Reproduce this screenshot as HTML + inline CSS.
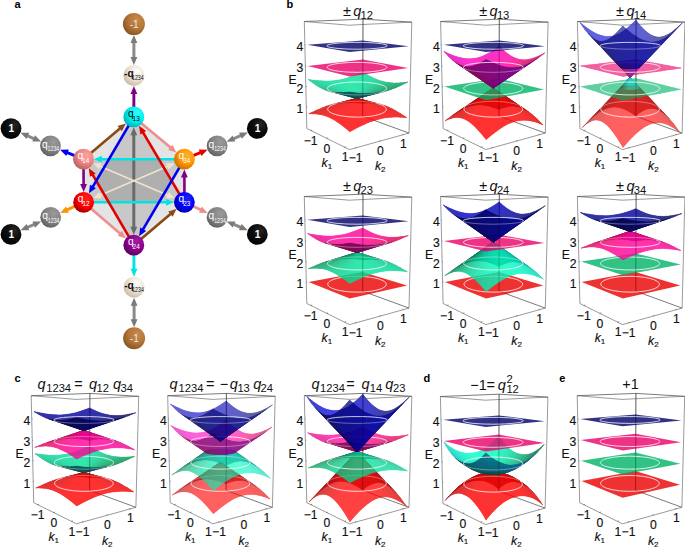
<!DOCTYPE html><html><head><meta charset="utf-8"><style>
html,body{margin:0;padding:0;background:#fff;}
svg{display:block;}
text{font-family:"Liberation Sans",sans-serif;}
.t{font-size:12.2px;fill:#111;stroke:#111;stroke-width:.15;}
.i{font-style:italic;}
.sb{font-size:8px;}
.tt{font-size:14.5px;fill:#111;}
.ts{font-size:11.2px;fill:#111;}
.pl{font-size:11px;font-weight:bold;fill:#000;}
.bl{font-size:10.2px;}
.bb{font-weight:bold;}
.bs{font-size:6.4px;}
.c{fill:none;stroke:#fff;stroke-width:.8;}
.bx{fill:none;stroke:#555;stroke-width:.6;}
.bk{fill:none;stroke:#222;stroke-width:.6;}
.vl{fill:none;stroke:#000;stroke-width:.6;stroke-opacity:.3;}
</style></head><body><svg width="685" height="547" viewBox="0 0 685 547">
<defs><radialGradient id="gBr" cx="0.62" cy="0.36" r="0.78" fx="0.66" fy="0.3"><stop offset="0" stop-color="#c88a4c"/><stop offset="0.5" stop-color="#b47638"/><stop offset="1" stop-color="#7a4a1c"/></radialGradient><radialGradient id="gBe" cx="0.62" cy="0.36" r="0.78" fx="0.66" fy="0.3"><stop offset="0" stop-color="#ffffff"/><stop offset="0.5" stop-color="#ebe3d6"/><stop offset="1" stop-color="#bfae94"/></radialGradient><radialGradient id="gCy" cx="0.62" cy="0.36" r="0.78" fx="0.66" fy="0.3"><stop offset="0" stop-color="#30ffff"/><stop offset="0.5" stop-color="#00eeee"/><stop offset="1" stop-color="#00a0a8"/></radialGradient><radialGradient id="gSa" cx="0.62" cy="0.36" r="0.78" fx="0.66" fy="0.3"><stop offset="0" stop-color="#ffa0a0"/><stop offset="0.5" stop-color="#ee8484"/><stop offset="1" stop-color="#a85252"/></radialGradient><radialGradient id="gOr" cx="0.62" cy="0.36" r="0.78" fx="0.66" fy="0.3"><stop offset="0" stop-color="#ffb030"/><stop offset="0.5" stop-color="#ff9600"/><stop offset="1" stop-color="#b86000"/></radialGradient><radialGradient id="gRe" cx="0.62" cy="0.36" r="0.78" fx="0.66" fy="0.3"><stop offset="0" stop-color="#ff2020"/><stop offset="0.5" stop-color="#ff0000"/><stop offset="1" stop-color="#8a0000"/></radialGradient><radialGradient id="gBl" cx="0.62" cy="0.36" r="0.78" fx="0.66" fy="0.3"><stop offset="0" stop-color="#2020ff"/><stop offset="0.5" stop-color="#0000ff"/><stop offset="1" stop-color="#00008a"/></radialGradient><radialGradient id="gPu" cx="0.62" cy="0.36" r="0.78" fx="0.66" fy="0.3"><stop offset="0" stop-color="#a020a0"/><stop offset="0.5" stop-color="#8c008c"/><stop offset="1" stop-color="#4e004e"/></radialGradient><radialGradient id="gGr" cx="0.62" cy="0.36" r="0.78" fx="0.66" fy="0.3"><stop offset="0" stop-color="#9a9a9a"/><stop offset="0.5" stop-color="#848484"/><stop offset="1" stop-color="#555555"/></radialGradient><radialGradient id="gBk" cx="0.62" cy="0.36" r="0.78" fx="0.66" fy="0.3"><stop offset="0" stop-color="#262626"/><stop offset="0.5" stop-color="#0c0c0c"/><stop offset="1" stop-color="#000000"/></radialGradient><linearGradient id="gg" x1="0" y1="0" x2="1" y2="1"><stop offset="0" stop-color="#aaa"/><stop offset="1" stop-color="#666"/></linearGradient></defs>
<rect width="685" height="547" fill="#fff"/>
<path d="M133.8 116.9L184.4 159.2L184.4 202.3L133.8 245.2L83.6 202.3L83.5 159.2Z" fill="#e4e4e4"/>
<path d="M133.8 116.9L83.6 202.3L184.4 202.3Z" fill="#000" fill-opacity=".12"/>
<path d="M133.8 245.2L83.5 159.2L184.4 159.2Z" fill="#000" fill-opacity=".12"/>
<path d="M133.8 134.3L133.8 227.8" stroke="#6a6a6a" stroke-width="3.0"/><path d="M133.8 234.8L130.4 226.8L137.2 226.8Z" fill="#6a6a6a"/><path d="M133.8 127.3L137.2 135.3L130.4 135.3Z" fill="#6a6a6a"/>
<path d="M99.5 166L168.4 195.5" stroke="#eee3cc" stroke-width="1.8"/><path d="M174.8 198.2L166.1 198.2L168.8 191.9Z" fill="#eee3cc"/><path d="M93.1 163.3L101.8 163.3L99.1 169.6Z" fill="#eee3cc"/>
<path d="M168.4 166L99.6 195.5" stroke="#eee3cc" stroke-width="1.8"/><path d="M93.2 198.2L99.2 191.9L101.9 198.2Z" fill="#eee3cc"/><path d="M174.8 163.3L168.8 169.6L166.1 163.3Z" fill="#eee3cc"/>
<path d="M184.4 159.2L100.9 159.2" stroke="#00e4e4" stroke-width="2.6"/><path d="M93.9 159.2L101.9 155.8L101.9 162.6Z" fill="#00e4e4"/>
<path d="M83.6 202.3L167 202.3" stroke="#00e4e4" stroke-width="2.6"/><path d="M174 202.3L166 205.7L166 198.9Z" fill="#00e4e4"/>
<path d="M133.8 245.2L92.3 174.2" stroke="#e00000" stroke-width="2.6"/><path d="M88.8 168.2L95.7 173.4L89.9 176.8Z" fill="#e00000"/>
<path d="M184.4 202.3L142.7 131.9" stroke="#e00000" stroke-width="2.6"/><path d="M139.1 125.8L146.1 131L140.3 134.5Z" fill="#e00000"/>
<path d="M133.8 116.9L92.4 187.3" stroke="#0000f0" stroke-width="2.6"/><path d="M88.9 193.3L90 184.7L95.9 188.2Z" fill="#0000f0"/>
<path d="M184.4 159.2L142.6 230.2" stroke="#0000f0" stroke-width="2.6"/><path d="M139.1 236.2L140.2 227.6L146.1 231.1Z" fill="#0000f0"/>
<path d="M83.5 159.2L120.5 128.1" stroke="#8b4a14" stroke-width="2.6"/><path d="M125.8 123.6L121.9 131.3L117.5 126.1Z" fill="#8b4a14"/>
<path d="M133.8 245.2L171.1 213.6" stroke="#8b4a14" stroke-width="2.6"/><path d="M176.5 209L172.6 216.8L168.2 211.6Z" fill="#8b4a14"/>
<path d="M133.8 116.9L171.1 148" stroke="#ef8e8e" stroke-width="2.6"/><path d="M176.4 152.5L168.1 150L172.5 144.8Z" fill="#ef8e8e"/>
<path d="M83.6 202.3L120.6 233.9" stroke="#ef8e8e" stroke-width="2.6"/><path d="M125.9 238.4L117.6 235.8L122 230.7Z" fill="#ef8e8e"/>
<path d="M83.5 159.2L83.6 184.9" stroke="#820082" stroke-width="2.6"/><path d="M83.6 191.9L80.2 183.9L87 183.9Z" fill="#820082"/>
<path d="M184.4 202.3L184.4 176.6" stroke="#820082" stroke-width="2.6"/><path d="M184.4 169.6L187.8 177.6L181 177.6Z" fill="#820082"/>
<path d="M133.8 116.9L133.9 93" stroke="#820082" stroke-width="2.9"/><path d="M133.9 86L137.3 94L130.5 94Z" fill="#820082"/>
<path d="M133.8 245.2L134 269.7" stroke="#00e4e4" stroke-width="2.9"/><path d="M134 276.7L130.6 268.7L137.4 268.7Z" fill="#00e4e4"/>
<path d="M83.5 159.2L66.6 152.3" stroke="#0000f0" stroke-width="2.9"/><path d="M60.1 149.7L68.8 149.6L66.3 155.9Z" fill="#0000f0"/>
<path d="M83.6 202.3L66.5 210.1" stroke="#f89800" stroke-width="2.9"/><path d="M60.2 213L66 206.6L68.9 212.8Z" fill="#f89800"/>
<path d="M184.4 159.2L201 152.4" stroke="#e00000" stroke-width="2.9"/><path d="M207.5 149.7L201.4 155.9L198.8 149.6Z" fill="#e00000"/>
<path d="M184.4 202.3L201.3 210" stroke="#ef8e8e" stroke-width="2.9"/><path d="M207.6 213L199 212.7L201.8 206.5Z" fill="#ef8e8e"/>
<path d="M133.9 59L133.9 41.1" stroke="#8a8a8a" stroke-width="3"/><path d="M133.9 35.1L137.3 43.1L130.5 43.1Z" fill="#7a7a7a"/><path d="M133.9 65L130.5 57L137.3 57Z" fill="#7a7a7a"/>
<path d="M134.1 303.7L134.1 321.2" stroke="#8a8a8a" stroke-width="3"/><path d="M134.1 327.2L130.7 319.2L137.5 319.2Z" fill="#7a7a7a"/><path d="M134.1 297.7L137.5 305.7L130.7 305.7Z" fill="#7a7a7a"/>
<path d="M35.5 139.3L26 135.1" stroke="#8a8a8a" stroke-width="3"/><path d="M20.5 132.8L29.2 132.8L26.5 139.1Z" fill="#7a7a7a"/><path d="M41 141.6L32.3 141.6L35 135.3Z" fill="#7a7a7a"/>
<path d="M35.6 223.8L26.1 227.9" stroke="#8a8a8a" stroke-width="3"/><path d="M20.6 230.3L26.6 224L29.2 230.2Z" fill="#7a7a7a"/><path d="M41.1 221.4L35.1 227.7L32.5 221.5Z" fill="#7a7a7a"/>
<path d="M232.2 139.3L242.2 134.9" stroke="#8a8a8a" stroke-width="3"/><path d="M247.8 132.5L241.8 138.8L239.1 132.6Z" fill="#7a7a7a"/><path d="M226.6 141.7L232.6 135.4L235.3 141.6Z" fill="#7a7a7a"/>
<path d="M232.2 223.7L242.2 228" stroke="#8a8a8a" stroke-width="3"/><path d="M247.7 230.3L239 230.3L241.7 224.1Z" fill="#7a7a7a"/><path d="M226.7 221.4L235.4 221.4L232.7 227.6Z" fill="#7a7a7a"/>
<circle cx="133.9" cy="24.1" r="11" fill="url(#gBr)"/>
<text x="134.2" y="27.6" fill="#f0e8dc" class="bl" text-anchor="middle">-1</text>
<circle cx="134.1" cy="338.2" r="11" fill="url(#gBr)"/>
<text x="134.4" y="341.7" fill="#f0e8dc" class="bl" text-anchor="middle">-1</text>
<circle cx="133.9" cy="75.5" r="10.5" fill="url(#gBe)"/>
<text x="124" y="76.9" fill="#111" class="bl bb">-q</text>
<text transform="translate(132 80.1) scale(.82 1)" fill="#111" class="bs">1234</text>
<circle cx="134.1" cy="287.2" r="10.5" fill="url(#gBe)"/>
<text x="124.2" y="288.6" fill="#111" class="bl bb">-q</text>
<text transform="translate(132.2 291.8) scale(.82 1)" fill="#111" class="bs">1234</text>
<circle cx="133.8" cy="116.9" r="10.4" fill="url(#gCy)"/>
<text x="127.9" y="117" fill="#000" class="bl">q</text>
<text x="132.6" y="120.9" fill="#000" class="bs">13</text>
<circle cx="83.5" cy="159.2" r="10.4" fill="url(#gSa)"/>
<text x="77.6" y="159.3" fill="#fff" class="bl">q</text>
<text x="82.3" y="163.2" fill="#fff" class="bs">14</text>
<circle cx="184.4" cy="159.2" r="10.4" fill="url(#gOr)"/>
<text x="178.5" y="159.3" fill="#fff" class="bl">q</text>
<text x="183.2" y="163.2" fill="#fff" class="bs">34</text>
<circle cx="83.6" cy="202.3" r="10.4" fill="url(#gRe)"/>
<text x="77.7" y="202.4" fill="#fff" class="bl">q</text>
<text x="82.4" y="206.3" fill="#fff" class="bs">12</text>
<circle cx="184.4" cy="202.3" r="10.4" fill="url(#gBl)"/>
<text x="178.5" y="202.4" fill="#fff" class="bl">q</text>
<text x="183.2" y="206.3" fill="#fff" class="bs">23</text>
<circle cx="133.8" cy="245.2" r="10.4" fill="url(#gPu)"/>
<text x="127.9" y="245.3" fill="#fff" class="bl">q</text>
<text x="132.6" y="249.2" fill="#fff" class="bs">24</text>
<circle cx="50.5" cy="145.8" r="10.4" fill="url(#gGr)"/>
<text x="42" y="147.8" fill="#fff" class="bl">q</text>
<text transform="translate(47.6 151.3) scale(.82 1)" fill="#fff" class="bs">1234</text>
<circle cx="50.7" cy="217.3" r="10.4" fill="url(#gGr)"/>
<text x="42.2" y="219.3" fill="#fff" class="bl">q</text>
<text transform="translate(47.8 222.8) scale(.82 1)" fill="#fff" class="bs">1234</text>
<circle cx="217.1" cy="145.8" r="10.4" fill="url(#gGr)"/>
<text x="208.6" y="147.8" fill="#fff" class="bl">q</text>
<text transform="translate(214.2 151.3) scale(.82 1)" fill="#fff" class="bs">1234</text>
<circle cx="217.1" cy="217.3" r="10.4" fill="url(#gGr)"/>
<text x="208.6" y="219.3" fill="#fff" class="bl">q</text>
<text transform="translate(214.2 222.8) scale(.82 1)" fill="#fff" class="bs">1234</text>
<circle cx="11" cy="128.6" r="10.4" fill="url(#gBk)"/>
<text x="11.3" y="132.1" fill="#fff" class="bl bb" text-anchor="middle">1</text>
<circle cx="11" cy="234.4" r="10.4" fill="url(#gBk)"/>
<text x="11.3" y="237.9" fill="#fff" class="bl bb" text-anchor="middle">1</text>
<circle cx="257.3" cy="128.4" r="10.4" fill="url(#gBk)"/>
<text x="257.6" y="131.9" fill="#fff" class="bl bb" text-anchor="middle">1</text>
<circle cx="257.3" cy="234.4" r="10.4" fill="url(#gBk)"/>
<text x="257.6" y="237.9" fill="#fff" class="bl bb" text-anchor="middle">1</text>
<g>
<path d="M363 19.2L362.7 116.2M409 133.1L362.7 116.2M304.3 21.5L363 19.2M363 19.2L411.8 22.1" class="bk"/>
<g opacity="0.80" stroke-width=".35" stroke-linejoin="round"><path d="M333.3 104.3L333.3 104.3L336.9 103.5L336.9 103.5L340.4 103L340.4 103L344 102.6L344 102.6L347.8 102.4L347.8 102.4L352 102.4L352 102.4L356.8 102.7L356.8 102.7L362.5 103.2L362.5 103.2L362.5 103.2L362.5 103.2L367.1 103L367.1 103L371 103.1L371 103.1L374.3 103.3L374.3 103.3L377.4 103.8L377.5 103.8L380.4 104.4L380.4 104.4L380.4 104.4L357 98.4L357 98.4L357 98.4L333.3 104.3Z" fill="#660000" fill-rule="evenodd"/><path d="M357 98.4L362.5 103.2L362.5 103.2L356.8 102.7Z" fill="#660000" stroke="#660000"/><path d="M357 98.4L367.1 103L362.5 103.2Z" fill="#660000" stroke="#660000"/><path d="M357 98.4L356.8 102.7L352 102.4Z" fill="#660000" stroke="#660000"/><path d="M357 98.4L371 103.1L367.1 103Z" fill="#660000" stroke="#660000"/><path d="M357 98.4L352 102.4L347.8 102.4Z" fill="#660000" stroke="#660000"/><path d="M357 98.4L347.8 102.4L344 102.6Z" fill="#660000" stroke="#660000"/><path d="M357 98.4L374.3 103.3L371 103.1Z" fill="#660000" stroke="#660000"/><path d="M357 98.4L344 102.6L340.4 103Z" fill="#660000" stroke="#660000"/><path d="M357 98.4L377.4 103.8L374.3 103.3Z" fill="#660000" stroke="#660000"/><path d="M357 98.4L340.4 103L336.9 103.5Z" fill="#660000" stroke="#660000"/><path d="M357 98.4L336.9 103.5L333.3 104.3Z" fill="#660000" stroke="#660000"/><path d="M357 98.4L380.4 104.4L377.4 103.8Z" fill="#660000" stroke="#660000"/></g>
<g opacity="0.80" stroke-width=".35" stroke-linejoin="round"><path d="M308.8 113.8L308.8 113.8L308.8 113.8L312.9 113.8L312.9 113.8L316.4 114L316.4 114L319.5 114.4L319.5 114.4L322.4 115L322.4 115L325.1 115.8L325.1 115.8L327.7 116.8L327.7 116.8L330.5 118L330.5 118L333.3 119.6L333.3 119.6L336.5 121.5L336.5 121.5L340.1 124L340.1 124L344.4 127.2L344.4 127.2L349.8 131.7L349.8 131.7L349.8 131.7L349.9 131.7L357.2 127.8L357.2 127.8L363 125L363 125L367.9 122.8L367.9 122.8L372.2 121.2L372.2 121.2L376.2 119.9L376.2 119.9L380 118.9L380 118.9L383.7 118.1L383.7 118.1L387.5 117.6L387.5 117.6L391.5 117.2L391.5 117.2L395.9 117.1L395.9 117.1L400.9 117.2L400.9 117.2L406.9 117.7L406.9 117.7L406.9 117.7L406.9 117.7L401.1 113.9L401.1 113.9L396.5 111.2L396.5 111.2L392.7 109.1L392.7 109.1L392.7 109.1L389.3 107.5L389.3 107.5L389.3 107.5L386.2 106.2L386.2 106.2L386.2 106.2L383.3 105.2L383.3 105.2L383.3 105.2L380.4 104.4L380.4 104.4L357 98.4L357 98.4L357 98.4L357 98.4L357 98.4L357 98.4L333.3 104.3L333.3 104.3L329.6 105.3L329.6 105.3L329.6 105.3L325.5 106.6L325.5 106.6L321 108.4L321 108.4L321 108.4L315.5 110.7L315.5 110.7L315.5 110.7L308.8 113.8L308.8 113.8Z" fill="#ec0000" fill-rule="evenodd"/><path d="M357 98.4L333.3 104.3L329.6 105.3Z" fill="#c70000" stroke="#c70000"/><path d="M357 98.4L383.3 105.2L380.4 104.4Z" fill="#cf0000" stroke="#cf0000"/><path d="M357 98.4L329.6 105.3L325.5 106.6Z" fill="#cb0000" stroke="#cb0000"/><path d="M357 98.4L386.2 106.2L383.3 105.2Z" fill="#d30000" stroke="#d30000"/><path d="M357 98.4L325.5 106.6L321 108.4Z" fill="#ce0000" stroke="#ce0000"/><path d="M357 98.4L389.3 107.5L386.2 106.2Z" fill="#d70000" stroke="#d70000"/><path d="M357 98.4L321 108.4L315.5 110.7Z" fill="#d30000" stroke="#d30000"/><path d="M357 98.4L392.7 109.1L389.3 107.5Z" fill="#dc0000" stroke="#dc0000"/><path d="M357 98.4L315.5 110.7L308.8 113.8Z" fill="#d70000" stroke="#d70000"/><path d="M357 98.4L396.5 111.2L392.7 109.1Z" fill="#e10000" stroke="#e10000"/><path d="M357 98.4L308.8 113.8L308.8 113.8L312.9 113.8Z" fill="#dc0000" stroke="#dc0000"/><path d="M357 98.4L401.1 113.9L396.5 111.2Z" fill="#e60000" stroke="#e60000"/><path d="M357 98.4L312.9 113.8L316.4 114Z" fill="#e00000" stroke="#e00000"/><path d="M357 98.4L406.9 117.7L406.9 117.7L401.1 113.9Z" fill="#ea0000" stroke="#ea0000"/><path d="M357 98.4L316.4 114L319.5 114.4Z" fill="#e50000" stroke="#e50000"/><path d="M357 98.4L400.9 117.2L406.9 117.7Z" fill="#ef0000" stroke="#ef0000"/><path d="M357 98.4L319.5 114.4L322.4 115Z" fill="#ea0000" stroke="#ea0000"/><path d="M357 98.4L395.9 117.1L400.9 117.2Z" fill="#f30000" stroke="#f30000"/><path d="M357 98.4L322.4 115L325.1 115.8Z" fill="#ef0000" stroke="#ef0000"/><path d="M357 98.4L391.5 117.2L395.9 117.1Z" fill="#f80000" stroke="#f80000"/><path d="M357 98.4L325.1 115.8L327.7 116.8Z" fill="#f30000" stroke="#f30000"/><path d="M357 98.4L387.5 117.6L391.5 117.2Z" fill="#fb0000" stroke="#fb0000"/><path d="M357 98.4L327.7 116.8L330.5 118Z" fill="#f70000" stroke="#f70000"/><path d="M357 98.4L383.7 118.1L387.5 117.6Z" fill="#ff0000" stroke="#ff0000"/><path d="M357 98.4L330.5 118L333.3 119.6Z" fill="#fb0000" stroke="#fb0000"/><path d="M357 98.4L380 118.9L383.7 118.1Z" fill="#ff0000" stroke="#ff0000"/><path d="M357 98.4L376.2 119.9L380 118.9Z" fill="#ff0000" stroke="#ff0000"/><path d="M357 98.4L333.3 119.6L336.5 121.5Z" fill="#fe0000" stroke="#fe0000"/><path d="M357 98.4L372.2 121.2L376.2 119.9Z" fill="#ff0000" stroke="#ff0000"/><path d="M357 98.4L336.5 121.5L340.1 124Z" fill="#ff0000" stroke="#ff0000"/><path d="M357 98.4L367.9 122.8L372.2 121.2Z" fill="#ff0000" stroke="#ff0000"/><path d="M357 98.4L363 125L367.9 122.8Z" fill="#ff0000" stroke="#ff0000"/><path d="M357 98.4L340.1 124L344.4 127.2Z" fill="#ff0000" stroke="#ff0000"/><path d="M357 98.4L357.2 127.8L363 125Z" fill="#ff0000" stroke="#ff0000"/><path d="M357 98.4L344.4 127.2L349.8 131.7Z" fill="#ff0000" stroke="#ff0000"/><path d="M357 98.4L349.8 131.7L349.8 131.7L357.2 127.8Z" fill="#ff0000" stroke="#ff0000"/></g>
<path d="M376.5 103.4L375.1 103.1L373.7 102.8L372.2 102.5L370.6 102.3L369 102L367.3 101.9L365.6 101.7L363.9 101.6L362.1 101.5L360.4 101.4L358.6 101.3L356.8 101.3L355 101.3L353.3 101.4L351.5 101.4L349.8 101.5L348 101.7L346.4 101.8L344.7 102L343.1 102.2L341.5 102.5L340 102.7L338.6 103L337.2 103.3L335.9 103.7" class="c" stroke-opacity=".45"/>
<path d="M375.9 115.3L377.4 114.9L378.8 114.5L380.1 114.1L381.3 113.7L382.4 113.2L383.3 112.8L384.1 112.3L384.8 111.8L385.4 111.3L385.8 110.8L386.1 110.2L386.2 109.7L386.3 109.2L386.2 108.7L386 108.2L385.7 107.7L385.2 107.2L384.7 106.7L384 106.2L383.2 105.8L382.3 105.3L381.3 104.9L380.3 104.5L379.1 104.1L377.9 103.7L376.5 103.4M335.9 103.7L334.7 104L333.5 104.4L332.5 104.8L331.5 105.2L330.7 105.7L329.9 106.1L329.2 106.6L328.7 107.1L328.3 107.6L327.9 108.1L327.8 108.6L327.7 109.1L327.8 109.6L327.9 110.1L328.3 110.7L328.7 111.2L329.3 111.7L330 112.2L330.8 112.7L331.7 113.1L332.8 113.6L334 114L335.3 114.4L336.7 114.8L338.2 115.2L339.8 115.5L341.5 115.9L343.3 116.1L345.1 116.4L347 116.6L349 116.8L350.9 116.9L353 117L355 117.1L357.1 117.1L359.1 117.1L361.2 117L363.2 116.9L365.2 116.8L367.2 116.6L369.1 116.4L370.9 116.2L372.7 115.9L374.3 115.6L375.9 115.3" class="c"/>
<g opacity="0.80" stroke-width=".35" stroke-linejoin="round"><path d="M308 79.4L312.3 82.6L312.3 82.6L315.9 85.1L315.9 85.1L315.9 85.1L315.9 85.1L319.1 87L319.1 87L319.1 87L322 88.5L322 88.5L322 88.5L322 88.5L324.7 89.8L324.7 89.8L324.7 89.8L327.4 90.7L327.4 90.7L327.4 90.7L327.4 90.7L330.2 91.5L330.2 91.5L357 98.4L357 98.4L357 98.4L357 98.4L357 98.4L384.1 91.5L384.1 91.5L387.9 90.5L387.9 90.5L387.9 90.5L392 89.1L392 89.1L392 89.1L396.5 87.4L396.5 87.4L396.5 87.4L401.6 85.1L401.6 85.1L401.6 85.1L407.8 82.1L407.8 82.1L407.8 82.1L401.8 82.7L401.8 82.7L397.1 82.9L397.1 82.9L393.2 82.9L393.2 82.9L389.7 82.6L389.7 82.6L386.6 82.2L386.6 82.2L383.6 81.6L383.6 81.6L380.7 80.8L380.7 80.8L377.7 79.7L377.7 79.7L374.6 78.4L374.6 78.4L371.2 76.8L371.2 76.8L367.3 74.7L367.3 74.7L362.6 71.9L362.6 71.9L362.6 71.9L362.6 71.9L362.6 71.9L356.8 74.4L356.8 74.4L351.9 76.3L351.9 76.3L347.7 77.8L347.7 77.8L343.9 78.9L343.9 78.9L340.2 79.7L340.2 79.7L336.7 80.3L336.7 80.3L333.1 80.8L333.1 80.8L329.3 81L329.3 81L325.2 81L325.2 81L320.5 80.8L320.5 80.8L315 80.3L315 80.3L308 79.4L308 79.4L308 79.4L308 79.4Z" fill="#00bf7d" fill-rule="evenodd"/><path d="M357 98.4L362.6 71.9L362.6 71.9L356.8 74.4Z" fill="#00e199" stroke="#00e199"/><path d="M357 98.4L367.3 74.7L362.6 71.9Z" fill="#00de96" stroke="#00de96"/><path d="M357 98.4L356.8 74.4L351.9 76.3Z" fill="#00e39a" stroke="#00e39a"/><path d="M357 98.4L371.2 76.8L367.3 74.7Z" fill="#00da93" stroke="#00da93"/><path d="M357 98.4L351.9 76.3L347.7 77.8Z" fill="#00e49b" stroke="#00e49b"/><path d="M357 98.4L347.7 77.8L343.9 78.9Z" fill="#00e49b" stroke="#00e49b"/><path d="M357 98.4L374.6 78.4L371.2 76.8Z" fill="#00d58f" stroke="#00d58f"/><path d="M357 98.4L343.9 78.9L340.2 79.7Z" fill="#00e399" stroke="#00e399"/><path d="M357 98.4L377.7 79.7L374.6 78.4Z" fill="#00d08a" stroke="#00d08a"/><path d="M357 98.4L340.2 79.7L336.7 80.3Z" fill="#00e297" stroke="#00e297"/><path d="M357 98.4L336.7 80.3L333.1 80.8Z" fill="#00e099" stroke="#00e099"/><path d="M357 98.4L380.7 80.8L377.7 79.7Z" fill="#00ca84" stroke="#00ca84"/><path d="M357 98.4L333.1 80.8L329.3 81Z" fill="#00df9a" stroke="#00df9a"/><path d="M357 98.4L383.6 81.6L380.7 80.8Z" fill="#00c37e" stroke="#00c37e"/><path d="M357 98.4L329.3 81L325.2 81Z" fill="#00dc9a" stroke="#00dc9a"/><path d="M357 98.4L386.6 82.2L383.6 81.6Z" fill="#00bc78" stroke="#00bc78"/><path d="M357 98.4L325.2 81L320.5 80.8Z" fill="#00d899" stroke="#00d899"/><path d="M357 98.4L389.7 82.6L386.6 82.2Z" fill="#00b571" stroke="#00b571"/><path d="M357 98.4L320.5 80.8L315 80.3Z" fill="#00d496" stroke="#00d496"/><path d="M357 98.4L393.2 82.9L389.7 82.6Z" fill="#00ae6a" stroke="#00ae6a"/><path d="M357 98.4L315 80.3L308 79.4Z" fill="#00ce93" stroke="#00ce93"/><path d="M357 98.4L397.1 82.9L393.2 82.9Z" fill="#00a663" stroke="#00a663"/><path d="M357 98.4L308 79.4L308 79.4L312.3 82.6Z" fill="#00c88e" stroke="#00c88e"/><path d="M357 98.4L401.8 82.7L397.1 82.9Z" fill="#009f5c" stroke="#009f5c"/><path d="M357 98.4L312.3 82.6L315.9 85.1Z" fill="#00c289" stroke="#00c289"/><path d="M357 98.4L407.8 82.1L407.8 82.1L401.8 82.7Z" fill="#009855" stroke="#009855"/><path d="M357 98.4L315.9 85.1L319.1 87Z" fill="#00bb83" stroke="#00bb83"/><path d="M357 98.4L401.6 85.1L407.8 82.1Z" fill="#00914e" stroke="#00914e"/><path d="M357 98.4L319.1 87L322 88.5Z" fill="#00b37c" stroke="#00b37c"/><path d="M357 98.4L396.5 87.4L401.6 85.1Z" fill="#008b48" stroke="#008b48"/><path d="M357 98.4L322 88.5L324.7 89.8Z" fill="#00ac74" stroke="#00ac74"/><path d="M357 98.4L392 89.1L396.5 87.4Z" fill="#008646" stroke="#008646"/><path d="M357 98.4L324.7 89.8L327.4 90.7Z" fill="#00a46c" stroke="#00a46c"/><path d="M357 98.4L387.9 90.5L392 89.1Z" fill="#008245" stroke="#008245"/><path d="M357 98.4L327.4 90.7L330.2 91.5Z" fill="#009c64" stroke="#009c64"/><path d="M357 98.4L384.1 91.5L387.9 90.5Z" fill="#007f44" stroke="#007f44"/></g>
<g opacity="0.80" stroke-width=".35" stroke-linejoin="round"><path d="M330.2 91.5L330.2 91.5L357 98.4L357 98.4L357 98.4L357 98.4L357 98.4L384.1 91.5L384.1 91.5L384.1 91.5L380.3 92.4L380.3 92.4L376.5 92.9L376.5 92.9L372.5 93.3L372.5 93.3L368.1 93.5L368.1 93.5L363.1 93.4L363.1 93.4L357.2 92.9L357.2 92.9L349.8 92L349.8 92L349.8 92L349.8 92L344.2 92.5L344.2 92.5L339.9 92.6L339.9 92.6L336.2 92.5L336.2 92.5L333.1 92.1L333.1 92.1L330.2 91.5Z" fill="#003c4d" fill-rule="evenodd"/><path d="M357 98.4L330.2 91.5L333.1 92.1Z" fill="#003538" stroke="#003538"/><path d="M357 98.4L380.3 92.4L384.1 91.5Z" fill="#004463" stroke="#004463"/><path d="M357 98.4L376.5 92.9L380.3 92.4Z" fill="#004360" stroke="#004360"/><path d="M357 98.4L333.1 92.1L336.2 92.5Z" fill="#00363c" stroke="#00363c"/><path d="M357 98.4L372.5 93.3L376.5 92.9Z" fill="#00425d" stroke="#00425d"/><path d="M357 98.4L336.2 92.5L339.9 92.6Z" fill="#003840" stroke="#003840"/><path d="M357 98.4L368.1 93.5L372.5 93.3Z" fill="#004058" stroke="#004058"/><path d="M357 98.4L363.1 93.4L368.1 93.5Z" fill="#003f53" stroke="#003f53"/><path d="M357 98.4L339.9 92.6L344.2 92.5Z" fill="#003943" stroke="#003943"/><path d="M357 98.4L357.2 92.9L363.1 93.4Z" fill="#003c4d" stroke="#003c4d"/><path d="M357 98.4L344.2 92.5L349.8 92Z" fill="#003945" stroke="#003945"/><path d="M357 98.4L349.8 92L349.8 92L357.2 92.9Z" fill="#003a47" stroke="#003a47"/></g>
<path d="M376.2 93.4L377.7 93.1L379.1 92.8L380.4 92.5M335.1 92.8L336.5 93.1L338 93.4L339.6 93.7L341.4 93.9L343.1 94.1L345 94.4L346.9 94.5L348.9 94.7L350.9 94.8L353 94.9L355 94.9L357.1 94.9L359.2 94.9L361.3 94.9L363.3 94.8L365.3 94.7L367.3 94.5L369.2 94.4L371.1 94.2L372.8 93.9L374.5 93.7L376.2 93.4" class="c" stroke-opacity=".45"/>
<path d="M380.4 92.5L381.6 92.1L382.6 91.7L383.6 91.4L384.4 91L385.1 90.5L385.7 90.1L386.1 89.7L386.4 89.3L386.6 88.9L386.6 88.4L386.5 88L386.3 87.6L386 87.2L385.5 86.8L384.9 86.4L384.3 86L383.5 85.6L382.6 85.3L381.6 84.9L380.5 84.6L379.3 84.3L378.1 84L376.7 83.7L375.3 83.4L373.9 83.2L372.3 83L370.7 82.8L369.1 82.6L367.4 82.5L365.7 82.3L364 82.2L362.2 82.1L360.4 82.1L358.6 82L356.8 82L355 82L353.2 82.1L351.5 82.1L349.7 82.2L348 82.3L346.3 82.4L344.6 82.6L343 82.8L341.4 83L339.9 83.2L338.4 83.4L337 83.7L335.7 84L334.5 84.3L333.3 84.6L332.3 84.9L331.3 85.2L330.4 85.6L329.7 86L329 86.4L328.4 86.8L328 87.2L327.7 87.6L327.5 88L327.4 88.4L327.5 88.8L327.7 89.3L328 89.7L328.4 90.1L329 90.5L329.7 90.9L330.5 91.3L331.5 91.7L332.6 92.1L333.8 92.4L335.1 92.8" class="c"/>
<g opacity="0.80"><path d="M307.7 65.9L349.7 76.4L408.1 68.1L362.7 59.6Z" fill="#eb0068"/><path d="M376.4 71.1L378.4 70.8L380.2 70.5L381.8 70.1L383.3 69.7L384.4 69.3L385.4 68.9L386.1 68.5L386.6 68L386.9 67.6L386.9 67.2L386.7 66.7L386.3 66.3L385.6 65.9L384.8 65.5L383.7 65.1L382.5 64.8L381.1 64.4L379.6 64.1L377.8 63.8L376 63.5L374 63.3L372 63L369.8 62.9L367.5 62.7L365.2 62.6L362.9 62.5L360.5 62.4L358.1 62.4L355.6 62.4L353.2 62.4L350.8 62.5L348.5 62.6L346.2 62.7L344 62.9L341.8 63.1L339.8 63.3L337.8 63.5L336 63.8L334.3 64.1L332.8 64.4L331.4 64.8L330.2 65.1L329.2 65.5L328.4 65.9L327.7 66.3L327.3 66.8L327.2 67.2L327.2 67.6L327.5 68.1L328 68.5L328.7 68.9L329.7 69.3L330.9 69.7L332.3 70.1L334 70.5L335.8 70.8L337.9 71.1L340 71.4L342.4 71.6L344.9 71.9L347.5 72L350.2 72.2L352.9 72.2L355.7 72.3L358.5 72.3L361.3 72.2L364.1 72.2L366.8 72L369.4 71.9L371.8 71.6L374.2 71.4L376.4 71.1" class="c"/></g>
<g opacity="0.80"><path d="M307.3 44.8L349.7 52L408.6 46.2L362.7 40.4Z" fill="#000068"/><path d="M376.6 48.3L378.6 48.1L380.5 47.9L382.1 47.6L383.5 47.4L384.7 47.1L385.7 46.8L386.4 46.5L386.9 46.2L387.2 45.9L387.2 45.6L387 45.3L386.6 45L385.9 44.7L385.1 44.5L384 44.2L382.8 44L381.4 43.7L379.8 43.5L378.1 43.3L376.2 43.1L374.2 42.9L372.1 42.8L369.9 42.7L367.7 42.6L365.3 42.5L362.9 42.4L360.5 42.4L358.1 42.4L355.7 42.4L353.2 42.4L350.8 42.4L348.4 42.5L346.1 42.6L343.9 42.7L341.7 42.8L339.6 43L337.6 43.2L335.8 43.4L334.1 43.6L332.6 43.8L331.2 44L330 44.3L328.9 44.6L328.1 44.8L327.5 45.1L327.1 45.4L326.9 45.7L326.9 46L327.2 46.3L327.7 46.6L328.5 46.9L329.5 47.2L330.7 47.4L332.1 47.7L333.8 47.9L335.6 48.2L337.7 48.4L339.9 48.6L342.3 48.7L344.8 48.9L347.4 49L350.1 49.1L352.9 49.1L355.7 49.2L358.6 49.2L361.4 49.1L364.2 49.1L366.9 49L369.5 48.9L372 48.7L374.4 48.5L376.6 48.3" class="c"/></g>
<path d="M304.3 21.5L349.2 25.2M349.2 25.2L411.8 22.1M304.3 21.5L306.8 128.5M411.8 22.1L409 133.1M306.8 128.5L349.5 149.6M349.5 149.6L409 133.1M306.3 106.8L307.2 107.2M305.8 86.5L306.8 86.8M305.4 65.9L306.3 66.1M304.9 44.8L305.8 45M310.6 130.4L312.2 130.1M356.3 147.8L355 147.2M326.5 138.3L328.1 137.9M381 140.9L379.7 140.4M344.5 147.2L346.1 146.7M403.5 134.7L402.2 134.2" class="bx"/>
<path d="M363 19.2L362.7 116.2" class="vl"/>
<text x="303.4" y="50.8" class="t" text-anchor="end">4</text>
<text x="303.4" y="71.9" class="t" text-anchor="end">3</text>
<text x="303.4" y="92.8" class="t" text-anchor="end">2</text>
<text x="303.4" y="113.4" class="t" text-anchor="end">1</text>
<text x="288.6" y="83.9" class="t">E</text>
<text x="310.7" y="145.2" class="t" text-anchor="middle">−1</text>
<text x="326.9" y="152.7" class="t" text-anchor="middle">0</text>
<text x="345.1" y="161.4" class="t" text-anchor="middle">1</text>
<text x="355.6" y="161.8" class="t" text-anchor="middle">−1</text>
<text x="380.4" y="155.2" class="t" text-anchor="middle">0</text>
<text x="403.4" y="148.2" class="t" text-anchor="middle">1</text>
<text x="321.6" y="166.8" class="t"><tspan class="i">k</tspan><tspan class="sb" dy="2">1</tspan></text>
<text x="375" y="170.3" class="t"><tspan class="i">k</tspan><tspan class="sb" dy="2">2</tspan></text>
</g>
<g>
<path d="M499.3 19.2L499 116.2M545.3 133.1L499 116.2M440.6 21.5L499.3 19.2M499.3 19.2L548.1 22.1" class="bk"/>
<g opacity="0.80" stroke-width=".35" stroke-linejoin="round"><path d="M451.9 115.7L451.9 115.7L457.3 112.2L457.3 112.2L461.9 109.6L461.9 109.6L465.9 107.7L465.9 107.7L469.6 106.3L469.6 106.3L473.2 105.5L473.2 105.5L476.7 105L476.7 105L480.3 104.9L480.3 104.9L484.1 105.2L484.1 105.2L488.3 106L488.3 106L493.1 107.4L493.1 107.4L498.8 109.6L498.8 109.6L498.8 109.6L498.8 109.6L498.8 109.6L503.4 107.8L503.4 107.8L507.2 106.7L507.2 106.7L510.6 106.2L510.6 106.2L513.7 106.1L513.7 106.1L516.7 106.4L516.7 106.4L519.6 107.1L519.6 107.1L522.5 108.3L522.5 108.3L525.6 109.9L525.6 109.9L528.9 112.1L528.9 112.1L528.9 112.1L493.3 88L493.3 88L493.3 88L493.3 88L493.3 88L451.9 115.7Z" fill="#660000" fill-rule="evenodd"/><path d="M493.3 88L498.8 109.6L498.8 109.6L493.1 107.4Z" fill="#660000" stroke="#660000"/><path d="M493.3 88L503.4 107.8L498.8 109.6Z" fill="#660000" stroke="#660000"/><path d="M493.3 88L493.1 107.4L488.3 106Z" fill="#660000" stroke="#660000"/><path d="M493.3 88L507.2 106.7L503.4 107.8Z" fill="#660000" stroke="#660000"/><path d="M493.3 88L488.3 106L484.1 105.2Z" fill="#660000" stroke="#660000"/><path d="M493.3 88L484.1 105.2L480.3 104.9Z" fill="#660000" stroke="#660000"/><path d="M493.3 88L510.6 106.2L507.2 106.7Z" fill="#660000" stroke="#660000"/><path d="M493.3 88L480.3 104.9L476.7 105Z" fill="#660000" stroke="#660000"/><path d="M493.3 88L513.7 106.1L510.6 106.2Z" fill="#660000" stroke="#660000"/><path d="M493.3 88L476.7 105L473.2 105.5Z" fill="#660000" stroke="#660000"/><path d="M493.3 88L473.2 105.5L469.6 106.3Z" fill="#660000" stroke="#660000"/><path d="M493.3 88L516.7 106.4L513.7 106.1Z" fill="#660000" stroke="#660000"/><path d="M493.3 88L469.6 106.3L465.9 107.7Z" fill="#660000" stroke="#660000"/><path d="M493.3 88L519.6 107.1L516.7 106.4Z" fill="#660000" stroke="#660000"/><path d="M493.3 88L465.9 107.7L461.9 109.6Z" fill="#660000" stroke="#660000"/><path d="M493.3 88L522.5 108.3L519.6 107.1Z" fill="#660000" stroke="#660000"/><path d="M493.3 88L461.9 109.6L457.3 112.2Z" fill="#660000" stroke="#660000"/><path d="M493.3 88L525.6 109.9L522.5 108.3Z" fill="#660000" stroke="#660000"/><path d="M493.3 88L457.3 112.2L451.9 115.7Z" fill="#660000" stroke="#660000"/><path d="M493.3 88L528.9 112.1L525.6 109.9Z" fill="#660000" stroke="#660000"/></g>
<g opacity="0.80" stroke-width=".35" stroke-linejoin="round"><path d="M445.2 120.8L449.3 119L449.3 119L452.8 117.9L452.8 117.9L455.9 117.5L455.9 117.5L455.9 117.5L458.7 117.5L458.7 117.5L458.7 117.5L461.4 118L461.4 118L461.4 118L464.1 118.9L464.1 118.9L466.8 120.3L466.8 120.3L469.7 122.2L469.7 122.2L472.8 124.8L472.8 124.8L476.4 128.3L476.4 128.3L480.7 133L480.7 133L486.2 139.6L486.2 139.6L486.2 139.6L486.2 139.6L486.2 139.6L493.5 133.6L493.5 133.6L499.3 129.3L499.3 129.3L504.2 126.1L504.2 126.1L508.5 123.8L508.5 123.8L512.5 122.2L512.5 122.2L516.3 121.1L516.3 121.1L520 120.4L520 120.4L523.8 120.2L523.8 120.2L527.8 120.4L527.8 120.4L532.1 121.2L532.1 121.2L537.1 122.6L537.1 122.6L543 124.9L543 124.9L543 124.9L543 124.9L537.3 119.1L537.3 119.1L537.3 119.1L532.8 115.1L532.8 115.1L532.8 115.1L528.9 112.1L528.9 112.1L493.3 88L493.3 88L493.3 88L493.3 88L451.9 115.7L451.9 115.7L445.2 120.8L445.2 120.8L445.2 120.8Z" fill="#ee0000" fill-rule="evenodd"/><path d="M493.3 88L451.9 115.7L445.2 120.8Z" fill="#bd0000" stroke="#bd0000"/><path d="M493.3 88L445.2 120.8L445.2 120.8L449.3 119Z" fill="#c50000" stroke="#c50000"/><path d="M493.3 88L532.8 115.1L528.9 112.1Z" fill="#ce0000" stroke="#ce0000"/><path d="M493.3 88L537.3 119.1L532.8 115.1Z" fill="#d60000" stroke="#d60000"/><path d="M493.3 88L449.3 119L452.8 117.9Z" fill="#cd0000" stroke="#cd0000"/><path d="M493.3 88L543 124.9L543 124.9L537.3 119.1Z" fill="#de0000" stroke="#de0000"/><path d="M493.3 88L452.8 117.9L455.9 117.5Z" fill="#d50000" stroke="#d50000"/><path d="M493.3 88L537.1 122.6L543 124.9Z" fill="#e60000" stroke="#e60000"/><path d="M493.3 88L455.9 117.5L458.7 117.5Z" fill="#de0000" stroke="#de0000"/><path d="M493.3 88L532.1 121.2L537.1 122.6Z" fill="#ee0000" stroke="#ee0000"/><path d="M493.3 88L458.7 117.5L461.4 118Z" fill="#e60000" stroke="#e60000"/><path d="M493.3 88L527.8 120.4L532.1 121.2Z" fill="#f50000" stroke="#f50000"/><path d="M493.3 88L461.4 118L464.1 118.9Z" fill="#ed0000" stroke="#ed0000"/><path d="M493.3 88L523.8 120.2L527.8 120.4Z" fill="#fc0000" stroke="#fc0000"/><path d="M493.3 88L464.1 118.9L466.8 120.3Z" fill="#f50000" stroke="#f50000"/><path d="M493.3 88L520 120.4L523.8 120.2Z" fill="#ff0000" stroke="#ff0000"/><path d="M493.3 88L466.8 120.3L469.7 122.2Z" fill="#fb0000" stroke="#fb0000"/><path d="M493.3 88L516.3 121.1L520 120.4Z" fill="#ff0000" stroke="#ff0000"/><path d="M493.3 88L512.5 122.2L516.3 121.1Z" fill="#ff0000" stroke="#ff0000"/><path d="M493.3 88L469.7 122.2L472.8 124.8Z" fill="#ff0000" stroke="#ff0000"/><path d="M493.3 88L508.5 123.8L512.5 122.2Z" fill="#ff0000" stroke="#ff0000"/><path d="M493.3 88L472.8 124.8L476.4 128.3Z" fill="#ff0000" stroke="#ff0000"/><path d="M493.3 88L504.2 126.1L508.5 123.8Z" fill="#ff0000" stroke="#ff0000"/><path d="M493.3 88L499.3 129.3L504.2 126.1Z" fill="#ff0000" stroke="#ff0000"/><path d="M493.3 88L476.4 128.3L480.7 133Z" fill="#ff0000" stroke="#ff0000"/><path d="M493.3 88L493.5 133.6L499.3 129.3Z" fill="#ff0000" stroke="#ff0000"/><path d="M493.3 88L480.7 133L486.2 139.6Z" fill="#ff0000" stroke="#ff0000"/><path d="M493.3 88L486.2 139.6L486.2 139.6L493.5 133.6Z" fill="#ff0000" stroke="#ff0000"/></g>
<path d="M520.3 106.2L519.5 105.8L518.6 105.3L517.6 104.9L516.6 104.5L515.4 104.1L514.2 103.7L512.8 103.4L511.4 103.1L510 102.8L508.5 102.5L506.9 102.3L505.3 102L503.6 101.9L501.9 101.7L500.2 101.6L498.4 101.5L496.7 101.4L494.9 101.3L493.1 101.3L491.3 101.3L489.6 101.4L487.8 101.4L486.1 101.5L484.3 101.7L482.7 101.8L481 102L479.4 102.2L477.8 102.5L476.3 102.7L474.9 103L473.5 103.3L472.2 103.7L471 104L469.8 104.4L468.8 104.8L467.8 105.2L467 105.7L466.2 106.1L465.5 106.6" class="c" stroke-opacity=".45"/>
<path d="M512.2 115.3L513.7 114.9L515.1 114.5L516.4 114.1L517.6 113.7L518.7 113.2L519.6 112.8L520.4 112.3L521.1 111.8L521.7 111.3L522.1 110.8L522.4 110.2L522.5 109.7L522.6 109.2L522.5 108.7L522.3 108.2L522 107.7L521.5 107.2L521 106.7L520.3 106.2M465.5 106.6L465 107.1L464.6 107.6L464.2 108.1L464.1 108.6L464 109.1L464.1 109.6L464.2 110.1L464.6 110.7L465 111.2L465.6 111.7L466.3 112.2L467.1 112.7L468 113.1L469.1 113.6L470.3 114L471.6 114.4L473 114.8L474.5 115.2L476.1 115.5L477.8 115.9L479.6 116.1L481.4 116.4L483.3 116.6L485.3 116.8L487.2 116.9L489.3 117L491.3 117.1L493.4 117.1L495.4 117.1L497.5 117L499.5 116.9L501.5 116.8L503.5 116.6L505.4 116.4L507.2 116.2L509 115.9L510.6 115.6L512.2 115.3" class="c"/>
<g opacity="0.80"><path d="M444.5 86.6L486.1 100.3L543.9 89.5L498.9 78.4Z" fill="#00b368"/><path d="M512.5 93.4L514.5 93L516.3 92.6L517.9 92.1L519.3 91.6L520.4 91.1L521.4 90.5L522.1 90L522.6 89.4L522.9 88.9L522.9 88.3L522.7 87.7L522.3 87.2L521.6 86.7L520.8 86.1L519.8 85.6L518.6 85.1L517.2 84.7L515.6 84.3L513.9 83.9L512.1 83.5L510.2 83.2L508.1 82.9L506 82.7L503.7 82.5L501.4 82.3L499.1 82.2L496.7 82.1L494.3 82L491.9 82L489.5 82.1L487.2 82.2L484.8 82.3L482.6 82.4L480.4 82.7L478.2 82.9L476.2 83.2L474.3 83.5L472.5 83.9L470.8 84.3L469.3 84.7L467.9 85.1L466.7 85.6L465.7 86.1L464.9 86.6L464.3 87.2L463.9 87.7L463.7 88.3L463.8 88.8L464.1 89.4L464.6 90L465.3 90.5L466.3 91.1L467.5 91.6L468.9 92.1L470.5 92.5L472.3 93L474.3 93.4L476.5 93.8L478.8 94.1L481.3 94.4L483.9 94.6L486.5 94.7L489.3 94.9L492 94.9L494.8 94.9L497.6 94.9L500.3 94.8L502.9 94.6L505.5 94.4L508 94.1L510.3 93.8L512.5 93.4" class="c"/></g>
<g opacity="0.80" stroke-width=".35" stroke-linejoin="round"><path d="M443.7 51.3L443.7 51.3L448.1 56.1L448.1 56.1L448.1 56.1L448.1 56.1L451.7 59.6L451.7 59.6L455 62.2L455 62.2L493.3 88L493.3 88L493.3 88L493.3 88L538.5 57.7L538.5 57.7L544.8 52.9L544.8 52.9L544.8 52.9L544.8 52.9L538.7 56L538.7 56L533.9 57.9L533.9 57.9L529.9 59.1L529.9 59.1L526.4 59.7L526.4 59.7L523.2 59.8L523.2 59.8L520.2 59.5L520.2 59.5L517.2 58.8L517.2 58.8L514.2 57.6L514.2 57.6L511.1 55.9L511.1 55.9L507.6 53.6L507.6 53.6L503.7 50.5L503.7 50.5L499 46.3L499 46.3L499 46.3L499 46.3L499 46.3L493.1 50.4L493.1 50.4L488.2 53.3L488.2 53.3L483.9 55.5L483.9 55.5L480.1 57L480.1 57L476.4 58L476.4 58L472.8 58.6L472.8 58.6L469.2 58.8L469.2 58.8L465.3 58.6L465.3 58.6L461.2 57.8L461.2 57.8L456.4 56.6L456.4 56.6L450.8 54.5L450.8 54.5L443.7 51.3L443.7 51.3Z" fill="#ee009d" fill-rule="evenodd"/><path d="M493.3 88L499 46.3L499 46.3L493.1 50.4Z" fill="#ff00b7" stroke="#ff00b7"/><path d="M493.3 88L503.7 50.5L499 46.3Z" fill="#ff00b3" stroke="#ff00b3"/><path d="M493.3 88L493.1 50.4L488.2 53.3Z" fill="#ff00ba" stroke="#ff00ba"/><path d="M493.3 88L507.6 53.6L503.7 50.5Z" fill="#ff00ad" stroke="#ff00ad"/><path d="M493.3 88L488.2 53.3L483.9 55.5Z" fill="#ff00bb" stroke="#ff00bb"/><path d="M493.3 88L483.9 55.5L480.1 57Z" fill="#ff00bb" stroke="#ff00bb"/><path d="M493.3 88L511.1 55.9L507.6 53.6Z" fill="#ff00a6" stroke="#ff00a6"/><path d="M493.3 88L480.1 57L476.4 58Z" fill="#ff00ba" stroke="#ff00ba"/><path d="M493.3 88L514.2 57.6L511.1 55.9Z" fill="#ff009e" stroke="#ff009e"/><path d="M493.3 88L476.4 58L472.8 58.6Z" fill="#ff00c0" stroke="#ff00c0"/><path d="M493.3 88L472.8 58.6L469.2 58.8Z" fill="#ff00c4" stroke="#ff00c4"/><path d="M493.3 88L517.2 58.8L514.2 57.6Z" fill="#fb0094" stroke="#fb0094"/><path d="M493.3 88L469.2 58.8L465.3 58.6Z" fill="#ff00c6" stroke="#ff00c6"/><path d="M493.3 88L520.2 59.5L517.2 58.8Z" fill="#f5008a" stroke="#f5008a"/><path d="M493.3 88L465.3 58.6L461.2 57.8Z" fill="#fc00c6" stroke="#fc00c6"/><path d="M493.3 88L523.2 59.8L520.2 59.5Z" fill="#ed007f" stroke="#ed007f"/><path d="M493.3 88L461.2 57.8L456.4 56.6Z" fill="#f500c4" stroke="#f500c4"/><path d="M493.3 88L526.4 59.7L523.2 59.8Z" fill="#e60073" stroke="#e60073"/><path d="M493.3 88L456.4 56.6L450.8 54.5Z" fill="#ee00c0" stroke="#ee00c0"/><path d="M493.3 88L529.9 59.1L526.4 59.7Z" fill="#de0067" stroke="#de0067"/><path d="M493.3 88L450.8 54.5L443.7 51.3Z" fill="#e600ba" stroke="#e600ba"/><path d="M493.3 88L533.9 57.9L529.9 59.1Z" fill="#d5005b" stroke="#d5005b"/><path d="M493.3 88L443.7 51.3L443.7 51.3L448.1 56.1Z" fill="#de00b2" stroke="#de00b2"/><path d="M493.3 88L538.7 56L533.9 57.9Z" fill="#cd004f" stroke="#cd004f"/><path d="M493.3 88L448.1 56.1L451.7 59.6Z" fill="#d600a9" stroke="#d600a9"/><path d="M493.3 88L451.7 59.6L455 62.2Z" fill="#ce009e" stroke="#ce009e"/><path d="M493.3 88L544.8 52.9L544.8 52.9L538.7 56Z" fill="#c50043" stroke="#c50043"/><path d="M493.3 88L538.5 57.7L544.8 52.9Z" fill="#bd003f" stroke="#bd003f"/></g>
<g opacity="0.80" stroke-width=".35" stroke-linejoin="round"><path d="M455 62.2L455 62.2L493.3 88L493.3 88L493.3 88L493.3 88L493.3 88L538.5 57.7L538.5 57.7L538.5 57.7L533.3 61.1L533.3 61.1L528.7 63.6L528.7 63.6L524.6 65.4L524.6 65.4L520.7 66.7L520.7 66.7L516.9 67.4L516.9 67.4L513 67.7L513 67.7L509 67.5L509 67.5L504.6 66.8L504.6 66.8L499.5 65.4L499.5 65.4L493.5 63.1L493.5 63.1L486 59.5L486 59.5L486 59.5L486 59.5L486 59.5L486 59.5L480.4 62.8L480.4 62.8L476 64.9L476 64.9L472.3 66.1L472.3 66.1L469.1 66.7L469.1 66.7L469.1 66.7L466.2 66.7L466.2 66.7L466.2 66.7L463.4 66.3L463.4 66.3L463.4 66.3L460.7 65.4L460.7 65.4L457.9 64.1L457.9 64.1L455 62.2Z" fill="#660069" fill-rule="evenodd"/><path d="M493.3 88L455 62.2L457.9 64.1Z" fill="#660033" stroke="#660033"/><path d="M493.3 88L533.3 61.1L538.5 57.7Z" fill="#66008d" stroke="#66008d"/><path d="M493.3 88L457.9 64.1L460.7 65.4Z" fill="#660035" stroke="#660035"/><path d="M493.3 88L528.7 63.6L533.3 61.1Z" fill="#66008f" stroke="#66008f"/><path d="M493.3 88L460.7 65.4L463.4 66.3Z" fill="#66003e" stroke="#66003e"/><path d="M493.3 88L524.6 65.4L528.7 63.6Z" fill="#660090" stroke="#660090"/><path d="M493.3 88L463.4 66.3L466.2 66.7Z" fill="#660046" stroke="#660046"/><path d="M493.3 88L520.7 66.7L524.6 65.4Z" fill="#66008f" stroke="#66008f"/><path d="M493.3 88L466.2 66.7L469.1 66.7Z" fill="#66004e" stroke="#66004e"/><path d="M493.3 88L516.9 67.4L520.7 66.7Z" fill="#66008c" stroke="#66008c"/><path d="M493.3 88L513 67.7L516.9 67.4Z" fill="#660087" stroke="#660087"/><path d="M493.3 88L469.1 66.7L472.3 66.1Z" fill="#660055" stroke="#660055"/><path d="M493.3 88L509 67.5L513 67.7Z" fill="#660081" stroke="#660081"/><path d="M493.3 88L472.3 66.1L476 64.9Z" fill="#66005c" stroke="#66005c"/><path d="M493.3 88L504.6 66.8L509 67.5Z" fill="#660079" stroke="#660079"/><path d="M493.3 88L499.5 65.4L504.6 66.8Z" fill="#660071" stroke="#660071"/><path d="M493.3 88L476 64.9L480.4 62.8Z" fill="#660061" stroke="#660061"/><path d="M493.3 88L493.5 63.1L499.5 65.4Z" fill="#660069" stroke="#660069"/><path d="M493.3 88L480.4 62.8L486 59.5Z" fill="#660065" stroke="#660065"/><path d="M493.3 88L486 59.5L486 59.5L493.5 63.1Z" fill="#660068" stroke="#660068"/></g>
<path d="M512.7 71.1L514.2 70.9L515.6 70.6L516.9 70.4L518.1 70.1L519.2 69.8L520.2 69.5L521 69.2L521.7 68.9L522.3 68.6L522.7 68.3M464.5 68.6L465 68.9L465.8 69.2L466.6 69.5L467.6 69.8L468.6 70.1L469.9 70.4L471.2 70.6L472.6 70.9L474.2 71.1L475.8 71.3L477.5 71.5L479.3 71.7L481.2 71.9L483.1 72L485.1 72.1L487.2 72.2L489.2 72.2L491.3 72.3L493.4 72.3L495.5 72.3L497.6 72.2L499.7 72.2L501.7 72.1L503.7 72L505.7 71.9L507.5 71.7L509.3 71.5L511.1 71.3L512.7 71.1" class="c" stroke-opacity=".45"/>
<path d="M522.7 68.3L523 67.9L523.2 67.6L523.2 67.3L523.1 67L522.9 66.6L522.6 66.3L522.1 66L521.5 65.7L520.8 65.4L520 65.1L519.1 64.8L518.1 64.6L517 64.3L515.9 64.1L514.6 63.9L513.2 63.6L511.8 63.4L510.3 63.3L508.8 63.1L507.2 62.9L505.5 62.8L503.8 62.7L502.1 62.6L500.4 62.5L498.6 62.5L496.8 62.4L495 62.4L493.2 62.4L491.3 62.4L489.5 62.4L487.7 62.5L486 62.5L484.2 62.6L482.5 62.7L480.8 62.8L479.2 63L477.6 63.1L476.1 63.3L474.6 63.5L473.2 63.7L471.9 63.9L470.6 64.1L469.4 64.3L468.4 64.6L467.4 64.9L466.5 65.1L465.7 65.4L465 65.7L464.5 66L464 66.3L463.7 66.7L463.5 67L463.5 67.3L463.5 67.6L463.7 68L464 68.3L464.5 68.6" class="c"/>
<g opacity="0.80"><path d="M443.6 44.8L486 52L544.9 46.2L499 40.4Z" fill="#000068"/><path d="M512.9 48.3L514.9 48.1L516.8 47.9L518.4 47.6L519.8 47.4L521 47.1L522 46.8L522.7 46.5L523.2 46.2L523.5 45.9L523.5 45.6L523.3 45.3L522.9 45L522.2 44.7L521.4 44.5L520.3 44.2L519.1 44L517.7 43.7L516.1 43.5L514.4 43.3L512.5 43.1L510.5 42.9L508.4 42.8L506.2 42.7L504 42.6L501.6 42.5L499.2 42.4L496.8 42.4L494.4 42.4L492 42.4L489.5 42.4L487.1 42.4L484.7 42.5L482.4 42.6L480.2 42.7L478 42.8L475.9 43L473.9 43.2L472.1 43.4L470.4 43.6L468.9 43.8L467.5 44L466.3 44.3L465.2 44.6L464.4 44.8L463.8 45.1L463.4 45.4L463.2 45.7L463.2 46L463.5 46.3L464 46.6L464.8 46.9L465.8 47.2L467 47.4L468.4 47.7L470.1 47.9L471.9 48.2L474 48.4L476.2 48.6L478.6 48.7L481.1 48.9L483.7 49L486.4 49.1L489.2 49.1L492 49.2L494.9 49.2L497.7 49.1L500.5 49.1L503.2 49L505.8 48.9L508.3 48.7L510.7 48.5L512.9 48.3" class="c"/></g>
<path d="M440.6 21.5L485.5 25.2M485.5 25.2L548.1 22.1M440.6 21.5L443.1 128.5M548.1 22.1L545.3 133.1M443.1 128.5L485.8 149.6M485.8 149.6L545.3 133.1M442.6 106.8L443.5 107.2M442.1 86.5L443.1 86.8M441.7 65.9L442.6 66.1M441.2 44.8L442.1 45M446.9 130.4L448.5 130.1M492.6 147.8L491.3 147.2M462.8 138.3L464.4 137.9M517.3 140.9L516 140.4M480.8 147.2L482.4 146.7M539.8 134.7L538.5 134.2" class="bx"/>
<path d="M499.3 19.2L499 116.2" class="vl"/>
<text x="439.7" y="50.8" class="t" text-anchor="end">4</text>
<text x="439.7" y="71.9" class="t" text-anchor="end">3</text>
<text x="439.7" y="92.8" class="t" text-anchor="end">2</text>
<text x="439.7" y="113.4" class="t" text-anchor="end">1</text>
<text x="424.9" y="83.9" class="t">E</text>
<text x="447" y="145.2" class="t" text-anchor="middle">−1</text>
<text x="463.2" y="152.7" class="t" text-anchor="middle">0</text>
<text x="481.4" y="161.4" class="t" text-anchor="middle">1</text>
<text x="491.9" y="161.8" class="t" text-anchor="middle">−1</text>
<text x="516.7" y="155.2" class="t" text-anchor="middle">0</text>
<text x="539.7" y="148.2" class="t" text-anchor="middle">1</text>
<text x="457.9" y="166.8" class="t"><tspan class="i">k</tspan><tspan class="sb" dy="2">1</tspan></text>
<text x="511.3" y="170.3" class="t"><tspan class="i">k</tspan><tspan class="sb" dy="2">2</tspan></text>
</g>
<g>
<path d="M636.1 19.2L635.8 116.2M682.1 133.1L635.8 116.2M577.4 21.5L636.1 19.2M636.1 19.2L684.9 22.1" class="bk"/>
<g opacity="0.62" stroke-width=".35" stroke-linejoin="round"><path d="M582.2 127.7L582.2 127.7L588.8 120.8L588.8 120.8L594.2 115.9L594.2 115.9L598.7 112.5L598.7 112.5L602.8 110L602.8 110L606.5 108.4L606.5 108.4L610 107.4L610 107.4L610 107.4L613.5 107L613.5 107L613.5 107L617.1 107.2L617.1 107.2L617.1 107.2L620.9 108L620.9 108L625.1 109.6L625.1 109.6L629.9 112.1L629.9 112.1L635.6 115.9L635.6 115.9L635.6 115.9L635.6 115.9L635.6 115.9L640.1 112.5L640.1 112.5L644 110.3L644 110.3L644 110.3L647.4 109L647.4 109L647.4 109L650.5 108.4L650.5 108.4L650.5 108.4L653.4 108.4L653.4 108.4L653.4 108.4L656.3 109.1L656.3 109.1L656.3 109.1L659.3 110.3L659.3 110.3L659.3 110.3L662.3 112.3L662.3 112.3L665.7 115L665.7 115L669.5 118.9L669.5 118.9L669.5 118.9L639.8 87.7L639.8 87.7L639.5 87.5L639.5 87.5L639.5 87.5L639.5 87.5L639 87.2L639 87.2L639 87.2L639 87.2L638.4 87L638.4 87L637.7 86.7L637.7 86.7L637.7 86.7L637.7 86.7L636.9 86.5L636.9 86.5L636.9 86.5L635.9 86.3L635.9 86.3L634.8 86.2L634.8 86.2L633.7 86.1L633.7 86.1L632.5 86L632.5 86L631.3 85.9L630 85.9L628.8 85.9L627.5 86L627.5 86L626.3 86.1L626.3 86.1L625.2 86.2L625.2 86.2L624.2 86.3L624.2 86.3L623.2 86.5L623.2 86.5L623.2 86.5L622.4 86.7L622.4 86.7L622.4 86.7L622.4 86.7L621.6 86.9L621.6 86.9L621.1 87.2L621.1 87.2L621.1 87.2L621.1 87.2L620.6 87.5L620.6 87.5L620.6 87.5L620.6 87.5L620.6 87.5L620.6 87.5L620.4 87.7L620.4 87.7L582.2 127.7ZM631.3 85.9L631.3 85.9L631.3 85.9ZM630 85.9L630 85.9L630 85.9ZM628.8 85.9L628.8 85.9L628.8 85.9Z" fill="#680000" fill-rule="evenodd"/><path d="M631.3 85.9L635.6 115.9L635.6 115.9L629.9 112.1L630 85.9Z" fill="#690000" stroke="#690000"/><path d="M632.5 86L640.1 112.5L635.6 115.9L631.3 85.9Z" fill="#670000" stroke="#670000"/><path d="M630 85.9L629.9 112.1L625.1 109.6L628.8 85.9Z" fill="#6a0000" stroke="#6a0000"/><path d="M633.7 86.1L644 110.3L640.1 112.5L632.5 86Z" fill="#660000" stroke="#660000"/><path d="M628.8 85.9L625.1 109.6L620.9 108L627.5 86Z" fill="#6b0000" stroke="#6b0000"/><path d="M627.5 86L620.9 108L617.1 107.2L626.3 86.1Z" fill="#6c0000" stroke="#6c0000"/><path d="M634.8 86.2L647.4 109L644 110.3L633.7 86.1Z" fill="#660000" stroke="#660000"/><path d="M626.3 86.1L617.1 107.2L613.5 107L625.2 86.2Z" fill="#6c0000" stroke="#6c0000"/><path d="M635.9 86.3L650.5 108.4L647.4 109L634.8 86.2Z" fill="#660000" stroke="#660000"/><path d="M625.2 86.2L613.5 107L610 107.4L624.2 86.3Z" fill="#6b0000" stroke="#6b0000"/><path d="M624.2 86.3L610 107.4L606.5 108.4L623.2 86.5Z" fill="#6a0000" stroke="#6a0000"/><path d="M636.9 86.5L653.4 108.4L650.5 108.4L635.9 86.3Z" fill="#660000" stroke="#660000"/><path d="M623.2 86.5L606.5 108.4L602.8 110L622.4 86.7Z" fill="#690000" stroke="#690000"/><path d="M637.7 86.7L656.3 109.1L653.4 108.4L636.9 86.5Z" fill="#660000" stroke="#660000"/><path d="M622.4 86.7L602.8 110L598.7 112.5L621.6 86.9Z" fill="#680000" stroke="#680000"/><path d="M638.4 87L659.3 110.3L656.3 109.1L637.7 86.7Z" fill="#660000" stroke="#660000"/><path d="M621.6 86.9L598.7 112.5L594.2 115.9L621.1 87.2Z" fill="#660000" stroke="#660000"/><path d="M639 87.2L662.3 112.3L659.3 110.3L638.4 87Z" fill="#660000" stroke="#660000"/><path d="M621.1 87.2L594.2 115.9L588.8 120.8L620.6 87.5Z" fill="#660000" stroke="#660000"/><path d="M639.5 87.5L665.7 115L662.3 112.3L639 87.2Z" fill="#660000" stroke="#660000"/><path d="M620.6 87.5L588.8 120.8L582.2 127.7L620.4 87.7Z" fill="#660000" stroke="#660000"/><path d="M639.8 87.7L669.5 118.9L665.7 115L639.5 87.5Z" fill="#660000" stroke="#660000"/></g>
<g opacity="0.62" stroke-width=".35" stroke-linejoin="round"><path d="M582.2 127.7L582.2 127.7L586.2 124.1L586.2 124.1L589.7 121.9L589.7 121.9L589.7 121.9L592.7 120.6L592.7 120.6L592.7 120.6L595.5 120.1L595.5 120.1L595.5 120.1L598.2 120.2L598.2 120.2L598.2 120.2L600.9 121.1L600.9 121.1L600.9 121.1L603.6 122.6L603.6 122.6L603.6 122.6L606.5 124.8L606.5 124.8L609.7 128.1L609.7 128.1L613.3 132.5L613.3 132.5L617.6 138.7L617.6 138.7L623 147.5L623 147.5L623 147.5L623 147.5L623 147.5L630.2 139.3L630.2 139.3L636.1 133.6L636.1 133.6L641 129.5L641 129.5L645.3 126.5L645.3 126.5L649.3 124.5L649.3 124.5L649.3 124.5L653 123.2L653 123.2L653 123.2L656.8 122.7L656.8 122.7L656.8 122.7L660.5 122.8L660.5 122.8L660.5 122.8L664.5 123.6L664.5 123.6L664.5 123.6L668.8 125.2L668.8 125.2L673.8 127.9L673.8 127.9L679.6 132L679.6 132L679.6 132L679.6 132L679.6 132L674 124.3L674 124.3L674 124.3L669.5 118.9L669.5 118.9L639.8 87.7L639.8 87.7L639.5 87.5L639.5 87.5L639.5 87.5L639.5 87.5L639 87.2L639 87.2L639 87.2L638.4 87L638.4 87L638.4 87L638.4 87L637.7 86.7L637.7 86.7L637.7 86.7L637.7 86.7L636.9 86.5L636.9 86.5L636.9 86.5L635.9 86.3L635.9 86.3L634.8 86.2L634.8 86.2L633.7 86.1L633.7 86.1L632.5 86L632.5 86L631.3 85.9L630 85.9L628.8 85.9L628.8 85.9L627.5 86L627.5 86L626.3 86.1L626.3 86.1L625.2 86.2L625.2 86.2L624.2 86.3L624.2 86.3L623.2 86.5L623.2 86.5L623.2 86.5L622.4 86.7L622.4 86.7L622.4 86.7L622.4 86.7L621.6 86.9L621.6 86.9L621.1 87.2L621.1 87.2L621.1 87.2L621.1 87.2L620.6 87.5L620.6 87.5L620.6 87.5L620.6 87.5L620.6 87.5L620.4 87.7L620.4 87.7L620.4 87.7L582.2 127.7ZM631.3 85.9L631.3 85.9L631.3 85.9ZM630 85.9L630 85.9L630 85.9Z" fill="#eb0000" fill-rule="evenodd"/><path d="M620.4 87.7L582.2 127.7L582.2 127.7L586.2 124.1L620.3 88Z" fill="#b00000" stroke="#b00000"/><path d="M630.1 88L630 85.9L628.8 85.9Z" fill="#eb0000" stroke="#eb0000"/><path d="M630.1 88L631.3 85.9L630 85.9Z" fill="#eb0000" stroke="#eb0000"/><path d="M630.1 88L628.8 85.9L627.5 86Z" fill="#eb0000" stroke="#eb0000"/><path d="M630.1 88L632.5 86L631.3 85.9Z" fill="#eb0000" stroke="#eb0000"/><path d="M630.1 88L627.5 86L626.3 86.1Z" fill="#eb0000" stroke="#eb0000"/><path d="M630.1 88L633.7 86.1L632.5 86Z" fill="#eb0000" stroke="#eb0000"/><path d="M630.1 88L626.3 86.1L625.2 86.2Z" fill="#eb0000" stroke="#eb0000"/><path d="M630.1 88L634.8 86.2L633.7 86.1Z" fill="#eb0000" stroke="#eb0000"/><path d="M630.1 88L625.2 86.2L624.2 86.3Z" fill="#eb0000" stroke="#eb0000"/><path d="M630.1 88L635.9 86.3L634.8 86.2Z" fill="#eb0000" stroke="#eb0000"/><path d="M630.1 88L624.2 86.3L623.2 86.5Z" fill="#eb0000" stroke="#eb0000"/><path d="M630.1 88L636.9 86.5L635.9 86.3Z" fill="#eb0000" stroke="#eb0000"/><path d="M639.9 88L674 124.3L669.5 118.9L639.8 87.7Z" fill="#c60000" stroke="#c60000"/><path d="M630.1 88L623.2 86.5L622.4 86.7Z" fill="#eb0000" stroke="#eb0000"/><path d="M630.1 88L637.7 86.7L636.9 86.5Z" fill="#eb0000" stroke="#eb0000"/><path d="M630.1 88L622.4 86.7L621.6 86.9Z" fill="#eb0000" stroke="#eb0000"/><path d="M630.1 88L638.4 87L637.7 86.7Z" fill="#eb0000" stroke="#eb0000"/><path d="M630.1 88L621.6 86.9L621.1 87.2Z" fill="#eb0000" stroke="#eb0000"/><path d="M630.1 88L639 87.2L638.4 87Z" fill="#eb0000" stroke="#eb0000"/><path d="M630.1 88L621.1 87.2L620.6 87.5Z" fill="#eb0000" stroke="#eb0000"/><path d="M620.3 88L586.2 124.1L589.7 121.9L620.3 88.3Z" fill="#ba0000" stroke="#ba0000"/><path d="M630.1 88L639.5 87.5L639 87.2Z" fill="#eb0000" stroke="#eb0000"/><path d="M630.1 88L620.6 87.5L620.4 87.7Z" fill="#eb0000" stroke="#eb0000"/><path d="M630.1 88L639.8 87.7L639.5 87.5Z" fill="#eb0000" stroke="#eb0000"/><path d="M639.8 88.3L679.6 132L679.6 132L674 124.3L639.9 88Z" fill="#d00000" stroke="#d00000"/><path d="M630.1 88L620.4 87.7L620.3 88Z" fill="#eb0000" stroke="#eb0000"/><path d="M630.1 88L639.9 88L639.8 87.7Z" fill="#eb0000" stroke="#eb0000"/><path d="M630.1 88L620.3 88L620.3 88.3Z" fill="#eb0000" stroke="#eb0000"/><path d="M630.1 88L639.8 88.3L639.9 88Z" fill="#eb0000" stroke="#eb0000"/><path d="M630.1 88L620.3 88.3L620.5 88.6Z" fill="#eb0000" stroke="#eb0000"/><path d="M620.3 88.3L589.7 121.9L592.7 120.6L620.5 88.6Z" fill="#c50000" stroke="#c50000"/><path d="M630.1 88L639.6 88.6L639.8 88.3Z" fill="#eb0000" stroke="#eb0000"/><path d="M630.1 88L620.5 88.6L620.9 88.8Z" fill="#eb0000" stroke="#eb0000"/><path d="M630.1 88L639.2 88.8L639.6 88.6Z" fill="#eb0000" stroke="#eb0000"/><path d="M639.6 88.6L673.8 127.9L679.6 132L639.8 88.3Z" fill="#da0000" stroke="#da0000"/><path d="M630.1 88L620.9 88.8L621.5 89.1Z" fill="#eb0000" stroke="#eb0000"/><path d="M630.1 88L638.7 89.1L639.2 88.8Z" fill="#eb0000" stroke="#eb0000"/><path d="M630.1 88L621.5 89.1L622.2 89.3Z" fill="#eb0000" stroke="#eb0000"/><path d="M630.1 88L638 89.3L638.7 89.1Z" fill="#eb0000" stroke="#eb0000"/><path d="M630.1 88L622.2 89.3L623 89.5Z" fill="#eb0000" stroke="#eb0000"/><path d="M620.5 88.6L592.7 120.6L595.5 120.1L620.9 88.8Z" fill="#cf0000" stroke="#cf0000"/><path d="M630.1 88L637.2 89.5L638 89.3Z" fill="#eb0000" stroke="#eb0000"/><path d="M630.1 88L623 89.5L624 89.7Z" fill="#eb0000" stroke="#eb0000"/><path d="M630.1 88L636.2 89.7L637.2 89.5Z" fill="#eb0000" stroke="#eb0000"/><path d="M630.1 88L624 89.7L625.1 89.9Z" fill="#eb0000" stroke="#eb0000"/><path d="M630.1 88L635.1 89.9L636.2 89.7Z" fill="#eb0000" stroke="#eb0000"/><path d="M639.2 88.8L668.8 125.2L673.8 127.9L639.6 88.6Z" fill="#e40000" stroke="#e40000"/><path d="M630.1 88L625.1 89.9L626.3 90Z" fill="#eb0000" stroke="#eb0000"/><path d="M630.1 88L633.9 90L635.1 89.9Z" fill="#eb0000" stroke="#eb0000"/><path d="M630.1 88L626.3 90L627.5 90.1Z" fill="#eb0000" stroke="#eb0000"/><path d="M630.1 88L632.7 90.1L633.9 90Z" fill="#eb0000" stroke="#eb0000"/><path d="M630.1 88L627.5 90.1L628.8 90.2Z" fill="#eb0000" stroke="#eb0000"/><path d="M630.1 88L631.4 90.2L632.7 90.1Z" fill="#eb0000" stroke="#eb0000"/><path d="M630.1 88L628.8 90.2L630.1 90.2Z" fill="#eb0000" stroke="#eb0000"/><path d="M630.1 88L630.1 90.2L631.4 90.2Z" fill="#eb0000" stroke="#eb0000"/><path d="M620.9 88.8L595.5 120.1L598.2 120.2L621.5 89.1Z" fill="#d90000" stroke="#d90000"/><path d="M638.7 89.1L664.5 123.6L668.8 125.2L639.2 88.8Z" fill="#ed0000" stroke="#ed0000"/><path d="M621.5 89.1L598.2 120.2L600.9 121.1L622.2 89.3Z" fill="#e30000" stroke="#e30000"/><path d="M638 89.3L660.5 122.8L664.5 123.6L638.7 89.1Z" fill="#f50000" stroke="#f50000"/><path d="M622.2 89.3L600.9 121.1L603.6 122.6L623 89.5Z" fill="#ec0000" stroke="#ec0000"/><path d="M637.2 89.5L656.8 122.7L660.5 122.8L638 89.3Z" fill="#fc0000" stroke="#fc0000"/><path d="M623 89.5L603.6 122.6L606.5 124.8L624 89.7Z" fill="#f40000" stroke="#f40000"/><path d="M636.2 89.7L653 123.2L656.8 122.7L637.2 89.5Z" fill="#ff0000" stroke="#ff0000"/><path d="M635.1 89.9L649.3 124.5L653 123.2L636.2 89.7Z" fill="#ff0000" stroke="#ff0000"/><path d="M624 89.7L606.5 124.8L609.7 128.1L625.1 89.9Z" fill="#fb0000" stroke="#fb0000"/><path d="M633.9 90L645.3 126.5L649.3 124.5L635.1 89.9Z" fill="#ff0000" stroke="#ff0000"/><path d="M625.1 89.9L609.7 128.1L613.3 132.5L626.3 90Z" fill="#ff0000" stroke="#ff0000"/><path d="M632.7 90.1L641 129.5L645.3 126.5L633.9 90Z" fill="#ff0000" stroke="#ff0000"/><path d="M631.4 90.2L636.1 133.6L641 129.5L632.7 90.1Z" fill="#ff0000" stroke="#ff0000"/><path d="M626.3 90L613.3 132.5L617.6 138.7L627.5 90.1Z" fill="#ff0000" stroke="#ff0000"/><path d="M630.1 90.2L630.2 139.3L636.1 133.6L631.4 90.2Z" fill="#ff0000" stroke="#ff0000"/><path d="M627.5 90.1L617.6 138.7L623 147.5L628.8 90.2Z" fill="#ff0000" stroke="#ff0000"/><path d="M628.8 90.2L623 147.5L623 147.5L630.2 139.3L630.1 90.2Z" fill="#ff0000" stroke="#ff0000"/></g>
<path d="M658.3 107.2L657.8 106.7L657.1 106.2L656.3 105.8L655.4 105.3L654.4 104.9L653.4 104.5L652.2 104.1L651 103.7L649.6 103.4L648.2 103.1L646.8 102.8L645.3 102.5L643.7 102.3L642.1 102L640.4 101.9L638.7 101.7L637 101.6L635.2 101.5L633.5 101.4L631.7 101.3L629.9 101.3L628.1 101.3L626.4 101.4L624.6 101.4L622.9 101.5L621.1 101.7L619.5 101.8L617.8 102L616.2 102.2L614.6 102.5L613.1 102.7L611.7 103L610.3 103.3L609 103.7L607.8 104L606.6 104.4L605.6 104.8L604.6 105.2L603.8 105.7L603 106.1L602.3 106.6L601.8 107.1L601.4 107.6" class="c" stroke-opacity=".45"/>
<path d="M649 115.3L650.5 114.9L651.9 114.5L653.2 114.1L654.4 113.7L655.5 113.2L656.4 112.8L657.2 112.3L657.9 111.8L658.5 111.3L658.9 110.8L659.2 110.2L659.3 109.7L659.4 109.2L659.3 108.7L659.1 108.2L658.8 107.7L658.3 107.2M601.4 107.6L601 108.1L600.9 108.6L600.8 109.1L600.9 109.6L601 110.1L601.4 110.7L601.8 111.2L602.4 111.7L603.1 112.2L603.9 112.7L604.8 113.1L605.9 113.6L607.1 114L608.4 114.4L609.8 114.8L611.3 115.2L612.9 115.5L614.6 115.9L616.4 116.1L618.2 116.4L620.1 116.6L622.1 116.8L624 116.9L626.1 117L628.1 117.1L630.2 117.1L632.2 117.1L634.3 117L636.3 116.9L638.3 116.8L640.3 116.6L642.2 116.4L644 116.2L645.8 115.9L647.4 115.6L649 115.3" class="c"/>
<g opacity="0.62" stroke-width=".35" stroke-linejoin="round"><path d="M620.4 87.7L620.4 87.7L620.6 87.4L620.6 87.4L620.6 87.4L621.1 87.2L621.1 87.2L621.6 86.9L621.6 86.9L622.4 86.7L622.4 86.7L623.2 86.5L623.2 86.5L624.2 86.3L624.2 86.3L625.2 86.2L625.2 86.2L626.3 86.1L626.3 86.1L627.5 86L627.5 86L628.8 85.9L628.8 85.9L630 85.9L630 85.9L631.3 85.9L631.3 85.9L632.5 86L632.5 86L633.7 86.1L633.7 86.1L634.8 86.2L634.8 86.2L635.9 86.3L635.9 86.3L636.9 86.5L636.9 86.5L637.7 86.7L637.7 86.7L638.4 86.9L638.4 86.9L639 87.2L639 87.2L639.5 87.4L639.5 87.4L639.5 87.4L639.8 87.7L639.8 87.7L639.8 87.7L630.1 77.5L630.1 77.5L630.1 77.5L630.1 77.5L630.1 77.5L630.1 77.5L620.4 87.7Z" fill="#00527c" fill-rule="evenodd"/><path d="M630.1 77.5L630 85.9L628.8 85.9Z" fill="#005a83" stroke="#005a83"/><path d="M630.1 77.5L631.3 85.9L630 85.9Z" fill="#005580" stroke="#005580"/><path d="M630.1 77.5L628.8 85.9L627.5 86Z" fill="#005e88" stroke="#005e88"/><path d="M630.1 77.5L632.5 86L631.3 85.9Z" fill="#004f7a" stroke="#004f7a"/><path d="M630.1 77.5L627.5 86L626.3 86.1Z" fill="#006394" stroke="#006394"/><path d="M630.1 77.5L633.7 86.1L632.5 86Z" fill="#004a74" stroke="#004a74"/><path d="M630.1 77.5L626.3 86.1L625.2 86.2Z" fill="#00679d" stroke="#00679d"/><path d="M630.1 77.5L634.8 86.2L633.7 86.1Z" fill="#00486e" stroke="#00486e"/><path d="M630.1 77.5L625.2 86.2L624.2 86.3Z" fill="#0068a4" stroke="#0068a4"/><path d="M630.1 77.5L635.9 86.3L634.8 86.2Z" fill="#004566" stroke="#004566"/><path d="M630.1 77.5L624.2 86.3L623.2 86.5Z" fill="#0068a9" stroke="#0068a9"/><path d="M630.1 77.5L636.9 86.5L635.9 86.3Z" fill="#00425d" stroke="#00425d"/><path d="M630.1 77.5L623.2 86.5L622.4 86.7Z" fill="#0066ac" stroke="#0066ac"/><path d="M630.1 77.5L637.7 86.7L636.9 86.5Z" fill="#003f53" stroke="#003f53"/><path d="M630.1 77.5L622.4 86.7L621.6 86.9Z" fill="#0062ac" stroke="#0062ac"/><path d="M630.1 77.5L638.4 86.9L637.7 86.7Z" fill="#003b49" stroke="#003b49"/><path d="M630.1 77.5L621.6 86.9L621.1 87.2Z" fill="#005eaa" stroke="#005eaa"/><path d="M630.1 77.5L639 87.2L638.4 86.9Z" fill="#00373d" stroke="#00373d"/><path d="M630.1 77.5L621.1 87.2L620.6 87.4Z" fill="#005da7" stroke="#005da7"/><path d="M630.1 77.5L639.5 87.4L639 87.2Z" fill="#003333" stroke="#003333"/><path d="M630.1 77.5L620.6 87.4L620.4 87.7Z" fill="#005ba2" stroke="#005ba2"/><path d="M630.1 77.5L639.8 87.7L639.5 87.4Z" fill="#003333" stroke="#003333"/></g>
<g opacity="0.62" stroke-width=".35" stroke-linejoin="round"><path d="M581.3 86.6L581.3 86.6L581.3 86.6L585.5 88L589.1 89.2L592.2 90.2L595.1 91.1L597.8 92L600.5 92.9L603.3 93.8L606.2 94.8L609.4 95.8L613 97L617.4 98.5L622.9 100.3L622.9 100.3L622.9 100.3L622.9 100.3L622.9 100.3L630.3 98.9L636.2 97.8L641.2 96.9L645.6 96.1L649.6 95.3L653.4 94.6L653.4 94.6L657.2 93.9L661 93.2L665 92.4L669.5 91.6L674.6 90.6L680.7 89.5L680.7 89.5L680.7 89.5L680.7 89.5L680.7 89.5L674.8 88L670.1 86.9L666.2 85.9L662.8 85.1L659.6 84.3L656.7 83.6L653.8 82.8L650.8 82.1L647.6 81.3L644.2 80.5L640.3 79.5L635.7 78.4L635.7 78.4L635.7 78.4L631.5 79L631.5 79L631.5 79L631.5 79L631.5 79L631.5 79L631.5 79L631.5 79L631.5 79L631.5 79L631.5 79L630.1 77.5L630.1 77.5L630.1 77.5L628.2 79.5L628.2 79.5L628.2 79.5L628.2 79.5L628.2 79.5L628.2 79.5L628.2 79.5L628.2 79.5L625 80L620.8 80.6L617 81.2L617 81.2L613.4 81.8L609.8 82.3L606.2 82.8L602.4 83.4L598.3 84L593.7 84.7L588.2 85.5L581.3 86.6Z" fill="#00bf80" fill-rule="evenodd"/><path d="M631.3 85.9L635.7 78.4L635.7 78.4L629.9 79.3L630 85.9Z" fill="#00b368" stroke="#00b368"/><path d="M632.5 86L640.3 79.5L635.7 78.4L631.3 85.9Z" fill="#00b368" stroke="#00b368"/><path d="M630 85.9L629.9 79.3L625 80L628.8 85.9Z" fill="#00b368" stroke="#00b368"/><path d="M633.7 86.1L644.2 80.5L640.3 79.5L632.5 86Z" fill="#00b368" stroke="#00b368"/><path d="M628.8 85.9L625 80L620.8 80.6L627.5 86Z" fill="#00b368" stroke="#00b368"/><path d="M627.5 86L620.8 80.6L617 81.2L626.3 86.1Z" fill="#00b368" stroke="#00b368"/><path d="M634.8 86.2L647.6 81.3L644.2 80.5L633.7 86.1Z" fill="#00b368" stroke="#00b368"/><path d="M626.3 86.1L617 81.2L613.4 81.8L625.2 86.2Z" fill="#00b368" stroke="#00b368"/><path d="M635.9 86.3L650.8 82.1L647.6 81.3L634.8 86.2Z" fill="#00b368" stroke="#00b368"/><path d="M625.2 86.2L613.4 81.8L609.8 82.3L624.2 86.3Z" fill="#00b368" stroke="#00b368"/><path d="M624.2 86.3L609.8 82.3L606.2 82.8L623.2 86.5Z" fill="#00b368" stroke="#00b368"/><path d="M636.9 86.5L653.8 82.8L650.8 82.1L635.9 86.3Z" fill="#00b368" stroke="#00b368"/><path d="M623.2 86.5L606.2 82.8L602.4 83.4L622.4 86.7Z" fill="#00b368" stroke="#00b368"/><path d="M637.7 86.7L656.7 83.6L653.8 82.8L636.9 86.5Z" fill="#00b368" stroke="#00b368"/><path d="M622.4 86.7L602.4 83.4L598.3 84L621.6 86.9Z" fill="#00b368" stroke="#00b368"/><path d="M638.4 86.9L659.6 84.3L656.7 83.6L637.7 86.7Z" fill="#00b368" stroke="#00b368"/><path d="M621.6 86.9L598.3 84L593.7 84.7L621.1 87.2Z" fill="#00b368" stroke="#00b368"/><path d="M639 87.2L662.8 85.1L659.6 84.3L638.4 86.9Z" fill="#00b368" stroke="#00b368"/><path d="M621.1 87.2L593.7 84.7L588.2 85.5L620.6 87.4Z" fill="#00b368" stroke="#00b368"/><path d="M639.5 87.4L666.2 85.9L662.8 85.1L639 87.2Z" fill="#00b368" stroke="#00b368"/><path d="M620.6 87.4L588.2 85.5L581.3 86.6L620.4 87.7Z" fill="#00b368" stroke="#00b368"/><path d="M639.8 87.7L670.1 86.9L666.2 85.9L639.5 87.4Z" fill="#00b368" stroke="#00b368"/><path d="M620.4 87.7L581.3 86.6L581.3 86.6L585.5 88L620.3 88Z" fill="#00b368" stroke="#00b368"/><path d="M639.9 88L674.8 88L670.1 86.9L639.8 87.7Z" fill="#00b368" stroke="#00b368"/><path d="M630.1 77.5L620.4 87.7L620.3 88Z" fill="#00623b" stroke="#00623b"/><path d="M630.1 77.5L639.9 88L639.8 87.7Z" fill="#00c2ba" stroke="#00c2ba"/><path d="M630.1 77.5L620.3 88L620.3 88.3Z" fill="#006f44" stroke="#006f44"/><path d="M620.3 88L585.5 88L589.1 89.2L620.3 88.3Z" fill="#00b368" stroke="#00b368"/><path d="M630.1 77.5L639.8 88.3L639.9 88Z" fill="#00d0c6" stroke="#00d0c6"/><path d="M630.1 77.5L620.3 88.3L620.5 88.5Z" fill="#007f53" stroke="#007f53"/><path d="M630.1 77.5L639.6 88.5L639.8 88.3Z" fill="#00ddcf" stroke="#00ddcf"/><path d="M630.1 77.5L620.5 88.5L620.9 88.8Z" fill="#008f63" stroke="#008f63"/><path d="M630.1 77.5L639.2 88.8L639.6 88.5Z" fill="#00e8d7" stroke="#00e8d7"/><path d="M630.1 77.5L620.9 88.8L621.5 89.1Z" fill="#009f72" stroke="#009f72"/><path d="M639.8 88.3L680.7 89.5L680.7 89.5L674.8 88L639.9 88Z" fill="#00b368" stroke="#00b368"/><path d="M630.1 77.5L638.7 89.1L639.2 88.8Z" fill="#00f2dc" stroke="#00f2dc"/><path d="M630.1 77.5L621.5 89.1L622.2 89.3Z" fill="#00ae80" stroke="#00ae80"/><path d="M620.3 88.3L589.1 89.2L592.2 90.2L620.5 88.5Z" fill="#00b368" stroke="#00b368"/><path d="M630.1 77.5L638 89.3L638.7 89.1Z" fill="#00fade" stroke="#00fade"/><path d="M630.1 77.5L622.2 89.3L623 89.5Z" fill="#00bd8e" stroke="#00bd8e"/><path d="M630.1 77.5L637.2 89.5L638 89.3Z" fill="#00ffde" stroke="#00ffde"/><path d="M630.1 77.5L623 89.5L624 89.7Z" fill="#00cb9b" stroke="#00cb9b"/><path d="M630.1 77.5L636.2 89.7L637.2 89.5Z" fill="#00ffdc" stroke="#00ffdc"/><path d="M639.6 88.5L674.6 90.6L680.7 89.5L639.8 88.3Z" fill="#00b368" stroke="#00b368"/><path d="M630.1 77.5L624 89.7L625.1 89.9Z" fill="#00d8a7" stroke="#00d8a7"/><path d="M630.1 77.5L635.1 89.9L636.2 89.7Z" fill="#00ffd7" stroke="#00ffd7"/><path d="M630.1 77.5L625.1 89.9L626.3 90Z" fill="#00e4b2" stroke="#00e4b2"/><path d="M630.1 77.5L633.9 90L635.1 89.9Z" fill="#00ffd0" stroke="#00ffd0"/><path d="M630.1 77.5L626.3 90L627.5 90.1Z" fill="#00eebb" stroke="#00eebb"/><path d="M630.1 77.5L632.7 90.1L633.9 90Z" fill="#00ffcb" stroke="#00ffcb"/><path d="M630.1 77.5L627.5 90.1L628.8 90.1Z" fill="#00f7c2" stroke="#00f7c2"/><path d="M630.1 77.5L631.4 90.1L632.7 90.1Z" fill="#00ffcc" stroke="#00ffcc"/><path d="M620.5 88.5L592.2 90.2L595.1 91.1L620.9 88.8Z" fill="#00b368" stroke="#00b368"/><path d="M630.1 77.5L628.8 90.1L630.1 90.2Z" fill="#00fdc7" stroke="#00fdc7"/><path d="M630.1 77.5L630.1 90.2L631.4 90.1Z" fill="#00ffcb" stroke="#00ffcb"/><path d="M639.2 88.8L669.5 91.6L674.6 90.6L639.6 88.5Z" fill="#00b368" stroke="#00b368"/><path d="M620.9 88.8L595.1 91.1L597.8 92L621.5 89.1Z" fill="#00b368" stroke="#00b368"/><path d="M638.7 89.1L665 92.4L669.5 91.6L639.2 88.8Z" fill="#00b368" stroke="#00b368"/><path d="M621.5 89.1L597.8 92L600.5 92.9L622.2 89.3Z" fill="#00b368" stroke="#00b368"/><path d="M638 89.3L661 93.2L665 92.4L638.7 89.1Z" fill="#00b368" stroke="#00b368"/><path d="M622.2 89.3L600.5 92.9L603.3 93.8L623 89.5Z" fill="#00b368" stroke="#00b368"/><path d="M637.2 89.5L657.2 93.9L661 93.2L638 89.3Z" fill="#00b368" stroke="#00b368"/><path d="M623 89.5L603.3 93.8L606.2 94.8L624 89.7Z" fill="#00b368" stroke="#00b368"/><path d="M636.2 89.7L653.4 94.6L657.2 93.9L637.2 89.5Z" fill="#00b368" stroke="#00b368"/><path d="M635.1 89.9L649.6 95.3L653.4 94.6L636.2 89.7Z" fill="#00b368" stroke="#00b368"/><path d="M624 89.7L606.2 94.8L609.4 95.8L625.1 89.9Z" fill="#00b368" stroke="#00b368"/><path d="M633.9 90L645.6 96.1L649.6 95.3L635.1 89.9Z" fill="#00b368" stroke="#00b368"/><path d="M625.1 89.9L609.4 95.8L613 97L626.3 90Z" fill="#00b368" stroke="#00b368"/><path d="M632.7 90.1L641.2 96.9L645.6 96.1L633.9 90Z" fill="#00b368" stroke="#00b368"/><path d="M631.4 90.1L636.2 97.8L641.2 96.9L632.7 90.1Z" fill="#00b368" stroke="#00b368"/><path d="M626.3 90L613 97L617.4 98.5L627.5 90.1Z" fill="#00b368" stroke="#00b368"/><path d="M630.1 90.2L630.3 98.9L636.2 97.8L631.4 90.1Z" fill="#00b368" stroke="#00b368"/><path d="M627.5 90.1L617.4 98.5L622.9 100.3L628.8 90.1Z" fill="#00b368" stroke="#00b368"/><path d="M628.8 90.1L622.9 100.3L622.9 100.3L630.3 98.9L630.1 90.2Z" fill="#00b368" stroke="#00b368"/></g>
<path d="M649.3 93.4L650.8 93.1L652.2 92.8L653.5 92.5L654.7 92.1L655.7 91.7L656.7 91.4L657.5 91L658.2 90.5L658.8 90.1L659.2 89.7L659.5 89.3L659.7 88.9L659.7 88.4L659.6 88L659.4 87.6L659.1 87.2L658.6 86.8L658 86.4L657.4 86L656.6 85.6L655.7 85.3L654.7 84.9L653.6 84.6L652.4 84.3L651.2 84L649.8 83.7L648.4 83.4L647 83.2L645.4 83L643.8 82.8L642.2 82.6L640.5 82.5L638.8 82.3L637.1 82.2L635.3 82.1L633.5 82.1L631.7 82L629.9 82L628.1 82L626.3 82.1L624.6 82.1L622.8 82.2L621.1 82.3L619.4 82.4L617.7 82.6L616.1 82.8L614.5 83L613 83.2L611.5 83.4L610.1 83.7L608.8 84L607.6 84.3L606.4 84.6L605.4 84.9L604.4 85.2L603.5 85.6L602.8 86L602.1 86.4L601.5 86.8L601.1 87.2L600.8 87.6L600.6 88L600.5 88.4L600.6 88.8L600.8 89.3L601.1 89.7L601.5 90.1L602.1 90.5L602.8 90.9L603.6 91.3L604.6 91.7L605.7 92.1L606.9 92.4L608.2 92.8L609.6 93.1L611.1 93.4L612.7 93.7L614.5 93.9L616.2 94.1L618.1 94.4L620 94.5L622 94.7L624 94.8L626.1 94.9L628.1 94.9L630.2 94.9L632.3 94.9L634.4 94.9L636.4 94.8L638.4 94.7L640.4 94.5L642.3 94.4L644.2 94.2L645.9 93.9L647.6 93.7L649.3 93.4" class="c"/>
<g opacity="0.62" stroke-width=".35" stroke-linejoin="round"><path d="M580.8 65.9L580.8 65.9L580.8 65.9L585.1 67L588.7 67.9L591.9 68.7L594.8 69.4L597.5 70.1L597.5 70.1L600.2 70.8L603 71.5L606 72.2L609.2 73L612.8 73.9L617.2 75L622.8 76.4L622.8 76.4L622.8 76.4L622.8 76.4L622.8 76.4L628.3 75.7L628.3 75.7L628.3 75.7L628.3 75.7L628.3 75.7L628.3 75.7L628.3 75.7L628.3 75.7L628.3 75.7L628.3 75.7L628.3 75.7L630.1 77.5L630.1 77.5L630.1 77.5L632.4 75.1L632.4 75.1L632.4 75.1L632.4 75.1L632.4 75.1L632.5 75.1L632.5 75.1L632.5 75.1L636.3 74.5L641.3 73.8L645.7 73.1L649.8 72.6L653.7 72L653.7 72L657.5 71.5L661.3 70.9L665.4 70.3L669.9 69.7L675.1 68.9L681.2 68.1L681.2 68.1L681.2 68.1L675.2 66.9L670.5 66.1L666.6 65.3L663.1 64.7L659.9 64.1L656.9 63.5L654 63L651 62.4L647.8 61.8L644.4 61.2L640.4 60.5L635.8 59.6L635.8 59.6L635.8 59.6L635.8 59.6L629.9 60.3L625 60.8L620.8 61.3L616.9 61.8L616.9 61.8L613.2 62.2L609.6 62.6L606 63L602.2 63.4L598.1 63.9L593.4 64.5L587.8 65.1L580.8 65.9L580.8 65.9Z" fill="#eb0080" fill-rule="evenodd"/><path d="M631.3 65.4L635.8 59.6L635.8 59.6L629.9 60.3L630 65.4Z" fill="#eb0068" stroke="#eb0068"/><path d="M632.5 65.4L640.4 60.5L635.8 59.6L631.3 65.4Z" fill="#eb0068" stroke="#eb0068"/><path d="M630 65.4L629.9 60.3L625 60.8L628.8 65.4Z" fill="#eb0068" stroke="#eb0068"/><path d="M633.8 65.5L644.4 61.2L640.4 60.5L632.5 65.4Z" fill="#eb0068" stroke="#eb0068"/><path d="M628.8 65.4L625 60.8L620.8 61.3L627.5 65.4Z" fill="#eb0068" stroke="#eb0068"/><path d="M627.5 65.4L620.8 61.3L616.9 61.8L626.3 65.5Z" fill="#eb0068" stroke="#eb0068"/><path d="M634.9 65.6L647.8 61.8L644.4 61.2L633.8 65.5Z" fill="#eb0068" stroke="#eb0068"/><path d="M626.3 65.5L616.9 61.8L613.2 62.2L625.2 65.6Z" fill="#eb0068" stroke="#eb0068"/><path d="M636 65.7L651 62.4L647.8 61.8L634.9 65.6Z" fill="#eb0068" stroke="#eb0068"/><path d="M625.2 65.6L613.2 62.2L609.6 62.6L624.1 65.7Z" fill="#eb0068" stroke="#eb0068"/><path d="M624.1 65.7L609.6 62.6L606 63L623.2 65.9Z" fill="#eb0068" stroke="#eb0068"/><path d="M636.9 65.8L654 63L651 62.4L636 65.7Z" fill="#eb0068" stroke="#eb0068"/><path d="M623.2 65.9L606 63L602.2 63.4L622.3 66Z" fill="#eb0068" stroke="#eb0068"/><path d="M637.8 66L656.9 63.5L654 63L636.9 65.8Z" fill="#eb0068" stroke="#eb0068"/><path d="M622.3 66L602.2 63.4L598.1 63.9L621.6 66.2Z" fill="#eb0068" stroke="#eb0068"/><path d="M638.5 66.2L659.9 64.1L656.9 63.5L637.8 66Z" fill="#eb0068" stroke="#eb0068"/><path d="M621.6 66.2L598.1 63.9L593.4 64.5L621 66.4Z" fill="#eb0068" stroke="#eb0068"/><path d="M639.1 66.4L663.1 64.7L659.9 64.1L638.5 66.2Z" fill="#eb0068" stroke="#eb0068"/><path d="M621 66.4L593.4 64.5L587.8 65.1L620.6 66.6Z" fill="#eb0068" stroke="#eb0068"/><path d="M630.1 77.5L630 65.4L628.8 65.4Z" fill="#ff00cb" stroke="#ff00cb"/><path d="M630.1 77.5L631.3 65.4L630 65.4Z" fill="#ff00c7" stroke="#ff00c7"/><path d="M639.6 66.6L666.6 65.3L663.1 64.7L639.1 66.4Z" fill="#eb0068" stroke="#eb0068"/><path d="M630.1 77.5L628.8 65.4L627.5 65.4Z" fill="#ff00cc" stroke="#ff00cc"/><path d="M630.1 77.5L632.5 65.4L631.3 65.4Z" fill="#ff00c2" stroke="#ff00c2"/><path d="M630.1 77.5L627.5 65.4L626.3 65.5Z" fill="#ff00cb" stroke="#ff00cb"/><path d="M630.1 77.5L633.8 65.5L632.5 65.4Z" fill="#ff00bb" stroke="#ff00bb"/><path d="M630.1 77.5L626.3 65.5L625.2 65.6Z" fill="#ff00d0" stroke="#ff00d0"/><path d="M630.1 77.5L634.9 65.6L633.8 65.5Z" fill="#ff00b2" stroke="#ff00b2"/><path d="M630.1 77.5L625.2 65.6L624.1 65.7Z" fill="#ff00d7" stroke="#ff00d7"/><path d="M630.1 77.5L636 65.7L634.9 65.6Z" fill="#fb00a7" stroke="#fb00a7"/><path d="M620.6 66.6L587.8 65.1L580.8 65.9L620.3 66.8Z" fill="#eb0068" stroke="#eb0068"/><path d="M630.1 77.5L624.1 65.7L623.2 65.9Z" fill="#ff00dc" stroke="#ff00dc"/><path d="M630.1 77.5L636.9 65.8L636 65.7Z" fill="#f4009b" stroke="#f4009b"/><path d="M630.1 77.5L623.2 65.9L622.3 66Z" fill="#fc00de" stroke="#fc00de"/><path d="M630.1 77.5L637.8 66L636.9 65.8Z" fill="#ec008e" stroke="#ec008e"/><path d="M630.1 77.5L622.3 66L621.6 66.2Z" fill="#f500de" stroke="#f500de"/><path d="M639.9 66.8L670.5 66.1L666.6 65.3L639.6 66.6Z" fill="#eb0068" stroke="#eb0068"/><path d="M630.1 77.5L638.5 66.2L637.8 66Z" fill="#e30080" stroke="#e30080"/><path d="M630.1 77.5L621.6 66.2L621 66.4Z" fill="#ed00dc" stroke="#ed00dc"/><path d="M620.3 66.8L580.8 65.9L580.8 65.9L585.1 67L620.2 67Z" fill="#eb0068" stroke="#eb0068"/><path d="M630.1 77.5L639.1 66.4L638.5 66.2Z" fill="#d90072" stroke="#d90072"/><path d="M630.1 77.5L621 66.4L620.6 66.6Z" fill="#e400d7" stroke="#e400d7"/><path d="M630.1 77.5L639.6 66.6L639.1 66.4Z" fill="#cf0063" stroke="#cf0063"/><path d="M630.1 77.5L620.6 66.6L620.3 66.8Z" fill="#da00cf" stroke="#da00cf"/><path d="M630.1 77.5L639.9 66.8L639.6 66.6Z" fill="#c50053" stroke="#c50053"/><path d="M630.1 77.5L620.3 66.8L620.2 67Z" fill="#d000c6" stroke="#d000c6"/><path d="M640 67L675.2 66.9L670.5 66.1L639.9 66.8Z" fill="#eb0068" stroke="#eb0068"/><path d="M630.1 77.5L640 67L639.9 66.8Z" fill="#ba0044" stroke="#ba0044"/><path d="M630.1 77.5L620.2 67L620.2 67.2Z" fill="#c600ba" stroke="#c600ba"/><path d="M630.1 77.5L640 67.2L640 67Z" fill="#b0003b" stroke="#b0003b"/><path d="M620.2 67L585.1 67L588.7 67.9L620.2 67.2Z" fill="#eb0068" stroke="#eb0068"/><path d="M640 67.2L681.2 68.1L681.2 68.1L675.2 66.9L640 67Z" fill="#eb0068" stroke="#eb0068"/><path d="M620.2 67.2L588.7 67.9L591.9 68.7L620.5 67.4Z" fill="#eb0068" stroke="#eb0068"/><path d="M639.7 67.4L675.1 68.9L681.2 68.1L640 67.2Z" fill="#eb0068" stroke="#eb0068"/><path d="M620.5 67.4L591.9 68.7L594.8 69.4L620.9 67.6Z" fill="#eb0068" stroke="#eb0068"/><path d="M639.3 67.6L669.9 69.7L675.1 68.9L639.7 67.4Z" fill="#eb0068" stroke="#eb0068"/><path d="M620.9 67.6L594.8 69.4L597.5 70.1L621.4 67.8Z" fill="#eb0068" stroke="#eb0068"/><path d="M638.8 67.8L665.4 70.3L669.9 69.7L639.3 67.6Z" fill="#eb0068" stroke="#eb0068"/><path d="M621.4 67.8L597.5 70.1L600.2 70.8L622.1 68Z" fill="#eb0068" stroke="#eb0068"/><path d="M638.1 68L661.3 70.9L665.4 70.3L638.8 67.8Z" fill="#eb0068" stroke="#eb0068"/><path d="M622.1 68L600.2 70.8L603 71.5L623 68.2Z" fill="#eb0068" stroke="#eb0068"/><path d="M637.2 68.2L657.5 71.5L661.3 70.9L638.1 68Z" fill="#eb0068" stroke="#eb0068"/><path d="M623 68.2L603 71.5L606 72.2L624 68.3Z" fill="#eb0068" stroke="#eb0068"/><path d="M636.3 68.3L653.7 72L657.5 71.5L637.2 68.2Z" fill="#eb0068" stroke="#eb0068"/><path d="M635.2 68.4L649.8 72.6L653.7 72L636.3 68.3Z" fill="#eb0068" stroke="#eb0068"/><path d="M624 68.3L606 72.2L609.2 73L625.1 68.4Z" fill="#eb0068" stroke="#eb0068"/><path d="M634 68.5L645.7 73.1L649.8 72.6L635.2 68.4Z" fill="#eb0068" stroke="#eb0068"/><path d="M625.1 68.4L609.2 73L612.8 73.9L626.2 68.5Z" fill="#eb0068" stroke="#eb0068"/><path d="M632.8 68.6L641.3 73.8L645.7 73.1L634 68.5Z" fill="#eb0068" stroke="#eb0068"/><path d="M631.5 68.7L636.3 74.5L641.3 73.8L632.8 68.6Z" fill="#eb0068" stroke="#eb0068"/><path d="M626.2 68.5L612.8 73.9L617.2 75L627.5 68.6Z" fill="#eb0068" stroke="#eb0068"/><path d="M630.1 68.7L630.3 75.4L636.3 74.5L631.5 68.7Z" fill="#eb0068" stroke="#eb0068"/><path d="M627.5 68.6L617.2 75L622.8 76.4L628.8 68.7Z" fill="#eb0068" stroke="#eb0068"/><path d="M628.8 68.7L622.8 76.4L622.8 76.4L630.3 75.4L630.1 68.7Z" fill="#eb0068" stroke="#eb0068"/></g>
<g opacity="0.62" stroke-width=".35" stroke-linejoin="round"><path d="M620.2 67.2L620.2 67.2L630.1 77.5L630.1 77.5L630.1 77.5L630.1 77.5L630.1 77.5L630.1 77.5L630.1 77.5L639.9 67.2L639.9 67.2L639.9 67.2L639.7 67.4L639.7 67.4L639.7 67.4L639.7 67.4L639.3 67.6L639.3 67.6L638.8 67.8L638.8 67.8L638.1 68L638.1 68L637.2 68.2L637.2 68.2L636.3 68.3L636.3 68.3L635.2 68.4L635.2 68.4L634 68.5L634 68.5L632.8 68.6L632.8 68.6L631.5 68.7L631.5 68.7L630.1 68.7L630.1 68.7L628.8 68.7L628.8 68.7L627.5 68.6L627.5 68.6L626.2 68.5L626.2 68.5L625.1 68.4L625.1 68.4L624 68.3L624 68.3L623 68.2L623 68.2L622.1 68L622.1 68L621.4 67.8L621.4 67.8L620.9 67.6L620.9 67.6L620.5 67.4L620.5 67.4L620.5 67.4L620.5 67.4L620.2 67.2Z" fill="#68007c" fill-rule="evenodd"/><path d="M630.1 77.5L620.2 67.2L620.5 67.4Z" fill="#660033" stroke="#660033"/><path d="M630.1 77.5L639.7 67.4L640 67.2Z" fill="#6600a2" stroke="#6600a2"/><path d="M630.1 77.5L620.5 67.4L620.9 67.6Z" fill="#660033" stroke="#660033"/><path d="M630.1 77.5L639.3 67.6L639.7 67.4Z" fill="#6600a7" stroke="#6600a7"/><path d="M630.1 77.5L620.9 67.6L621.4 67.8Z" fill="#66003d" stroke="#66003d"/><path d="M630.1 77.5L638.8 67.8L639.3 67.6Z" fill="#6600aa" stroke="#6600aa"/><path d="M630.1 77.5L621.4 67.8L622.1 68Z" fill="#660049" stroke="#660049"/><path d="M630.1 77.5L638.1 68L638.8 67.8Z" fill="#6800ac" stroke="#6800ac"/><path d="M630.1 77.5L622.1 68L623 68.2Z" fill="#660053" stroke="#660053"/><path d="M630.1 77.5L637.2 68.2L638.1 68Z" fill="#6900ac" stroke="#6900ac"/><path d="M630.1 77.5L623 68.2L624 68.3Z" fill="#66005d" stroke="#66005d"/><path d="M630.1 77.5L636.3 68.3L637.2 68.2Z" fill="#6a00a9" stroke="#6a00a9"/><path d="M630.1 77.5L624 68.3L625.1 68.4Z" fill="#660066" stroke="#660066"/><path d="M630.1 77.5L635.2 68.4L636.3 68.3Z" fill="#6b00a4" stroke="#6b00a4"/><path d="M630.1 77.5L625.1 68.4L626.2 68.5Z" fill="#66006e" stroke="#66006e"/><path d="M630.1 77.5L634 68.5L635.2 68.4Z" fill="#6c009d" stroke="#6c009d"/><path d="M630.1 77.5L626.2 68.5L627.5 68.6Z" fill="#660074" stroke="#660074"/><path d="M630.1 77.5L632.8 68.6L634 68.5Z" fill="#6c0094" stroke="#6c0094"/><path d="M630.1 77.5L627.5 68.6L628.8 68.7Z" fill="#67007a" stroke="#67007a"/><path d="M630.1 77.5L631.5 68.7L632.8 68.6Z" fill="#6b0088" stroke="#6b0088"/><path d="M630.1 77.5L628.8 68.7L630.1 68.7Z" fill="#690080" stroke="#690080"/><path d="M630.1 77.5L630.1 68.7L631.5 68.7Z" fill="#6a0083" stroke="#6a0083"/></g>
<path d="M649.5 71.1L651 70.9L652.4 70.6L653.7 70.4L654.9 70.1L656 69.8L657 69.5L657.8 69.2L658.5 68.9L659.1 68.6L659.5 68.3L659.8 67.9L660 67.6L660 67.3L659.9 67L659.7 66.6L659.4 66.3L658.9 66L658.3 65.7L657.6 65.4L656.8 65.1L655.9 64.8L654.9 64.6L653.8 64.3L652.7 64.1L651.4 63.9L650 63.6L648.6 63.4L647.1 63.3L645.6 63.1L644 62.9L642.3 62.8L640.6 62.7L638.9 62.6L637.2 62.5L635.4 62.5L633.6 62.4L631.8 62.4L630 62.4L628.1 62.4L626.3 62.4L624.5 62.5L622.8 62.5L621 62.6L619.3 62.7L617.6 62.8L616 63L614.4 63.1L612.9 63.3L611.4 63.5L610 63.7L608.7 63.9L607.4 64.1L606.2 64.3L605.2 64.6L604.2 64.9L603.3 65.1L602.5 65.4L601.8 65.7L601.3 66L600.8 66.3L600.5 66.7L600.3 67L600.3 67.3L600.3 67.6L600.5 68L600.8 68.3L601.3 68.6L601.8 68.9L602.6 69.2L603.4 69.5L604.4 69.8L605.4 70.1L606.7 70.4L608 70.6L609.4 70.9L611 71.1L612.6 71.3L614.3 71.5L616.1 71.7L618 71.9L619.9 72L621.9 72.1L624 72.2L626 72.2L628.1 72.3L630.2 72.3L632.3 72.3L634.4 72.2L636.5 72.2L638.5 72.1L640.5 72L642.5 71.9L644.3 71.7L646.1 71.5L647.9 71.3L649.5 71.1" class="c"/>
<g opacity="0.62" stroke-width=".35" stroke-linejoin="round"><path d="M579.9 22.4L579.9 22.4L579.9 22.4L584.3 28.8L584.3 28.8L588.1 33.4L588.1 33.4L620.2 67.2L620.2 67.2L620.2 67.2L620.5 67.4L620.5 67.4L620.5 67.4L620.5 67.4L620.5 67.4L620.9 67.6L620.9 67.6L620.9 67.6L620.9 67.6L620.9 67.6L621.4 67.8L621.4 67.8L621.4 67.8L621.4 67.8L622.1 68L622.1 68L622.1 68L622.1 68L623 68.1L623 68.1L623 68.1L624 68.3L624 68.3L625.1 68.4L625.1 68.4L626.2 68.5L627.5 68.6L628.8 68.6L630.1 68.6L631.5 68.6L632.8 68.6L634 68.5L635.2 68.4L635.2 68.4L636.3 68.3L636.3 68.3L637.2 68.1L637.2 68.1L637.2 68.1L638.1 68L638.1 68L638.1 68L638.1 68L638.8 67.8L638.8 67.8L638.8 67.8L638.8 67.8L639.3 67.6L639.3 67.6L639.3 67.6L639.3 67.6L639.3 67.6L639.7 67.4L639.7 67.4L639.7 67.4L639.7 67.4L639.7 67.4L639.7 67.4L640 67.2L640 67.2L682.3 22.9L682.3 22.9L682.3 22.9L676.1 28.6L676.1 28.6L671.2 32.4L671.2 32.4L667.1 34.8L667.1 34.8L667.1 34.8L663.6 36.3L663.6 36.3L663.6 36.3L660.3 36.9L660.3 36.9L660.3 36.9L657.3 36.9L657.3 36.9L657.3 36.9L654.3 36.3L654.3 36.3L654.3 36.3L651.3 35L651.3 35L651.3 35L648.1 32.9L648.1 32.9L644.6 30L644.6 30L640.6 25.9L640.6 25.9L635.9 20.1L635.9 20.1L635.9 20.1L635.9 20.1L635.9 20.1L635.9 20.1L629.9 25.8L629.9 25.8L625 29.8L625 29.8L620.7 32.7L620.7 32.7L616.7 34.7L616.7 34.7L613 35.9L613 35.9L613 35.9L609.4 36.4L609.4 36.4L609.4 36.4L605.7 36.4L605.7 36.4L605.7 36.4L601.9 35.6L601.9 35.6L601.9 35.6L597.6 34.2L597.6 34.2L592.8 31.7L592.8 31.7L587.1 28L587.1 28L579.9 22.4L579.9 22.4ZM626.2 68.5L626.2 68.5L626.2 68.5ZM627.5 68.6L627.5 68.6L627.5 68.6ZM628.8 68.6L628.8 68.6L628.8 68.6ZM630.1 68.6L630.1 68.6L630.1 68.6ZM631.5 68.6L631.5 68.6L631.5 68.6ZM632.8 68.6L632.8 68.6L632.8 68.6ZM634 68.5L634 68.5L634 68.5Z" fill="#000080" fill-rule="evenodd"/><path d="M631.3 65.4L635.9 20.1L635.9 20.1L629.9 25.8L630 65.4Z" fill="#0000c7" stroke="#0000c7"/><path d="M632.5 65.4L640.6 25.9L635.9 20.1L631.3 65.4Z" fill="#0000c2" stroke="#0000c2"/><path d="M630 65.4L629.9 25.8L625 29.8L628.8 65.4Z" fill="#0000cb" stroke="#0000cb"/><path d="M633.8 65.5L644.6 30L640.6 25.9L632.5 65.4Z" fill="#0000bb" stroke="#0000bb"/><path d="M628.8 65.4L625 29.8L620.7 32.7L627.5 65.4Z" fill="#0000cc" stroke="#0000cc"/><path d="M627.5 65.4L620.7 32.7L616.7 34.7L626.3 65.5Z" fill="#0000cb" stroke="#0000cb"/><path d="M634.9 65.6L648.1 32.9L644.6 30L633.8 65.5Z" fill="#0000b2" stroke="#0000b2"/><path d="M626.3 65.5L616.7 34.7L613 35.9L625.2 65.6Z" fill="#0000d0" stroke="#0000d0"/><path d="M636 65.7L651.3 35L648.1 32.9L634.9 65.6Z" fill="#0000a7" stroke="#0000a7"/><path d="M625.2 65.6L613 35.9L609.4 36.4L624.1 65.7Z" fill="#0000d7" stroke="#0000d7"/><path d="M624.1 65.7L609.4 36.4L605.7 36.4L623.2 65.8Z" fill="#0000dc" stroke="#0000dc"/><path d="M636.9 65.8L654.3 36.3L651.3 35L636 65.7Z" fill="#00009b" stroke="#00009b"/><path d="M623.2 65.8L605.7 36.4L601.9 35.6L622.3 66Z" fill="#0000de" stroke="#0000de"/><path d="M637.8 66L657.3 36.9L654.3 36.3L636.9 65.8Z" fill="#00008e" stroke="#00008e"/><path d="M622.3 66L601.9 35.6L597.6 34.2L621.6 66.2Z" fill="#0000de" stroke="#0000de"/><path d="M638.5 66.2L660.3 36.9L657.3 36.9L637.8 66Z" fill="#000080" stroke="#000080"/><path d="M621.6 66.2L597.6 34.2L592.8 31.7L621 66.3Z" fill="#0000dc" stroke="#0000dc"/><path d="M639.1 66.3L663.6 36.3L660.3 36.9L638.5 66.2Z" fill="#000072" stroke="#000072"/><path d="M630.1 67L630 65.4L628.8 65.4Z" fill="#000068" stroke="#000068"/><path d="M630.1 67L631.3 65.4L630 65.4Z" fill="#000068" stroke="#000068"/><path d="M630.1 67L628.8 65.4L627.5 65.4Z" fill="#000068" stroke="#000068"/><path d="M630.1 67L632.5 65.4L631.3 65.4Z" fill="#000068" stroke="#000068"/><path d="M630.1 67L627.5 65.4L626.3 65.5Z" fill="#000068" stroke="#000068"/><path d="M630.1 67L633.8 65.5L632.5 65.4Z" fill="#000068" stroke="#000068"/><path d="M630.1 67L626.3 65.5L625.2 65.6Z" fill="#000068" stroke="#000068"/><path d="M630.1 67L634.9 65.6L633.8 65.5Z" fill="#000068" stroke="#000068"/><path d="M621 66.3L592.8 31.7L587.1 28L620.6 66.5Z" fill="#0000d7" stroke="#0000d7"/><path d="M630.1 67L625.2 65.6L624.1 65.7Z" fill="#000068" stroke="#000068"/><path d="M630.1 67L636 65.7L634.9 65.6Z" fill="#000068" stroke="#000068"/><path d="M630.1 67L624.1 65.7L623.2 65.8Z" fill="#000068" stroke="#000068"/><path d="M630.1 67L636.9 65.8L636 65.7Z" fill="#000068" stroke="#000068"/><path d="M630.1 67L623.2 65.8L622.3 66Z" fill="#000068" stroke="#000068"/><path d="M639.6 66.5L667.1 34.8L663.6 36.3L639.1 66.3Z" fill="#000063" stroke="#000063"/><path d="M630.1 67L637.8 66L636.9 65.8Z" fill="#000068" stroke="#000068"/><path d="M630.1 67L622.3 66L621.6 66.2Z" fill="#000068" stroke="#000068"/><path d="M630.1 67L638.5 66.2L637.8 66Z" fill="#000068" stroke="#000068"/><path d="M630.1 67L621.6 66.2L621 66.3Z" fill="#000068" stroke="#000068"/><path d="M630.1 67L639.1 66.3L638.5 66.2Z" fill="#000068" stroke="#000068"/><path d="M620.6 66.5L587.1 28L579.9 22.4L620.3 66.8Z" fill="#0000cf" stroke="#0000cf"/><path d="M630.1 67L621 66.3L620.6 66.5Z" fill="#000068" stroke="#000068"/><path d="M630.1 67L639.6 66.5L639.1 66.3Z" fill="#000068" stroke="#000068"/><path d="M630.1 67L620.6 66.5L620.3 66.8Z" fill="#000068" stroke="#000068"/><path d="M639.9 66.7L671.2 32.4L667.1 34.8L639.6 66.5Z" fill="#000053" stroke="#000053"/><path d="M630.1 67L639.9 66.7L639.6 66.5Z" fill="#000068" stroke="#000068"/><path d="M630.1 67L620.3 66.8L620.2 67Z" fill="#000068" stroke="#000068"/><path d="M630.1 67L640 67L639.9 66.7Z" fill="#000068" stroke="#000068"/><path d="M630.1 67L620.2 67L620.2 67.2Z" fill="#000068" stroke="#000068"/><path d="M630.1 67L640 67.2L640 67Z" fill="#000068" stroke="#000068"/><path d="M620.3 66.8L579.9 22.4L579.9 22.4L584.3 28.8L620.2 67Z" fill="#0000c6" stroke="#0000c6"/><path d="M630.1 67L620.2 67.2L620.5 67.4Z" fill="#000068" stroke="#000068"/><path d="M630.1 67L639.7 67.4L640 67.2Z" fill="#000068" stroke="#000068"/><path d="M630.1 67L620.5 67.4L620.9 67.6Z" fill="#000068" stroke="#000068"/><path d="M640 67L676.1 28.6L671.2 32.4L639.9 66.7Z" fill="#000044" stroke="#000044"/><path d="M630.1 67L639.3 67.6L639.7 67.4Z" fill="#000068" stroke="#000068"/><path d="M630.1 67L620.9 67.6L621.4 67.8Z" fill="#000068" stroke="#000068"/><path d="M630.1 67L638.8 67.8L639.3 67.6Z" fill="#000068" stroke="#000068"/><path d="M630.1 67L621.4 67.8L622.1 68Z" fill="#000068" stroke="#000068"/><path d="M630.1 67L638.1 68L638.8 67.8Z" fill="#000068" stroke="#000068"/><path d="M630.1 67L622.1 68L623 68.1Z" fill="#000068" stroke="#000068"/><path d="M630.1 67L637.2 68.1L638.1 68Z" fill="#000068" stroke="#000068"/><path d="M620.2 67L584.3 28.8L588.1 33.4L620.2 67.2Z" fill="#0000ba" stroke="#0000ba"/><path d="M630.1 67L623 68.1L624 68.3Z" fill="#000068" stroke="#000068"/><path d="M630.1 67L636.3 68.3L637.2 68.1Z" fill="#000068" stroke="#000068"/><path d="M630.1 67L624 68.3L625.1 68.4Z" fill="#000068" stroke="#000068"/><path d="M630.1 67L635.2 68.4L636.3 68.3Z" fill="#000068" stroke="#000068"/><path d="M630.1 67L625.1 68.4L626.2 68.5Z" fill="#000068" stroke="#000068"/><path d="M630.1 67L634 68.5L635.2 68.4Z" fill="#000068" stroke="#000068"/><path d="M630.1 67L626.2 68.5L627.5 68.6Z" fill="#000068" stroke="#000068"/><path d="M630.1 67L632.8 68.6L634 68.5Z" fill="#000068" stroke="#000068"/><path d="M630.1 67L627.5 68.6L628.8 68.6Z" fill="#000068" stroke="#000068"/><path d="M630.1 67L631.5 68.6L632.8 68.6Z" fill="#000068" stroke="#000068"/><path d="M630.1 67L628.8 68.6L630.1 68.6Z" fill="#000068" stroke="#000068"/><path d="M630.1 67L630.1 68.6L631.5 68.6Z" fill="#000068" stroke="#000068"/><path d="M640 67.2L682.3 22.9L682.3 22.9L676.1 28.6L640 67Z" fill="#00003b" stroke="#00003b"/></g>
<g opacity="0.62" stroke-width=".35" stroke-linejoin="round"><path d="M588.1 33.4L588.1 33.4L620.2 67.2L620.2 67.2L620.5 67.4L620.5 67.4L620.5 67.4L620.5 67.4L620.5 67.4L620.5 67.4L620.9 67.6L620.9 67.6L620.9 67.6L620.9 67.6L621.4 67.8L621.4 67.8L621.4 67.8L621.4 67.8L622.1 68L622.1 68L622.1 68L622.1 68L623 68.1L623 68.1L624 68.3L624 68.3L625.1 68.4L625.1 68.4L626.2 68.5L627.5 68.6L628.8 68.6L630.1 68.6L631.5 68.6L632.8 68.6L634 68.5L635.2 68.4L635.2 68.4L636.3 68.3L636.3 68.3L637.2 68.1L637.2 68.1L638.1 68L638.1 68L638.1 68L638.1 68L638.8 67.8L638.8 67.8L638.8 67.8L638.8 67.8L639.3 67.6L639.3 67.6L639.3 67.6L639.3 67.6L639.3 67.6L639.7 67.4L639.7 67.4L639.7 67.4L639.7 67.4L639.7 67.4L639.7 67.4L639.7 67.4L640 67.2L640 67.2L682.3 22.9L682.3 22.9L682.3 22.9L675.9 29.5L675.9 29.5L670.6 34.2L670.6 34.2L666 37.5L666 37.5L661.8 39.8L661.8 39.8L661.8 39.8L657.9 41.2L657.9 41.2L657.9 41.2L654 41.9L654 41.9L654 41.9L650.1 41.9L650.1 41.9L650.1 41.9L646 41.1L646 41.1L646 41.1L641.5 39.4L641.5 39.4L636.4 36.7L636.4 36.7L630.4 32.4L630.4 32.4L622.7 25.9L622.7 25.9L622.7 25.9L622.7 25.9L622.7 25.9L617 32.3L617 32.3L612.6 36.4L612.6 36.4L608.9 39.1L608.9 39.1L608.9 39.1L605.6 40.6L605.6 40.6L605.6 40.6L602.7 41.3L602.7 41.3L602.7 41.3L602.7 41.3L599.9 41.3L599.9 41.3L599.9 41.3L599.9 41.3L597.1 40.5L597.1 40.5L597.1 40.5L594.3 39L594.3 39L594.3 39L591.3 36.7L591.3 36.7L588.1 33.4ZM626.2 68.5L626.2 68.5L626.2 68.5ZM627.5 68.6L627.5 68.6L627.5 68.6ZM628.8 68.6L628.8 68.6L628.8 68.6ZM630.1 68.6L630.1 68.6L630.1 68.6ZM631.5 68.6L631.5 68.6L631.5 68.6ZM632.8 68.6L632.8 68.6L632.8 68.6ZM634 68.5L634 68.5L634 68.5Z" fill="#00007c" fill-rule="evenodd"/><path d="M620.2 67.2L588.1 33.4L591.3 36.7L620.5 67.4Z" fill="#000033" stroke="#000033"/><path d="M639.7 67.4L675.9 29.5L682.3 22.9L640 67.2Z" fill="#0000a2" stroke="#0000a2"/><path d="M620.5 67.4L591.3 36.7L594.3 39L620.9 67.6Z" fill="#000033" stroke="#000033"/><path d="M639.3 67.6L670.6 34.2L675.9 29.5L639.7 67.4Z" fill="#0000a7" stroke="#0000a7"/><path d="M620.9 67.6L594.3 39L597.1 40.5L621.4 67.8Z" fill="#00003d" stroke="#00003d"/><path d="M638.8 67.8L666 37.5L670.6 34.2L639.3 67.6Z" fill="#0000aa" stroke="#0000aa"/><path d="M621.4 67.8L597.1 40.5L599.9 41.3L622.1 68Z" fill="#000049" stroke="#000049"/><path d="M638.1 68L661.8 39.8L666 37.5L638.8 67.8Z" fill="#0000ac" stroke="#0000ac"/><path d="M622.1 68L599.9 41.3L602.7 41.3L623 68.1Z" fill="#000053" stroke="#000053"/><path d="M637.2 68.1L657.9 41.2L661.8 39.8L638.1 68Z" fill="#0000ac" stroke="#0000ac"/><path d="M623 68.1L602.7 41.3L605.6 40.6L624 68.3Z" fill="#00005d" stroke="#00005d"/><path d="M636.3 68.3L654 41.9L657.9 41.2L637.2 68.1Z" fill="#0000a9" stroke="#0000a9"/><path d="M635.2 68.4L650.1 41.9L654 41.9L636.3 68.3Z" fill="#0000a4" stroke="#0000a4"/><path d="M624 68.3L605.6 40.6L608.9 39.1L625.1 68.4Z" fill="#000066" stroke="#000066"/><path d="M634 68.5L646 41.1L650.1 41.9L635.2 68.4Z" fill="#00009d" stroke="#00009d"/><path d="M625.1 68.4L608.9 39.1L612.6 36.4L626.2 68.5Z" fill="#00006e" stroke="#00006e"/><path d="M632.8 68.6L641.5 39.4L646 41.1L634 68.5Z" fill="#000094" stroke="#000094"/><path d="M631.5 68.6L636.4 36.7L641.5 39.4L632.8 68.6Z" fill="#000088" stroke="#000088"/><path d="M626.2 68.5L612.6 36.4L617 32.3L627.5 68.6Z" fill="#000074" stroke="#000074"/><path d="M630.1 68.6L630.4 32.4L636.4 36.7L631.5 68.6Z" fill="#000083" stroke="#000083"/><path d="M627.5 68.6L617 32.3L622.7 25.9L628.8 68.6Z" fill="#00007a" stroke="#00007a"/><path d="M628.8 68.6L622.7 25.9L622.7 25.9L630.4 32.4L630.1 68.6Z" fill="#000080" stroke="#000080"/></g>
<path d="M649.7 48.3L651.3 48.2L652.7 48L654 47.8L655.2 47.6L656.3 47.4L657.3 47.2L658.1 47L658.8 46.8L659.4 46.6L659.8 46.4L660.1 46.1L660.3 45.9M600.2 46.2L600.5 46.4L601 46.7L601.6 46.9L602.3 47.1L603.1 47.3L604.1 47.5L605.2 47.7L606.4 47.9L607.8 48.1L609.2 48.2L610.8 48.4L612.4 48.5L614.2 48.7L616 48.8L617.9 48.9L619.8 49L621.9 49L623.9 49.1L626 49.1L628.1 49.2L630.3 49.2L632.4 49.2L634.5 49.1L636.6 49.1L638.6 49L640.7 48.9L642.6 48.9L644.5 48.7L646.3 48.6L648.1 48.5L649.7 48.3" class="c" stroke-opacity=".45"/>
<path d="M660.3 45.9L660.3 45.7L660.2 45.5L660 45.2L659.7 45L659.2 44.8L658.6 44.6L657.9 44.4L657.1 44.2L656.2 44L655.2 43.8L654.1 43.7L652.9 43.5L651.6 43.4L650.2 43.2L648.8 43.1L647.3 42.9L645.7 42.8L644.1 42.7L642.5 42.6L640.8 42.6L639 42.5L637.2 42.4L635.4 42.4L633.6 42.4L631.8 42.4L630 42.4L628.1 42.4L626.3 42.4L624.5 42.4L622.7 42.5L620.9 42.5L619.2 42.6L617.5 42.7L615.9 42.8L614.3 42.9L612.7 43L611.2 43.1L609.8 43.3L608.5 43.4L607.2 43.6L606 43.7L604.9 43.9L603.9 44.1L603.1 44.3L602.3 44.5L601.6 44.7L601 44.9L600.6 45.1L600.3 45.3L600.1 45.5L600 45.8L600 46L600.2 46.2" class="c"/>
<path d="M577.4 21.5L622.3 25.2M622.3 25.2L684.9 22.1M577.4 21.5L579.9 128.5M684.9 22.1L682.1 133.1M579.9 128.5L622.6 149.6M622.6 149.6L682.1 133.1M579.4 106.8L580.3 107.2M578.9 86.5L579.9 86.8M578.5 65.9L579.4 66.1M578 44.8L578.9 45M583.7 130.4L585.3 130.1M629.4 147.8L628.1 147.2M599.6 138.3L601.2 137.9M654.1 140.9L652.8 140.4M617.6 147.2L619.2 146.7M676.6 134.7L675.3 134.2" class="bx"/>
<path d="M636.1 19.2L635.8 116.2" class="vl"/>
<text x="576.5" y="50.8" class="t" text-anchor="end">4</text>
<text x="576.5" y="71.9" class="t" text-anchor="end">3</text>
<text x="576.5" y="92.8" class="t" text-anchor="end">2</text>
<text x="576.5" y="113.4" class="t" text-anchor="end">1</text>
<text x="561.7" y="83.9" class="t">E</text>
<text x="583.8" y="145.2" class="t" text-anchor="middle">−1</text>
<text x="600" y="152.7" class="t" text-anchor="middle">0</text>
<text x="618.2" y="161.4" class="t" text-anchor="middle">1</text>
<text x="628.7" y="161.8" class="t" text-anchor="middle">−1</text>
<text x="653.5" y="155.2" class="t" text-anchor="middle">0</text>
<text x="676.5" y="148.2" class="t" text-anchor="middle">1</text>
<text x="594.7" y="166.8" class="t"><tspan class="i">k</tspan><tspan class="sb" dy="2">1</tspan></text>
<text x="648.1" y="170.3" class="t"><tspan class="i">k</tspan><tspan class="sb" dy="2">2</tspan></text>
</g>
<g>
<path d="M363 194.2L362.7 291.2M409 308.1L362.7 291.2M304.3 196.5L363 194.2M363 194.2L411.8 197.1" class="bk"/>
<g opacity="0.80"><path d="M308.6 281.9L349.8 298.6L407.1 285.5L362.5 271.9Z" fill="#eb0000"/><path d="M375.9 290.3L377.9 289.8L379.7 289.2L381.3 288.7L382.7 288.1L383.9 287.4L384.8 286.8L385.5 286.1L386 285.4L386.2 284.7L386.3 284L386.1 283.3L385.7 282.7L385 282L384.2 281.4L383.2 280.8L382 280.2L380.6 279.6L379.1 279.1L377.4 278.6L375.6 278.2L373.7 277.8L371.6 277.4L369.5 277.1L367.3 276.9L365.1 276.6L362.7 276.5L360.4 276.4L358 276.3L355.6 276.3L353.3 276.4L350.9 276.5L348.6 276.6L346.4 276.8L344.2 277.1L342 277.4L340 277.7L338.1 278.1L336.3 278.6L334.7 279L333.2 279.6L331.8 280.1L330.7 280.7L329.7 281.3L328.9 281.9L328.3 282.6L327.9 283.3L327.7 283.9L327.8 284.6L328 285.3L328.5 286L329.3 286.7L330.2 287.3L331.4 288L332.8 288.6L334.4 289.2L336.2 289.7L338.2 290.2L340.4 290.7L342.7 291L345.1 291.4L347.6 291.7L350.3 291.9L353 292L355.7 292.1L358.5 292.1L361.2 292L363.9 291.9L366.5 291.7L369.1 291.4L371.5 291.1L373.8 290.7L375.9 290.3" class="c"/></g>
<g opacity="0.80" stroke-width=".35" stroke-linejoin="round"><path d="M325.3 262L325.3 262L329.4 260.8L329.4 260.8L333.1 259.9L333.1 259.9L336.7 259.2L336.7 259.2L340.3 258.8L340.3 258.8L343.9 258.5L343.9 258.5L347.7 258.5L347.7 258.5L351.9 258.7L352 258.7L356.8 259.1L356.8 259.1L362.6 259.9L362.6 259.9L362.6 259.9L362.6 259.9L362.6 259.9L367.2 259.4L367.2 259.4L371.1 259.2L371.1 259.2L374.5 259.2L374.5 259.2L377.7 259.5L377.7 259.5L380.6 259.9L380.6 259.9L383.5 260.5L383.5 260.5L386.5 261.4L386.5 261.4L386.5 261.4L357 252.5L357 252.5L357 252.5L357 252.5L357 252.5L357 252.5L325.3 262Z" fill="#003c4d" fill-rule="evenodd"/><path d="M357 252.5L362.6 259.9L362.6 259.9L356.8 259.1Z" fill="#003a47" stroke="#003a47"/><path d="M357 252.5L367.2 259.4L362.6 259.9Z" fill="#003945" stroke="#003945"/><path d="M357 252.5L356.8 259.1L351.9 258.7Z" fill="#003c4d" stroke="#003c4d"/><path d="M357 252.5L371.1 259.2L367.2 259.4Z" fill="#003943" stroke="#003943"/><path d="M357 252.5L351.9 258.7L347.7 258.5Z" fill="#003f53" stroke="#003f53"/><path d="M357 252.5L347.7 258.5L343.9 258.5Z" fill="#004058" stroke="#004058"/><path d="M357 252.5L374.5 259.2L371.1 259.2Z" fill="#003840" stroke="#003840"/><path d="M357 252.5L343.9 258.5L340.3 258.8Z" fill="#00425d" stroke="#00425d"/><path d="M357 252.5L377.7 259.5L374.5 259.2Z" fill="#00363c" stroke="#00363c"/><path d="M357 252.5L340.3 258.8L336.7 259.2Z" fill="#004360" stroke="#004360"/><path d="M357 252.5L336.7 259.2L333.1 259.9Z" fill="#004463" stroke="#004463"/><path d="M357 252.5L380.6 259.9L377.7 259.5Z" fill="#003538" stroke="#003538"/><path d="M357 252.5L333.1 259.9L329.4 260.8Z" fill="#004565" stroke="#004565"/><path d="M357 252.5L383.5 260.5L380.6 259.9Z" fill="#003333" stroke="#003333"/><path d="M357 252.5L329.4 260.8L325.3 262Z" fill="#004565" stroke="#004565"/><path d="M357 252.5L386.5 261.4L383.5 260.5Z" fill="#003333" stroke="#003333"/></g>
<g opacity="0.80" stroke-width=".35" stroke-linejoin="round"><path d="M308.3 268.7L308.3 268.7L308.3 268.7L312.5 268.3L312.5 268.3L316.1 268.2L316.1 268.2L319.2 268.4L319.2 268.4L322 268.7L322 268.7L324.8 269.3L324.8 269.3L327.5 270.1L327.5 270.1L330.2 271.2L330.2 271.2L333.1 272.5L333.1 272.5L336.3 274.2L336.3 274.2L339.9 276.4L339.9 276.4L344.3 279.4L344.3 279.4L349.8 283.5L349.8 283.5L349.8 283.5L349.8 283.5L357.2 279.9L357.2 279.9L363.1 277.2L363.1 277.2L368.1 275.3L368.1 275.3L372.4 273.8L372.4 273.8L376.4 272.7L376.4 272.7L380.3 271.8L380.3 271.8L384 271.2L384 271.2L387.9 270.8L387.9 270.8L391.9 270.7L391.9 270.7L396.3 270.7L396.3 270.7L401.4 271.1L401.4 271.1L407.4 271.8L407.4 271.8L407.4 271.8L407.4 271.8L407.4 271.8L401.6 268.4L401.6 268.4L396.9 265.8L396.9 265.8L396.9 265.8L393.1 264L393.1 264L393.1 264L389.6 262.5L389.6 262.5L389.6 262.5L389.6 262.5L386.5 261.4L386.5 261.4L357 252.5L357 252.5L357 252.5L357 252.5L357 252.5L357 252.5L325.3 262L325.3 262L320.6 263.6L320.6 263.6L320.6 263.6L315.2 265.7L315.2 265.7L308.3 268.7Z" fill="#00c482" fill-rule="evenodd"/><path d="M357 252.5L325.3 262L320.6 263.6Z" fill="#008646" stroke="#008646"/><path d="M357 252.5L389.6 262.5L386.5 261.4Z" fill="#00ac74" stroke="#00ac74"/><path d="M357 252.5L320.6 263.6L315.2 265.7Z" fill="#008b48" stroke="#008b48"/><path d="M357 252.5L393.1 264L389.6 262.5Z" fill="#00b37c" stroke="#00b37c"/><path d="M357 252.5L315.2 265.7L308.3 268.7Z" fill="#00914e" stroke="#00914e"/><path d="M357 252.5L396.9 265.8L393.1 264Z" fill="#00bb83" stroke="#00bb83"/><path d="M357 252.5L308.3 268.7L308.3 268.7L312.5 268.3Z" fill="#009855" stroke="#009855"/><path d="M357 252.5L401.6 268.4L396.9 265.8Z" fill="#00c289" stroke="#00c289"/><path d="M357 252.5L312.5 268.3L316.1 268.2Z" fill="#009f5c" stroke="#009f5c"/><path d="M357 252.5L407.4 271.8L407.4 271.8L401.6 268.4Z" fill="#00c88e" stroke="#00c88e"/><path d="M357 252.5L316.1 268.2L319.2 268.4Z" fill="#00a663" stroke="#00a663"/><path d="M357 252.5L401.4 271.1L407.4 271.8Z" fill="#00ce93" stroke="#00ce93"/><path d="M357 252.5L319.2 268.4L322 268.7Z" fill="#00ae6a" stroke="#00ae6a"/><path d="M357 252.5L396.3 270.7L401.4 271.1Z" fill="#00d496" stroke="#00d496"/><path d="M357 252.5L322 268.7L324.8 269.3Z" fill="#00b571" stroke="#00b571"/><path d="M357 252.5L391.9 270.7L396.3 270.7Z" fill="#00d899" stroke="#00d899"/><path d="M357 252.5L324.8 269.3L327.5 270.1Z" fill="#00bc78" stroke="#00bc78"/><path d="M357 252.5L387.9 270.8L391.9 270.7Z" fill="#00dc9a" stroke="#00dc9a"/><path d="M357 252.5L327.5 270.1L330.2 271.2Z" fill="#00c37e" stroke="#00c37e"/><path d="M357 252.5L384 271.2L387.9 270.8Z" fill="#00df9a" stroke="#00df9a"/><path d="M357 252.5L330.2 271.2L333.1 272.5Z" fill="#00ca84" stroke="#00ca84"/><path d="M357 252.5L380.3 271.8L384 271.2Z" fill="#00e099" stroke="#00e099"/><path d="M357 252.5L376.4 272.7L380.3 271.8Z" fill="#00e297" stroke="#00e297"/><path d="M357 252.5L333.1 272.5L336.3 274.2Z" fill="#00d08a" stroke="#00d08a"/><path d="M357 252.5L372.4 273.8L376.4 272.7Z" fill="#00e399" stroke="#00e399"/><path d="M357 252.5L336.3 274.2L339.9 276.4Z" fill="#00d58f" stroke="#00d58f"/><path d="M357 252.5L368.1 275.3L372.4 273.8Z" fill="#00e49b" stroke="#00e49b"/><path d="M357 252.5L363.1 277.2L368.1 275.3Z" fill="#00e49b" stroke="#00e49b"/><path d="M357 252.5L339.9 276.4L344.3 279.4Z" fill="#00da93" stroke="#00da93"/><path d="M357 252.5L357.2 279.9L363.1 277.2Z" fill="#00e39a" stroke="#00e39a"/><path d="M357 252.5L344.3 279.4L349.8 283.5Z" fill="#00de96" stroke="#00de96"/><path d="M357 252.5L349.8 283.5L349.8 283.5L357.2 279.9Z" fill="#00e199" stroke="#00e199"/></g>
<path d="M380.5 259.6L379.3 259.3L378.1 259L376.7 258.7L375.3 258.4L373.9 258.2L372.3 258L370.7 257.8L369.1 257.6L367.4 257.5L365.7 257.3L364 257.2L362.2 257.1L360.4 257.1L358.6 257L356.8 257L355 257L353.2 257.1L351.5 257.1L349.7 257.2L348 257.3L346.3 257.4L344.6 257.6L343 257.8L341.4 258L339.9 258.2L338.4 258.4L337 258.7L335.7 259L334.5 259.3L333.3 259.6L332.3 259.9" class="c" stroke-opacity=".45"/>
<path d="M376.2 268.4L377.7 268.1L379.1 267.8L380.4 267.5L381.6 267.1L382.6 266.7L383.6 266.4L384.4 266L385.1 265.5L385.7 265.1L386.1 264.7L386.4 264.3L386.6 263.9L386.6 263.4L386.5 263L386.3 262.6L386 262.2L385.5 261.8L384.9 261.4L384.3 261L383.5 260.6L382.6 260.3L381.6 259.9L380.5 259.6M332.3 259.9L331.3 260.2L330.4 260.6L329.7 261L329 261.4L328.4 261.8L328 262.2L327.7 262.6L327.5 263L327.4 263.4L327.5 263.8L327.7 264.3L328 264.7L328.4 265.1L329 265.5L329.7 265.9L330.5 266.3L331.5 266.7L332.6 267.1L333.8 267.4L335.1 267.8L336.5 268.1L338 268.4L339.6 268.7L341.4 268.9L343.1 269.1L345 269.4L346.9 269.5L348.9 269.7L350.9 269.8L353 269.9L355 269.9L357.1 269.9L359.2 269.9L361.3 269.9L363.3 269.8L365.3 269.7L367.3 269.5L369.2 269.4L371.1 269.2L372.8 268.9L374.5 268.7L376.2 268.4" class="c"/>
<g opacity="0.80" stroke-width=".35" stroke-linejoin="round"><path d="M307.6 233.6L307.6 233.6L307.6 233.6L311.9 236.5L311.9 236.5L311.9 236.5L315.5 238.7L315.5 238.7L315.5 238.7L318.7 240.4L318.7 240.4L318.7 240.4L318.7 240.4L321.6 241.7L321.6 241.7L321.6 241.7L324.4 242.8L324.4 242.8L357 252.5L357 252.5L357 252.5L357 252.5L357 252.5L357 252.5L392.4 242L392.4 242L396.9 240.4L396.9 240.4L396.9 240.4L402.1 238.3L402.1 238.3L402.1 238.3L408.3 235.5L408.3 235.5L408.3 235.5L408.3 235.5L402.3 236.5L402.3 236.5L397.5 237L397.5 237L393.5 237.2L393.5 237.2L390.1 237.2L390.1 237.2L386.9 236.9L386.9 236.9L383.9 236.5L383.9 236.5L380.9 235.9L380.9 235.9L377.9 235L377.9 235L374.8 233.9L374.8 233.9L371.3 232.4L371.3 232.4L367.4 230.5L367.4 230.5L362.7 227.9L362.7 227.9L362.7 227.9L362.7 227.9L362.7 227.9L356.8 230.3L356.8 230.3L351.9 232.1L351.9 232.1L347.6 233.4L347.6 233.4L343.8 234.4L343.8 234.4L340.1 235.1L340.1 235.1L336.5 235.6L336.5 235.6L332.9 235.9L332.9 235.9L329.1 236L329.1 236L324.9 235.9L324.9 235.9L320.2 235.5L320.2 235.5L314.6 234.8L314.6 234.8L307.6 233.6L307.6 233.6L307.6 233.6Z" fill="#f00082" fill-rule="evenodd"/><path d="M357 252.5L362.7 227.9L362.7 227.9L356.8 230.3Z" fill="#ff0099" stroke="#ff0099"/><path d="M357 252.5L367.4 230.5L362.7 227.9Z" fill="#ff0096" stroke="#ff0096"/><path d="M357 252.5L356.8 230.3L351.9 232.1Z" fill="#ff009a" stroke="#ff009a"/><path d="M357 252.5L371.3 232.4L367.4 230.5Z" fill="#ff0093" stroke="#ff0093"/><path d="M357 252.5L351.9 232.1L347.6 233.4Z" fill="#ff009b" stroke="#ff009b"/><path d="M357 252.5L347.6 233.4L343.8 234.4Z" fill="#ff009b" stroke="#ff009b"/><path d="M357 252.5L374.8 233.9L371.3 232.4Z" fill="#ff008f" stroke="#ff008f"/><path d="M357 252.5L343.8 234.4L340.1 235.1Z" fill="#ff0099" stroke="#ff0099"/><path d="M357 252.5L377.9 235L374.8 233.9Z" fill="#fe008a" stroke="#fe008a"/><path d="M357 252.5L340.1 235.1L336.5 235.6Z" fill="#ff0097" stroke="#ff0097"/><path d="M357 252.5L336.5 235.6L332.9 235.9Z" fill="#ff0099" stroke="#ff0099"/><path d="M357 252.5L380.9 235.9L377.9 235Z" fill="#fb0084" stroke="#fb0084"/><path d="M357 252.5L332.9 235.9L329.1 236Z" fill="#ff009a" stroke="#ff009a"/><path d="M357 252.5L383.9 236.5L380.9 235.9Z" fill="#f7007e" stroke="#f7007e"/><path d="M357 252.5L329.1 236L324.9 235.9Z" fill="#fb009a" stroke="#fb009a"/><path d="M357 252.5L386.9 236.9L383.9 236.5Z" fill="#f30078" stroke="#f30078"/><path d="M357 252.5L324.9 235.9L320.2 235.5Z" fill="#f80099" stroke="#f80099"/><path d="M357 252.5L390.1 237.2L386.9 236.9Z" fill="#ef0071" stroke="#ef0071"/><path d="M357 252.5L320.2 235.5L314.6 234.8Z" fill="#f30096" stroke="#f30096"/><path d="M357 252.5L393.5 237.2L390.1 237.2Z" fill="#ea006a" stroke="#ea006a"/><path d="M357 252.5L314.6 234.8L307.6 233.6Z" fill="#ef0093" stroke="#ef0093"/><path d="M357 252.5L397.5 237L393.5 237.2Z" fill="#e50063" stroke="#e50063"/><path d="M357 252.5L307.6 233.6L307.6 233.6L311.9 236.5Z" fill="#ea008e" stroke="#ea008e"/><path d="M357 252.5L402.3 236.5L397.5 237Z" fill="#e0005c" stroke="#e0005c"/><path d="M357 252.5L311.9 236.5L315.5 238.7Z" fill="#e60089" stroke="#e60089"/><path d="M357 252.5L408.3 235.5L408.3 235.5L402.3 236.5Z" fill="#dc0055" stroke="#dc0055"/><path d="M357 252.5L315.5 238.7L318.7 240.4Z" fill="#e10083" stroke="#e10083"/><path d="M357 252.5L402.1 238.3L408.3 235.5Z" fill="#d7004e" stroke="#d7004e"/><path d="M357 252.5L318.7 240.4L321.6 241.7Z" fill="#dc007c" stroke="#dc007c"/><path d="M357 252.5L396.9 240.4L402.1 238.3Z" fill="#d30048" stroke="#d30048"/><path d="M357 252.5L321.6 241.7L324.4 242.8Z" fill="#d70074" stroke="#d70074"/><path d="M357 252.5L392.4 242L396.9 240.4Z" fill="#ce0046" stroke="#ce0046"/></g>
<g opacity="0.80" stroke-width=".35" stroke-linejoin="round"><path d="M324.4 242.8L324.4 242.8L357 252.5L357 252.5L357 252.5L357 252.5L357 252.5L357 252.5L392.4 242L392.4 242L392.4 242L388.3 243.2L388.3 243.2L384.4 244.1L384.4 244.1L380.6 244.7L380.6 244.7L376.7 245.1L376.7 245.1L372.7 245.3L372.7 245.3L368.2 245.3L368.2 245.3L363.2 244.9L363.2 244.9L357.2 244.2L357.2 244.2L349.7 243L349.7 243L349.7 243L349.7 243L349.7 243L344.1 243.9L344.1 243.9L339.7 244.4L339.7 244.4L336 244.6L336 244.6L332.8 244.4L332.8 244.4L329.9 244.1L329.9 244.1L327.1 243.5L327.1 243.5L324.4 242.8Z" fill="#66004d" fill-rule="evenodd"/><path d="M357 252.5L324.4 242.8L327.1 243.5Z" fill="#660033" stroke="#660033"/><path d="M357 252.5L388.3 243.2L392.4 242Z" fill="#660065" stroke="#660065"/><path d="M357 252.5L327.1 243.5L329.9 244.1Z" fill="#660033" stroke="#660033"/><path d="M357 252.5L384.4 244.1L388.3 243.2Z" fill="#660065" stroke="#660065"/><path d="M357 252.5L329.9 244.1L332.8 244.4Z" fill="#660038" stroke="#660038"/><path d="M357 252.5L380.6 244.7L384.4 244.1Z" fill="#660063" stroke="#660063"/><path d="M357 252.5L376.7 245.1L380.6 244.7Z" fill="#660060" stroke="#660060"/><path d="M357 252.5L332.8 244.4L336 244.6Z" fill="#66003c" stroke="#66003c"/><path d="M357 252.5L372.7 245.3L376.7 245.1Z" fill="#66005d" stroke="#66005d"/><path d="M357 252.5L336 244.6L339.7 244.4Z" fill="#660040" stroke="#660040"/><path d="M357 252.5L368.2 245.3L372.7 245.3Z" fill="#660058" stroke="#660058"/><path d="M357 252.5L363.2 244.9L368.2 245.3Z" fill="#660053" stroke="#660053"/><path d="M357 252.5L339.7 244.4L344.1 243.9Z" fill="#660043" stroke="#660043"/><path d="M357 252.5L357.2 244.2L363.2 244.9Z" fill="#66004d" stroke="#66004d"/><path d="M357 252.5L344.1 243.9L349.7 243Z" fill="#660045" stroke="#660045"/><path d="M357 252.5L349.7 243L349.7 243L357.2 244.2Z" fill="#660047" stroke="#660047"/></g>
<path d="M376.4 246.1L377.9 245.9L379.3 245.6L380.6 245.4L381.8 245.1L382.9 244.8L383.9 244.5M331.3 244.8L332.3 245.1L333.6 245.4L334.9 245.6L336.3 245.9L337.9 246.1L339.5 246.3L341.2 246.5L343 246.7L344.9 246.9L346.8 247L348.8 247.1L350.9 247.2L352.9 247.2L355 247.3L357.1 247.3L359.2 247.3L361.3 247.2L363.4 247.2L365.4 247.1L367.4 247L369.4 246.9L371.2 246.7L373 246.5L374.8 246.3L376.4 246.1" class="c" stroke-opacity=".45"/>
<path d="M383.9 244.5L384.7 244.2L385.4 243.9L386 243.6L386.4 243.3L386.7 242.9L386.9 242.6L386.9 242.3L386.8 242L386.6 241.6L386.3 241.3L385.8 241L385.2 240.7L384.5 240.4L383.7 240.1L382.8 239.8L381.8 239.6L380.7 239.3L379.6 239.1L378.3 238.9L376.9 238.6L375.5 238.4L374 238.3L372.5 238.1L370.9 237.9L369.2 237.8L367.5 237.7L365.8 237.6L364.1 237.5L362.3 237.5L360.5 237.4L358.7 237.4L356.9 237.4L355 237.4L353.2 237.4L351.4 237.5L349.7 237.5L347.9 237.6L346.2 237.7L344.5 237.8L342.9 238L341.3 238.1L339.8 238.3L338.3 238.5L336.9 238.7L335.6 238.9L334.3 239.1L333.1 239.3L332.1 239.6L331.1 239.9L330.2 240.1L329.4 240.4L328.7 240.7L328.2 241L327.7 241.3L327.4 241.7L327.2 242L327.2 242.3L327.2 242.6L327.4 243L327.7 243.3L328.2 243.6L328.7 243.9L329.5 244.2L330.3 244.5L331.3 244.8" class="c"/>
<g opacity="0.80"><path d="M307.3 219.8L349.7 227L408.6 221.2L362.7 215.4Z" fill="#000068"/><path d="M376.6 223.3L378.6 223.1L380.5 222.9L382.1 222.6L383.5 222.4L384.7 222.1L385.7 221.8L386.4 221.5L386.9 221.2L387.2 220.9L387.2 220.6L387 220.3L386.6 220L385.9 219.7L385.1 219.5L384 219.2L382.8 219L381.4 218.7L379.8 218.5L378.1 218.3L376.2 218.1L374.2 217.9L372.1 217.8L369.9 217.7L367.7 217.6L365.3 217.5L362.9 217.4L360.5 217.4L358.1 217.4L355.7 217.4L353.2 217.4L350.8 217.4L348.4 217.5L346.1 217.6L343.9 217.7L341.7 217.8L339.6 218L337.6 218.2L335.8 218.4L334.1 218.6L332.6 218.8L331.2 219L330 219.3L328.9 219.6L328.1 219.8L327.5 220.1L327.1 220.4L326.9 220.7L326.9 221L327.2 221.3L327.7 221.6L328.5 221.9L329.5 222.2L330.7 222.4L332.1 222.7L333.8 222.9L335.6 223.2L337.7 223.4L339.9 223.6L342.3 223.7L344.8 223.9L347.4 224L350.1 224.1L352.9 224.1L355.7 224.2L358.6 224.2L361.4 224.1L364.2 224.1L366.9 224L369.5 223.9L372 223.7L374.4 223.5L376.6 223.3" class="c"/></g>
<path d="M304.3 196.5L349.2 200.2M349.2 200.2L411.8 197.1M304.3 196.5L306.8 303.5M411.8 197.1L409 308.1M306.8 303.5L349.5 324.6M349.5 324.6L409 308.1M306.3 281.8L307.2 282.2M305.8 261.5L306.8 261.8M305.4 240.9L306.3 241.1M304.9 219.8L305.8 220M310.6 305.4L312.2 305.1M356.3 322.8L355 322.2M326.5 313.3L328.1 312.9M381 315.9L379.7 315.4M344.5 322.2L346.1 321.7M403.5 309.7L402.2 309.2" class="bx"/>
<path d="M363 194.2L362.7 291.2" class="vl"/>
<text x="303.4" y="225.8" class="t" text-anchor="end">4</text>
<text x="303.4" y="246.9" class="t" text-anchor="end">3</text>
<text x="303.4" y="267.8" class="t" text-anchor="end">2</text>
<text x="303.4" y="288.4" class="t" text-anchor="end">1</text>
<text x="288.6" y="258.9" class="t">E</text>
<text x="310.7" y="320.2" class="t" text-anchor="middle">−1</text>
<text x="326.9" y="327.7" class="t" text-anchor="middle">0</text>
<text x="345.1" y="336.4" class="t" text-anchor="middle">1</text>
<text x="355.6" y="336.8" class="t" text-anchor="middle">−1</text>
<text x="380.4" y="330.2" class="t" text-anchor="middle">0</text>
<text x="403.4" y="323.2" class="t" text-anchor="middle">1</text>
<text x="321.6" y="341.8" class="t"><tspan class="i">k</tspan><tspan class="sb" dy="2">1</tspan></text>
<text x="375" y="345.3" class="t"><tspan class="i">k</tspan><tspan class="sb" dy="2">2</tspan></text>
</g>
<g>
<path d="M499.3 194.2L499 291.2M545.3 308.1L499 291.2M440.6 196.5L499.3 194.2M499.3 194.2L548.1 197.1" class="bk"/>
<g opacity="0.80"><path d="M444.9 281.9L486.1 298.6L543.4 285.5L498.8 271.9Z" fill="#eb0000"/><path d="M512.2 290.3L514.2 289.8L516 289.2L517.6 288.7L519 288.1L520.2 287.4L521.1 286.8L521.8 286.1L522.3 285.4L522.5 284.7L522.6 284L522.4 283.3L522 282.7L521.3 282L520.5 281.4L519.5 280.8L518.3 280.2L516.9 279.6L515.4 279.1L513.7 278.6L511.9 278.2L510 277.8L507.9 277.4L505.8 277.1L503.6 276.9L501.4 276.6L499 276.5L496.7 276.4L494.3 276.3L491.9 276.3L489.6 276.4L487.2 276.5L484.9 276.6L482.7 276.8L480.5 277.1L478.3 277.4L476.3 277.7L474.4 278.1L472.6 278.6L471 279L469.5 279.6L468.1 280.1L467 280.7L466 281.3L465.2 281.9L464.6 282.6L464.2 283.3L464 283.9L464.1 284.6L464.3 285.3L464.8 286L465.6 286.7L466.5 287.3L467.7 288L469.1 288.6L470.7 289.2L472.5 289.7L474.5 290.2L476.7 290.7L479 291L481.4 291.4L483.9 291.7L486.6 291.9L489.3 292L492 292.1L494.8 292.1L497.5 292L500.2 291.9L502.8 291.7L505.4 291.4L507.8 291.1L510.1 290.7L512.2 290.3" class="c"/></g>
<g opacity="0.80" stroke-width=".35" stroke-linejoin="round"><path d="M451.6 270.9L451.6 270.9L457 267.4L457 267.4L461.6 264.9L461.6 264.9L465.7 263.2L465.7 263.2L469.4 262L469.5 262L473 261.2L473 261.2L476.6 260.8L476.6 260.8L480.2 260.9L480.2 260.9L484 261.3L484 261.3L488.3 262.3L488.3 262.3L493.1 263.9L493.1 263.9L498.8 266.3L498.8 266.3L498.8 266.3L498.8 266.3L503.5 264.2L503.5 264.2L507.4 262.9L507.4 262.8L510.8 262.1L510.8 262.1L513.9 261.8L513.9 261.8L516.9 262L516.9 262L519.8 262.5L519.8 262.5L522.8 263.5L522.8 263.5L525.9 265L525.9 265L529.3 267L529.3 267L529.3 267L493.3 242L493.3 242L493.3 242L493.3 242L493.3 242L451.6 270.9Z" fill="#004769" fill-rule="evenodd"/><path d="M493.3 242L498.8 266.3L498.8 266.3L493.1 263.9Z" fill="#004668" stroke="#004668"/><path d="M493.3 242L503.5 264.2L498.8 266.3Z" fill="#004565" stroke="#004565"/><path d="M493.3 242L493.1 263.9L488.3 262.3Z" fill="#004769" stroke="#004769"/><path d="M493.3 242L507.4 262.8L503.5 264.2Z" fill="#004361" stroke="#004361"/><path d="M493.3 242L488.3 262.3L484 261.3Z" fill="#004971" stroke="#004971"/><path d="M493.3 242L484 261.3L480.2 260.9Z" fill="#004c79" stroke="#004c79"/><path d="M493.3 242L510.8 262.1L507.4 262.8Z" fill="#00425c" stroke="#00425c"/><path d="M493.3 242L480.2 260.9L476.6 260.8Z" fill="#004f81" stroke="#004f81"/><path d="M493.3 242L513.9 261.8L510.8 262.1Z" fill="#003f55" stroke="#003f55"/><path d="M493.3 242L476.6 260.8L473 261.2Z" fill="#005187" stroke="#005187"/><path d="M493.3 242L473 261.2L469.5 262Z" fill="#00538c" stroke="#00538c"/><path d="M493.3 242L516.9 262L513.9 261.8Z" fill="#003d4e" stroke="#003d4e"/><path d="M493.3 242L469.5 262L465.7 263.2Z" fill="#00548f" stroke="#00548f"/><path d="M493.3 242L519.8 262.5L516.9 262Z" fill="#003a46" stroke="#003a46"/><path d="M493.3 242L465.7 263.2L461.6 264.9Z" fill="#005490" stroke="#005490"/><path d="M493.3 242L522.8 263.5L519.8 262.5Z" fill="#00373e" stroke="#00373e"/><path d="M493.3 242L461.6 264.9L457 267.4Z" fill="#00548f" stroke="#00548f"/><path d="M493.3 242L525.9 265L522.8 263.5Z" fill="#003435" stroke="#003435"/><path d="M493.3 242L457 267.4L451.6 270.9Z" fill="#00538d" stroke="#00538d"/><path d="M493.3 242L529.3 267L525.9 265Z" fill="#003333" stroke="#003333"/></g>
<g opacity="0.80" stroke-width=".35" stroke-linejoin="round"><path d="M444.8 275.8L444.8 275.8L444.8 275.8L448.9 273.6L448.9 273.6L452.4 272.2L452.4 272.2L455.5 271.5L455.5 271.5L455.5 271.5L458.4 271.3L458.4 271.3L458.4 271.3L461.1 271.6L461.1 271.6L461.1 271.6L463.8 272.3L463.8 272.3L463.8 272.3L466.5 273.5L466.5 273.5L469.4 275.2L469.4 275.2L472.6 277.6L472.6 277.6L476.3 280.8L476.3 280.8L480.6 285.3L480.6 285.3L486.1 291.6L486.1 291.6L486.1 291.6L486.1 291.6L493.5 285.8L493.5 285.8L499.4 281.7L499.4 281.7L504.3 278.7L504.3 278.7L508.7 276.5L508.7 276.5L512.7 275L512.7 275L516.5 274L516.5 274L520.3 273.5L520.3 273.5L524.1 273.5L524.1 273.5L528.1 273.9L528.1 273.9L532.5 274.9L532.5 274.9L537.5 276.6L537.5 276.6L543.5 279.2L543.5 279.2L543.5 279.2L543.5 279.2L543.5 279.2L537.8 273.7L537.8 273.7L537.8 273.7L533.2 269.8L533.2 269.8L533.2 269.8L533.2 269.8L529.3 267L529.3 267L493.3 242L493.3 242L493.3 242L493.3 242L493.3 242L493.3 242L451.6 270.9L451.6 270.9L444.8 275.8Z" fill="#00d29d" fill-rule="evenodd"/><path d="M493.3 242L451.6 270.9L444.8 275.8Z" fill="#00703f" stroke="#00703f"/><path d="M493.3 242L444.8 275.8L444.8 275.8L448.9 273.6Z" fill="#007943" stroke="#007943"/><path d="M493.3 242L533.2 269.8L529.3 267Z" fill="#00ba9e" stroke="#00ba9e"/><path d="M493.3 242L537.8 273.7L533.2 269.8Z" fill="#00c6a9" stroke="#00c6a9"/><path d="M493.3 242L448.9 273.6L452.4 272.2Z" fill="#00854f" stroke="#00854f"/><path d="M493.3 242L543.5 279.2L543.5 279.2L537.8 273.7Z" fill="#00d1b2" stroke="#00d1b2"/><path d="M493.3 242L452.4 272.2L455.5 271.5Z" fill="#00925b" stroke="#00925b"/><path d="M493.3 242L537.5 276.6L543.5 279.2Z" fill="#00dbba" stroke="#00dbba"/><path d="M493.3 242L455.5 271.5L458.4 271.3Z" fill="#009f67" stroke="#009f67"/><path d="M493.3 242L532.5 274.9L537.5 276.6Z" fill="#00e5c0" stroke="#00e5c0"/><path d="M493.3 242L458.4 271.3L461.1 271.6Z" fill="#00ab73" stroke="#00ab73"/><path d="M493.3 242L528.1 273.9L532.5 274.9Z" fill="#00ecc4" stroke="#00ecc4"/><path d="M493.3 242L461.1 271.6L463.8 272.3Z" fill="#00b87f" stroke="#00b87f"/><path d="M493.3 242L524.1 273.5L528.1 273.9Z" fill="#00f3c6" stroke="#00f3c6"/><path d="M493.3 242L463.8 272.3L466.5 273.5Z" fill="#00c48a" stroke="#00c48a"/><path d="M493.3 242L520.3 273.5L524.1 273.5Z" fill="#00f8c6" stroke="#00f8c6"/><path d="M493.3 242L466.5 273.5L469.4 275.2Z" fill="#00cf94" stroke="#00cf94"/><path d="M493.3 242L516.5 274L520.3 273.5Z" fill="#00fbc4" stroke="#00fbc4"/><path d="M493.3 242L512.7 275L516.5 274Z" fill="#00fcc0" stroke="#00fcc0"/><path d="M493.3 242L469.4 275.2L472.6 277.6Z" fill="#00d99e" stroke="#00d99e"/><path d="M493.3 242L508.7 276.5L512.7 275Z" fill="#00fcba" stroke="#00fcba"/><path d="M493.3 242L472.6 277.6L476.3 280.8Z" fill="#00e3a6" stroke="#00e3a6"/><path d="M493.3 242L504.3 278.7L508.7 276.5Z" fill="#00fdbb" stroke="#00fdbb"/><path d="M493.3 242L499.4 281.7L504.3 278.7Z" fill="#00fcbb" stroke="#00fcbb"/><path d="M493.3 242L476.3 280.8L480.6 285.3Z" fill="#00ebad" stroke="#00ebad"/><path d="M493.3 242L493.5 285.8L499.4 281.7Z" fill="#00faba" stroke="#00faba"/><path d="M493.3 242L480.6 285.3L486.1 291.6Z" fill="#00f1b3" stroke="#00f1b3"/><path d="M493.3 242L486.1 291.6L486.1 291.6L493.5 285.8Z" fill="#00f7b7" stroke="#00f7b7"/></g>
<path d="M521.2 261.4L520.6 261L519.8 260.6L518.9 260.3L517.9 259.9L516.8 259.6L515.6 259.3L514.4 259L513 258.7L511.6 258.4L510.2 258.2L508.6 258L507 257.8L505.4 257.6L503.7 257.5L502 257.3L500.3 257.2L498.5 257.1L496.7 257.1L494.9 257L493.1 257L491.3 257L489.5 257.1L487.8 257.1L486 257.2L484.3 257.3L482.6 257.4L480.9 257.6L479.3 257.8L477.7 258L476.2 258.2L474.7 258.4L473.3 258.7L472 259L470.8 259.3L469.6 259.6L468.6 259.9L467.6 260.2L466.7 260.6L466 261L465.3 261.4L464.7 261.8" class="c" stroke-opacity=".45"/>
<path d="M512.5 268.4L514 268.1L515.4 267.8L516.7 267.5L517.9 267.1L518.9 266.7L519.9 266.4L520.7 266L521.4 265.5L522 265.1L522.4 264.7L522.7 264.3L522.9 263.9L522.9 263.4L522.8 263L522.6 262.6L522.3 262.2L521.8 261.8L521.2 261.4M464.7 261.8L464.3 262.2L464 262.6L463.8 263L463.7 263.4L463.8 263.8L464 264.3L464.3 264.7L464.7 265.1L465.3 265.5L466 265.9L466.8 266.3L467.8 266.7L468.9 267.1L470.1 267.4L471.4 267.8L472.8 268.1L474.3 268.4L475.9 268.7L477.7 268.9L479.4 269.1L481.3 269.4L483.2 269.5L485.2 269.7L487.2 269.8L489.3 269.9L491.3 269.9L493.4 269.9L495.5 269.9L497.6 269.9L499.6 269.8L501.6 269.7L503.6 269.5L505.5 269.4L507.4 269.2L509.1 268.9L510.8 268.7L512.5 268.4" class="c"/>
<g opacity="0.80"><path d="M444 240.9L486 251.4L544.4 243.1L499 234.6Z" fill="#eb0068"/><path d="M512.7 246.1L514.7 245.8L516.5 245.5L518.1 245.1L519.6 244.7L520.7 244.3L521.7 243.9L522.4 243.5L522.9 243L523.2 242.6L523.2 242.2L523 241.7L522.6 241.3L521.9 240.9L521.1 240.5L520 240.1L518.8 239.8L517.4 239.4L515.9 239.1L514.1 238.8L512.3 238.5L510.3 238.3L508.3 238L506.1 237.9L503.8 237.7L501.5 237.6L499.2 237.5L496.8 237.4L494.4 237.4L491.9 237.4L489.5 237.4L487.1 237.5L484.8 237.6L482.5 237.7L480.3 237.9L478.1 238.1L476.1 238.3L474.1 238.5L472.3 238.8L470.6 239.1L469.1 239.4L467.7 239.8L466.5 240.1L465.5 240.5L464.7 240.9L464 241.3L463.6 241.8L463.5 242.2L463.5 242.6L463.8 243.1L464.3 243.5L465 243.9L466 244.3L467.2 244.7L468.6 245.1L470.3 245.5L472.1 245.8L474.2 246.1L476.3 246.4L478.7 246.6L481.2 246.9L483.8 247L486.5 247.2L489.2 247.2L492 247.3L494.8 247.3L497.6 247.2L500.4 247.2L503.1 247L505.7 246.9L508.1 246.6L510.5 246.4L512.7 246.1" class="c"/></g>
<g opacity="0.80" stroke-width=".35" stroke-linejoin="round"><path d="M443.2 204.9L443.2 204.9L443.2 204.9L447.7 209.4L447.7 209.4L447.7 209.4L447.7 209.4L451.3 212.7L451.3 212.7L451.3 212.7L454.6 215.1L454.6 215.1L493.3 242L493.3 242L493.3 242L493.3 242L539 210.3L539 210.3L545.3 205.7L545.3 205.7L545.3 205.7L539.2 209.3L539.2 209.3L534.3 211.6L534.3 211.6L530.3 213L530.3 213L526.7 213.8L526.7 213.8L523.5 214.1L523.5 214.1L520.5 214L520.5 214L517.5 213.4L517.5 213.4L514.5 212.5L514.5 212.5L511.3 211L511.3 211L507.8 208.9L507.8 208.9L503.8 205.9L503.8 205.9L499.1 201.9L499.1 201.9L499.1 201.9L499.1 201.9L499.1 201.9L493.1 205.9L493.1 205.9L488.2 208.7L488.2 208.7L483.9 210.7L483.9 210.7L480 212.1L480 212.1L476.3 213L476.3 213L472.6 213.5L472.6 213.5L469 213.5L469 213.5L465.1 213.1L465.1 213.1L460.9 212.3L460.9 212.3L456.1 210.8L456.1 210.8L450.4 208.4L450.4 208.4L443.2 204.9L443.2 204.9Z" fill="#00009d" fill-rule="evenodd"/><path d="M493.3 242L499.1 201.9L499.1 201.9L493.1 205.9Z" fill="#0000b7" stroke="#0000b7"/><path d="M493.3 242L503.8 205.9L499.1 201.9Z" fill="#0000b3" stroke="#0000b3"/><path d="M493.3 242L493.1 205.9L488.2 208.7Z" fill="#0000ba" stroke="#0000ba"/><path d="M493.3 242L507.8 208.9L503.8 205.9Z" fill="#0000ad" stroke="#0000ad"/><path d="M493.3 242L488.2 208.7L483.9 210.7Z" fill="#0000bb" stroke="#0000bb"/><path d="M493.3 242L483.9 210.7L480 212.1Z" fill="#0000bb" stroke="#0000bb"/><path d="M493.3 242L511.3 211L507.8 208.9Z" fill="#0000a6" stroke="#0000a6"/><path d="M493.3 242L480 212.1L476.3 213Z" fill="#0000ba" stroke="#0000ba"/><path d="M493.3 242L514.5 212.5L511.3 211Z" fill="#00009e" stroke="#00009e"/><path d="M493.3 242L476.3 213L472.6 213.5Z" fill="#0000c0" stroke="#0000c0"/><path d="M493.3 242L472.6 213.5L469 213.5Z" fill="#0000c4" stroke="#0000c4"/><path d="M493.3 242L517.5 213.4L514.5 212.5Z" fill="#000094" stroke="#000094"/><path d="M493.3 242L469 213.5L465.1 213.1Z" fill="#0000c6" stroke="#0000c6"/><path d="M493.3 242L520.5 214L517.5 213.4Z" fill="#00008a" stroke="#00008a"/><path d="M493.3 242L465.1 213.1L460.9 212.3Z" fill="#0000c6" stroke="#0000c6"/><path d="M493.3 242L523.5 214.1L520.5 214Z" fill="#00007f" stroke="#00007f"/><path d="M493.3 242L460.9 212.3L456.1 210.8Z" fill="#0000c4" stroke="#0000c4"/><path d="M493.3 242L526.7 213.8L523.5 214.1Z" fill="#000073" stroke="#000073"/><path d="M493.3 242L456.1 210.8L450.4 208.4Z" fill="#0000c0" stroke="#0000c0"/><path d="M493.3 242L530.3 213L526.7 213.8Z" fill="#000067" stroke="#000067"/><path d="M493.3 242L450.4 208.4L443.2 204.9Z" fill="#0000ba" stroke="#0000ba"/><path d="M493.3 242L534.3 211.6L530.3 213Z" fill="#00005b" stroke="#00005b"/><path d="M493.3 242L443.2 204.9L443.2 204.9L447.7 209.4Z" fill="#0000b2" stroke="#0000b2"/><path d="M493.3 242L539.2 209.3L534.3 211.6Z" fill="#00004f" stroke="#00004f"/><path d="M493.3 242L447.7 209.4L451.3 212.7Z" fill="#0000a9" stroke="#0000a9"/><path d="M493.3 242L451.3 212.7L454.6 215.1Z" fill="#00009e" stroke="#00009e"/><path d="M493.3 242L545.3 205.7L545.3 205.7L539.2 209.3Z" fill="#000043" stroke="#000043"/><path d="M493.3 242L539 210.3L545.3 205.7Z" fill="#00003f" stroke="#00003f"/></g>
<g opacity="0.80" stroke-width=".35" stroke-linejoin="round"><path d="M454.6 215.1L454.6 215.1L493.3 242L493.3 242L493.3 242L493.3 242L493.3 242L539 210.3L539 210.3L539 210.3L533.7 213.6L533.7 213.6L529.1 215.9L529.1 215.9L525 217.6L525 217.6L521 218.7L521 218.7L517.2 219.3L517.2 219.3L513.3 219.4L513.3 219.4L509.2 219L509.2 219L504.7 218L504.7 218L499.6 216.4L499.6 216.4L493.6 213.7L493.6 213.7L485.9 209.7L485.9 209.7L485.9 209.7L485.9 209.7L480.3 213.6L480.3 213.6L475.8 216.1L475.8 216.1L472.1 217.6L472.1 217.6L468.9 218.5L468.9 218.5L468.9 218.5L465.9 218.8L465.9 218.8L465.9 218.8L463.1 218.6L463.1 218.6L463.1 218.6L460.3 217.9L460.3 217.9L460.3 217.9L457.5 216.8L457.5 216.8L454.6 215.1Z" fill="#000069" fill-rule="evenodd"/><path d="M493.3 242L454.6 215.1L457.5 216.8Z" fill="#000033" stroke="#000033"/><path d="M493.3 242L533.7 213.6L539 210.3Z" fill="#00008d" stroke="#00008d"/><path d="M493.3 242L457.5 216.8L460.3 217.9Z" fill="#000035" stroke="#000035"/><path d="M493.3 242L529.1 215.9L533.7 213.6Z" fill="#00008f" stroke="#00008f"/><path d="M493.3 242L460.3 217.9L463.1 218.6Z" fill="#00003e" stroke="#00003e"/><path d="M493.3 242L525 217.6L529.1 215.9Z" fill="#000090" stroke="#000090"/><path d="M493.3 242L463.1 218.6L465.9 218.8Z" fill="#000046" stroke="#000046"/><path d="M493.3 242L521 218.7L525 217.6Z" fill="#00008f" stroke="#00008f"/><path d="M493.3 242L465.9 218.8L468.9 218.5Z" fill="#00004e" stroke="#00004e"/><path d="M493.3 242L517.2 219.3L521 218.7Z" fill="#00008c" stroke="#00008c"/><path d="M493.3 242L513.3 219.4L517.2 219.3Z" fill="#000087" stroke="#000087"/><path d="M493.3 242L468.9 218.5L472.1 217.6Z" fill="#000055" stroke="#000055"/><path d="M493.3 242L509.2 219L513.3 219.4Z" fill="#000081" stroke="#000081"/><path d="M493.3 242L472.1 217.6L475.8 216.1Z" fill="#00005c" stroke="#00005c"/><path d="M493.3 242L504.7 218L509.2 219Z" fill="#000079" stroke="#000079"/><path d="M493.3 242L499.6 216.4L504.7 218Z" fill="#000071" stroke="#000071"/><path d="M493.3 242L475.8 216.1L480.3 213.6Z" fill="#000061" stroke="#000061"/><path d="M493.3 242L493.6 213.7L499.6 216.4Z" fill="#000069" stroke="#000069"/><path d="M493.3 242L480.3 213.6L485.9 209.7Z" fill="#000065" stroke="#000065"/><path d="M493.3 242L485.9 209.7L485.9 209.7L493.6 213.7Z" fill="#000068" stroke="#000068"/></g>
<path d="M512.9 223.3L514.5 223.2L515.9 223L517.2 222.8L518.4 222.6L519.5 222.4L520.5 222.2L521.3 222L522 221.8L522.6 221.6L523 221.4L523.3 221.1M463.7 221.4L464.2 221.7L464.8 221.9L465.5 222.1L466.3 222.3L467.3 222.5L468.4 222.7L469.6 222.9L471 223.1L472.4 223.2L474 223.4L475.6 223.5L477.4 223.7L479.2 223.8L481.1 223.9L483 224L485.1 224L487.1 224.1L489.2 224.1L491.3 224.2L493.5 224.2L495.6 224.2L497.7 224.1L499.8 224.1L501.8 224L503.9 223.9L505.8 223.9L507.7 223.7L509.5 223.6L511.3 223.5L512.9 223.3" class="c" stroke-opacity=".45"/>
<path d="M523.3 221.1L523.5 220.9L523.5 220.7L523.4 220.5L523.2 220.2L522.9 220L522.4 219.8L521.8 219.6L521.1 219.4L520.3 219.2L519.4 219L518.4 218.8L517.3 218.7L516.1 218.5L514.8 218.4L513.4 218.2L512 218.1L510.5 217.9L508.9 217.8L507.3 217.7L505.7 217.6L504 217.6L502.2 217.5L500.4 217.4L498.6 217.4L496.8 217.4L495 217.4L493.2 217.4L491.3 217.4L489.5 217.4L487.7 217.4L485.9 217.5L484.1 217.5L482.4 217.6L480.7 217.7L479.1 217.8L477.5 217.9L475.9 218L474.4 218.1L473 218.3L471.7 218.4L470.4 218.6L469.2 218.7L468.1 218.9L467.1 219.1L466.3 219.3L465.5 219.5L464.8 219.7L464.2 219.9L463.8 220.1L463.5 220.3L463.3 220.5L463.2 220.8L463.2 221L463.4 221.2L463.7 221.4" class="c"/>
<path d="M440.6 196.5L485.5 200.2M485.5 200.2L548.1 197.1M440.6 196.5L443.1 303.5M548.1 197.1L545.3 308.1M443.1 303.5L485.8 324.6M485.8 324.6L545.3 308.1M442.6 281.8L443.5 282.2M442.1 261.5L443.1 261.8M441.7 240.9L442.6 241.1M441.2 219.8L442.1 220M446.9 305.4L448.5 305.1M492.6 322.8L491.3 322.2M462.8 313.3L464.4 312.9M517.3 315.9L516 315.4M480.8 322.2L482.4 321.7M539.8 309.7L538.5 309.2" class="bx"/>
<path d="M499.3 194.2L499 291.2" class="vl"/>
<text x="439.7" y="225.8" class="t" text-anchor="end">4</text>
<text x="439.7" y="246.9" class="t" text-anchor="end">3</text>
<text x="439.7" y="267.8" class="t" text-anchor="end">2</text>
<text x="439.7" y="288.4" class="t" text-anchor="end">1</text>
<text x="424.9" y="258.9" class="t">E</text>
<text x="447" y="320.2" class="t" text-anchor="middle">−1</text>
<text x="463.2" y="327.7" class="t" text-anchor="middle">0</text>
<text x="481.4" y="336.4" class="t" text-anchor="middle">1</text>
<text x="491.9" y="336.8" class="t" text-anchor="middle">−1</text>
<text x="516.7" y="330.2" class="t" text-anchor="middle">0</text>
<text x="539.7" y="323.2" class="t" text-anchor="middle">1</text>
<text x="457.9" y="341.8" class="t"><tspan class="i">k</tspan><tspan class="sb" dy="2">1</tspan></text>
<text x="511.3" y="345.3" class="t"><tspan class="i">k</tspan><tspan class="sb" dy="2">2</tspan></text>
</g>
<g>
<path d="M636.1 194.2L635.8 291.2M682.1 308.1L635.8 291.2M577.4 196.5L636.1 194.2M636.1 194.2L684.9 197.1" class="bk"/>
<g opacity="0.80"><path d="M581.7 281.9L622.9 298.6L680.2 285.5L635.6 271.9Z" fill="#eb0000"/><path d="M649 290.3L651 289.8L652.8 289.2L654.4 288.7L655.8 288.1L657 287.4L657.9 286.8L658.6 286.1L659.1 285.4L659.3 284.7L659.4 284L659.2 283.3L658.8 282.7L658.1 282L657.3 281.4L656.3 280.8L655.1 280.2L653.7 279.6L652.2 279.1L650.5 278.6L648.7 278.2L646.8 277.8L644.7 277.4L642.6 277.1L640.4 276.9L638.2 276.6L635.8 276.5L633.5 276.4L631.1 276.3L628.7 276.3L626.4 276.4L624 276.5L621.7 276.6L619.5 276.8L617.3 277.1L615.1 277.4L613.1 277.7L611.2 278.1L609.4 278.6L607.8 279L606.3 279.6L604.9 280.1L603.8 280.7L602.8 281.3L602 281.9L601.4 282.6L601 283.3L600.8 283.9L600.9 284.6L601.1 285.3L601.6 286L602.4 286.7L603.3 287.3L604.5 288L605.9 288.6L607.5 289.2L609.3 289.7L611.3 290.2L613.5 290.7L615.8 291L618.2 291.4L620.7 291.7L623.4 291.9L626.1 292L628.8 292.1L631.6 292.1L634.3 292L637 291.9L639.6 291.7L642.2 291.4L644.6 291.1L646.9 290.7L649 290.3" class="c"/></g>
<g opacity="0.80"><path d="M581.3 261.6L622.9 275.3L680.7 264.5L635.7 253.4Z" fill="#00b368"/><path d="M649.3 268.4L651.3 268L653.1 267.6L654.7 267.1L656.1 266.6L657.2 266.1L658.2 265.5L658.9 265L659.4 264.4L659.7 263.9L659.7 263.3L659.5 262.7L659.1 262.2L658.4 261.7L657.6 261.1L656.6 260.6L655.4 260.1L654 259.7L652.4 259.3L650.7 258.9L648.9 258.5L647 258.2L644.9 257.9L642.8 257.7L640.5 257.5L638.2 257.3L635.9 257.2L633.5 257.1L631.1 257L628.7 257L626.3 257.1L624 257.2L621.6 257.3L619.4 257.4L617.2 257.7L615 257.9L613 258.2L611.1 258.5L609.3 258.9L607.6 259.3L606.1 259.7L604.7 260.1L603.5 260.6L602.5 261.1L601.7 261.6L601.1 262.2L600.7 262.7L600.5 263.3L600.6 263.8L600.9 264.4L601.4 265L602.1 265.5L603.1 266.1L604.3 266.6L605.7 267.1L607.3 267.5L609.1 268L611.1 268.4L613.3 268.8L615.6 269.1L618.1 269.4L620.7 269.6L623.3 269.7L626.1 269.9L628.8 269.9L631.6 269.9L634.4 269.9L637.1 269.8L639.7 269.6L642.3 269.4L644.8 269.1L647.1 268.8L649.3 268.4" class="c"/></g>
<g opacity="0.80" stroke-width=".35" stroke-linejoin="round"><path d="M593.4 243.4L593.4 243.4L598.1 242L598.1 242L602.2 240.9L602.2 240.9L606 240.1L606 240.1L609.7 239.6L609.7 239.6L613.2 239.3L613.2 239.3L616.9 239.1L616.9 239.1L620.8 239.2L620.8 239.2L625 239.5L625 239.5L629.9 240.2L629.9 240.2L635.7 241.2L635.7 241.2L635.7 241.2L635.7 241.2L640.4 240.4L640.4 240.4L644.3 239.9L644.3 239.9L647.8 239.8L647.8 239.8L651 239.8L651 239.8L654 240.1L654 240.1L656.9 240.6L656.9 240.6L659.9 241.2L659.9 241.2L663.1 242.2L663.1 242.2L663.1 242.2L630.1 231.3L630.1 231.3L630.1 231.3L630.1 231.3L630.1 231.3L630.1 231.3L630.1 231.3L630.1 231.3L630.1 231.3L593.4 243.4Z" fill="#66004d" fill-rule="evenodd"/><path d="M630.1 231.3L635.7 241.2L635.7 241.2L629.9 240.2Z" fill="#660047" stroke="#660047"/><path d="M630.1 231.3L640.4 240.4L635.7 241.2Z" fill="#660045" stroke="#660045"/><path d="M630.1 231.3L629.9 240.2L625 239.5Z" fill="#66004d" stroke="#66004d"/><path d="M630.1 231.3L644.3 239.9L640.4 240.4Z" fill="#660043" stroke="#660043"/><path d="M630.1 231.3L625 239.5L620.8 239.2Z" fill="#660053" stroke="#660053"/><path d="M630.1 231.3L620.8 239.2L616.9 239.1Z" fill="#660058" stroke="#660058"/><path d="M630.1 231.3L647.8 239.8L644.3 239.9Z" fill="#660040" stroke="#660040"/><path d="M630.1 231.3L616.9 239.1L613.2 239.3Z" fill="#66005d" stroke="#66005d"/><path d="M630.1 231.3L651 239.8L647.8 239.8Z" fill="#66003c" stroke="#66003c"/><path d="M630.1 231.3L613.2 239.3L609.7 239.6Z" fill="#660060" stroke="#660060"/><path d="M630.1 231.3L609.7 239.6L606 240.1Z" fill="#660063" stroke="#660063"/><path d="M630.1 231.3L654 240.1L651 239.8Z" fill="#660038" stroke="#660038"/><path d="M630.1 231.3L606 240.1L602.2 240.9Z" fill="#660065" stroke="#660065"/><path d="M630.1 231.3L656.9 240.6L654 240.1Z" fill="#660033" stroke="#660033"/><path d="M630.1 231.3L602.2 240.9L598.1 242Z" fill="#660065" stroke="#660065"/><path d="M630.1 231.3L659.9 241.2L656.9 240.6Z" fill="#660033" stroke="#660033"/><path d="M630.1 231.3L598.1 242L593.4 243.4Z" fill="#660065" stroke="#660065"/><path d="M630.1 231.3L663.1 242.2L659.9 241.2Z" fill="#660033" stroke="#660033"/></g>
<g opacity="0.80" stroke-width=".35" stroke-linejoin="round"><path d="M581 248.2L581 248.2L581 248.2L585.2 247.4L585.2 247.4L588.8 247L588.8 247L591.9 246.9L591.9 246.9L594.8 247.1L594.8 247.1L597.6 247.4L597.6 247.4L600.3 248L600.3 248L603.1 248.8L603.1 248.8L606 250L606 250L609.2 251.5L609.2 251.5L612.9 253.4L612.9 253.4L617.3 256.1L617.3 256.1L622.8 259.8L622.8 259.8L622.8 259.8L622.8 259.8L630.3 256.4L630.3 256.4L636.3 254L636.3 254L641.3 252.3L641.3 252.3L645.7 250.9L645.7 250.9L649.8 250L649.8 250L653.6 249.3L653.6 249.3L657.4 248.8L657.4 248.8L661.3 248.6L661.3 248.6L665.4 248.6L665.4 248.6L669.8 248.9L669.8 248.9L674.9 249.5L674.9 249.5L681 250.6L681 250.6L681 250.6L681 250.6L675.1 247.4L675.1 247.4L675.1 247.4L670.4 245.1L670.4 245.1L670.4 245.1L666.5 243.4L666.5 243.4L666.5 243.4L663.1 242.2L663.1 242.2L630.1 231.3L630.1 231.3L630.1 231.3L630.1 231.3L630.1 231.3L630.1 231.3L630.1 231.3L593.4 243.4L593.4 243.4L587.9 245.4L587.9 245.4L587.9 245.4Z" fill="#f20084" fill-rule="evenodd"/><path d="M630.1 231.3L593.4 243.4L587.9 245.4Z" fill="#d30048" stroke="#d30048"/><path d="M630.1 231.3L666.5 243.4L663.1 242.2Z" fill="#dc007c" stroke="#dc007c"/><path d="M630.1 231.3L587.9 245.4L581 248.2Z" fill="#d7004e" stroke="#d7004e"/><path d="M630.1 231.3L670.4 245.1L666.5 243.4Z" fill="#e10083" stroke="#e10083"/><path d="M630.1 231.3L581 248.2L581 248.2L585.2 247.4Z" fill="#dc0055" stroke="#dc0055"/><path d="M630.1 231.3L675.1 247.4L670.4 245.1Z" fill="#e60089" stroke="#e60089"/><path d="M630.1 231.3L585.2 247.4L588.8 247Z" fill="#e0005c" stroke="#e0005c"/><path d="M630.1 231.3L681 250.6L681 250.6L675.1 247.4Z" fill="#ea008e" stroke="#ea008e"/><path d="M630.1 231.3L588.8 247L591.9 246.9Z" fill="#e50063" stroke="#e50063"/><path d="M630.1 231.3L674.9 249.5L681 250.6Z" fill="#ef0093" stroke="#ef0093"/><path d="M630.1 231.3L591.9 246.9L594.8 247.1Z" fill="#ea006a" stroke="#ea006a"/><path d="M630.1 231.3L669.8 248.9L674.9 249.5Z" fill="#f30096" stroke="#f30096"/><path d="M630.1 231.3L594.8 247.1L597.6 247.4Z" fill="#ef0071" stroke="#ef0071"/><path d="M630.1 231.3L665.4 248.6L669.8 248.9Z" fill="#f80099" stroke="#f80099"/><path d="M630.1 231.3L597.6 247.4L600.3 248Z" fill="#f30078" stroke="#f30078"/><path d="M630.1 231.3L661.3 248.6L665.4 248.6Z" fill="#fb009a" stroke="#fb009a"/><path d="M630.1 231.3L600.3 248L603.1 248.8Z" fill="#f7007e" stroke="#f7007e"/><path d="M630.1 231.3L657.4 248.8L661.3 248.6Z" fill="#ff009a" stroke="#ff009a"/><path d="M630.1 231.3L603.1 248.8L606 250Z" fill="#fb0084" stroke="#fb0084"/><path d="M630.1 231.3L653.6 249.3L657.4 248.8Z" fill="#ff0099" stroke="#ff0099"/><path d="M630.1 231.3L649.8 250L653.6 249.3Z" fill="#ff0097" stroke="#ff0097"/><path d="M630.1 231.3L606 250L609.2 251.5Z" fill="#fe008a" stroke="#fe008a"/><path d="M630.1 231.3L645.7 250.9L649.8 250Z" fill="#ff0099" stroke="#ff0099"/><path d="M630.1 231.3L609.2 251.5L612.9 253.4Z" fill="#ff008f" stroke="#ff008f"/><path d="M630.1 231.3L641.3 252.3L645.7 250.9Z" fill="#ff009b" stroke="#ff009b"/><path d="M630.1 231.3L636.3 254L641.3 252.3Z" fill="#ff009b" stroke="#ff009b"/><path d="M630.1 231.3L612.9 253.4L617.3 256.1Z" fill="#ff0093" stroke="#ff0093"/><path d="M630.1 231.3L630.3 256.4L636.3 254Z" fill="#ff009a" stroke="#ff009a"/><path d="M630.1 231.3L617.3 256.1L622.8 259.8Z" fill="#ff0096" stroke="#ff0096"/><path d="M630.1 231.3L622.8 259.8L622.8 259.8L630.3 256.4Z" fill="#ff0099" stroke="#ff0099"/></g>
<path d="M655.9 239.8L654.9 239.6L653.8 239.3L652.7 239.1L651.4 238.9L650 238.6L648.6 238.4L647.1 238.3L645.6 238.1L644 237.9L642.3 237.8L640.6 237.7L638.9 237.6L637.2 237.5L635.4 237.5L633.6 237.4L631.8 237.4L630 237.4L628.1 237.4L626.3 237.4L624.5 237.5L622.8 237.5L621 237.6L619.3 237.7L617.6 237.8L616 238L614.4 238.1L612.9 238.3L611.4 238.5L610 238.7L608.7 238.9L607.4 239.1L606.2 239.3L605.2 239.6L604.2 239.9L603.3 240.1" class="c" stroke-opacity=".45"/>
<path d="M649.5 246.1L651 245.9L652.4 245.6L653.7 245.4L654.9 245.1L656 244.8L657 244.5L657.8 244.2L658.5 243.9L659.1 243.6L659.5 243.3L659.8 242.9L660 242.6L660 242.3L659.9 242L659.7 241.6L659.4 241.3L658.9 241L658.3 240.7L657.6 240.4L656.8 240.1L655.9 239.8M603.3 240.1L602.5 240.4L601.8 240.7L601.3 241L600.8 241.3L600.5 241.7L600.3 242L600.3 242.3L600.3 242.6L600.5 243L600.8 243.3L601.3 243.6L601.8 243.9L602.6 244.2L603.4 244.5L604.4 244.8L605.4 245.1L606.7 245.4L608 245.6L609.4 245.9L611 246.1L612.6 246.3L614.3 246.5L616.1 246.7L618 246.9L619.9 247L621.9 247.1L624 247.2L626 247.2L628.1 247.3L630.2 247.3L632.3 247.3L634.4 247.2L636.5 247.2L638.5 247.1L640.5 247L642.5 246.9L644.3 246.7L646.1 246.5L647.9 246.3L649.5 246.1" class="c"/>
<g opacity="0.80" stroke-width=".35" stroke-linejoin="round"><path d="M580.2 212.4L580.2 212.4L580.2 212.4L580.2 212.4L580.2 212.4L584.6 215L584.6 215L584.6 215L584.6 215L588.2 216.9L588.2 216.9L588.2 216.9L591.4 218.4L591.4 218.4L591.4 218.4L591.4 218.4L594.4 219.5L594.4 219.5L630.1 231.3L630.1 231.3L630.1 231.3L630.1 231.3L630.1 231.3L630.1 231.3L630.1 231.3L630.1 231.3L670.4 218L670.4 218L675.7 216.1L675.7 216.1L675.7 216.1L681.9 213.5L681.9 213.5L681.9 213.5L681.9 213.5L675.8 214.9L675.8 214.9L671 215.7L671 215.7L667 216.2L667 216.2L663.5 216.4L663.5 216.4L660.3 216.3L660.3 216.3L657.2 216.1L657.2 216.1L654.3 215.6L654.3 215.6L651.2 214.9L651.2 214.9L648 214L648 214L644.5 212.7L644.5 212.7L640.6 211L640.6 211L635.8 208.7L635.8 208.7L635.8 208.7L635.8 208.7L629.9 210.9L629.9 210.9L625 212.5L625 212.5L620.7 213.7L620.7 213.7L616.8 214.5L616.8 214.5L613.1 215.1L613.1 215.1L609.5 215.5L609.4 215.5L605.8 215.7L605.8 215.7L601.9 215.6L601.9 215.6L597.7 215.4L597.7 215.4L593 214.8L593 214.8L587.3 213.9L587.3 213.9Z" fill="#000084" fill-rule="evenodd"/><path d="M630.1 231.3L635.8 208.7L635.8 208.7L629.9 210.9Z" fill="#000099" stroke="#000099"/><path d="M630.1 231.3L640.6 211L635.8 208.7Z" fill="#000096" stroke="#000096"/><path d="M630.1 231.3L629.9 210.9L625 212.5Z" fill="#00009a" stroke="#00009a"/><path d="M630.1 231.3L644.5 212.7L640.6 211Z" fill="#000093" stroke="#000093"/><path d="M630.1 231.3L625 212.5L620.7 213.7Z" fill="#00009b" stroke="#00009b"/><path d="M630.1 231.3L620.7 213.7L616.8 214.5Z" fill="#00009b" stroke="#00009b"/><path d="M630.1 231.3L648 214L644.5 212.7Z" fill="#00008f" stroke="#00008f"/><path d="M630.1 231.3L616.8 214.5L613.1 215.1Z" fill="#000099" stroke="#000099"/><path d="M630.1 231.3L651.2 214.9L648 214Z" fill="#00008a" stroke="#00008a"/><path d="M630.1 231.3L613.1 215.1L609.4 215.5Z" fill="#000097" stroke="#000097"/><path d="M630.1 231.3L609.4 215.5L605.8 215.7Z" fill="#000099" stroke="#000099"/><path d="M630.1 231.3L654.3 215.6L651.2 214.9Z" fill="#000084" stroke="#000084"/><path d="M630.1 231.3L605.8 215.7L601.9 215.6Z" fill="#00009a" stroke="#00009a"/><path d="M630.1 231.3L657.2 216.1L654.3 215.6Z" fill="#00007e" stroke="#00007e"/><path d="M630.1 231.3L601.9 215.6L597.7 215.4Z" fill="#00009a" stroke="#00009a"/><path d="M630.1 231.3L660.3 216.3L657.2 216.1Z" fill="#000078" stroke="#000078"/><path d="M630.1 231.3L597.7 215.4L593 214.8Z" fill="#000099" stroke="#000099"/><path d="M630.1 231.3L663.5 216.4L660.3 216.3Z" fill="#000071" stroke="#000071"/><path d="M630.1 231.3L593 214.8L587.3 213.9Z" fill="#000096" stroke="#000096"/><path d="M630.1 231.3L667 216.2L663.5 216.4Z" fill="#00006a" stroke="#00006a"/><path d="M630.1 231.3L587.3 213.9L580.2 212.4Z" fill="#000093" stroke="#000093"/><path d="M630.1 231.3L671 215.7L667 216.2Z" fill="#000063" stroke="#000063"/><path d="M630.1 231.3L580.2 212.4L580.2 212.4L584.6 215Z" fill="#00008e" stroke="#00008e"/><path d="M630.1 231.3L675.8 214.9L671 215.7Z" fill="#00005c" stroke="#00005c"/><path d="M630.1 231.3L584.6 215L588.2 216.9Z" fill="#000089" stroke="#000089"/><path d="M630.1 231.3L681.9 213.5L681.9 213.5L675.8 214.9Z" fill="#000055" stroke="#000055"/><path d="M630.1 231.3L588.2 216.9L591.4 218.4Z" fill="#000083" stroke="#000083"/><path d="M630.1 231.3L675.7 216.1L681.9 213.5Z" fill="#00004e" stroke="#00004e"/><path d="M630.1 231.3L591.4 218.4L594.4 219.5Z" fill="#00007c" stroke="#00007c"/><path d="M630.1 231.3L670.4 218L675.7 216.1Z" fill="#000048" stroke="#000048"/></g>
<g opacity="0.80" stroke-width=".35" stroke-linejoin="round"><path d="M594.4 219.5L594.4 219.5L630.1 231.3L630.1 231.3L630.1 231.3L630.1 231.3L630.1 231.3L630.1 231.3L630.1 231.3L630.1 231.3L630.1 231.3L630.1 231.3L670.4 218L670.4 218L670.4 218L665.9 219.4L665.9 219.4L661.7 220.4L661.7 220.4L657.8 221.1L657.8 221.1L654 221.6L654 221.6L650.1 221.9L650.1 221.9L646 221.9L646 221.9L641.5 221.6L641.5 221.6L636.4 221L636.4 221L630.3 220L630.3 220L622.7 218.4L622.7 218.4L622.7 218.4L622.7 218.4L622.7 218.4L617.1 219.8L617.1 219.8L612.6 220.7L612.6 220.7L608.9 221.2L608.9 221.2L605.7 221.3L605.7 221.3L602.7 221.2L602.7 221.2L599.9 220.9L599.9 220.9L597.2 220.3L597.2 220.3L594.4 219.5Z" fill="#00004d" fill-rule="evenodd"/><path d="M630.1 231.3L594.4 219.5L597.2 220.3Z" fill="#000033" stroke="#000033"/><path d="M630.1 231.3L665.9 219.4L670.4 218Z" fill="#000065" stroke="#000065"/><path d="M630.1 231.3L597.2 220.3L599.9 220.9Z" fill="#000033" stroke="#000033"/><path d="M630.1 231.3L661.7 220.4L665.9 219.4Z" fill="#000065" stroke="#000065"/><path d="M630.1 231.3L599.9 220.9L602.7 221.2Z" fill="#000033" stroke="#000033"/><path d="M630.1 231.3L657.8 221.1L661.7 220.4Z" fill="#000065" stroke="#000065"/><path d="M630.1 231.3L602.7 221.2L605.7 221.3Z" fill="#000038" stroke="#000038"/><path d="M630.1 231.3L654 221.6L657.8 221.1Z" fill="#000063" stroke="#000063"/><path d="M630.1 231.3L650.1 221.9L654 221.6Z" fill="#000060" stroke="#000060"/><path d="M630.1 231.3L605.7 221.3L608.9 221.2Z" fill="#00003c" stroke="#00003c"/><path d="M630.1 231.3L646 221.9L650.1 221.9Z" fill="#00005d" stroke="#00005d"/><path d="M630.1 231.3L608.9 221.2L612.6 220.7Z" fill="#000040" stroke="#000040"/><path d="M630.1 231.3L641.5 221.6L646 221.9Z" fill="#000058" stroke="#000058"/><path d="M630.1 231.3L636.4 221L641.5 221.6Z" fill="#000053" stroke="#000053"/><path d="M630.1 231.3L612.6 220.7L617.1 219.8Z" fill="#000043" stroke="#000043"/><path d="M630.1 231.3L630.3 220L636.4 221Z" fill="#00004d" stroke="#00004d"/><path d="M630.1 231.3L617.1 219.8L622.7 218.4Z" fill="#000045" stroke="#000045"/><path d="M630.1 231.3L622.7 218.4L622.7 218.4L630.3 220Z" fill="#000047" stroke="#000047"/></g>
<path d="M649.7 223.3L651.3 223.2L652.7 223L654 222.8L655.2 222.6L656.3 222.4L657.3 222.2L658.1 222L658.8 221.8M602.3 222.1L603.1 222.3L604.1 222.5L605.2 222.7L606.4 222.9L607.8 223.1L609.2 223.2L610.8 223.4L612.4 223.5L614.2 223.7L616 223.8L617.9 223.9L619.8 224L621.9 224L623.9 224.1L626 224.1L628.1 224.2L630.3 224.2L632.4 224.2L634.5 224.1L636.6 224.1L638.6 224L640.7 223.9L642.6 223.9L644.5 223.7L646.3 223.6L648.1 223.5L649.7 223.3" class="c" stroke-opacity=".45"/>
<path d="M658.8 221.8L659.4 221.6L659.8 221.4L660.1 221.1L660.3 220.9L660.3 220.7L660.2 220.5L660 220.2L659.7 220L659.2 219.8L658.6 219.6L657.9 219.4L657.1 219.2L656.2 219L655.2 218.8L654.1 218.7L652.9 218.5L651.6 218.4L650.2 218.2L648.8 218.1L647.3 217.9L645.7 217.8L644.1 217.7L642.5 217.6L640.8 217.6L639 217.5L637.2 217.4L635.4 217.4L633.6 217.4L631.8 217.4L630 217.4L628.1 217.4L626.3 217.4L624.5 217.4L622.7 217.5L620.9 217.5L619.2 217.6L617.5 217.7L615.9 217.8L614.3 217.9L612.7 218L611.2 218.1L609.8 218.3L608.5 218.4L607.2 218.6L606 218.7L604.9 218.9L603.9 219.1L603.1 219.3L602.3 219.5L601.6 219.7L601 219.9L600.6 220.1L600.3 220.3L600.1 220.5L600 220.8L600 221L600.2 221.2L600.5 221.4L601 221.7L601.6 221.9L602.3 222.1" class="c"/>
<path d="M577.4 196.5L622.3 200.2M622.3 200.2L684.9 197.1M577.4 196.5L579.9 303.5M684.9 197.1L682.1 308.1M579.9 303.5L622.6 324.6M622.6 324.6L682.1 308.1M579.4 281.8L580.3 282.2M578.9 261.5L579.9 261.8M578.5 240.9L579.4 241.1M578 219.8L578.9 220M583.7 305.4L585.3 305.1M629.4 322.8L628.1 322.2M599.6 313.3L601.2 312.9M654.1 315.9L652.8 315.4M617.6 322.2L619.2 321.7M676.6 309.7L675.3 309.2" class="bx"/>
<path d="M636.1 194.2L635.8 291.2" class="vl"/>
<text x="576.5" y="225.8" class="t" text-anchor="end">4</text>
<text x="576.5" y="246.9" class="t" text-anchor="end">3</text>
<text x="576.5" y="267.8" class="t" text-anchor="end">2</text>
<text x="576.5" y="288.4" class="t" text-anchor="end">1</text>
<text x="561.7" y="258.9" class="t">E</text>
<text x="583.8" y="320.2" class="t" text-anchor="middle">−1</text>
<text x="600" y="327.7" class="t" text-anchor="middle">0</text>
<text x="618.2" y="336.4" class="t" text-anchor="middle">1</text>
<text x="628.7" y="336.8" class="t" text-anchor="middle">−1</text>
<text x="653.5" y="330.2" class="t" text-anchor="middle">0</text>
<text x="676.5" y="323.2" class="t" text-anchor="middle">1</text>
<text x="594.7" y="341.8" class="t"><tspan class="i">k</tspan><tspan class="sb" dy="2">1</tspan></text>
<text x="648.1" y="345.3" class="t"><tspan class="i">k</tspan><tspan class="sb" dy="2">2</tspan></text>
</g>
<g>
<path d="M89.9 393.4L89.6 490.4M135.9 507.3L89.6 490.4M31.2 395.7L89.9 393.4M89.9 393.4L138.7 396.3" class="bk"/>
<g opacity="0.80" stroke-width=".35" stroke-linejoin="round"><path d="M60.2 478.5L60.2 478.5L63.8 477.7L63.8 477.7L67.3 477.2L67.3 477.2L70.9 476.8L70.9 476.8L74.7 476.6L74.7 476.6L78.9 476.6L78.9 476.6L83.7 476.9L83.7 476.9L89.4 477.4L89.4 477.4L89.4 477.4L89.4 477.4L94 477.2L94 477.2L97.9 477.3L97.9 477.3L101.2 477.5L101.2 477.5L104.3 478L104.4 478L107.3 478.6L107.3 478.6L107.3 478.6L83.9 472.6L83.9 472.6L83.9 472.6L60.2 478.5Z" fill="#660000" fill-rule="evenodd"/><path d="M83.9 472.6L89.4 477.4L89.4 477.4L83.7 476.9Z" fill="#660000" stroke="#660000"/><path d="M83.9 472.6L94 477.2L89.4 477.4Z" fill="#660000" stroke="#660000"/><path d="M83.9 472.6L83.7 476.9L78.9 476.6Z" fill="#660000" stroke="#660000"/><path d="M83.9 472.6L97.9 477.3L94 477.2Z" fill="#660000" stroke="#660000"/><path d="M83.9 472.6L78.9 476.6L74.7 476.6Z" fill="#660000" stroke="#660000"/><path d="M83.9 472.6L74.7 476.6L70.9 476.8Z" fill="#660000" stroke="#660000"/><path d="M83.9 472.6L101.2 477.5L97.9 477.3Z" fill="#660000" stroke="#660000"/><path d="M83.9 472.6L70.9 476.8L67.3 477.2Z" fill="#660000" stroke="#660000"/><path d="M83.9 472.6L104.3 478L101.2 477.5Z" fill="#660000" stroke="#660000"/><path d="M83.9 472.6L67.3 477.2L63.8 477.7Z" fill="#660000" stroke="#660000"/><path d="M83.9 472.6L63.8 477.7L60.2 478.5Z" fill="#660000" stroke="#660000"/><path d="M83.9 472.6L107.3 478.6L104.3 478Z" fill="#660000" stroke="#660000"/></g>
<g opacity="0.80" stroke-width=".35" stroke-linejoin="round"><path d="M35.7 488L35.7 488L35.7 488L39.8 488L39.8 488L43.3 488.2L43.3 488.2L46.4 488.6L46.4 488.6L49.3 489.2L49.3 489.2L52 490L52 490L54.6 491L54.6 491L57.4 492.2L57.4 492.2L60.2 493.8L60.2 493.8L63.4 495.7L63.4 495.7L67 498.2L67 498.2L71.3 501.4L71.3 501.4L76.7 505.9L76.7 505.9L76.7 505.9L76.8 505.9L84.1 502L84.1 502L89.9 499.2L89.9 499.2L94.8 497L94.8 497L99.1 495.4L99.1 495.4L103.1 494.1L103.1 494.1L106.9 493.1L106.9 493.1L110.6 492.3L110.6 492.3L114.4 491.8L114.4 491.8L118.4 491.4L118.4 491.4L122.8 491.3L122.8 491.3L127.8 491.4L127.8 491.4L133.8 491.9L133.8 491.9L133.8 491.9L133.8 491.9L128 488.1L128 488.1L123.4 485.4L123.4 485.4L119.6 483.3L119.6 483.3L119.6 483.3L116.2 481.7L116.2 481.7L116.2 481.7L113.1 480.4L113.1 480.4L113.1 480.4L110.2 479.4L110.2 479.4L110.2 479.4L107.3 478.6L107.3 478.6L83.9 472.6L83.9 472.6L83.9 472.6L83.9 472.6L83.9 472.6L83.9 472.6L60.2 478.5L60.2 478.5L56.5 479.5L56.5 479.5L56.5 479.5L52.4 480.8L52.4 480.8L47.9 482.6L47.9 482.6L47.9 482.6L42.4 484.9L42.4 484.9L42.4 484.9L35.7 488L35.7 488Z" fill="#ec0000" fill-rule="evenodd"/><path d="M83.9 472.6L60.2 478.5L56.5 479.5Z" fill="#c70000" stroke="#c70000"/><path d="M83.9 472.6L110.2 479.4L107.3 478.6Z" fill="#cf0000" stroke="#cf0000"/><path d="M83.9 472.6L56.5 479.5L52.4 480.8Z" fill="#cb0000" stroke="#cb0000"/><path d="M83.9 472.6L113.1 480.4L110.2 479.4Z" fill="#d30000" stroke="#d30000"/><path d="M83.9 472.6L52.4 480.8L47.9 482.6Z" fill="#ce0000" stroke="#ce0000"/><path d="M83.9 472.6L116.2 481.7L113.1 480.4Z" fill="#d70000" stroke="#d70000"/><path d="M83.9 472.6L47.9 482.6L42.4 484.9Z" fill="#d30000" stroke="#d30000"/><path d="M83.9 472.6L119.6 483.3L116.2 481.7Z" fill="#dc0000" stroke="#dc0000"/><path d="M83.9 472.6L42.4 484.9L35.7 488Z" fill="#d70000" stroke="#d70000"/><path d="M83.9 472.6L123.4 485.4L119.6 483.3Z" fill="#e10000" stroke="#e10000"/><path d="M83.9 472.6L35.7 488L35.7 488L39.8 488Z" fill="#dc0000" stroke="#dc0000"/><path d="M83.9 472.6L128 488.1L123.4 485.4Z" fill="#e60000" stroke="#e60000"/><path d="M83.9 472.6L39.8 488L43.3 488.2Z" fill="#e00000" stroke="#e00000"/><path d="M83.9 472.6L133.8 491.9L133.8 491.9L128 488.1Z" fill="#ea0000" stroke="#ea0000"/><path d="M83.9 472.6L43.3 488.2L46.4 488.6Z" fill="#e50000" stroke="#e50000"/><path d="M83.9 472.6L127.8 491.4L133.8 491.9Z" fill="#ef0000" stroke="#ef0000"/><path d="M83.9 472.6L46.4 488.6L49.3 489.2Z" fill="#ea0000" stroke="#ea0000"/><path d="M83.9 472.6L122.8 491.3L127.8 491.4Z" fill="#f30000" stroke="#f30000"/><path d="M83.9 472.6L49.3 489.2L52 490Z" fill="#ef0000" stroke="#ef0000"/><path d="M83.9 472.6L118.4 491.4L122.8 491.3Z" fill="#f80000" stroke="#f80000"/><path d="M83.9 472.6L52 490L54.6 491Z" fill="#f30000" stroke="#f30000"/><path d="M83.9 472.6L114.4 491.8L118.4 491.4Z" fill="#fb0000" stroke="#fb0000"/><path d="M83.9 472.6L54.6 491L57.4 492.2Z" fill="#f70000" stroke="#f70000"/><path d="M83.9 472.6L110.6 492.3L114.4 491.8Z" fill="#ff0000" stroke="#ff0000"/><path d="M83.9 472.6L57.4 492.2L60.2 493.8Z" fill="#fb0000" stroke="#fb0000"/><path d="M83.9 472.6L106.9 493.1L110.6 492.3Z" fill="#ff0000" stroke="#ff0000"/><path d="M83.9 472.6L103.1 494.1L106.9 493.1Z" fill="#ff0000" stroke="#ff0000"/><path d="M83.9 472.6L60.2 493.8L63.4 495.7Z" fill="#fe0000" stroke="#fe0000"/><path d="M83.9 472.6L99.1 495.4L103.1 494.1Z" fill="#ff0000" stroke="#ff0000"/><path d="M83.9 472.6L63.4 495.7L67 498.2Z" fill="#ff0000" stroke="#ff0000"/><path d="M83.9 472.6L94.8 497L99.1 495.4Z" fill="#ff0000" stroke="#ff0000"/><path d="M83.9 472.6L89.9 499.2L94.8 497Z" fill="#ff0000" stroke="#ff0000"/><path d="M83.9 472.6L67 498.2L71.3 501.4Z" fill="#ff0000" stroke="#ff0000"/><path d="M83.9 472.6L84.1 502L89.9 499.2Z" fill="#ff0000" stroke="#ff0000"/><path d="M83.9 472.6L71.3 501.4L76.7 505.9Z" fill="#ff0000" stroke="#ff0000"/><path d="M83.9 472.6L76.7 505.9L76.7 505.9L84.1 502Z" fill="#ff0000" stroke="#ff0000"/></g>
<path d="M103.4 477.6L102 477.3L100.6 477L99.1 476.7L97.5 476.5L95.9 476.2L94.2 476.1L92.5 475.9L90.8 475.8L89 475.7L87.3 475.6L85.5 475.5L83.7 475.5L81.9 475.5L80.2 475.6L78.4 475.6L76.7 475.7L74.9 475.9L73.3 476L71.6 476.2L70 476.4L68.4 476.7L66.9 476.9L65.5 477.2L64.1 477.5L62.8 477.9" class="c" stroke-opacity=".45"/>
<path d="M102.8 489.5L104.3 489.1L105.7 488.7L107 488.3L108.2 487.9L109.3 487.4L110.2 487L111 486.5L111.7 486L112.3 485.5L112.7 485L113 484.4L113.1 483.9L113.2 483.4L113.1 482.9L112.9 482.4L112.6 481.9L112.1 481.4L111.6 480.9L110.9 480.4L110.1 480L109.2 479.5L108.2 479.1L107.2 478.7L106 478.3L104.8 477.9L103.4 477.6M62.8 477.9L61.6 478.2L60.4 478.6L59.4 479L58.4 479.4L57.6 479.9L56.8 480.3L56.1 480.8L55.6 481.3L55.2 481.8L54.8 482.3L54.7 482.8L54.6 483.3L54.7 483.8L54.8 484.3L55.2 484.9L55.6 485.4L56.2 485.9L56.9 486.4L57.7 486.9L58.6 487.3L59.7 487.8L60.9 488.2L62.2 488.6L63.6 489L65.1 489.4L66.7 489.7L68.4 490.1L70.2 490.3L72 490.6L73.9 490.8L75.9 491L77.8 491.1L79.9 491.2L81.9 491.3L84 491.3L86 491.3L88.1 491.2L90.1 491.1L92.1 491L94.1 490.8L96 490.6L97.8 490.4L99.6 490.1L101.2 489.8L102.8 489.5" class="c"/>
<g opacity="0.80" stroke-width=".35" stroke-linejoin="round"><path d="M34.9 453.6L39.2 456.8L39.2 456.8L42.8 459.3L42.8 459.3L42.8 459.3L42.8 459.3L46 461.2L46 461.2L46 461.2L48.9 462.7L48.9 462.7L48.9 462.7L48.9 462.7L51.6 464L51.6 464L51.6 464L54.3 464.9L54.3 464.9L54.3 464.9L54.3 464.9L57.1 465.7L57.1 465.7L83.9 472.6L83.9 472.6L83.9 472.6L83.9 472.6L83.9 472.6L111 465.7L111 465.7L114.8 464.7L114.8 464.7L114.8 464.7L118.9 463.3L118.9 463.3L118.9 463.3L123.4 461.6L123.4 461.6L123.4 461.6L128.5 459.3L128.5 459.3L128.5 459.3L134.7 456.3L134.7 456.3L134.7 456.3L128.7 456.9L128.7 456.9L124 457.1L124 457.1L120.1 457.1L120.1 457.1L116.6 456.8L116.6 456.8L113.5 456.4L113.5 456.4L110.5 455.8L110.5 455.8L107.6 455L107.6 455L104.6 453.9L104.6 453.9L101.5 452.6L101.5 452.6L98.1 451L98.1 451L94.2 448.9L94.2 448.9L89.5 446.1L89.5 446.1L89.5 446.1L89.5 446.1L89.5 446.1L83.7 448.6L83.7 448.6L78.8 450.5L78.8 450.5L74.6 452L74.6 452L70.8 453.1L70.8 453.1L67.1 453.9L67.1 453.9L63.6 454.5L63.6 454.5L60 455L60 455L56.2 455.2L56.2 455.2L52.1 455.2L52.1 455.2L47.4 455L47.4 455L41.9 454.5L41.9 454.5L34.9 453.6L34.9 453.6L34.9 453.6L34.9 453.6Z" fill="#00bf7d" fill-rule="evenodd"/><path d="M83.9 472.6L89.5 446.1L89.5 446.1L83.7 448.6Z" fill="#00e199" stroke="#00e199"/><path d="M83.9 472.6L94.2 448.9L89.5 446.1Z" fill="#00de96" stroke="#00de96"/><path d="M83.9 472.6L83.7 448.6L78.8 450.5Z" fill="#00e39a" stroke="#00e39a"/><path d="M83.9 472.6L98.1 451L94.2 448.9Z" fill="#00da93" stroke="#00da93"/><path d="M83.9 472.6L78.8 450.5L74.6 452Z" fill="#00e49b" stroke="#00e49b"/><path d="M83.9 472.6L74.6 452L70.8 453.1Z" fill="#00e49b" stroke="#00e49b"/><path d="M83.9 472.6L101.5 452.6L98.1 451Z" fill="#00d58f" stroke="#00d58f"/><path d="M83.9 472.6L70.8 453.1L67.1 453.9Z" fill="#00e399" stroke="#00e399"/><path d="M83.9 472.6L104.6 453.9L101.5 452.6Z" fill="#00d08a" stroke="#00d08a"/><path d="M83.9 472.6L67.1 453.9L63.6 454.5Z" fill="#00e297" stroke="#00e297"/><path d="M83.9 472.6L63.6 454.5L60 455Z" fill="#00e099" stroke="#00e099"/><path d="M83.9 472.6L107.6 455L104.6 453.9Z" fill="#00ca84" stroke="#00ca84"/><path d="M83.9 472.6L60 455L56.2 455.2Z" fill="#00df9a" stroke="#00df9a"/><path d="M83.9 472.6L110.5 455.8L107.6 455Z" fill="#00c37e" stroke="#00c37e"/><path d="M83.9 472.6L56.2 455.2L52.1 455.2Z" fill="#00dc9a" stroke="#00dc9a"/><path d="M83.9 472.6L113.5 456.4L110.5 455.8Z" fill="#00bc78" stroke="#00bc78"/><path d="M83.9 472.6L52.1 455.2L47.4 455Z" fill="#00d899" stroke="#00d899"/><path d="M83.9 472.6L116.6 456.8L113.5 456.4Z" fill="#00b571" stroke="#00b571"/><path d="M83.9 472.6L47.4 455L41.9 454.5Z" fill="#00d496" stroke="#00d496"/><path d="M83.9 472.6L120.1 457.1L116.6 456.8Z" fill="#00ae6a" stroke="#00ae6a"/><path d="M83.9 472.6L41.9 454.5L34.9 453.6Z" fill="#00ce93" stroke="#00ce93"/><path d="M83.9 472.6L124 457.1L120.1 457.1Z" fill="#00a663" stroke="#00a663"/><path d="M83.9 472.6L34.9 453.6L34.9 453.6L39.2 456.8Z" fill="#00c88e" stroke="#00c88e"/><path d="M83.9 472.6L128.7 456.9L124 457.1Z" fill="#009f5c" stroke="#009f5c"/><path d="M83.9 472.6L39.2 456.8L42.8 459.3Z" fill="#00c289" stroke="#00c289"/><path d="M83.9 472.6L134.7 456.3L134.7 456.3L128.7 456.9Z" fill="#009855" stroke="#009855"/><path d="M83.9 472.6L42.8 459.3L46 461.2Z" fill="#00bb83" stroke="#00bb83"/><path d="M83.9 472.6L128.5 459.3L134.7 456.3Z" fill="#00914e" stroke="#00914e"/><path d="M83.9 472.6L46 461.2L48.9 462.7Z" fill="#00b37c" stroke="#00b37c"/><path d="M83.9 472.6L123.4 461.6L128.5 459.3Z" fill="#008b48" stroke="#008b48"/><path d="M83.9 472.6L48.9 462.7L51.6 464Z" fill="#00ac74" stroke="#00ac74"/><path d="M83.9 472.6L118.9 463.3L123.4 461.6Z" fill="#008646" stroke="#008646"/><path d="M83.9 472.6L51.6 464L54.3 464.9Z" fill="#00a46c" stroke="#00a46c"/><path d="M83.9 472.6L114.8 464.7L118.9 463.3Z" fill="#008245" stroke="#008245"/><path d="M83.9 472.6L54.3 464.9L57.1 465.7Z" fill="#009c64" stroke="#009c64"/><path d="M83.9 472.6L111 465.7L114.8 464.7Z" fill="#007f44" stroke="#007f44"/></g>
<g opacity="0.80" stroke-width=".35" stroke-linejoin="round"><path d="M57.1 465.7L57.1 465.7L83.9 472.6L83.9 472.6L83.9 472.6L83.9 472.6L83.9 472.6L111 465.7L111 465.7L111 465.7L107.2 466.6L107.2 466.6L103.4 467.1L103.4 467.1L99.4 467.5L99.4 467.5L95 467.7L95 467.7L90 467.6L90 467.6L84.1 467.1L84.1 467.1L76.7 466.2L76.7 466.2L76.7 466.2L76.7 466.2L71.1 466.7L71.1 466.7L66.8 466.8L66.8 466.8L63.1 466.7L63.1 466.7L60 466.3L60 466.3L57.1 465.7Z" fill="#003c4d" fill-rule="evenodd"/><path d="M83.9 472.6L57.1 465.7L60 466.3Z" fill="#003538" stroke="#003538"/><path d="M83.9 472.6L107.2 466.6L111 465.7Z" fill="#004463" stroke="#004463"/><path d="M83.9 472.6L103.4 467.1L107.2 466.6Z" fill="#004360" stroke="#004360"/><path d="M83.9 472.6L60 466.3L63.1 466.7Z" fill="#00363c" stroke="#00363c"/><path d="M83.9 472.6L99.4 467.5L103.4 467.1Z" fill="#00425d" stroke="#00425d"/><path d="M83.9 472.6L63.1 466.7L66.8 466.8Z" fill="#003840" stroke="#003840"/><path d="M83.9 472.6L95 467.7L99.4 467.5Z" fill="#004058" stroke="#004058"/><path d="M83.9 472.6L90 467.6L95 467.7Z" fill="#003f53" stroke="#003f53"/><path d="M83.9 472.6L66.8 466.8L71.1 466.7Z" fill="#003943" stroke="#003943"/><path d="M83.9 472.6L84.1 467.1L90 467.6Z" fill="#003c4d" stroke="#003c4d"/><path d="M83.9 472.6L71.1 466.7L76.7 466.2Z" fill="#003945" stroke="#003945"/><path d="M83.9 472.6L76.7 466.2L76.7 466.2L84.1 467.1Z" fill="#003a47" stroke="#003a47"/></g>
<path d="M103.1 467.6L104.6 467.3L106 467L107.3 466.7M62 467L63.4 467.3L64.9 467.6L66.5 467.9L68.3 468.1L70 468.3L71.9 468.6L73.8 468.7L75.8 468.9L77.8 469L79.9 469.1L81.9 469.1L84 469.1L86.1 469.1L88.2 469.1L90.2 469L92.2 468.9L94.2 468.7L96.1 468.6L98 468.4L99.7 468.1L101.4 467.9L103.1 467.6" class="c" stroke-opacity=".45"/>
<path d="M107.3 466.7L108.5 466.3L109.5 465.9L110.5 465.6L111.3 465.2L112 464.7L112.6 464.3L113 463.9L113.3 463.5L113.5 463.1L113.5 462.6L113.4 462.2L113.2 461.8L112.9 461.4L112.4 461L111.8 460.6L111.2 460.2L110.4 459.8L109.5 459.5L108.5 459.1L107.4 458.8L106.2 458.5L105 458.2L103.6 457.9L102.2 457.6L100.8 457.4L99.2 457.2L97.6 457L96 456.8L94.3 456.7L92.6 456.5L90.9 456.4L89.1 456.3L87.3 456.3L85.5 456.2L83.7 456.2L81.9 456.2L80.1 456.3L78.4 456.3L76.6 456.4L74.9 456.5L73.2 456.6L71.5 456.8L69.9 457L68.3 457.2L66.8 457.4L65.3 457.6L63.9 457.9L62.6 458.2L61.4 458.5L60.2 458.8L59.2 459.1L58.2 459.4L57.3 459.8L56.6 460.2L55.9 460.6L55.3 461L54.9 461.4L54.6 461.8L54.4 462.2L54.3 462.6L54.4 463L54.6 463.5L54.9 463.9L55.3 464.3L55.9 464.7L56.6 465.1L57.4 465.5L58.4 465.9L59.5 466.3L60.7 466.6L62 467" class="c"/>
<g opacity="0.80" stroke-width=".35" stroke-linejoin="round"><path d="M47.2 442.6L47.2 442.6L51.9 441.2L51.9 441.2L56 440.1L56 440.1L59.8 439.3L59.8 439.3L63.5 438.8L63.5 438.8L67 438.5L67 438.5L70.7 438.3L70.7 438.3L74.6 438.4L74.6 438.4L78.8 438.7L78.8 438.7L83.7 439.4L83.7 439.4L89.5 440.4L89.5 440.4L89.5 440.4L89.5 440.4L94.2 439.6L94.2 439.6L98.1 439.1L98.1 439.1L101.6 439L101.6 439L104.8 439L104.8 439L107.8 439.3L107.8 439.3L110.7 439.8L110.7 439.8L113.7 440.4L113.7 440.4L116.9 441.4L116.9 441.4L116.9 441.4L83.9 430.5L83.9 430.5L83.9 430.5L83.9 430.5L83.9 430.5L83.9 430.5L83.9 430.5L83.9 430.5L83.9 430.5L47.2 442.6Z" fill="#66004d" fill-rule="evenodd"/><path d="M83.9 430.5L89.5 440.4L89.5 440.4L83.7 439.4Z" fill="#660047" stroke="#660047"/><path d="M83.9 430.5L94.2 439.6L89.5 440.4Z" fill="#660045" stroke="#660045"/><path d="M83.9 430.5L83.7 439.4L78.8 438.7Z" fill="#66004d" stroke="#66004d"/><path d="M83.9 430.5L98.1 439.1L94.2 439.6Z" fill="#660043" stroke="#660043"/><path d="M83.9 430.5L78.8 438.7L74.6 438.4Z" fill="#660053" stroke="#660053"/><path d="M83.9 430.5L74.6 438.4L70.7 438.3Z" fill="#660058" stroke="#660058"/><path d="M83.9 430.5L101.6 439L98.1 439.1Z" fill="#660040" stroke="#660040"/><path d="M83.9 430.5L70.7 438.3L67 438.5Z" fill="#66005d" stroke="#66005d"/><path d="M83.9 430.5L104.8 439L101.6 439Z" fill="#66003c" stroke="#66003c"/><path d="M83.9 430.5L67 438.5L63.5 438.8Z" fill="#660060" stroke="#660060"/><path d="M83.9 430.5L63.5 438.8L59.8 439.3Z" fill="#660063" stroke="#660063"/><path d="M83.9 430.5L107.8 439.3L104.8 439Z" fill="#660038" stroke="#660038"/><path d="M83.9 430.5L59.8 439.3L56 440.1Z" fill="#660065" stroke="#660065"/><path d="M83.9 430.5L110.7 439.8L107.8 439.3Z" fill="#660033" stroke="#660033"/><path d="M83.9 430.5L56 440.1L51.9 441.2Z" fill="#660065" stroke="#660065"/><path d="M83.9 430.5L113.7 440.4L110.7 439.8Z" fill="#660033" stroke="#660033"/><path d="M83.9 430.5L51.9 441.2L47.2 442.6Z" fill="#660065" stroke="#660065"/><path d="M83.9 430.5L116.9 441.4L113.7 440.4Z" fill="#660033" stroke="#660033"/></g>
<g opacity="0.80" stroke-width=".35" stroke-linejoin="round"><path d="M34.8 447.4L34.8 447.4L34.8 447.4L39 446.6L39 446.6L42.6 446.2L42.6 446.2L45.7 446.1L45.7 446.1L48.6 446.3L48.6 446.3L51.4 446.6L51.4 446.6L54.1 447.2L54.1 447.2L56.9 448L56.9 448L59.8 449.2L59.8 449.2L63 450.7L63 450.7L66.7 452.6L66.7 452.6L71.1 455.3L71.1 455.3L76.6 459L76.6 459L76.6 459L76.6 459L76.6 459L84.1 455.6L84.1 455.6L90.1 453.2L90.1 453.2L95.1 451.5L95.1 451.5L99.5 450.1L99.5 450.1L103.6 449.2L103.6 449.2L107.4 448.5L107.4 448.5L111.2 448L111.2 448L115.1 447.8L115.1 447.8L119.2 447.8L119.2 447.8L123.6 448.1L123.6 448.1L128.7 448.7L128.7 448.7L134.8 449.8L134.8 449.8L134.8 449.8L134.8 449.8L128.9 446.6L128.9 446.6L128.9 446.6L124.2 444.3L124.2 444.3L124.2 444.3L120.3 442.6L120.3 442.6L120.3 442.6L116.9 441.4L116.9 441.4L83.9 430.5L83.9 430.5L83.9 430.5L83.9 430.5L83.9 430.5L83.9 430.5L83.9 430.5L47.2 442.6L47.2 442.6L41.7 444.6L41.7 444.6L41.7 444.6Z" fill="#f20084" fill-rule="evenodd"/><path d="M83.9 430.5L47.2 442.6L41.7 444.6Z" fill="#d30048" stroke="#d30048"/><path d="M83.9 430.5L120.3 442.6L116.9 441.4Z" fill="#dc007c" stroke="#dc007c"/><path d="M83.9 430.5L41.7 444.6L34.8 447.4Z" fill="#d7004e" stroke="#d7004e"/><path d="M83.9 430.5L124.2 444.3L120.3 442.6Z" fill="#e10083" stroke="#e10083"/><path d="M83.9 430.5L34.8 447.4L34.8 447.4L39 446.6Z" fill="#dc0055" stroke="#dc0055"/><path d="M83.9 430.5L128.9 446.6L124.2 444.3Z" fill="#e60089" stroke="#e60089"/><path d="M83.9 430.5L39 446.6L42.6 446.2Z" fill="#e0005c" stroke="#e0005c"/><path d="M83.9 430.5L134.8 449.8L134.8 449.8L128.9 446.6Z" fill="#ea008e" stroke="#ea008e"/><path d="M83.9 430.5L42.6 446.2L45.7 446.1Z" fill="#e50063" stroke="#e50063"/><path d="M83.9 430.5L128.7 448.7L134.8 449.8Z" fill="#ef0093" stroke="#ef0093"/><path d="M83.9 430.5L45.7 446.1L48.6 446.3Z" fill="#ea006a" stroke="#ea006a"/><path d="M83.9 430.5L123.6 448.1L128.7 448.7Z" fill="#f30096" stroke="#f30096"/><path d="M83.9 430.5L48.6 446.3L51.4 446.6Z" fill="#ef0071" stroke="#ef0071"/><path d="M83.9 430.5L119.2 447.8L123.6 448.1Z" fill="#f80099" stroke="#f80099"/><path d="M83.9 430.5L51.4 446.6L54.1 447.2Z" fill="#f30078" stroke="#f30078"/><path d="M83.9 430.5L115.1 447.8L119.2 447.8Z" fill="#fb009a" stroke="#fb009a"/><path d="M83.9 430.5L54.1 447.2L56.9 448Z" fill="#f7007e" stroke="#f7007e"/><path d="M83.9 430.5L111.2 448L115.1 447.8Z" fill="#ff009a" stroke="#ff009a"/><path d="M83.9 430.5L56.9 448L59.8 449.2Z" fill="#fb0084" stroke="#fb0084"/><path d="M83.9 430.5L107.4 448.5L111.2 448Z" fill="#ff0099" stroke="#ff0099"/><path d="M83.9 430.5L103.6 449.2L107.4 448.5Z" fill="#ff0097" stroke="#ff0097"/><path d="M83.9 430.5L59.8 449.2L63 450.7Z" fill="#fe008a" stroke="#fe008a"/><path d="M83.9 430.5L99.5 450.1L103.6 449.2Z" fill="#ff0099" stroke="#ff0099"/><path d="M83.9 430.5L63 450.7L66.7 452.6Z" fill="#ff008f" stroke="#ff008f"/><path d="M83.9 430.5L95.1 451.5L99.5 450.1Z" fill="#ff009b" stroke="#ff009b"/><path d="M83.9 430.5L90.1 453.2L95.1 451.5Z" fill="#ff009b" stroke="#ff009b"/><path d="M83.9 430.5L66.7 452.6L71.1 455.3Z" fill="#ff0093" stroke="#ff0093"/><path d="M83.9 430.5L84.1 455.6L90.1 453.2Z" fill="#ff009a" stroke="#ff009a"/><path d="M83.9 430.5L71.1 455.3L76.6 459Z" fill="#ff0096" stroke="#ff0096"/><path d="M83.9 430.5L76.6 459L76.6 459L84.1 455.6Z" fill="#ff0099" stroke="#ff0099"/></g>
<path d="M109.7 439L108.7 438.8L107.6 438.5L106.5 438.3L105.2 438.1L103.8 437.8L102.4 437.6L100.9 437.5L99.4 437.3L97.8 437.1L96.1 437L94.4 436.9L92.7 436.8L91 436.7L89.2 436.7L87.4 436.6L85.6 436.6L83.8 436.6L81.9 436.6L80.1 436.6L78.3 436.7L76.6 436.7L74.8 436.8L73.1 436.9L71.4 437L69.8 437.2L68.2 437.3L66.7 437.5L65.2 437.7L63.8 437.9L62.5 438.1L61.2 438.3L60 438.5L59 438.8L58 439.1L57.1 439.3" class="c" stroke-opacity=".45"/>
<path d="M103.3 445.3L104.8 445.1L106.2 444.8L107.5 444.6L108.7 444.3L109.8 444L110.8 443.7L111.6 443.4L112.3 443.1L112.9 442.8L113.3 442.5L113.6 442.1L113.8 441.8L113.8 441.5L113.7 441.2L113.5 440.8L113.2 440.5L112.7 440.2L112.1 439.9L111.4 439.6L110.6 439.3L109.7 439M57.1 439.3L56.3 439.6L55.6 439.9L55.1 440.2L54.6 440.5L54.3 440.9L54.1 441.2L54.1 441.5L54.1 441.8L54.3 442.2L54.6 442.5L55.1 442.8L55.6 443.1L56.4 443.4L57.2 443.7L58.2 444L59.2 444.3L60.5 444.6L61.8 444.8L63.2 445.1L64.8 445.3L66.4 445.5L68.1 445.7L69.9 445.9L71.8 446.1L73.7 446.2L75.7 446.3L77.8 446.4L79.8 446.4L81.9 446.5L84 446.5L86.1 446.5L88.2 446.4L90.3 446.4L92.3 446.3L94.3 446.2L96.3 446.1L98.1 445.9L99.9 445.7L101.7 445.5L103.3 445.3" class="c"/>
<g opacity="0.80" stroke-width=".35" stroke-linejoin="round"><path d="M34 411.6L34 411.6L34 411.6L34 411.6L34 411.6L38.4 414.2L38.4 414.2L38.4 414.2L38.4 414.2L42 416.1L42 416.1L42 416.1L45.2 417.6L45.2 417.6L45.2 417.6L45.2 417.6L48.2 418.7L48.2 418.7L83.9 430.5L83.9 430.5L83.9 430.5L83.9 430.5L83.9 430.5L83.9 430.5L83.9 430.5L83.9 430.5L124.2 417.2L124.2 417.2L129.5 415.3L129.5 415.3L129.5 415.3L135.7 412.7L135.7 412.7L135.7 412.7L135.7 412.7L129.6 414.1L129.6 414.1L124.8 414.9L124.8 414.9L120.8 415.4L120.8 415.4L117.3 415.6L117.3 415.6L114.1 415.5L114.1 415.5L111 415.3L111 415.3L108.1 414.8L108.1 414.8L105 414.1L105 414.1L101.8 413.2L101.8 413.2L98.3 411.9L98.3 411.9L94.4 410.2L94.4 410.2L89.6 407.9L89.6 407.9L89.6 407.9L89.6 407.9L83.7 410.1L83.7 410.1L78.8 411.7L78.8 411.7L74.5 412.9L74.5 412.9L70.6 413.7L70.6 413.7L66.9 414.3L66.9 414.3L63.3 414.7L63.2 414.7L59.6 414.9L59.6 414.9L55.7 414.8L55.7 414.8L51.5 414.6L51.5 414.6L46.8 414L46.8 414L41.1 413.1L41.1 413.1Z" fill="#000084" fill-rule="evenodd"/><path d="M83.9 430.5L89.6 407.9L89.6 407.9L83.7 410.1Z" fill="#000099" stroke="#000099"/><path d="M83.9 430.5L94.4 410.2L89.6 407.9Z" fill="#000096" stroke="#000096"/><path d="M83.9 430.5L83.7 410.1L78.8 411.7Z" fill="#00009a" stroke="#00009a"/><path d="M83.9 430.5L98.3 411.9L94.4 410.2Z" fill="#000093" stroke="#000093"/><path d="M83.9 430.5L78.8 411.7L74.5 412.9Z" fill="#00009b" stroke="#00009b"/><path d="M83.9 430.5L74.5 412.9L70.6 413.7Z" fill="#00009b" stroke="#00009b"/><path d="M83.9 430.5L101.8 413.2L98.3 411.9Z" fill="#00008f" stroke="#00008f"/><path d="M83.9 430.5L70.6 413.7L66.9 414.3Z" fill="#000099" stroke="#000099"/><path d="M83.9 430.5L105 414.1L101.8 413.2Z" fill="#00008a" stroke="#00008a"/><path d="M83.9 430.5L66.9 414.3L63.2 414.7Z" fill="#000097" stroke="#000097"/><path d="M83.9 430.5L63.2 414.7L59.6 414.9Z" fill="#000099" stroke="#000099"/><path d="M83.9 430.5L108.1 414.8L105 414.1Z" fill="#000084" stroke="#000084"/><path d="M83.9 430.5L59.6 414.9L55.7 414.8Z" fill="#00009a" stroke="#00009a"/><path d="M83.9 430.5L111 415.3L108.1 414.8Z" fill="#00007e" stroke="#00007e"/><path d="M83.9 430.5L55.7 414.8L51.5 414.6Z" fill="#00009a" stroke="#00009a"/><path d="M83.9 430.5L114.1 415.5L111 415.3Z" fill="#000078" stroke="#000078"/><path d="M83.9 430.5L51.5 414.6L46.8 414Z" fill="#000099" stroke="#000099"/><path d="M83.9 430.5L117.3 415.6L114.1 415.5Z" fill="#000071" stroke="#000071"/><path d="M83.9 430.5L46.8 414L41.1 413.1Z" fill="#000096" stroke="#000096"/><path d="M83.9 430.5L120.8 415.4L117.3 415.6Z" fill="#00006a" stroke="#00006a"/><path d="M83.9 430.5L41.1 413.1L34 411.6Z" fill="#000093" stroke="#000093"/><path d="M83.9 430.5L124.8 414.9L120.8 415.4Z" fill="#000063" stroke="#000063"/><path d="M83.9 430.5L34 411.6L34 411.6L38.4 414.2Z" fill="#00008e" stroke="#00008e"/><path d="M83.9 430.5L129.6 414.1L124.8 414.9Z" fill="#00005c" stroke="#00005c"/><path d="M83.9 430.5L38.4 414.2L42 416.1Z" fill="#000089" stroke="#000089"/><path d="M83.9 430.5L135.7 412.7L135.7 412.7L129.6 414.1Z" fill="#000055" stroke="#000055"/><path d="M83.9 430.5L42 416.1L45.2 417.6Z" fill="#000083" stroke="#000083"/><path d="M83.9 430.5L129.5 415.3L135.7 412.7Z" fill="#00004e" stroke="#00004e"/><path d="M83.9 430.5L45.2 417.6L48.2 418.7Z" fill="#00007c" stroke="#00007c"/><path d="M83.9 430.5L124.2 417.2L129.5 415.3Z" fill="#000048" stroke="#000048"/></g>
<g opacity="0.80" stroke-width=".35" stroke-linejoin="round"><path d="M48.2 418.7L48.2 418.7L83.9 430.5L83.9 430.5L83.9 430.5L83.9 430.5L83.9 430.5L83.9 430.5L83.9 430.5L83.9 430.5L83.9 430.5L83.9 430.5L124.2 417.2L124.2 417.2L124.2 417.2L119.7 418.6L119.7 418.6L115.5 419.6L115.5 419.6L111.6 420.3L111.6 420.3L107.8 420.8L107.8 420.8L103.9 421.1L103.9 421.1L99.8 421.1L99.8 421.1L95.3 420.8L95.3 420.8L90.2 420.2L90.2 420.2L84.1 419.2L84.1 419.2L76.5 417.6L76.5 417.6L76.5 417.6L76.5 417.6L76.5 417.6L70.9 419L70.9 419L66.4 419.9L66.4 419.9L62.7 420.4L62.7 420.4L59.5 420.5L59.5 420.5L56.5 420.4L56.5 420.4L53.7 420.1L53.7 420.1L51 419.5L51 419.5L48.2 418.7Z" fill="#00004d" fill-rule="evenodd"/><path d="M83.9 430.5L48.2 418.7L51 419.5Z" fill="#000033" stroke="#000033"/><path d="M83.9 430.5L119.7 418.6L124.2 417.2Z" fill="#000065" stroke="#000065"/><path d="M83.9 430.5L51 419.5L53.7 420.1Z" fill="#000033" stroke="#000033"/><path d="M83.9 430.5L115.5 419.6L119.7 418.6Z" fill="#000065" stroke="#000065"/><path d="M83.9 430.5L53.7 420.1L56.5 420.4Z" fill="#000033" stroke="#000033"/><path d="M83.9 430.5L111.6 420.3L115.5 419.6Z" fill="#000065" stroke="#000065"/><path d="M83.9 430.5L56.5 420.4L59.5 420.5Z" fill="#000038" stroke="#000038"/><path d="M83.9 430.5L107.8 420.8L111.6 420.3Z" fill="#000063" stroke="#000063"/><path d="M83.9 430.5L103.9 421.1L107.8 420.8Z" fill="#000060" stroke="#000060"/><path d="M83.9 430.5L59.5 420.5L62.7 420.4Z" fill="#00003c" stroke="#00003c"/><path d="M83.9 430.5L99.8 421.1L103.9 421.1Z" fill="#00005d" stroke="#00005d"/><path d="M83.9 430.5L62.7 420.4L66.4 419.9Z" fill="#000040" stroke="#000040"/><path d="M83.9 430.5L95.3 420.8L99.8 421.1Z" fill="#000058" stroke="#000058"/><path d="M83.9 430.5L90.2 420.2L95.3 420.8Z" fill="#000053" stroke="#000053"/><path d="M83.9 430.5L66.4 419.9L70.9 419Z" fill="#000043" stroke="#000043"/><path d="M83.9 430.5L84.1 419.2L90.2 420.2Z" fill="#00004d" stroke="#00004d"/><path d="M83.9 430.5L70.9 419L76.5 417.6Z" fill="#000045" stroke="#000045"/><path d="M83.9 430.5L76.5 417.6L76.5 417.6L84.1 419.2Z" fill="#000047" stroke="#000047"/></g>
<path d="M103.5 422.5L105.1 422.4L106.5 422.2L107.8 422L109 421.8L110.1 421.6L111.1 421.4L111.9 421.2L112.6 421M56.1 421.3L56.9 421.5L57.9 421.7L59 421.9L60.2 422.1L61.6 422.3L63 422.4L64.6 422.6L66.2 422.7L68 422.9L69.8 423L71.7 423.1L73.6 423.2L75.7 423.2L77.7 423.3L79.8 423.3L81.9 423.4L84.1 423.4L86.2 423.4L88.3 423.3L90.4 423.3L92.4 423.2L94.5 423.1L96.4 423.1L98.3 422.9L100.1 422.8L101.9 422.7L103.5 422.5" class="c" stroke-opacity=".45"/>
<path d="M112.6 421L113.2 420.8L113.6 420.6L113.9 420.3L114.1 420.1L114.1 419.9L114 419.7L113.8 419.4L113.5 419.2L113 419L112.4 418.8L111.7 418.6L110.9 418.4L110 418.2L109 418L107.9 417.9L106.7 417.7L105.4 417.6L104 417.4L102.6 417.3L101.1 417.1L99.5 417L97.9 416.9L96.3 416.8L94.6 416.8L92.8 416.7L91 416.6L89.2 416.6L87.4 416.6L85.6 416.6L83.8 416.6L81.9 416.6L80.1 416.6L78.3 416.6L76.5 416.7L74.7 416.7L73 416.8L71.3 416.9L69.7 417L68.1 417.1L66.5 417.2L65 417.3L63.6 417.5L62.3 417.6L61 417.8L59.8 417.9L58.7 418.1L57.7 418.3L56.9 418.5L56.1 418.7L55.4 418.9L54.8 419.1L54.4 419.3L54.1 419.5L53.9 419.7L53.8 420L53.8 420.2L54 420.4L54.3 420.6L54.8 420.9L55.4 421.1L56.1 421.3" class="c"/>
<path d="M31.2 395.7L76.1 399.4M76.1 399.4L138.7 396.3M31.2 395.7L33.7 502.7M138.7 396.3L135.9 507.3M33.7 502.7L76.4 523.8M76.4 523.8L135.9 507.3M33.2 481L34.1 481.4M32.7 460.7L33.7 461M32.3 440.1L33.2 440.3M31.8 419L32.7 419.2M37.5 504.6L39.1 504.3M83.2 522L81.9 521.4M53.4 512.5L55 512.1M107.9 515.1L106.6 514.6M71.4 521.4L73 520.9M130.4 508.9L129.1 508.4" class="bx"/>
<path d="M89.9 393.4L89.6 490.4" class="vl"/>
<text x="30.3" y="425" class="t" text-anchor="end">4</text>
<text x="30.3" y="446.1" class="t" text-anchor="end">3</text>
<text x="30.3" y="467" class="t" text-anchor="end">2</text>
<text x="30.3" y="487.6" class="t" text-anchor="end">1</text>
<text x="15.5" y="458.1" class="t">E</text>
<text x="37.6" y="519.4" class="t" text-anchor="middle">−1</text>
<text x="53.8" y="526.9" class="t" text-anchor="middle">0</text>
<text x="72" y="535.6" class="t" text-anchor="middle">1</text>
<text x="82.5" y="536" class="t" text-anchor="middle">−1</text>
<text x="107.3" y="529.4" class="t" text-anchor="middle">0</text>
<text x="130.3" y="522.4" class="t" text-anchor="middle">1</text>
<text x="48.5" y="541" class="t"><tspan class="i">k</tspan><tspan class="sb" dy="2">1</tspan></text>
<text x="101.9" y="544.5" class="t"><tspan class="i">k</tspan><tspan class="sb" dy="2">2</tspan></text>
</g>
<g>
<path d="M226.4 393.4L226.1 490.4M272.4 507.3L226.1 490.4M167.7 395.7L226.4 393.4M226.4 393.4L275.2 396.3" class="bk"/>
<g opacity="0.62" stroke-width=".35" stroke-linejoin="round"><path d="M179 489.9L179 489.9L184.4 486.4L184.4 486.4L189 483.8L189 483.8L193 481.9L193 481.9L196.7 480.5L196.7 480.5L200.3 479.7L200.3 479.7L203.8 479.2L203.8 479.2L207.4 479.1L207.4 479.1L211.2 479.4L211.2 479.4L215.4 480.2L215.4 480.2L220.2 481.6L220.2 481.6L225.9 483.8L225.9 483.8L225.9 483.8L225.9 483.8L225.9 483.8L230.5 482L230.5 482L234.3 480.9L234.3 480.9L237.7 480.4L237.7 480.4L240.8 480.3L240.8 480.3L243.8 480.6L243.8 480.6L246.7 481.3L246.7 481.3L249.6 482.5L249.6 482.5L252.7 484.1L252.7 484.1L256 486.3L256 486.3L256 486.3L220.4 462.2L220.4 462.2L220.4 462.2L220.4 462.2L220.4 462.2L179 489.9Z" fill="#660000" fill-rule="evenodd"/><path d="M220.4 462.2L225.9 483.8L225.9 483.8L220.2 481.6Z" fill="#660000" stroke="#660000"/><path d="M220.4 462.2L230.5 482L225.9 483.8Z" fill="#660000" stroke="#660000"/><path d="M220.4 462.2L220.2 481.6L215.4 480.2Z" fill="#660000" stroke="#660000"/><path d="M220.4 462.2L234.3 480.9L230.5 482Z" fill="#660000" stroke="#660000"/><path d="M220.4 462.2L215.4 480.2L211.2 479.4Z" fill="#660000" stroke="#660000"/><path d="M220.4 462.2L211.2 479.4L207.4 479.1Z" fill="#660000" stroke="#660000"/><path d="M220.4 462.2L237.7 480.4L234.3 480.9Z" fill="#660000" stroke="#660000"/><path d="M220.4 462.2L207.4 479.1L203.8 479.2Z" fill="#660000" stroke="#660000"/><path d="M220.4 462.2L240.8 480.3L237.7 480.4Z" fill="#660000" stroke="#660000"/><path d="M220.4 462.2L203.8 479.2L200.3 479.7Z" fill="#660000" stroke="#660000"/><path d="M220.4 462.2L200.3 479.7L196.7 480.5Z" fill="#660000" stroke="#660000"/><path d="M220.4 462.2L243.8 480.6L240.8 480.3Z" fill="#660000" stroke="#660000"/><path d="M220.4 462.2L196.7 480.5L193 481.9Z" fill="#660000" stroke="#660000"/><path d="M220.4 462.2L246.7 481.3L243.8 480.6Z" fill="#660000" stroke="#660000"/><path d="M220.4 462.2L193 481.9L189 483.8Z" fill="#660000" stroke="#660000"/><path d="M220.4 462.2L249.6 482.5L246.7 481.3Z" fill="#660000" stroke="#660000"/><path d="M220.4 462.2L189 483.8L184.4 486.4Z" fill="#660000" stroke="#660000"/><path d="M220.4 462.2L252.7 484.1L249.6 482.5Z" fill="#660000" stroke="#660000"/><path d="M220.4 462.2L184.4 486.4L179 489.9Z" fill="#660000" stroke="#660000"/><path d="M220.4 462.2L256 486.3L252.7 484.1Z" fill="#660000" stroke="#660000"/></g>
<g opacity="0.62" stroke-width=".35" stroke-linejoin="round"><path d="M172.3 495L176.4 493.2L176.4 493.2L179.9 492.1L179.9 492.1L183 491.7L183 491.7L183 491.7L185.8 491.7L185.8 491.7L185.8 491.7L188.5 492.2L188.5 492.2L188.5 492.2L191.2 493.1L191.2 493.1L193.9 494.5L193.9 494.5L196.8 496.4L196.8 496.4L199.9 499L199.9 499L203.5 502.5L203.5 502.5L207.8 507.2L207.8 507.2L213.3 513.8L213.3 513.8L213.3 513.8L213.3 513.8L213.3 513.8L213.3 513.8L220.6 507.8L220.6 507.8L226.4 503.5L226.4 503.5L231.3 500.3L231.3 500.3L235.6 498L235.6 498L239.6 496.4L239.6 496.4L243.4 495.3L243.4 495.3L247.1 494.6L247.1 494.6L250.9 494.4L250.9 494.4L254.9 494.6L254.9 494.6L259.2 495.4L259.2 495.4L264.2 496.8L264.2 496.8L270.1 499.1L270.1 499.1L270.1 499.1L270.1 499.1L264.4 493.3L264.4 493.3L264.4 493.3L259.9 489.3L259.9 489.3L259.9 489.3L256 486.3L256 486.3L220.4 462.2L220.4 462.2L220.4 462.2L220.4 462.2L179 489.9L179 489.9L172.3 495L172.3 495L172.3 495Z" fill="#ee0000" fill-rule="evenodd"/><path d="M220.4 462.2L179 489.9L172.3 495Z" fill="#bd0000" stroke="#bd0000"/><path d="M220.4 462.2L172.3 495L172.3 495L176.4 493.2Z" fill="#c50000" stroke="#c50000"/><path d="M220.4 462.2L259.9 489.3L256 486.3Z" fill="#ce0000" stroke="#ce0000"/><path d="M220.4 462.2L264.4 493.3L259.9 489.3Z" fill="#d60000" stroke="#d60000"/><path d="M220.4 462.2L176.4 493.2L179.9 492.1Z" fill="#cd0000" stroke="#cd0000"/><path d="M220.4 462.2L270.1 499.1L270.1 499.1L264.4 493.3Z" fill="#de0000" stroke="#de0000"/><path d="M220.4 462.2L179.9 492.1L183 491.7Z" fill="#d50000" stroke="#d50000"/><path d="M220.4 462.2L264.2 496.8L270.1 499.1Z" fill="#e60000" stroke="#e60000"/><path d="M220.4 462.2L183 491.7L185.8 491.7Z" fill="#de0000" stroke="#de0000"/><path d="M220.4 462.2L259.2 495.4L264.2 496.8Z" fill="#ee0000" stroke="#ee0000"/><path d="M220.4 462.2L185.8 491.7L188.5 492.2Z" fill="#e60000" stroke="#e60000"/><path d="M220.4 462.2L254.9 494.6L259.2 495.4Z" fill="#f50000" stroke="#f50000"/><path d="M220.4 462.2L188.5 492.2L191.2 493.1Z" fill="#ed0000" stroke="#ed0000"/><path d="M220.4 462.2L250.9 494.4L254.9 494.6Z" fill="#fc0000" stroke="#fc0000"/><path d="M220.4 462.2L191.2 493.1L193.9 494.5Z" fill="#f50000" stroke="#f50000"/><path d="M220.4 462.2L247.1 494.6L250.9 494.4Z" fill="#ff0000" stroke="#ff0000"/><path d="M220.4 462.2L193.9 494.5L196.8 496.4Z" fill="#fb0000" stroke="#fb0000"/><path d="M220.4 462.2L243.4 495.3L247.1 494.6Z" fill="#ff0000" stroke="#ff0000"/><path d="M220.4 462.2L239.6 496.4L243.4 495.3Z" fill="#ff0000" stroke="#ff0000"/><path d="M220.4 462.2L196.8 496.4L199.9 499Z" fill="#ff0000" stroke="#ff0000"/><path d="M220.4 462.2L235.6 498L239.6 496.4Z" fill="#ff0000" stroke="#ff0000"/><path d="M220.4 462.2L199.9 499L203.5 502.5Z" fill="#ff0000" stroke="#ff0000"/><path d="M220.4 462.2L231.3 500.3L235.6 498Z" fill="#ff0000" stroke="#ff0000"/><path d="M220.4 462.2L226.4 503.5L231.3 500.3Z" fill="#ff0000" stroke="#ff0000"/><path d="M220.4 462.2L203.5 502.5L207.8 507.2Z" fill="#ff0000" stroke="#ff0000"/><path d="M220.4 462.2L220.6 507.8L226.4 503.5Z" fill="#ff0000" stroke="#ff0000"/><path d="M220.4 462.2L207.8 507.2L213.3 513.8Z" fill="#ff0000" stroke="#ff0000"/><path d="M220.4 462.2L213.3 513.8L213.3 513.8L220.6 507.8Z" fill="#ff0000" stroke="#ff0000"/></g>
<path d="M247.4 480.4L246.6 480L245.7 479.5L244.7 479.1L243.7 478.7L242.5 478.3L241.3 477.9L239.9 477.6L238.5 477.3L237.1 477L235.6 476.7L234 476.5L232.4 476.2L230.7 476.1L229 475.9L227.3 475.8L225.5 475.7L223.8 475.6L222 475.5L220.2 475.5L218.4 475.5L216.7 475.6L214.9 475.6L213.2 475.7L211.4 475.9L209.8 476L208.1 476.2L206.5 476.4L204.9 476.7L203.4 476.9L202 477.2L200.6 477.5L199.3 477.9L198.1 478.2L196.9 478.6L195.9 479L194.9 479.4L194.1 479.9L193.3 480.3L192.6 480.8" class="c" stroke-opacity=".45"/>
<path d="M239.3 489.5L240.8 489.1L242.2 488.7L243.5 488.3L244.7 487.9L245.8 487.4L246.7 487L247.5 486.5L248.2 486L248.8 485.5L249.2 485L249.5 484.4L249.6 483.9L249.7 483.4L249.6 482.9L249.4 482.4L249.1 481.9L248.6 481.4L248.1 480.9L247.4 480.4M192.6 480.8L192.1 481.3L191.7 481.8L191.3 482.3L191.2 482.8L191.1 483.3L191.2 483.8L191.3 484.3L191.7 484.9L192.1 485.4L192.7 485.9L193.4 486.4L194.2 486.9L195.1 487.3L196.2 487.8L197.4 488.2L198.7 488.6L200.1 489L201.6 489.4L203.2 489.7L204.9 490.1L206.7 490.3L208.5 490.6L210.4 490.8L212.4 491L214.3 491.1L216.4 491.2L218.4 491.3L220.5 491.3L222.5 491.3L224.6 491.2L226.6 491.1L228.6 491L230.6 490.8L232.5 490.6L234.3 490.4L236.1 490.1L237.7 489.8L239.3 489.5" class="c"/>
<g opacity="0.62" stroke-width=".35" stroke-linejoin="round"><path d="M178.7 470.1L178.7 470.1L184.1 466.6L184.1 466.6L188.7 464.1L188.7 464.1L192.8 462.4L192.8 462.4L196.5 461.2L196.6 461.2L200.1 460.4L200.1 460.4L203.7 460L203.7 460L207.3 460.1L207.3 460.1L211.1 460.5L211.1 460.5L215.4 461.5L215.4 461.5L220.2 463.1L220.2 463.1L225.9 465.5L225.9 465.5L225.9 465.5L225.9 465.5L230.6 463.4L230.6 463.4L234.5 462.1L234.5 462L237.9 461.3L237.9 461.3L241 461L241 461L244 461.2L244 461.2L246.9 461.7L246.9 461.7L249.9 462.7L249.9 462.7L253 464.2L253 464.2L256.4 466.2L256.4 466.2L256.4 466.2L234.5 451L234.5 451L233.9 450.7L233.9 450.7L233.9 450.7L233 450.3L233 450.3L233 450.3L232.9 450.3L231.8 450.1L231.8 450.1L231.8 450L231.8 450L230.5 449.8L230.5 449.8L230.5 449.8L229.1 449.6L229.1 449.6L227.5 449.4L227.5 449.4L225.8 449.2L224 449.1L222.2 449L220.3 449L218.4 449L216.6 449.1L214.8 449.2L213.1 449.4L213.1 449.4L211.6 449.6L211.6 449.6L210.1 449.8L210.1 449.8L210.1 449.8L208.8 450L208.8 450L208.8 450L208.8 450L207.7 450.3L207.7 450.3L207.7 450.3L207.7 450.3L206.9 450.7L206.9 450.7L206.9 450.7L206.2 451L206.2 451L178.7 470.1ZM225.8 449.2L225.8 449.2L225.8 449.2ZM224 449.1L224 449.1L224 449.1ZM222.2 449L222.2 449L222.2 449ZM220.3 449L220.3 449L220.3 449ZM218.4 449L218.4 449L218.4 449ZM216.6 449.1L216.6 449.1L216.6 449.1ZM214.8 449.2L214.8 449.2L214.8 449.2Z" fill="#004769" fill-rule="evenodd"/><path d="M222.2 449L225.9 465.5L225.9 465.5L220.2 463.1L220.3 449Z" fill="#004668" stroke="#004668"/><path d="M224 449.1L230.6 463.4L225.9 465.5L222.2 449Z" fill="#004565" stroke="#004565"/><path d="M220.3 449L220.2 463.1L215.4 461.5L218.4 449Z" fill="#004769" stroke="#004769"/><path d="M225.8 449.2L234.5 462L230.6 463.4L224 449.1Z" fill="#004361" stroke="#004361"/><path d="M218.4 449L215.4 461.5L211.1 460.5L216.6 449.1Z" fill="#004971" stroke="#004971"/><path d="M216.6 449.1L211.1 460.5L207.3 460.1L214.8 449.2Z" fill="#004c79" stroke="#004c79"/><path d="M227.5 449.4L237.9 461.3L234.5 462L225.8 449.2Z" fill="#00425c" stroke="#00425c"/><path d="M214.8 449.2L207.3 460.1L203.7 460L213.1 449.4Z" fill="#004f81" stroke="#004f81"/><path d="M229.1 449.6L241 461L237.9 461.3L227.5 449.4Z" fill="#003f55" stroke="#003f55"/><path d="M213.1 449.4L203.7 460L200.1 460.4L211.6 449.6Z" fill="#005187" stroke="#005187"/><path d="M211.6 449.6L200.1 460.4L196.6 461.2L210.1 449.8Z" fill="#00538c" stroke="#00538c"/><path d="M230.5 449.8L244 461.2L241 461L229.1 449.6Z" fill="#003d4e" stroke="#003d4e"/><path d="M210.1 449.8L196.6 461.2L192.8 462.4L208.8 450Z" fill="#00548f" stroke="#00548f"/><path d="M231.8 450L246.9 461.7L244 461.2L230.5 449.8Z" fill="#003a46" stroke="#003a46"/><path d="M208.8 450L192.8 462.4L188.7 464.1L207.7 450.3Z" fill="#005490" stroke="#005490"/><path d="M233 450.3L249.9 462.7L246.9 461.7L231.8 450Z" fill="#00373e" stroke="#00373e"/><path d="M207.7 450.3L188.7 464.1L184.1 466.6L206.9 450.7Z" fill="#00548f" stroke="#00548f"/><path d="M233.9 450.7L253 464.2L249.9 462.7L233 450.3Z" fill="#003435" stroke="#003435"/><path d="M206.9 450.7L184.1 466.6L178.7 470.1L206.2 451Z" fill="#00538d" stroke="#00538d"/><path d="M234.5 451L256.4 466.2L253 464.2L233.9 450.7Z" fill="#003333" stroke="#003333"/><path d="M220.4 462.2L205.9 452.5L206.5 452.8Z" fill="#003333" stroke="#003333"/><path d="M220.4 462.2L234.3 452.8L234.9 452.5Z" fill="#00538d" stroke="#00538d"/><path d="M220.4 462.2L206.5 452.8L207.3 453.2Z" fill="#003435" stroke="#003435"/><path d="M220.4 462.2L233.5 453.2L234.3 452.8Z" fill="#00548f" stroke="#00548f"/><path d="M220.4 462.2L207.3 453.2L208.4 453.5Z" fill="#00373e" stroke="#00373e"/><path d="M220.4 462.2L232.4 453.5L233.5 453.2Z" fill="#005490" stroke="#005490"/><path d="M220.4 462.2L208.4 453.5L209.7 453.8Z" fill="#003a46" stroke="#003a46"/><path d="M220.4 462.2L231.2 453.8L232.4 453.5Z" fill="#00548f" stroke="#00548f"/><path d="M220.4 462.2L209.7 453.8L211.1 454.1Z" fill="#003d4e" stroke="#003d4e"/><path d="M220.4 462.2L229.7 454.1L231.2 453.8Z" fill="#00538c" stroke="#00538c"/><path d="M220.4 462.2L211.1 454.1L212.8 454.3Z" fill="#003f55" stroke="#003f55"/><path d="M220.4 462.2L228.1 454.3L229.7 454.1Z" fill="#005187" stroke="#005187"/><path d="M220.4 462.2L212.8 454.3L214.6 454.5Z" fill="#00425c" stroke="#00425c"/><path d="M220.4 462.2L226.3 454.5L228.1 454.3Z" fill="#004f81" stroke="#004f81"/><path d="M220.4 462.2L214.6 454.5L216.5 454.6Z" fill="#004361" stroke="#004361"/><path d="M220.4 462.2L224.4 454.6L226.3 454.5Z" fill="#004c79" stroke="#004c79"/><path d="M220.4 462.2L216.5 454.6L218.4 454.7Z" fill="#004565" stroke="#004565"/><path d="M220.4 462.2L222.5 454.7L224.4 454.6Z" fill="#004971" stroke="#004971"/><path d="M220.4 462.2L218.4 454.7L220.4 454.7Z" fill="#004668" stroke="#004668"/><path d="M220.4 462.2L220.4 454.7L222.5 454.7Z" fill="#004769" stroke="#004769"/></g>
<g opacity="0.62" stroke-width=".35" stroke-linejoin="round"><path d="M171.9 475L171.9 475L171.9 475L176 472.8L176 472.8L179.5 471.4L179.5 471.4L182.6 470.7L182.6 470.7L182.6 470.7L185.5 470.5L185.5 470.5L185.5 470.5L188.2 470.8L188.2 470.8L188.2 470.8L190.9 471.5L190.9 471.5L190.9 471.5L193.6 472.7L193.6 472.7L196.5 474.4L196.5 474.4L199.7 476.8L199.7 476.8L203.4 480L203.4 480L207.7 484.5L207.7 484.5L213.2 490.8L213.2 490.8L213.2 490.8L213.2 490.8L213.2 490.8L220.6 485L220.6 485L226.5 480.9L226.5 480.9L231.4 477.9L231.4 477.9L235.8 475.7L235.8 475.7L239.8 474.2L239.8 474.2L243.6 473.2L243.6 473.2L247.4 472.7L247.4 472.7L251.2 472.7L251.2 472.7L255.2 473.1L255.2 473.1L259.6 474.1L259.6 474.1L264.6 475.8L264.6 475.8L270.6 478.4L270.6 478.4L270.6 478.4L270.6 478.4L270.6 478.4L264.9 472.9L264.9 472.9L264.9 472.9L260.3 469L260.3 469L260.3 469L260.3 469L256.4 466.2L256.4 466.2L234.5 451L234.5 451L234.5 451L233.9 450.7L233.9 450.7L233.9 450.7L233.9 450.7L233 450.3L233 450.3L233 450.3L232.9 450.3L231.8 450.1L231.8 450.1L231.8 450L231.8 450L230.5 449.8L230.5 449.8L229.1 449.6L229.1 449.6L227.5 449.4L227.5 449.4L225.8 449.2L224 449.1L222.2 449L220.3 449L218.4 449L216.6 449.1L214.8 449.2L213.1 449.4L213.1 449.4L211.6 449.6L211.6 449.6L210.1 449.8L210.1 449.8L208.8 450L208.8 450L208.8 450L208.8 450L207.7 450.3L207.7 450.3L207.7 450.3L207.7 450.3L206.9 450.7L206.9 450.7L206.9 450.7L206.9 450.7L206.2 451L206.2 451L206.2 451L178.7 470.1L178.7 470.1L171.9 475ZM225.8 449.2L225.8 449.2L225.8 449.2ZM224 449.1L224 449.1L224 449.1ZM222.2 449L222.2 449L222.2 449ZM220.3 449L220.3 449L220.3 449ZM218.4 449L218.4 449L218.4 449ZM216.6 449.1L216.6 449.1L216.6 449.1ZM214.8 449.2L214.8 449.2L214.8 449.2Z" fill="#00d29d" fill-rule="evenodd"/><path d="M220.4 462.2L220.3 449L218.4 449Z" fill="#00faba" stroke="#00faba"/><path d="M220.4 462.2L222.2 449L220.3 449Z" fill="#00f7b7" stroke="#00f7b7"/><path d="M220.4 462.2L218.4 449L216.6 449.1Z" fill="#00fcbb" stroke="#00fcbb"/><path d="M220.4 462.2L224 449.1L222.2 449Z" fill="#00f1b3" stroke="#00f1b3"/><path d="M220.4 462.2L216.6 449.1L214.8 449.2Z" fill="#00fdbb" stroke="#00fdbb"/><path d="M220.4 462.2L225.8 449.2L224 449.1Z" fill="#00ebad" stroke="#00ebad"/><path d="M220.4 462.2L214.8 449.2L213.1 449.4Z" fill="#00fcba" stroke="#00fcba"/><path d="M220.4 462.2L227.5 449.4L225.8 449.2Z" fill="#00e3a6" stroke="#00e3a6"/><path d="M220.4 462.2L213.1 449.4L211.6 449.6Z" fill="#00fcc0" stroke="#00fcc0"/><path d="M220.4 462.2L229.1 449.6L227.5 449.4Z" fill="#00d99e" stroke="#00d99e"/><path d="M206.2 451L178.7 470.1L171.9 475L205.8 451.4Z" fill="#00703f" stroke="#00703f"/><path d="M220.4 462.2L211.6 449.6L210.1 449.8Z" fill="#00fbc4" stroke="#00fbc4"/><path d="M220.4 462.2L230.5 449.8L229.1 449.6Z" fill="#00cf94" stroke="#00cf94"/><path d="M220.4 462.2L210.1 449.8L208.8 450Z" fill="#00f8c6" stroke="#00f8c6"/><path d="M220.4 462.2L231.8 450L230.5 449.8Z" fill="#00c48a" stroke="#00c48a"/><path d="M235 451.4L260.3 469L256.4 466.2L234.5 451Z" fill="#00ba9e" stroke="#00ba9e"/><path d="M205.8 451.4L171.9 475L171.9 475L176 472.8L205.6 451.7Z" fill="#007943" stroke="#007943"/><path d="M220.4 462.2L208.8 450L207.7 450.3Z" fill="#00f3c6" stroke="#00f3c6"/><path d="M220.4 462.2L233 450.3L231.8 450Z" fill="#00b87f" stroke="#00b87f"/><path d="M220.4 462.2L207.7 450.3L206.9 450.7Z" fill="#00ecc4" stroke="#00ecc4"/><path d="M220.4 462.2L233.9 450.7L233 450.3Z" fill="#00ab73" stroke="#00ab73"/><path d="M220.4 462.2L206.9 450.7L206.2 451Z" fill="#00e5c0" stroke="#00e5c0"/><path d="M220.4 462.2L234.5 451L233.9 450.7Z" fill="#009f67" stroke="#009f67"/><path d="M235.2 451.7L264.9 472.9L260.3 469L235 451.4Z" fill="#00c6a9" stroke="#00c6a9"/><path d="M220.4 462.2L206.2 451L205.8 451.4Z" fill="#00dbba" stroke="#00dbba"/><path d="M220.4 462.2L235 451.4L234.5 451Z" fill="#00925b" stroke="#00925b"/><path d="M220.4 462.2L205.8 451.4L205.6 451.7Z" fill="#00d1b2" stroke="#00d1b2"/><path d="M220.4 462.2L235.2 451.7L235 451.4Z" fill="#00854f" stroke="#00854f"/><path d="M205.6 451.7L176 472.8L179.5 471.4L205.6 452.1Z" fill="#00854f" stroke="#00854f"/><path d="M220.4 462.2L205.6 451.7L205.6 452.1Z" fill="#00c6a9" stroke="#00c6a9"/><path d="M220.4 462.2L235.2 452.1L235.2 451.7Z" fill="#007943" stroke="#007943"/><path d="M235.2 452.1L270.6 478.4L270.6 478.4L264.9 472.9L235.2 451.7Z" fill="#00d1b2" stroke="#00d1b2"/><path d="M220.4 462.2L205.6 452.1L205.9 452.5Z" fill="#00ba9e" stroke="#00ba9e"/><path d="M220.4 462.2L234.9 452.5L235.2 452.1Z" fill="#00703f" stroke="#00703f"/><path d="M205.6 452.1L179.5 471.4L182.6 470.7L205.9 452.5Z" fill="#00925b" stroke="#00925b"/><path d="M234.9 452.5L264.6 475.8L270.6 478.4L235.2 452.1Z" fill="#00dbba" stroke="#00dbba"/><path d="M205.9 452.5L182.6 470.7L185.5 470.5L206.5 452.8Z" fill="#009f67" stroke="#009f67"/><path d="M234.3 452.8L259.6 474.1L264.6 475.8L234.9 452.5Z" fill="#00e5c0" stroke="#00e5c0"/><path d="M206.5 452.8L185.5 470.5L188.2 470.8L207.3 453.2Z" fill="#00ab73" stroke="#00ab73"/><path d="M233.5 453.2L255.2 473.1L259.6 474.1L234.3 452.8Z" fill="#00ecc4" stroke="#00ecc4"/><path d="M207.3 453.2L188.2 470.8L190.9 471.5L208.4 453.5Z" fill="#00b87f" stroke="#00b87f"/><path d="M232.4 453.5L251.2 472.7L255.2 473.1L233.5 453.2Z" fill="#00f3c6" stroke="#00f3c6"/><path d="M208.4 453.5L190.9 471.5L193.6 472.7L209.7 453.8Z" fill="#00c48a" stroke="#00c48a"/><path d="M231.2 453.8L247.4 472.7L251.2 472.7L232.4 453.5Z" fill="#00f8c6" stroke="#00f8c6"/><path d="M209.7 453.8L193.6 472.7L196.5 474.4L211.1 454.1Z" fill="#00cf94" stroke="#00cf94"/><path d="M229.7 454.1L243.6 473.2L247.4 472.7L231.2 453.8Z" fill="#00fbc4" stroke="#00fbc4"/><path d="M228.1 454.3L239.8 474.2L243.6 473.2L229.7 454.1Z" fill="#00fcc0" stroke="#00fcc0"/><path d="M211.1 454.1L196.5 474.4L199.7 476.8L212.8 454.3Z" fill="#00d99e" stroke="#00d99e"/><path d="M226.3 454.5L235.8 475.7L239.8 474.2L228.1 454.3Z" fill="#00fcba" stroke="#00fcba"/><path d="M212.8 454.3L199.7 476.8L203.4 480L214.6 454.5Z" fill="#00e3a6" stroke="#00e3a6"/><path d="M224.4 454.6L231.4 477.9L235.8 475.7L226.3 454.5Z" fill="#00fdbb" stroke="#00fdbb"/><path d="M222.5 454.7L226.5 480.9L231.4 477.9L224.4 454.6Z" fill="#00fcbb" stroke="#00fcbb"/><path d="M214.6 454.5L203.4 480L207.7 484.5L216.5 454.6Z" fill="#00ebad" stroke="#00ebad"/><path d="M220.4 454.7L220.6 485L226.5 480.9L222.5 454.7Z" fill="#00faba" stroke="#00faba"/><path d="M216.5 454.6L207.7 484.5L213.2 490.8L218.4 454.7Z" fill="#00f1b3" stroke="#00f1b3"/><path d="M218.4 454.7L213.2 490.8L213.2 490.8L220.6 485L220.4 454.7Z" fill="#00f7b7" stroke="#00f7b7"/></g>
<path d="M248.3 460.6L247.7 460.2L246.9 459.8L246 459.5L245 459.1L243.9 458.8L242.7 458.5L241.5 458.2L240.1 457.9L238.7 457.6L237.3 457.4L235.7 457.2L234.1 457L232.5 456.8L230.8 456.7L229.1 456.5L227.4 456.4L225.6 456.3L223.8 456.3L222 456.2L220.2 456.2L218.4 456.2L216.6 456.3L214.9 456.3L213.1 456.4L211.4 456.5L209.7 456.6L208 456.8L206.4 457L204.8 457.2L203.3 457.4L201.8 457.6L200.4 457.9L199.1 458.2L197.9 458.5L196.7 458.8L195.7 459.1L194.7 459.4L193.8 459.8L193.1 460.2L192.4 460.6L191.8 461" class="c" stroke-opacity=".45"/>
<path d="M239.6 467.6L241.1 467.3L242.5 467L243.8 466.7L245 466.3L246 465.9L247 465.6L247.8 465.2L248.5 464.7L249.1 464.3L249.5 463.9L249.8 463.5L250 463.1L250 462.6L249.9 462.2L249.7 461.8L249.4 461.4L248.9 461L248.3 460.6M191.8 461L191.4 461.4L191.1 461.8L190.9 462.2L190.8 462.6L190.9 463L191.1 463.5L191.4 463.9L191.8 464.3L192.4 464.7L193.1 465.1L193.9 465.5L194.9 465.9L196 466.3L197.2 466.6L198.5 467L199.9 467.3L201.4 467.6L203 467.9L204.8 468.1L206.5 468.3L208.4 468.6L210.3 468.7L212.3 468.9L214.3 469L216.4 469.1L218.4 469.1L220.5 469.1L222.6 469.1L224.7 469.1L226.7 469L228.7 468.9L230.7 468.7L232.6 468.6L234.5 468.4L236.2 468.1L237.9 467.9L239.6 467.6" class="c"/>
<g opacity="0.62" stroke-width=".35" stroke-linejoin="round"><path d="M170.8 425.5L170.8 425.5L175.2 430.3L175.2 430.3L175.2 430.3L175.2 430.3L178.8 433.8L178.8 433.8L182.1 436.4L182.1 436.4L205.9 452.5L205.9 452.5L206.5 452.8L206.5 452.8L206.5 452.8L206.5 452.8L206.5 452.8L207.3 453.2L207.3 453.2L208.4 453.5L208.4 453.5L208.4 453.5L208.4 453.5L209.7 453.8L209.7 453.8L209.7 453.8L209.7 453.8L211.1 454L211.1 454.1L212.8 454.3L212.8 454.3L214.6 454.4L214.6 454.4L216.5 454.6L218.4 454.7L218.4 454.7L218.4 454.7L218.4 454.7L220.4 454.7L222.5 454.7L224.4 454.6L226.3 454.4L226.3 454.4L228.1 454.3L228.1 454.3L229.7 454.1L229.7 454.1L231.2 453.8L231.2 453.8L231.2 453.8L231.2 453.8L232.4 453.5L232.4 453.5L232.4 453.5L232.4 453.5L233.5 453.2L233.5 453.2L233.5 453.2L234.3 452.8L234.3 452.8L234.3 452.8L234.3 452.8L234.3 452.8L234.9 452.5L234.9 452.5L265.6 431.9L265.6 431.9L271.9 427.1L271.9 427.1L271.9 427.1L271.9 427.1L265.8 430.2L265.8 430.2L261 432.1L261 432.1L257 433.3L257 433.3L253.5 433.9L253.5 433.9L250.3 434L250.3 434L247.3 433.7L247.3 433.7L244.3 433L244.3 433L241.3 431.8L241.3 431.8L238.2 430.1L238.2 430.1L234.7 427.8L234.7 427.8L230.8 424.7L230.8 424.7L226.1 420.5L226.1 420.5L226.1 420.5L226.1 420.5L226.1 420.5L226.1 420.5L220.2 424.6L220.2 424.6L215.3 427.5L215.3 427.5L211 429.7L211 429.7L207.2 431.2L207.2 431.2L203.5 432.2L203.5 432.2L199.9 432.8L199.9 432.8L196.3 433L196.3 433L192.4 432.8L192.4 432.8L188.3 432L188.3 432L183.5 430.8L183.5 430.8L177.9 428.7L177.9 428.7L170.8 425.5L170.8 425.5ZM216.5 454.6L216.5 454.6L216.5 454.6ZM220.4 454.7L220.4 454.7L220.4 454.7ZM222.5 454.7L222.5 454.7L222.5 454.7ZM224.4 454.6L224.4 454.6L224.4 454.6Z" fill="#ee009d" fill-rule="evenodd"/><path d="M222.2 449L226.1 420.5L226.1 420.5L220.2 424.6L220.3 449Z" fill="#ff00b7" stroke="#ff00b7"/><path d="M224 449.1L230.8 424.7L226.1 420.5L222.2 449Z" fill="#ff00b3" stroke="#ff00b3"/><path d="M220.3 449L220.2 424.6L215.3 427.5L218.4 449Z" fill="#ff00ba" stroke="#ff00ba"/><path d="M225.8 449.2L234.7 427.8L230.8 424.7L224 449.1Z" fill="#ff00ad" stroke="#ff00ad"/><path d="M218.4 449L215.3 427.5L211 429.7L216.6 449.1Z" fill="#ff00bb" stroke="#ff00bb"/><path d="M216.6 449.1L211 429.7L207.2 431.2L214.8 449.2Z" fill="#ff00bb" stroke="#ff00bb"/><path d="M227.5 449.3L238.2 430.1L234.7 427.8L225.8 449.2Z" fill="#ff00a6" stroke="#ff00a6"/><path d="M214.8 449.2L207.2 431.2L203.5 432.2L213.1 449.3Z" fill="#ff00ba" stroke="#ff00ba"/><path d="M229.1 449.5L241.3 431.8L238.2 430.1L227.5 449.3Z" fill="#ff009e" stroke="#ff009e"/><path d="M213.1 449.3L203.5 432.2L199.9 432.8L211.6 449.5Z" fill="#ff00c0" stroke="#ff00c0"/><path d="M211.6 449.5L199.9 432.8L196.3 433L210.1 449.8Z" fill="#ff00c4" stroke="#ff00c4"/><path d="M230.5 449.8L244.3 433L241.3 431.8L229.1 449.5Z" fill="#fb0094" stroke="#fb0094"/><path d="M210.1 449.8L196.3 433L192.4 432.8L208.8 450Z" fill="#ff00c6" stroke="#ff00c6"/><path d="M231.8 450L247.3 433.7L244.3 433L230.5 449.8Z" fill="#f5008a" stroke="#f5008a"/><path d="M208.8 450L192.4 432.8L188.3 432L207.7 450.3Z" fill="#fc00c6" stroke="#fc00c6"/><path d="M233 450.3L250.3 434L247.3 433.7L231.8 450Z" fill="#ed007f" stroke="#ed007f"/><path d="M207.7 450.3L188.3 432L183.5 430.8L206.9 450.7Z" fill="#f500c4" stroke="#f500c4"/><path d="M233.9 450.7L253.5 433.9L250.3 434L233 450.3Z" fill="#e60073" stroke="#e60073"/><path d="M206.9 450.7L183.5 430.8L177.9 428.7L206.2 451Z" fill="#ee00c0" stroke="#ee00c0"/><path d="M234.5 451L257 433.3L253.5 433.9L233.9 450.7Z" fill="#de0067" stroke="#de0067"/><path d="M206.2 451L177.9 428.7L170.8 425.5L205.8 451.4Z" fill="#e600ba" stroke="#e600ba"/><path d="M235 451.4L261 432.1L257 433.3L234.5 451Z" fill="#d5005b" stroke="#d5005b"/><path d="M220.4 441.2L206.2 451L205.8 451.4Z" fill="#bd003f" stroke="#bd003f"/><path d="M220.4 441.2L235 451.4L234.5 451Z" fill="#ce009e" stroke="#ce009e"/><path d="M205.8 451.4L170.8 425.5L170.8 425.5L175.2 430.3L205.6 451.7Z" fill="#de00b2" stroke="#de00b2"/><path d="M220.4 441.2L205.8 451.4L205.6 451.7Z" fill="#c50043" stroke="#c50043"/><path d="M220.4 441.2L235.2 451.7L235 451.4Z" fill="#d600a9" stroke="#d600a9"/><path d="M235.2 451.7L265.8 430.2L261 432.1L235 451.4Z" fill="#cd004f" stroke="#cd004f"/><path d="M220.4 441.2L205.6 451.7L205.6 452.1Z" fill="#cd004f" stroke="#cd004f"/><path d="M220.4 441.2L235.2 452.1L235.2 451.7Z" fill="#de00b2" stroke="#de00b2"/><path d="M220.4 441.2L205.6 452.1L205.9 452.5Z" fill="#d5005b" stroke="#d5005b"/><path d="M220.4 441.2L234.9 452.5L235.2 452.1Z" fill="#e600ba" stroke="#e600ba"/><path d="M205.6 451.7L175.2 430.3L178.8 433.8L205.6 452.1Z" fill="#d600a9" stroke="#d600a9"/><path d="M220.4 441.2L205.9 452.5L206.5 452.8Z" fill="#de0067" stroke="#de0067"/><path d="M220.4 441.2L234.3 452.8L234.9 452.5Z" fill="#ee00c0" stroke="#ee00c0"/><path d="M220.4 441.2L206.5 452.8L207.3 453.2Z" fill="#e60073" stroke="#e60073"/><path d="M220.4 441.2L233.5 453.2L234.3 452.8Z" fill="#f500c4" stroke="#f500c4"/><path d="M220.4 441.2L207.3 453.2L208.4 453.5Z" fill="#ed007f" stroke="#ed007f"/><path d="M220.4 441.2L232.4 453.5L233.5 453.2Z" fill="#fc00c6" stroke="#fc00c6"/><path d="M235.2 452.1L271.9 427.1L271.9 427.1L265.8 430.2L235.2 451.7Z" fill="#c50043" stroke="#c50043"/><path d="M205.6 452.1L178.8 433.8L182.1 436.4L205.9 452.5Z" fill="#ce009e" stroke="#ce009e"/><path d="M220.4 441.2L208.4 453.5L209.7 453.8Z" fill="#f5008a" stroke="#f5008a"/><path d="M220.4 441.2L231.2 453.8L232.4 453.5Z" fill="#ff00c6" stroke="#ff00c6"/><path d="M220.4 441.2L209.7 453.8L211.1 454.1Z" fill="#fb0094" stroke="#fb0094"/><path d="M220.4 441.2L229.7 454.1L231.2 453.8Z" fill="#ff00c4" stroke="#ff00c4"/><path d="M234.9 452.5L265.6 431.9L271.9 427.1L235.2 452.1Z" fill="#bd003f" stroke="#bd003f"/><path d="M220.4 441.2L211.1 454.1L212.8 454.3Z" fill="#ff009e" stroke="#ff009e"/><path d="M220.4 441.2L228.1 454.3L229.7 454.1Z" fill="#ff00c0" stroke="#ff00c0"/><path d="M220.4 441.2L212.8 454.3L214.6 454.4Z" fill="#ff00a6" stroke="#ff00a6"/><path d="M220.4 441.2L226.3 454.4L228.1 454.3Z" fill="#ff00ba" stroke="#ff00ba"/><path d="M220.4 441.2L214.6 454.4L216.5 454.6Z" fill="#ff00ad" stroke="#ff00ad"/><path d="M220.4 441.2L224.4 454.6L226.3 454.4Z" fill="#ff00bb" stroke="#ff00bb"/><path d="M220.4 441.2L216.5 454.6L218.4 454.7Z" fill="#ff00b3" stroke="#ff00b3"/><path d="M220.4 441.2L222.5 454.7L224.4 454.6Z" fill="#ff00bb" stroke="#ff00bb"/><path d="M220.4 441.2L218.4 454.7L220.4 454.7Z" fill="#ff00b7" stroke="#ff00b7"/><path d="M220.4 441.2L220.4 454.7L222.5 454.7Z" fill="#ff00ba" stroke="#ff00ba"/></g>
<g opacity="0.62" stroke-width=".35" stroke-linejoin="round"><path d="M182.1 436.4L182.1 436.4L205.9 452.5L205.9 452.5L206.5 452.8L206.5 452.8L206.5 452.8L206.5 452.8L206.5 452.8L207.3 453.2L207.3 453.2L208.4 453.5L208.4 453.5L208.4 453.5L208.4 453.5L209.7 453.8L209.7 453.8L209.7 453.8L209.7 453.8L211.1 454L211.1 454.1L212.8 454.3L212.8 454.3L214.6 454.4L214.6 454.4L216.5 454.6L218.4 454.7L218.4 454.7L218.4 454.7L218.4 454.7L220.4 454.7L222.5 454.7L224.4 454.6L224.4 454.6L226.3 454.4L226.3 454.4L228.1 454.3L228.1 454.3L229.7 454.1L229.7 454.1L231.2 453.8L231.2 453.8L231.2 453.8L231.2 453.8L232.4 453.5L232.4 453.5L232.4 453.5L232.4 453.5L233.5 453.2L233.5 453.2L233.5 453.2L234.3 452.8L234.3 452.8L234.3 452.8L234.3 452.8L234.3 452.8L234.9 452.5L234.9 452.5L265.6 431.9L265.6 431.9L265.6 431.9L260.4 435.3L260.4 435.3L255.8 437.8L255.8 437.8L251.7 439.6L251.7 439.6L247.8 440.9L247.8 440.9L244 441.6L244 441.6L240.1 441.9L240.1 441.9L236.1 441.7L236.1 441.7L231.7 441L231.7 441L226.6 439.6L226.6 439.6L220.6 437.3L220.6 437.3L213.1 433.7L213.1 433.7L213.1 433.7L207.5 437L207.5 437L203.1 439.1L203.1 439.1L199.4 440.3L199.4 440.3L196.2 440.9L196.2 440.9L196.2 440.9L193.3 440.9L193.3 440.9L193.3 440.9L190.5 440.5L190.5 440.5L190.5 440.5L187.8 439.6L187.8 439.6L185 438.3L185 438.3L182.1 436.4ZM216.5 454.6L216.5 454.6L216.5 454.6ZM220.4 454.7L220.4 454.7L220.4 454.7ZM222.5 454.7L222.5 454.7L222.5 454.7Z" fill="#660069" fill-rule="evenodd"/><path d="M220.4 441.2L220.3 449L218.4 449Z" fill="#660069" stroke="#660069"/><path d="M220.4 441.2L222.2 449L220.3 449Z" fill="#660068" stroke="#660068"/><path d="M220.4 441.2L218.4 449L216.6 449.1Z" fill="#660071" stroke="#660071"/><path d="M220.4 441.2L224 449.1L222.2 449Z" fill="#660065" stroke="#660065"/><path d="M220.4 441.2L216.6 449.1L214.8 449.2Z" fill="#660079" stroke="#660079"/><path d="M220.4 441.2L225.8 449.2L224 449.1Z" fill="#660061" stroke="#660061"/><path d="M220.4 441.2L214.8 449.2L213.1 449.3Z" fill="#660081" stroke="#660081"/><path d="M220.4 441.2L227.5 449.3L225.8 449.2Z" fill="#66005c" stroke="#66005c"/><path d="M220.4 441.2L213.1 449.3L211.6 449.5Z" fill="#660087" stroke="#660087"/><path d="M220.4 441.2L229.1 449.5L227.5 449.3Z" fill="#660055" stroke="#660055"/><path d="M220.4 441.2L211.6 449.5L210.1 449.8Z" fill="#66008c" stroke="#66008c"/><path d="M220.4 441.2L230.5 449.8L229.1 449.5Z" fill="#66004e" stroke="#66004e"/><path d="M220.4 441.2L210.1 449.8L208.8 450Z" fill="#66008f" stroke="#66008f"/><path d="M220.4 441.2L231.8 450L230.5 449.8Z" fill="#660046" stroke="#660046"/><path d="M220.4 441.2L208.8 450L207.7 450.3Z" fill="#660090" stroke="#660090"/><path d="M220.4 441.2L233 450.3L231.8 450Z" fill="#66003e" stroke="#66003e"/><path d="M220.4 441.2L207.7 450.3L206.9 450.7Z" fill="#66008f" stroke="#66008f"/><path d="M220.4 441.2L233.9 450.7L233 450.3Z" fill="#660035" stroke="#660035"/><path d="M220.4 441.2L206.9 450.7L206.2 451Z" fill="#66008d" stroke="#66008d"/><path d="M220.4 441.2L234.5 451L233.9 450.7Z" fill="#660033" stroke="#660033"/><path d="M205.9 452.5L182.1 436.4L185 438.3L206.5 452.8Z" fill="#660033" stroke="#660033"/><path d="M234.3 452.8L260.4 435.3L265.6 431.9L234.9 452.5Z" fill="#66008d" stroke="#66008d"/><path d="M206.5 452.8L185 438.3L187.8 439.6L207.3 453.2Z" fill="#660035" stroke="#660035"/><path d="M233.5 453.2L255.8 437.8L260.4 435.3L234.3 452.8Z" fill="#66008f" stroke="#66008f"/><path d="M207.3 453.2L187.8 439.6L190.5 440.5L208.4 453.5Z" fill="#66003e" stroke="#66003e"/><path d="M232.4 453.5L251.7 439.6L255.8 437.8L233.5 453.2Z" fill="#660090" stroke="#660090"/><path d="M208.4 453.5L190.5 440.5L193.3 440.9L209.7 453.8Z" fill="#660046" stroke="#660046"/><path d="M231.2 453.8L247.8 440.9L251.7 439.6L232.4 453.5Z" fill="#66008f" stroke="#66008f"/><path d="M209.7 453.8L193.3 440.9L196.2 440.9L211.1 454.1Z" fill="#66004e" stroke="#66004e"/><path d="M229.7 454.1L244 441.6L247.8 440.9L231.2 453.8Z" fill="#66008c" stroke="#66008c"/><path d="M228.1 454.3L240.1 441.9L244 441.6L229.7 454.1Z" fill="#660087" stroke="#660087"/><path d="M211.1 454.1L196.2 440.9L199.4 440.3L212.8 454.3Z" fill="#660055" stroke="#660055"/><path d="M226.3 454.4L236.1 441.7L240.1 441.9L228.1 454.3Z" fill="#660081" stroke="#660081"/><path d="M212.8 454.3L199.4 440.3L203.1 439.1L214.6 454.4Z" fill="#66005c" stroke="#66005c"/><path d="M224.4 454.6L231.7 441L236.1 441.7L226.3 454.4Z" fill="#660079" stroke="#660079"/><path d="M222.5 454.7L226.6 439.6L231.7 441L224.4 454.6Z" fill="#660071" stroke="#660071"/><path d="M214.6 454.4L203.1 439.1L207.5 437L216.5 454.6Z" fill="#660061" stroke="#660061"/><path d="M220.4 454.7L220.6 437.3L226.6 439.6L222.5 454.7Z" fill="#660069" stroke="#660069"/><path d="M216.5 454.6L207.5 437L213.1 433.7L218.4 454.7Z" fill="#660065" stroke="#660065"/><path d="M218.4 454.7L213.1 433.7L213.1 433.7L220.6 437.3L220.4 454.7Z" fill="#660068" stroke="#660068"/></g>
<path d="M239.8 445.3L241.3 445.1L242.7 444.8L244 444.6L245.2 444.3L246.3 444L247.3 443.7L248.1 443.4L248.8 443.1L249.4 442.8L249.8 442.5M191.6 442.8L192.1 443.1L192.9 443.4L193.7 443.7L194.7 444L195.7 444.3L197 444.6L198.3 444.8L199.7 445.1L201.3 445.3L202.9 445.5L204.6 445.7L206.4 445.9L208.3 446.1L210.2 446.2L212.2 446.3L214.3 446.4L216.3 446.4L218.4 446.5L220.5 446.5L222.6 446.5L224.7 446.4L226.8 446.4L228.8 446.3L230.8 446.2L232.8 446.1L234.6 445.9L236.4 445.7L238.2 445.5L239.8 445.3" class="c" stroke-opacity=".45"/>
<path d="M249.8 442.5L250.1 442.1L250.3 441.8L250.3 441.5L250.2 441.2L250 440.8L249.7 440.5L249.2 440.2L248.6 439.9L247.9 439.6L247.1 439.3L246.2 439L245.2 438.8L244.1 438.5L243 438.3L241.7 438.1L240.3 437.8L238.9 437.6L237.4 437.5L235.9 437.3L234.3 437.1L232.6 437L230.9 436.9L229.2 436.8L227.5 436.7L225.7 436.7L223.9 436.6L222.1 436.6L220.3 436.6L218.4 436.6L216.6 436.6L214.8 436.7L213.1 436.7L211.3 436.8L209.6 436.9L207.9 437L206.3 437.2L204.7 437.3L203.2 437.5L201.7 437.7L200.3 437.9L199 438.1L197.7 438.3L196.5 438.5L195.5 438.8L194.5 439.1L193.6 439.3L192.8 439.6L192.1 439.9L191.6 440.2L191.1 440.5L190.8 440.9L190.6 441.2L190.6 441.5L190.6 441.8L190.8 442.2L191.1 442.5L191.6 442.8" class="c"/>
<g opacity="0.62" stroke-width=".35" stroke-linejoin="round"><path d="M170.3 404.1L170.3 404.1L170.3 404.1L174.8 408.6L174.8 408.6L174.8 408.6L174.8 408.6L178.4 411.9L178.4 411.9L178.4 411.9L181.7 414.3L181.7 414.3L220.4 441.2L220.4 441.2L220.4 441.2L220.4 441.2L266.1 409.5L266.1 409.5L272.4 404.9L272.4 404.9L272.4 404.9L266.3 408.5L266.3 408.5L261.4 410.8L261.4 410.8L257.4 412.2L257.4 412.2L253.8 413L253.8 413L250.6 413.3L250.6 413.3L247.6 413.2L247.6 413.2L244.6 412.6L244.6 412.6L241.6 411.7L241.6 411.7L238.4 410.2L238.4 410.2L234.9 408.1L234.9 408.1L230.9 405.1L230.9 405.1L226.2 401.1L226.2 401.1L226.2 401.1L226.2 401.1L226.2 401.1L220.2 405.1L220.2 405.1L215.3 407.9L215.3 407.9L211 409.9L211 409.9L207.1 411.3L207.1 411.3L203.4 412.2L203.4 412.2L199.7 412.7L199.7 412.7L196.1 412.7L196.1 412.7L192.2 412.3L192.2 412.3L188 411.5L188 411.5L183.2 410L183.2 410L177.5 407.6L177.5 407.6L170.3 404.1L170.3 404.1Z" fill="#00009d" fill-rule="evenodd"/><path d="M220.4 441.2L226.2 401.1L226.2 401.1L220.2 405.1Z" fill="#0000b7" stroke="#0000b7"/><path d="M220.4 441.2L230.9 405.1L226.2 401.1Z" fill="#0000b3" stroke="#0000b3"/><path d="M220.4 441.2L220.2 405.1L215.3 407.9Z" fill="#0000ba" stroke="#0000ba"/><path d="M220.4 441.2L234.9 408.1L230.9 405.1Z" fill="#0000ad" stroke="#0000ad"/><path d="M220.4 441.2L215.3 407.9L211 409.9Z" fill="#0000bb" stroke="#0000bb"/><path d="M220.4 441.2L211 409.9L207.1 411.3Z" fill="#0000bb" stroke="#0000bb"/><path d="M220.4 441.2L238.4 410.2L234.9 408.1Z" fill="#0000a6" stroke="#0000a6"/><path d="M220.4 441.2L207.1 411.3L203.4 412.2Z" fill="#0000ba" stroke="#0000ba"/><path d="M220.4 441.2L241.6 411.7L238.4 410.2Z" fill="#00009e" stroke="#00009e"/><path d="M220.4 441.2L203.4 412.2L199.7 412.7Z" fill="#0000c0" stroke="#0000c0"/><path d="M220.4 441.2L199.7 412.7L196.1 412.7Z" fill="#0000c4" stroke="#0000c4"/><path d="M220.4 441.2L244.6 412.6L241.6 411.7Z" fill="#000094" stroke="#000094"/><path d="M220.4 441.2L196.1 412.7L192.2 412.3Z" fill="#0000c6" stroke="#0000c6"/><path d="M220.4 441.2L247.6 413.2L244.6 412.6Z" fill="#00008a" stroke="#00008a"/><path d="M220.4 441.2L192.2 412.3L188 411.5Z" fill="#0000c6" stroke="#0000c6"/><path d="M220.4 441.2L250.6 413.3L247.6 413.2Z" fill="#00007f" stroke="#00007f"/><path d="M220.4 441.2L188 411.5L183.2 410Z" fill="#0000c4" stroke="#0000c4"/><path d="M220.4 441.2L253.8 413L250.6 413.3Z" fill="#000073" stroke="#000073"/><path d="M220.4 441.2L183.2 410L177.5 407.6Z" fill="#0000c0" stroke="#0000c0"/><path d="M220.4 441.2L257.4 412.2L253.8 413Z" fill="#000067" stroke="#000067"/><path d="M220.4 441.2L177.5 407.6L170.3 404.1Z" fill="#0000ba" stroke="#0000ba"/><path d="M220.4 441.2L261.4 410.8L257.4 412.2Z" fill="#00005b" stroke="#00005b"/><path d="M220.4 441.2L170.3 404.1L170.3 404.1L174.8 408.6Z" fill="#0000b2" stroke="#0000b2"/><path d="M220.4 441.2L266.3 408.5L261.4 410.8Z" fill="#00004f" stroke="#00004f"/><path d="M220.4 441.2L174.8 408.6L178.4 411.9Z" fill="#0000a9" stroke="#0000a9"/><path d="M220.4 441.2L178.4 411.9L181.7 414.3Z" fill="#00009e" stroke="#00009e"/><path d="M220.4 441.2L272.4 404.9L272.4 404.9L266.3 408.5Z" fill="#000043" stroke="#000043"/><path d="M220.4 441.2L266.1 409.5L272.4 404.9Z" fill="#00003f" stroke="#00003f"/></g>
<g opacity="0.62" stroke-width=".35" stroke-linejoin="round"><path d="M181.7 414.3L181.7 414.3L220.4 441.2L220.4 441.2L220.4 441.2L220.4 441.2L220.4 441.2L266.1 409.5L266.1 409.5L266.1 409.5L260.8 412.8L260.8 412.8L256.2 415.1L256.2 415.1L252.1 416.8L252.1 416.8L248.1 417.9L248.1 417.9L244.3 418.5L244.3 418.5L240.4 418.6L240.4 418.6L236.3 418.2L236.3 418.2L231.8 417.2L231.8 417.2L226.7 415.6L226.7 415.6L220.7 412.9L220.7 412.9L213 408.9L213 408.9L213 408.9L207.4 412.8L207.4 412.8L202.9 415.3L202.9 415.3L199.2 416.8L199.2 416.8L196 417.7L196 417.7L196 417.7L193 418L193 418L193 418L190.2 417.8L190.2 417.8L190.2 417.8L187.4 417.1L187.4 417.1L187.4 417.1L184.6 416L184.6 416L181.7 414.3Z" fill="#000069" fill-rule="evenodd"/><path d="M220.4 441.2L181.7 414.3L184.6 416Z" fill="#000033" stroke="#000033"/><path d="M220.4 441.2L260.8 412.8L266.1 409.5Z" fill="#00008d" stroke="#00008d"/><path d="M220.4 441.2L184.6 416L187.4 417.1Z" fill="#000035" stroke="#000035"/><path d="M220.4 441.2L256.2 415.1L260.8 412.8Z" fill="#00008f" stroke="#00008f"/><path d="M220.4 441.2L187.4 417.1L190.2 417.8Z" fill="#00003e" stroke="#00003e"/><path d="M220.4 441.2L252.1 416.8L256.2 415.1Z" fill="#000090" stroke="#000090"/><path d="M220.4 441.2L190.2 417.8L193 418Z" fill="#000046" stroke="#000046"/><path d="M220.4 441.2L248.1 417.9L252.1 416.8Z" fill="#00008f" stroke="#00008f"/><path d="M220.4 441.2L193 418L196 417.7Z" fill="#00004e" stroke="#00004e"/><path d="M220.4 441.2L244.3 418.5L248.1 417.9Z" fill="#00008c" stroke="#00008c"/><path d="M220.4 441.2L240.4 418.6L244.3 418.5Z" fill="#000087" stroke="#000087"/><path d="M220.4 441.2L196 417.7L199.2 416.8Z" fill="#000055" stroke="#000055"/><path d="M220.4 441.2L236.3 418.2L240.4 418.6Z" fill="#000081" stroke="#000081"/><path d="M220.4 441.2L199.2 416.8L202.9 415.3Z" fill="#00005c" stroke="#00005c"/><path d="M220.4 441.2L231.8 417.2L236.3 418.2Z" fill="#000079" stroke="#000079"/><path d="M220.4 441.2L226.7 415.6L231.8 417.2Z" fill="#000071" stroke="#000071"/><path d="M220.4 441.2L202.9 415.3L207.4 412.8Z" fill="#000061" stroke="#000061"/><path d="M220.4 441.2L220.7 412.9L226.7 415.6Z" fill="#000069" stroke="#000069"/><path d="M220.4 441.2L207.4 412.8L213 408.9Z" fill="#000065" stroke="#000065"/><path d="M220.4 441.2L213 408.9L213 408.9L220.7 412.9Z" fill="#000068" stroke="#000068"/></g>
<path d="M240 422.5L241.6 422.4L243 422.2L244.3 422L245.5 421.8L246.6 421.6L247.6 421.4L248.4 421.2L249.1 421L249.7 420.8L250.1 420.6L250.4 420.3M190.8 420.6L191.3 420.9L191.9 421.1L192.6 421.3L193.4 421.5L194.4 421.7L195.5 421.9L196.7 422.1L198.1 422.3L199.5 422.4L201.1 422.6L202.7 422.7L204.5 422.9L206.3 423L208.2 423.1L210.1 423.2L212.2 423.2L214.2 423.3L216.3 423.3L218.4 423.4L220.6 423.4L222.7 423.4L224.8 423.3L226.9 423.3L228.9 423.2L231 423.1L232.9 423.1L234.8 422.9L236.6 422.8L238.4 422.7L240 422.5" class="c" stroke-opacity=".45"/>
<path d="M250.4 420.3L250.6 420.1L250.6 419.9L250.5 419.7L250.3 419.4L250 419.2L249.5 419L248.9 418.8L248.2 418.6L247.4 418.4L246.5 418.2L245.5 418L244.4 417.9L243.2 417.7L241.9 417.6L240.5 417.4L239.1 417.3L237.6 417.1L236 417L234.4 416.9L232.8 416.8L231.1 416.8L229.3 416.7L227.5 416.6L225.7 416.6L223.9 416.6L222.1 416.6L220.3 416.6L218.4 416.6L216.6 416.6L214.8 416.6L213 416.7L211.2 416.7L209.5 416.8L207.8 416.9L206.2 417L204.6 417.1L203 417.2L201.5 417.3L200.1 417.5L198.8 417.6L197.5 417.8L196.3 417.9L195.2 418.1L194.2 418.3L193.4 418.5L192.6 418.7L191.9 418.9L191.3 419.1L190.9 419.3L190.6 419.5L190.4 419.7L190.3 420L190.3 420.2L190.5 420.4L190.8 420.6" class="c"/>
<path d="M167.7 395.7L212.6 399.4M212.6 399.4L275.2 396.3M167.7 395.7L170.2 502.7M275.2 396.3L272.4 507.3M170.2 502.7L212.9 523.8M212.9 523.8L272.4 507.3M169.7 481L170.6 481.4M169.2 460.7L170.2 461M168.8 440.1L169.7 440.3M168.3 419L169.2 419.2M174 504.6L175.6 504.3M219.7 522L218.4 521.4M189.9 512.5L191.5 512.1M244.4 515.1L243.1 514.6M207.9 521.4L209.5 520.9M266.9 508.9L265.6 508.4" class="bx"/>
<path d="M226.4 393.4L226.1 490.4" class="vl"/>
<text x="166.8" y="425" class="t" text-anchor="end">4</text>
<text x="166.8" y="446.1" class="t" text-anchor="end">3</text>
<text x="166.8" y="467" class="t" text-anchor="end">2</text>
<text x="166.8" y="487.6" class="t" text-anchor="end">1</text>
<text x="152" y="458.1" class="t">E</text>
<text x="174.1" y="519.4" class="t" text-anchor="middle">−1</text>
<text x="190.3" y="526.9" class="t" text-anchor="middle">0</text>
<text x="208.5" y="535.6" class="t" text-anchor="middle">1</text>
<text x="219" y="536" class="t" text-anchor="middle">−1</text>
<text x="243.8" y="529.4" class="t" text-anchor="middle">0</text>
<text x="266.8" y="522.4" class="t" text-anchor="middle">1</text>
<text x="185" y="541" class="t"><tspan class="i">k</tspan><tspan class="sb" dy="2">1</tspan></text>
<text x="238.4" y="544.5" class="t"><tspan class="i">k</tspan><tspan class="sb" dy="2">2</tspan></text>
</g>
<g>
<path d="M363 393.4L362.7 490.4M409 507.3L362.7 490.4M304.3 395.7L363 393.4M363 393.4L411.8 396.3" class="bk"/>
<g opacity="0.74" stroke-width=".35" stroke-linejoin="round"><path d="M309.1 501.9L309.1 501.9L315.7 495L315.7 495L321.1 490.1L321.1 490.1L325.6 486.7L325.6 486.7L329.7 484.2L329.7 484.2L333.4 482.6L333.4 482.6L336.9 481.6L336.9 481.6L336.9 481.6L340.4 481.2L340.4 481.2L340.4 481.2L344 481.4L344 481.4L344 481.4L347.8 482.2L347.8 482.2L352 483.8L352 483.8L356.8 486.3L356.8 486.3L362.5 490.1L362.5 490.1L362.5 490.1L362.5 490.1L362.5 490.1L367 486.7L367 486.7L370.9 484.5L370.9 484.5L370.9 484.5L374.3 483.2L374.3 483.2L374.3 483.2L377.4 482.6L377.4 482.6L377.4 482.6L380.3 482.6L380.3 482.6L380.3 482.6L383.2 483.3L383.2 483.3L383.2 483.3L386.2 484.5L386.2 484.5L386.2 484.5L389.2 486.5L389.2 486.5L392.6 489.2L392.6 489.2L396.4 493.1L396.4 493.1L396.4 493.1L357 451.7L357 451.7L357 451.7L357 451.7L309.1 501.9Z" fill="#680000" fill-rule="evenodd"/><path d="M357 451.7L362.5 490.1L362.5 490.1L356.8 486.3Z" fill="#690000" stroke="#690000"/><path d="M357 451.7L367 486.7L362.5 490.1Z" fill="#670000" stroke="#670000"/><path d="M357 451.7L356.8 486.3L352 483.8Z" fill="#6a0000" stroke="#6a0000"/><path d="M357 451.7L370.9 484.5L367 486.7Z" fill="#660000" stroke="#660000"/><path d="M357 451.7L352 483.8L347.8 482.2Z" fill="#6b0000" stroke="#6b0000"/><path d="M357 451.7L347.8 482.2L344 481.4Z" fill="#6c0000" stroke="#6c0000"/><path d="M357 451.7L374.3 483.2L370.9 484.5Z" fill="#660000" stroke="#660000"/><path d="M357 451.7L344 481.4L340.4 481.2Z" fill="#6c0000" stroke="#6c0000"/><path d="M357 451.7L377.4 482.6L374.3 483.2Z" fill="#660000" stroke="#660000"/><path d="M357 451.7L340.4 481.2L336.9 481.6Z" fill="#6b0000" stroke="#6b0000"/><path d="M357 451.7L336.9 481.6L333.4 482.6Z" fill="#6a0000" stroke="#6a0000"/><path d="M357 451.7L380.3 482.6L377.4 482.6Z" fill="#660000" stroke="#660000"/><path d="M357 451.7L333.4 482.6L329.7 484.2Z" fill="#690000" stroke="#690000"/><path d="M357 451.7L383.2 483.3L380.3 482.6Z" fill="#660000" stroke="#660000"/><path d="M357 451.7L329.7 484.2L325.6 486.7Z" fill="#680000" stroke="#680000"/><path d="M357 451.7L386.2 484.5L383.2 483.3Z" fill="#660000" stroke="#660000"/><path d="M357 451.7L325.6 486.7L321.1 490.1Z" fill="#660000" stroke="#660000"/><path d="M357 451.7L321.1 490.1L315.7 495Z" fill="#660000" stroke="#660000"/><path d="M357 451.7L389.2 486.5L386.2 484.5Z" fill="#660000" stroke="#660000"/><path d="M357 451.7L315.7 495L309.1 501.9Z" fill="#660000" stroke="#660000"/><path d="M357 451.7L392.6 489.2L389.2 486.5Z" fill="#660000" stroke="#660000"/><path d="M357 451.7L396.4 493.1L392.6 489.2Z" fill="#660000" stroke="#660000"/></g>
<g opacity="0.74" stroke-width=".35" stroke-linejoin="round"><path d="M309.1 501.9L309.1 501.9L313.1 498.3L313.1 498.3L316.6 496.1L316.6 496.1L316.6 496.1L319.6 494.8L319.6 494.8L319.6 494.8L322.4 494.3L322.4 494.3L322.4 494.3L325.1 494.4L325.1 494.4L325.1 494.4L327.8 495.3L327.8 495.3L327.8 495.3L330.5 496.8L330.5 496.8L330.5 496.8L333.4 499L333.4 499L336.6 502.3L336.6 502.3L340.2 506.7L340.2 506.7L344.5 512.9L344.5 512.9L349.9 521.7L349.9 521.7L349.9 521.7L349.9 521.7L357.1 513.5L357.1 513.5L363 507.8L363 507.8L367.9 503.7L367.9 503.7L372.2 500.7L372.2 500.7L376.2 498.7L376.2 498.7L376.2 498.7L379.9 497.4L379.9 497.4L379.9 497.4L383.7 496.9L383.7 496.9L383.7 496.9L387.4 497L387.4 497L387.4 497L391.4 497.8L391.4 497.8L391.4 497.8L395.7 499.4L395.7 499.4L400.7 502.1L400.7 502.1L406.5 506.2L406.5 506.2L406.5 506.2L406.5 506.2L406.5 506.2L400.9 498.5L400.9 498.5L400.9 498.5L396.4 493.1L396.4 493.1L357 451.7L357 451.7L357 451.7L309.1 501.9Z" fill="#ea0000" fill-rule="evenodd"/><path d="M357 451.7L309.1 501.9L309.1 501.9L313.1 498.3Z" fill="#b00000" stroke="#b00000"/><path d="M357 451.7L400.9 498.5L396.4 493.1Z" fill="#c60000" stroke="#c60000"/><path d="M357 451.7L313.1 498.3L316.6 496.1Z" fill="#ba0000" stroke="#ba0000"/><path d="M357 451.7L406.5 506.2L406.5 506.2L400.9 498.5Z" fill="#d00000" stroke="#d00000"/><path d="M357 451.7L316.6 496.1L319.6 494.8Z" fill="#c50000" stroke="#c50000"/><path d="M357 451.7L400.7 502.1L406.5 506.2Z" fill="#da0000" stroke="#da0000"/><path d="M357 451.7L319.6 494.8L322.4 494.3Z" fill="#cf0000" stroke="#cf0000"/><path d="M357 451.7L395.7 499.4L400.7 502.1Z" fill="#e40000" stroke="#e40000"/><path d="M357 451.7L322.4 494.3L325.1 494.4Z" fill="#d90000" stroke="#d90000"/><path d="M357 451.7L391.4 497.8L395.7 499.4Z" fill="#ed0000" stroke="#ed0000"/><path d="M357 451.7L325.1 494.4L327.8 495.3Z" fill="#e30000" stroke="#e30000"/><path d="M357 451.7L387.4 497L391.4 497.8Z" fill="#f50000" stroke="#f50000"/><path d="M357 451.7L327.8 495.3L330.5 496.8Z" fill="#ec0000" stroke="#ec0000"/><path d="M357 451.7L383.7 496.9L387.4 497Z" fill="#fc0000" stroke="#fc0000"/><path d="M357 451.7L330.5 496.8L333.4 499Z" fill="#f40000" stroke="#f40000"/><path d="M357 451.7L379.9 497.4L383.7 496.9Z" fill="#ff0000" stroke="#ff0000"/><path d="M357 451.7L376.2 498.7L379.9 497.4Z" fill="#ff0000" stroke="#ff0000"/><path d="M357 451.7L333.4 499L336.6 502.3Z" fill="#fb0000" stroke="#fb0000"/><path d="M357 451.7L372.2 500.7L376.2 498.7Z" fill="#ff0000" stroke="#ff0000"/><path d="M357 451.7L336.6 502.3L340.2 506.7Z" fill="#ff0000" stroke="#ff0000"/><path d="M357 451.7L367.9 503.7L372.2 500.7Z" fill="#ff0000" stroke="#ff0000"/><path d="M357 451.7L363 507.8L367.9 503.7Z" fill="#ff0000" stroke="#ff0000"/><path d="M357 451.7L340.2 506.7L344.5 512.9Z" fill="#ff0000" stroke="#ff0000"/><path d="M357 451.7L357.1 513.5L363 507.8Z" fill="#ff0000" stroke="#ff0000"/><path d="M357 451.7L344.5 512.9L349.9 521.7Z" fill="#ff0000" stroke="#ff0000"/><path d="M357 451.7L349.9 521.7L349.9 521.7L357.1 513.5Z" fill="#ff0000" stroke="#ff0000"/></g>
<path d="M385.2 481.4L384.7 480.9L384 480.4L383.2 480L382.3 479.5L381.3 479.1L380.3 478.7L379.1 478.3L377.9 477.9L376.5 477.6L375.1 477.3L373.7 477L372.2 476.7L370.6 476.5L369 476.2L367.3 476.1L365.6 475.9L363.9 475.8L362.1 475.7L360.4 475.6L358.6 475.5L356.8 475.5L355 475.5L353.3 475.6L351.5 475.6L349.8 475.7L348 475.9L346.4 476L344.7 476.2L343.1 476.4L341.5 476.7L340 476.9L338.6 477.2L337.2 477.5L335.9 477.9L334.7 478.2L333.5 478.6L332.5 479L331.5 479.4L330.7 479.9L329.9 480.3L329.2 480.8L328.7 481.3L328.3 481.8" class="c" stroke-opacity=".45"/>
<path d="M375.9 489.5L377.4 489.1L378.8 488.7L380.1 488.3L381.3 487.9L382.4 487.4L383.3 487L384.1 486.5L384.8 486L385.4 485.5L385.8 485L386.1 484.4L386.2 483.9L386.3 483.4L386.2 482.9L386 482.4L385.7 481.9L385.2 481.4M328.3 481.8L327.9 482.3L327.8 482.8L327.7 483.3L327.8 483.8L327.9 484.3L328.3 484.9L328.7 485.4L329.3 485.9L330 486.4L330.8 486.9L331.7 487.3L332.8 487.8L334 488.2L335.3 488.6L336.7 489L338.2 489.4L339.8 489.7L341.5 490.1L343.3 490.3L345.1 490.6L347 490.8L349 491L350.9 491.1L353 491.2L355 491.3L357.1 491.3L359.1 491.3L361.2 491.2L363.2 491.1L365.2 491L367.2 490.8L369.1 490.6L370.9 490.4L372.7 490.1L374.3 489.8L375.9 489.5" class="c"/>
<g opacity="0.74" stroke-width=".35" stroke-linejoin="round"><path d="M325.3 461.2L325.3 461.2L329.4 460L329.4 460L333.1 459.1L333.1 459.1L336.7 458.4L336.7 458.4L340.3 458L340.3 458L343.9 457.7L343.9 457.7L347.7 457.7L347.7 457.7L351.9 457.9L352 457.9L356.8 458.3L356.8 458.3L362.6 459.1L362.6 459.1L362.6 459.1L362.6 459.1L362.6 459.1L367.2 458.6L367.2 458.6L371.1 458.4L371.1 458.4L374.5 458.4L374.5 458.4L377.7 458.7L377.7 458.7L380.6 459.1L380.6 459.1L383.5 459.7L383.5 459.7L386.5 460.6L386.5 460.6L386.5 460.6L357 451.7L357 451.7L357 451.7L357 451.7L357 451.7L357 451.7L325.3 461.2Z" fill="#003c4d" fill-rule="evenodd"/><path d="M357 451.7L362.6 459.1L362.6 459.1L356.8 458.3Z" fill="#003a47" stroke="#003a47"/><path d="M357 451.7L367.2 458.6L362.6 459.1Z" fill="#003945" stroke="#003945"/><path d="M357 451.7L356.8 458.3L351.9 457.9Z" fill="#003c4d" stroke="#003c4d"/><path d="M357 451.7L371.1 458.4L367.2 458.6Z" fill="#003943" stroke="#003943"/><path d="M357 451.7L351.9 457.9L347.7 457.7Z" fill="#003f53" stroke="#003f53"/><path d="M357 451.7L347.7 457.7L343.9 457.7Z" fill="#004058" stroke="#004058"/><path d="M357 451.7L374.5 458.4L371.1 458.4Z" fill="#003840" stroke="#003840"/><path d="M357 451.7L343.9 457.7L340.3 458Z" fill="#00425d" stroke="#00425d"/><path d="M357 451.7L377.7 458.7L374.5 458.4Z" fill="#00363c" stroke="#00363c"/><path d="M357 451.7L340.3 458L336.7 458.4Z" fill="#004360" stroke="#004360"/><path d="M357 451.7L336.7 458.4L333.1 459.1Z" fill="#004463" stroke="#004463"/><path d="M357 451.7L380.6 459.1L377.7 458.7Z" fill="#003538" stroke="#003538"/><path d="M357 451.7L333.1 459.1L329.4 460Z" fill="#004565" stroke="#004565"/><path d="M357 451.7L383.5 459.7L380.6 459.1Z" fill="#003333" stroke="#003333"/><path d="M357 451.7L329.4 460L325.3 461.2Z" fill="#004565" stroke="#004565"/><path d="M357 451.7L386.5 460.6L383.5 459.7Z" fill="#003333" stroke="#003333"/></g>
<g opacity="0.74" stroke-width=".35" stroke-linejoin="round"><path d="M308.3 467.9L308.3 467.9L308.3 467.9L312.5 467.5L312.5 467.5L316.1 467.4L316.1 467.4L319.2 467.6L319.2 467.6L322 467.9L322 467.9L324.8 468.5L324.8 468.5L327.5 469.3L327.5 469.3L330.2 470.4L330.2 470.4L333.1 471.7L333.1 471.7L336.3 473.4L336.3 473.4L339.9 475.6L339.9 475.6L344.3 478.6L344.3 478.6L349.8 482.7L349.8 482.7L349.8 482.7L349.8 482.7L357.2 479.1L357.2 479.1L363.1 476.4L363.1 476.4L368.1 474.5L368.1 474.5L372.4 473L372.4 473L376.4 471.9L376.4 471.9L380.3 471L380.3 471L384 470.4L384 470.4L387.9 470L387.9 470L391.9 469.9L391.9 469.9L396.3 469.9L396.3 469.9L401.4 470.3L401.4 470.3L407.4 471L407.4 471L407.4 471L407.4 471L407.4 471L401.6 467.6L401.6 467.6L396.9 465L396.9 465L396.9 465L393.1 463.2L393.1 463.2L393.1 463.2L389.6 461.7L389.6 461.7L389.6 461.7L389.6 461.7L386.5 460.6L386.5 460.6L357 451.7L357 451.7L357 451.7L357 451.7L357 451.7L357 451.7L325.3 461.2L325.3 461.2L320.6 462.8L320.6 462.8L320.6 462.8L315.2 464.9L315.2 464.9L308.3 467.9Z" fill="#00c482" fill-rule="evenodd"/><path d="M357 451.7L325.3 461.2L320.6 462.8Z" fill="#008646" stroke="#008646"/><path d="M357 451.7L389.6 461.7L386.5 460.6Z" fill="#00ac74" stroke="#00ac74"/><path d="M357 451.7L320.6 462.8L315.2 464.9Z" fill="#008b48" stroke="#008b48"/><path d="M357 451.7L393.1 463.2L389.6 461.7Z" fill="#00b37c" stroke="#00b37c"/><path d="M357 451.7L315.2 464.9L308.3 467.9Z" fill="#00914e" stroke="#00914e"/><path d="M357 451.7L396.9 465L393.1 463.2Z" fill="#00bb83" stroke="#00bb83"/><path d="M357 451.7L308.3 467.9L308.3 467.9L312.5 467.5Z" fill="#009855" stroke="#009855"/><path d="M357 451.7L401.6 467.6L396.9 465Z" fill="#00c289" stroke="#00c289"/><path d="M357 451.7L312.5 467.5L316.1 467.4Z" fill="#009f5c" stroke="#009f5c"/><path d="M357 451.7L407.4 471L407.4 471L401.6 467.6Z" fill="#00c88e" stroke="#00c88e"/><path d="M357 451.7L316.1 467.4L319.2 467.6Z" fill="#00a663" stroke="#00a663"/><path d="M357 451.7L401.4 470.3L407.4 471Z" fill="#00ce93" stroke="#00ce93"/><path d="M357 451.7L319.2 467.6L322 467.9Z" fill="#00ae6a" stroke="#00ae6a"/><path d="M357 451.7L396.3 469.9L401.4 470.3Z" fill="#00d496" stroke="#00d496"/><path d="M357 451.7L322 467.9L324.8 468.5Z" fill="#00b571" stroke="#00b571"/><path d="M357 451.7L391.9 469.9L396.3 469.9Z" fill="#00d899" stroke="#00d899"/><path d="M357 451.7L324.8 468.5L327.5 469.3Z" fill="#00bc78" stroke="#00bc78"/><path d="M357 451.7L387.9 470L391.9 469.9Z" fill="#00dc9a" stroke="#00dc9a"/><path d="M357 451.7L327.5 469.3L330.2 470.4Z" fill="#00c37e" stroke="#00c37e"/><path d="M357 451.7L384 470.4L387.9 470Z" fill="#00df9a" stroke="#00df9a"/><path d="M357 451.7L330.2 470.4L333.1 471.7Z" fill="#00ca84" stroke="#00ca84"/><path d="M357 451.7L380.3 471L384 470.4Z" fill="#00e099" stroke="#00e099"/><path d="M357 451.7L376.4 471.9L380.3 471Z" fill="#00e297" stroke="#00e297"/><path d="M357 451.7L333.1 471.7L336.3 473.4Z" fill="#00d08a" stroke="#00d08a"/><path d="M357 451.7L372.4 473L376.4 471.9Z" fill="#00e399" stroke="#00e399"/><path d="M357 451.7L336.3 473.4L339.9 475.6Z" fill="#00d58f" stroke="#00d58f"/><path d="M357 451.7L368.1 474.5L372.4 473Z" fill="#00e49b" stroke="#00e49b"/><path d="M357 451.7L363.1 476.4L368.1 474.5Z" fill="#00e49b" stroke="#00e49b"/><path d="M357 451.7L339.9 475.6L344.3 478.6Z" fill="#00da93" stroke="#00da93"/><path d="M357 451.7L357.2 479.1L363.1 476.4Z" fill="#00e39a" stroke="#00e39a"/><path d="M357 451.7L344.3 478.6L349.8 482.7Z" fill="#00de96" stroke="#00de96"/><path d="M357 451.7L349.8 482.7L349.8 482.7L357.2 479.1Z" fill="#00e199" stroke="#00e199"/></g>
<path d="M380.5 458.8L379.3 458.5L378.1 458.2L376.7 457.9L375.3 457.6L373.9 457.4L372.3 457.2L370.7 457L369.1 456.8L367.4 456.7L365.7 456.5L364 456.4L362.2 456.3L360.4 456.3L358.6 456.2L356.8 456.2L355 456.2L353.2 456.3L351.5 456.3L349.7 456.4L348 456.5L346.3 456.6L344.6 456.8L343 457L341.4 457.2L339.9 457.4L338.4 457.6L337 457.9L335.7 458.2L334.5 458.5L333.3 458.8L332.3 459.1" class="c" stroke-opacity=".45"/>
<path d="M376.2 467.6L377.7 467.3L379.1 467L380.4 466.7L381.6 466.3L382.6 465.9L383.6 465.6L384.4 465.2L385.1 464.7L385.7 464.3L386.1 463.9L386.4 463.5L386.6 463.1L386.6 462.6L386.5 462.2L386.3 461.8L386 461.4L385.5 461L384.9 460.6L384.3 460.2L383.5 459.8L382.6 459.5L381.6 459.1L380.5 458.8M332.3 459.1L331.3 459.4L330.4 459.8L329.7 460.2L329 460.6L328.4 461L328 461.4L327.7 461.8L327.5 462.2L327.4 462.6L327.5 463L327.7 463.5L328 463.9L328.4 464.3L329 464.7L329.7 465.1L330.5 465.5L331.5 465.9L332.6 466.3L333.8 466.6L335.1 467L336.5 467.3L338 467.6L339.6 467.9L341.4 468.1L343.1 468.3L345 468.6L346.9 468.7L348.9 468.9L350.9 469L353 469.1L355 469.1L357.1 469.1L359.2 469.1L361.3 469.1L363.3 469L365.3 468.9L367.3 468.7L369.2 468.6L371.1 468.4L372.8 468.1L374.5 467.9L376.2 467.6" class="c"/>
<g opacity="0.74" stroke-width=".35" stroke-linejoin="round"><path d="M307.6 432.8L307.6 432.8L307.6 432.8L311.9 435.7L311.9 435.7L311.9 435.7L315.5 437.9L315.5 437.9L315.5 437.9L318.7 439.6L318.7 439.6L318.7 439.6L318.7 439.6L321.6 440.9L321.6 440.9L321.6 440.9L324.4 442L324.4 442L357 451.7L357 451.7L357 451.7L357 451.7L357 451.7L357 451.7L392.4 441.2L392.4 441.2L396.9 439.6L396.9 439.6L396.9 439.6L402.1 437.5L402.1 437.5L402.1 437.5L408.3 434.7L408.3 434.7L408.3 434.7L408.3 434.7L402.3 435.7L402.3 435.7L397.5 436.2L397.5 436.2L393.5 436.4L393.5 436.4L390.1 436.4L390.1 436.4L386.9 436.1L386.9 436.1L383.9 435.7L383.9 435.7L380.9 435.1L380.9 435.1L377.9 434.2L377.9 434.2L374.8 433.1L374.8 433.1L371.3 431.6L371.3 431.6L367.4 429.7L367.4 429.7L362.7 427.1L362.7 427.1L362.7 427.1L362.7 427.1L362.7 427.1L356.8 429.5L356.8 429.5L351.9 431.3L351.9 431.3L347.6 432.6L347.6 432.6L343.8 433.6L343.8 433.6L340.1 434.3L340.1 434.3L336.5 434.8L336.5 434.8L332.9 435.1L332.9 435.1L329.1 435.2L329.1 435.2L324.9 435.1L324.9 435.1L320.2 434.7L320.2 434.7L314.6 434L314.6 434L307.6 432.8L307.6 432.8L307.6 432.8Z" fill="#f00082" fill-rule="evenodd"/><path d="M357 451.7L362.7 427.1L362.7 427.1L356.8 429.5Z" fill="#ff0099" stroke="#ff0099"/><path d="M357 451.7L367.4 429.7L362.7 427.1Z" fill="#ff0096" stroke="#ff0096"/><path d="M357 451.7L356.8 429.5L351.9 431.3Z" fill="#ff009a" stroke="#ff009a"/><path d="M357 451.7L371.3 431.6L367.4 429.7Z" fill="#ff0093" stroke="#ff0093"/><path d="M357 451.7L351.9 431.3L347.6 432.6Z" fill="#ff009b" stroke="#ff009b"/><path d="M357 451.7L347.6 432.6L343.8 433.6Z" fill="#ff009b" stroke="#ff009b"/><path d="M357 451.7L374.8 433.1L371.3 431.6Z" fill="#ff008f" stroke="#ff008f"/><path d="M357 451.7L343.8 433.6L340.1 434.3Z" fill="#ff0099" stroke="#ff0099"/><path d="M357 451.7L377.9 434.2L374.8 433.1Z" fill="#fe008a" stroke="#fe008a"/><path d="M357 451.7L340.1 434.3L336.5 434.8Z" fill="#ff0097" stroke="#ff0097"/><path d="M357 451.7L336.5 434.8L332.9 435.1Z" fill="#ff0099" stroke="#ff0099"/><path d="M357 451.7L380.9 435.1L377.9 434.2Z" fill="#fb0084" stroke="#fb0084"/><path d="M357 451.7L332.9 435.1L329.1 435.2Z" fill="#ff009a" stroke="#ff009a"/><path d="M357 451.7L383.9 435.7L380.9 435.1Z" fill="#f7007e" stroke="#f7007e"/><path d="M357 451.7L329.1 435.2L324.9 435.1Z" fill="#fb009a" stroke="#fb009a"/><path d="M357 451.7L386.9 436.1L383.9 435.7Z" fill="#f30078" stroke="#f30078"/><path d="M357 451.7L324.9 435.1L320.2 434.7Z" fill="#f80099" stroke="#f80099"/><path d="M357 451.7L390.1 436.4L386.9 436.1Z" fill="#ef0071" stroke="#ef0071"/><path d="M357 451.7L320.2 434.7L314.6 434Z" fill="#f30096" stroke="#f30096"/><path d="M357 451.7L393.5 436.4L390.1 436.4Z" fill="#ea006a" stroke="#ea006a"/><path d="M357 451.7L314.6 434L307.6 432.8Z" fill="#ef0093" stroke="#ef0093"/><path d="M357 451.7L397.5 436.2L393.5 436.4Z" fill="#e50063" stroke="#e50063"/><path d="M357 451.7L307.6 432.8L307.6 432.8L311.9 435.7Z" fill="#ea008e" stroke="#ea008e"/><path d="M357 451.7L402.3 435.7L397.5 436.2Z" fill="#e0005c" stroke="#e0005c"/><path d="M357 451.7L311.9 435.7L315.5 437.9Z" fill="#e60089" stroke="#e60089"/><path d="M357 451.7L408.3 434.7L408.3 434.7L402.3 435.7Z" fill="#dc0055" stroke="#dc0055"/><path d="M357 451.7L315.5 437.9L318.7 439.6Z" fill="#e10083" stroke="#e10083"/><path d="M357 451.7L402.1 437.5L408.3 434.7Z" fill="#d7004e" stroke="#d7004e"/><path d="M357 451.7L318.7 439.6L321.6 440.9Z" fill="#dc007c" stroke="#dc007c"/><path d="M357 451.7L396.9 439.6L402.1 437.5Z" fill="#d30048" stroke="#d30048"/><path d="M357 451.7L321.6 440.9L324.4 442Z" fill="#d70074" stroke="#d70074"/><path d="M357 451.7L392.4 441.2L396.9 439.6Z" fill="#ce0046" stroke="#ce0046"/></g>
<g opacity="0.74" stroke-width=".35" stroke-linejoin="round"><path d="M324.4 442L324.4 442L357 451.7L357 451.7L357 451.7L357 451.7L357 451.7L357 451.7L392.4 441.2L392.4 441.2L392.4 441.2L388.3 442.4L388.3 442.4L384.4 443.3L384.4 443.3L380.6 443.9L380.6 443.9L376.7 444.3L376.7 444.3L372.7 444.5L372.7 444.5L368.2 444.5L368.2 444.5L363.2 444.1L363.2 444.1L357.2 443.4L357.2 443.4L349.7 442.2L349.7 442.2L349.7 442.2L349.7 442.2L349.7 442.2L344.1 443.1L344.1 443.1L339.7 443.6L339.7 443.6L336 443.8L336 443.8L332.8 443.6L332.8 443.6L329.9 443.3L329.9 443.3L327.1 442.7L327.1 442.7L324.4 442Z" fill="#66004d" fill-rule="evenodd"/><path d="M357 451.7L324.4 442L327.1 442.7Z" fill="#660033" stroke="#660033"/><path d="M357 451.7L388.3 442.4L392.4 441.2Z" fill="#660065" stroke="#660065"/><path d="M357 451.7L327.1 442.7L329.9 443.3Z" fill="#660033" stroke="#660033"/><path d="M357 451.7L384.4 443.3L388.3 442.4Z" fill="#660065" stroke="#660065"/><path d="M357 451.7L329.9 443.3L332.8 443.6Z" fill="#660038" stroke="#660038"/><path d="M357 451.7L380.6 443.9L384.4 443.3Z" fill="#660063" stroke="#660063"/><path d="M357 451.7L376.7 444.3L380.6 443.9Z" fill="#660060" stroke="#660060"/><path d="M357 451.7L332.8 443.6L336 443.8Z" fill="#66003c" stroke="#66003c"/><path d="M357 451.7L372.7 444.5L376.7 444.3Z" fill="#66005d" stroke="#66005d"/><path d="M357 451.7L336 443.8L339.7 443.6Z" fill="#660040" stroke="#660040"/><path d="M357 451.7L368.2 444.5L372.7 444.5Z" fill="#660058" stroke="#660058"/><path d="M357 451.7L363.2 444.1L368.2 444.5Z" fill="#660053" stroke="#660053"/><path d="M357 451.7L339.7 443.6L344.1 443.1Z" fill="#660043" stroke="#660043"/><path d="M357 451.7L357.2 443.4L363.2 444.1Z" fill="#66004d" stroke="#66004d"/><path d="M357 451.7L344.1 443.1L349.7 442.2Z" fill="#660045" stroke="#660045"/><path d="M357 451.7L349.7 442.2L349.7 442.2L357.2 443.4Z" fill="#660047" stroke="#660047"/></g>
<path d="M376.4 445.3L377.9 445.1L379.3 444.8L380.6 444.6L381.8 444.3L382.9 444L383.9 443.7M331.3 444L332.3 444.3L333.6 444.6L334.9 444.8L336.3 445.1L337.9 445.3L339.5 445.5L341.2 445.7L343 445.9L344.9 446.1L346.8 446.2L348.8 446.3L350.9 446.4L352.9 446.4L355 446.5L357.1 446.5L359.2 446.5L361.3 446.4L363.4 446.4L365.4 446.3L367.4 446.2L369.4 446.1L371.2 445.9L373 445.7L374.8 445.5L376.4 445.3" class="c" stroke-opacity=".45"/>
<path d="M383.9 443.7L384.7 443.4L385.4 443.1L386 442.8L386.4 442.5L386.7 442.1L386.9 441.8L386.9 441.5L386.8 441.2L386.6 440.8L386.3 440.5L385.8 440.2L385.2 439.9L384.5 439.6L383.7 439.3L382.8 439L381.8 438.8L380.7 438.5L379.6 438.3L378.3 438.1L376.9 437.8L375.5 437.6L374 437.5L372.5 437.3L370.9 437.1L369.2 437L367.5 436.9L365.8 436.8L364.1 436.7L362.3 436.7L360.5 436.6L358.7 436.6L356.9 436.6L355 436.6L353.2 436.6L351.4 436.7L349.7 436.7L347.9 436.8L346.2 436.9L344.5 437L342.9 437.2L341.3 437.3L339.8 437.5L338.3 437.7L336.9 437.9L335.6 438.1L334.3 438.3L333.1 438.5L332.1 438.8L331.1 439.1L330.2 439.3L329.4 439.6L328.7 439.9L328.2 440.2L327.7 440.5L327.4 440.9L327.2 441.2L327.2 441.5L327.2 441.8L327.4 442.2L327.7 442.5L328.2 442.8L328.7 443.1L329.5 443.4L330.3 443.7L331.3 444" class="c"/>
<g opacity="0.74" stroke-width=".35" stroke-linejoin="round"><path d="M306.8 396.6L306.8 396.6L306.8 396.6L311.2 403L311.2 403L315 407.6L315 407.6L357 451.7L357 451.7L357 451.7L409.2 397.1L409.2 397.1L409.2 397.1L403 402.8L403 402.8L398.1 406.6L398.1 406.6L394 409L394 409L394 409L390.5 410.5L390.5 410.5L390.5 410.5L387.2 411.1L387.2 411.1L387.2 411.1L384.2 411.1L384.2 411.1L384.2 411.1L381.2 410.5L381.2 410.5L381.2 410.5L378.2 409.2L378.2 409.2L378.2 409.2L375 407.1L375 407.1L371.5 404.2L371.5 404.2L367.5 400.1L367.5 400.1L362.8 394.3L362.8 394.3L362.8 394.3L362.8 394.3L362.8 394.3L362.8 394.3L356.8 400L356.8 400L351.9 404L351.9 404L347.6 406.9L347.6 406.9L343.6 408.9L343.6 408.9L339.9 410.1L339.9 410.1L339.9 410.1L336.3 410.6L336.3 410.6L336.3 410.6L332.6 410.6L332.6 410.6L332.6 410.6L328.8 409.8L328.8 409.8L328.8 409.8L324.5 408.4L324.5 408.4L319.7 405.9L319.7 405.9L314 402.2L314 402.2L306.8 396.6L306.8 396.6Z" fill="#0000ad" fill-rule="evenodd"/><path d="M357 451.7L362.8 394.3L362.8 394.3L356.8 400Z" fill="#0000c7" stroke="#0000c7"/><path d="M357 451.7L367.5 400.1L362.8 394.3Z" fill="#0000c2" stroke="#0000c2"/><path d="M357 451.7L356.8 400L351.9 404Z" fill="#0000cb" stroke="#0000cb"/><path d="M357 451.7L371.5 404.2L367.5 400.1Z" fill="#0000bb" stroke="#0000bb"/><path d="M357 451.7L351.9 404L347.6 406.9Z" fill="#0000cc" stroke="#0000cc"/><path d="M357 451.7L347.6 406.9L343.6 408.9Z" fill="#0000cb" stroke="#0000cb"/><path d="M357 451.7L375 407.1L371.5 404.2Z" fill="#0000b2" stroke="#0000b2"/><path d="M357 451.7L343.6 408.9L339.9 410.1Z" fill="#0000d0" stroke="#0000d0"/><path d="M357 451.7L378.2 409.2L375 407.1Z" fill="#0000a7" stroke="#0000a7"/><path d="M357 451.7L339.9 410.1L336.3 410.6Z" fill="#0000d7" stroke="#0000d7"/><path d="M357 451.7L336.3 410.6L332.6 410.6Z" fill="#0000dc" stroke="#0000dc"/><path d="M357 451.7L381.2 410.5L378.2 409.2Z" fill="#00009b" stroke="#00009b"/><path d="M357 451.7L332.6 410.6L328.8 409.8Z" fill="#0000de" stroke="#0000de"/><path d="M357 451.7L384.2 411.1L381.2 410.5Z" fill="#00008e" stroke="#00008e"/><path d="M357 451.7L328.8 409.8L324.5 408.4Z" fill="#0000de" stroke="#0000de"/><path d="M357 451.7L387.2 411.1L384.2 411.1Z" fill="#000080" stroke="#000080"/><path d="M357 451.7L324.5 408.4L319.7 405.9Z" fill="#0000dc" stroke="#0000dc"/><path d="M357 451.7L390.5 410.5L387.2 411.1Z" fill="#000072" stroke="#000072"/><path d="M357 451.7L319.7 405.9L314 402.2Z" fill="#0000d7" stroke="#0000d7"/><path d="M357 451.7L394 409L390.5 410.5Z" fill="#000063" stroke="#000063"/><path d="M357 451.7L314 402.2L306.8 396.6Z" fill="#0000cf" stroke="#0000cf"/><path d="M357 451.7L398.1 406.6L394 409Z" fill="#000053" stroke="#000053"/><path d="M357 451.7L306.8 396.6L306.8 396.6L311.2 403Z" fill="#0000c6" stroke="#0000c6"/><path d="M357 451.7L403 402.8L398.1 406.6Z" fill="#000044" stroke="#000044"/><path d="M357 451.7L311.2 403L315 407.6Z" fill="#0000ba" stroke="#0000ba"/><path d="M357 451.7L409.2 397.1L409.2 397.1L403 402.8Z" fill="#00003b" stroke="#00003b"/></g>
<g opacity="0.74" stroke-width=".35" stroke-linejoin="round"><path d="M315 407.6L315 407.6L357 451.7L357 451.7L357 451.7L357 451.7L357 451.7L357 451.7L357 451.7L409.2 397.1L409.2 397.1L409.2 397.1L402.8 403.7L402.8 403.7L397.5 408.4L397.5 408.4L392.9 411.7L392.9 411.7L388.7 414L388.7 414L388.7 414L384.8 415.4L384.8 415.4L384.8 415.4L380.9 416.1L380.9 416.1L380.9 416.1L377 416.1L377 416.1L377 416.1L372.9 415.3L372.9 415.3L372.9 415.3L368.4 413.6L368.4 413.6L363.3 410.9L363.3 410.9L357.3 406.6L357.3 406.6L349.6 400.1L349.6 400.1L349.6 400.1L349.6 400.1L343.9 406.5L343.9 406.5L339.5 410.6L339.5 410.6L335.8 413.3L335.8 413.3L335.8 413.3L332.5 414.8L332.5 414.8L332.5 414.8L329.6 415.5L329.6 415.5L329.6 415.5L329.6 415.5L326.8 415.5L326.8 415.5L326.8 415.5L326.8 415.5L324 414.7L324 414.7L324 414.7L321.2 413.2L321.2 413.2L321.2 413.2L318.2 410.9L318.2 410.9L315 407.6Z" fill="#00007c" fill-rule="evenodd"/><path d="M357 451.7L315 407.6L318.2 410.9Z" fill="#000033" stroke="#000033"/><path d="M357 451.7L318.2 410.9L321.2 413.2Z" fill="#000033" stroke="#000033"/><path d="M357 451.7L402.8 403.7L409.2 397.1Z" fill="#0000a2" stroke="#0000a2"/><path d="M357 451.7L321.2 413.2L324 414.7Z" fill="#00003d" stroke="#00003d"/><path d="M357 451.7L397.5 408.4L402.8 403.7Z" fill="#0000a7" stroke="#0000a7"/><path d="M357 451.7L392.9 411.7L397.5 408.4Z" fill="#0000aa" stroke="#0000aa"/><path d="M357 451.7L324 414.7L326.8 415.5Z" fill="#000049" stroke="#000049"/><path d="M357 451.7L388.7 414L392.9 411.7Z" fill="#0000ac" stroke="#0000ac"/><path d="M357 451.7L326.8 415.5L329.6 415.5Z" fill="#000053" stroke="#000053"/><path d="M357 451.7L384.8 415.4L388.7 414Z" fill="#0000ac" stroke="#0000ac"/><path d="M357 451.7L329.6 415.5L332.5 414.8Z" fill="#00005d" stroke="#00005d"/><path d="M357 451.7L380.9 416.1L384.8 415.4Z" fill="#0000a9" stroke="#0000a9"/><path d="M357 451.7L377 416.1L380.9 416.1Z" fill="#0000a4" stroke="#0000a4"/><path d="M357 451.7L332.5 414.8L335.8 413.3Z" fill="#000066" stroke="#000066"/><path d="M357 451.7L372.9 415.3L377 416.1Z" fill="#00009d" stroke="#00009d"/><path d="M357 451.7L335.8 413.3L339.5 410.6Z" fill="#00006e" stroke="#00006e"/><path d="M357 451.7L368.4 413.6L372.9 415.3Z" fill="#000094" stroke="#000094"/><path d="M357 451.7L363.3 410.9L368.4 413.6Z" fill="#000088" stroke="#000088"/><path d="M357 451.7L339.5 410.6L343.9 406.5Z" fill="#000074" stroke="#000074"/><path d="M357 451.7L357.3 406.6L363.3 410.9Z" fill="#000083" stroke="#000083"/><path d="M357 451.7L343.9 406.5L349.6 400.1Z" fill="#00007a" stroke="#00007a"/><path d="M357 451.7L349.6 400.1L349.6 400.1L357.3 406.6Z" fill="#000080" stroke="#000080"/></g>
<path d="M376.6 422.5L378.2 422.4L379.6 422.2L380.9 422L382.1 421.8L383.2 421.6L384.2 421.4L385 421.2L385.7 421L386.3 420.8L386.7 420.6L387 420.3L387.2 420.1M327.1 420.4L327.4 420.6L327.9 420.9L328.5 421.1L329.2 421.3L330 421.5L331 421.7L332.1 421.9L333.3 422.1L334.7 422.3L336.1 422.4L337.7 422.6L339.3 422.7L341.1 422.9L342.9 423L344.8 423.1L346.7 423.2L348.8 423.2L350.8 423.3L352.9 423.3L355 423.4L357.2 423.4L359.3 423.4L361.4 423.3L363.5 423.3L365.5 423.2L367.6 423.1L369.5 423.1L371.4 422.9L373.2 422.8L375 422.7L376.6 422.5" class="c" stroke-opacity=".45"/>
<path d="M387.2 420.1L387.2 419.9L387.1 419.7L386.9 419.4L386.6 419.2L386.1 419L385.5 418.8L384.8 418.6L384 418.4L383.1 418.2L382.1 418L381 417.9L379.8 417.7L378.5 417.6L377.1 417.4L375.7 417.3L374.2 417.1L372.6 417L371 416.9L369.4 416.8L367.7 416.8L365.9 416.7L364.1 416.6L362.3 416.6L360.5 416.6L358.7 416.6L356.9 416.6L355 416.6L353.2 416.6L351.4 416.6L349.6 416.7L347.8 416.7L346.1 416.8L344.4 416.9L342.8 417L341.2 417.1L339.6 417.2L338.1 417.3L336.7 417.5L335.4 417.6L334.1 417.8L332.9 417.9L331.8 418.1L330.8 418.3L330 418.5L329.2 418.7L328.5 418.9L327.9 419.1L327.5 419.3L327.2 419.5L327 419.7L326.9 420L326.9 420.2L327.1 420.4" class="c"/>
<path d="M304.3 395.7L349.2 399.4M349.2 399.4L411.8 396.3M304.3 395.7L306.8 502.7M411.8 396.3L409 507.3M306.8 502.7L349.5 523.8M349.5 523.8L409 507.3M306.3 481L307.2 481.4M305.8 460.7L306.8 461M305.4 440.1L306.3 440.3M304.9 419L305.8 419.2M310.6 504.6L312.2 504.3M356.3 522L355 521.4M326.5 512.5L328.1 512.1M381 515.1L379.7 514.6M344.5 521.4L346.1 520.9M403.5 508.9L402.2 508.4" class="bx"/>
<path d="M363 393.4L362.7 490.4" class="vl"/>
<text x="303.4" y="425" class="t" text-anchor="end">4</text>
<text x="303.4" y="446.1" class="t" text-anchor="end">3</text>
<text x="303.4" y="467" class="t" text-anchor="end">2</text>
<text x="303.4" y="487.6" class="t" text-anchor="end">1</text>
<text x="288.6" y="458.1" class="t">E</text>
<text x="310.7" y="519.4" class="t" text-anchor="middle">−1</text>
<text x="326.9" y="526.9" class="t" text-anchor="middle">0</text>
<text x="345.1" y="535.6" class="t" text-anchor="middle">1</text>
<text x="355.6" y="536" class="t" text-anchor="middle">−1</text>
<text x="380.4" y="529.4" class="t" text-anchor="middle">0</text>
<text x="403.4" y="522.4" class="t" text-anchor="middle">1</text>
<text x="321.6" y="541" class="t"><tspan class="i">k</tspan><tspan class="sb" dy="2">1</tspan></text>
<text x="375" y="544.5" class="t"><tspan class="i">k</tspan><tspan class="sb" dy="2">2</tspan></text>
</g>
<g>
<path d="M499.1 394.2L498.8 491.2M545.1 508.1L498.8 491.2M440.4 396.5L499.1 394.2M499.1 394.2L547.9 397.1" class="bk"/>
<g opacity="0.80" stroke-width=".35" stroke-linejoin="round"><path d="M445.1 500.6L445.1 500.6L448.1 497.2L448.1 497.2L451.7 493.4L448.6 496.5L448.6 496.5L447.8 497.5L447.8 497.5L445.1 500.6ZM451.8 493.3L451.8 493.3L456.5 489.1L456.5 489.1L457.1 488.6L457.1 488.6L461.7 485.4L461.7 485.4L465.7 483.2L465.7 483.2L469.5 481.8L469.5 481.8L473 480.8L473 480.8L476.5 480.4L476.5 480.4L480.1 480.4L480.1 480.4L483.9 481L483.9 481L483.9 481L488.1 482.4L488.1 482.4L488.6 482.6L488.6 482.6L492.9 484.8L492.9 484.8L495.6 486.6L495.6 486.6L498.6 489L498.6 489L498.6 489L498.6 489L498.6 489L501 486.8L501 486.8L503.2 485.2L503.2 485.2L506.6 483.3L506.6 483.3L507 483.1L507 483.1L510.4 482L510.4 482L510.4 482L513.5 481.6L513.5 481.6L513.5 481.6L516.5 481.8L516.5 481.8L516.5 481.8L519.4 482.5L519.4 482.5L519.4 482.5L522.3 483.7L522.3 483.7L525.4 485.4L525.4 485.4L528.7 488L528.7 488L528.7 488L526.1 485.7L526.1 485.7L526.1 485.7L520.8 481.7L520.8 481.7L519.3 480.8L519.3 480.8L514.2 477.7L514.2 477.7L512.7 477L512.7 477L507.9 474.9L507.9 474.9L506.6 474.5L506.6 474.5L506.6 474.5L505.1 474L505.1 474L501.2 473L501.1 473L500 472.8L500 472.8L500 472.8L498.7 472.6L498.7 472.6L498.7 472.6L497.4 472.4L497.4 472.4L496 472.3L496 472.3L494.5 472.2L494.5 472.2L493 472.2L493 472.2L491.5 472.2L491.5 472.2L490 472.3L490 472.3L488.6 472.4L488.6 472.4L487.3 472.6L487.3 472.6L487.3 472.6L486 472.8L486 472.8L484.9 473L484.9 473L480.9 474L480.9 474L479.4 474.4L479.4 474.4L478.1 474.9L478.1 474.9L473.3 477L473.3 477L473.3 477L473.3 477L471.9 477.7L471.9 477.7L466.8 480.7L466.8 480.7L466.8 480.7L465.3 481.6L465.3 481.6L460 485.6L460 485.6L454.7 490.3L454.7 490.3L454.7 490.3L454.7 490.3Z" fill="#660000" fill-rule="evenodd"/><path d="M498.3 486.8L498.6 489L498.6 489L495.6 486.6Z" fill="#6b0000" stroke="#6b0000"/><path d="M498.6 489L498.3 486.8L501 486.8Z" fill="#690000" stroke="#690000"/><path d="M497.7 482.7L498.3 486.8L495.6 486.6L492.9 484.8L492.9 482.6Z" fill="#690000" stroke="#690000"/><path d="M502.5 482.9L503.2 485.2L501 486.8L498.3 486.8L497.7 482.7Z" fill="#670000" stroke="#670000"/><path d="M492.9 482.6L492.9 484.8L488.6 482.6Z" fill="#6a0000" stroke="#6a0000"/><path d="M503.2 485.2L502.5 482.9L506.6 483.3Z" fill="#660000" stroke="#660000"/><path d="M492.9 479.1L492.9 482.6L488.6 482.6L488.1 482.4L488.7 479.2Z" fill="#670000" stroke="#670000"/><path d="M497.1 479.2L497.7 482.7L492.9 482.6L492.9 479.1Z" fill="#660000" stroke="#660000"/><path d="M501.3 479.4L502.5 482.9L497.7 482.7L497.1 479.2Z" fill="#660000" stroke="#660000"/><path d="M488.7 479.2L488.1 482.4L483.9 481L484.5 479.4Z" fill="#680000" stroke="#680000"/><path d="M505.3 479.8L507 483.1L506.6 483.3L502.5 482.9L501.3 479.4Z" fill="#660000" stroke="#660000"/><path d="M484.5 479.4L483.9 481L480.1 480.4L480.5 479.7Z" fill="#680000" stroke="#680000"/><path d="M509.2 480.3L510.4 482L507 483.1L505.3 479.8Z" fill="#660000" stroke="#660000"/><path d="M480.5 479.7L480.1 480.4L476.5 480.4L476.6 480.2Z" fill="#680000" stroke="#680000"/><path d="M492.9 476.3L492.9 479.1L488.7 479.2L489.4 476.4Z" fill="#660000" stroke="#660000"/><path d="M496.5 476.4L497.1 479.2L492.9 479.1L492.9 476.3Z" fill="#660000" stroke="#660000"/><path d="M489.4 476.4L488.7 479.2L484.5 479.4L485.9 476.5Z" fill="#660000" stroke="#660000"/><path d="M500 476.6L501.3 479.4L497.1 479.2L496.5 476.4Z" fill="#660000" stroke="#660000"/><path d="M485.9 476.5L484.5 479.4L480.5 479.7L482.5 476.8Z" fill="#660000" stroke="#660000"/><path d="M512.9 480.9L513.5 481.6L510.4 482L509.2 480.3Z" fill="#660000" stroke="#660000"/><path d="M503.4 476.9L505.3 479.8L501.3 479.4L500 476.6Z" fill="#660000" stroke="#660000"/><path d="M476.6 480.2L476.5 480.4L473 480.8L473 480.8Z" fill="#680000" stroke="#680000"/><path d="M482.5 476.8L480.5 479.7L476.6 480.2L479.2 477.2Z" fill="#660000" stroke="#660000"/><path d="M506.7 477.3L509.2 480.3L505.3 479.8L503.4 476.9Z" fill="#660000" stroke="#660000"/><path d="M473 480.8L473 480.8L469.5 481.8L469.6 481.6Z" fill="#670000" stroke="#670000"/><path d="M479.2 477.2L476.6 480.2L473 480.8L476.1 477.7Z" fill="#660000" stroke="#660000"/><path d="M516.3 481.6L516.5 481.8L513.5 481.6L512.9 480.9Z" fill="#660000" stroke="#660000"/><path d="M509.8 477.8L512.9 480.9L509.2 480.3L506.7 477.3Z" fill="#660000" stroke="#660000"/><path d="M492.9 474.2L492.9 476.3L489.4 476.4L490.1 474.3Z" fill="#660000" stroke="#660000"/><path d="M495.8 474.3L496.5 476.4L492.9 476.3L492.9 474.2Z" fill="#660000" stroke="#660000"/><path d="M490.1 474.3L489.4 476.4L485.9 476.5L487.2 474.4Z" fill="#660000" stroke="#660000"/><path d="M498.7 474.4L500 476.6L496.5 476.4L495.8 474.3Z" fill="#660000" stroke="#660000"/><path d="M476.1 477.7L473 480.8L469.6 481.6L473.3 478.3Z" fill="#660000" stroke="#660000"/><path d="M469.6 481.6L469.5 481.8L465.7 483.2L466.6 482.4Z" fill="#660000" stroke="#660000"/><path d="M487.2 474.4L485.9 476.5L482.5 476.8L484.4 474.6Z" fill="#660000" stroke="#660000"/><path d="M501.5 474.6L503.4 476.9L500 476.6L498.7 474.4Z" fill="#660000" stroke="#660000"/><path d="M512.6 478.4L516.3 481.6L512.9 480.9L509.8 477.8Z" fill="#660000" stroke="#660000"/><path d="M519.4 482.5L519.4 482.5L516.5 481.8L516.3 481.6Z" fill="#660000" stroke="#660000"/><path d="M484.4 474.6L482.5 476.8L479.2 477.2L481.8 474.9Z" fill="#660000" stroke="#660000"/><path d="M504.1 475L506.7 477.3L503.4 476.9L501.5 474.6Z" fill="#660000" stroke="#660000"/><path d="M473.3 478.3L469.6 481.6L466.6 482.4L470.8 479Z" fill="#660000" stroke="#660000"/><path d="M481.8 474.9L479.2 477.2L476.1 477.7L479.3 475.3Z" fill="#660000" stroke="#660000"/><path d="M466.6 482.4L465.7 483.2L461.7 485.4L464 483.4Z" fill="#660000" stroke="#660000"/><path d="M506.6 475.4L509.8 477.8L506.7 477.3L504.1 475Z" fill="#660000" stroke="#660000"/><path d="M515.2 479.1L519.4 482.5L516.3 481.6L512.6 478.4Z" fill="#660000" stroke="#660000"/><path d="M522.1 483.5L522.3 483.7L519.4 482.5L519.4 482.5Z" fill="#660000" stroke="#660000"/><path d="M479.3 475.3L476.1 477.7L473.3 478.3L477.1 475.8Z" fill="#660000" stroke="#660000"/><path d="M493 472.8L492.9 474.2L490.1 474.3L490.8 472.9Z" fill="#660000" stroke="#660000"/><path d="M495.2 472.9L495.8 474.3L492.9 474.2L493 472.8Z" fill="#660000" stroke="#660000"/><path d="M490.8 472.9L490.1 474.3L487.2 474.4L488.6 473Z" fill="#660000" stroke="#660000"/><path d="M508.9 475.8L512.6 478.4L509.8 477.8L506.6 475.4Z" fill="#660000" stroke="#660000"/><path d="M497.3 473L498.7 474.4L495.8 474.3L495.2 472.9Z" fill="#660000" stroke="#660000"/><path d="M470.8 479L466.6 482.4L464 483.4L468.6 479.8Z" fill="#660000" stroke="#660000"/><path d="M488.6 473L487.2 474.4L484.4 474.6L486.5 473.1Z" fill="#660000" stroke="#660000"/><path d="M499.5 473.1L501.5 474.6L498.7 474.4L497.3 473Z" fill="#660000" stroke="#660000"/><path d="M464 483.4L461.7 485.4L457.1 488.6L461.7 484.5Z" fill="#660000" stroke="#660000"/><path d="M517.4 479.9L522.1 483.5L519.4 482.5L515.2 479.1Z" fill="#660000" stroke="#660000"/><path d="M486.5 473.1L484.4 474.6L481.8 474.9L484.5 473.4Z" fill="#660000" stroke="#660000"/><path d="M477.1 475.8L473.3 478.3L470.8 479L475.1 476.4Z" fill="#660000" stroke="#660000"/><path d="M501.5 473.4L504.1 475L501.5 474.6L499.5 473.1Z" fill="#660000" stroke="#660000"/><path d="M510.9 476.4L515.2 479.1L512.6 478.4L508.9 475.8Z" fill="#660000" stroke="#660000"/><path d="M484.5 473.4L481.8 474.9L479.3 475.3L482.6 473.7Z" fill="#660000" stroke="#660000"/><path d="M524.3 484.5L525.4 485.4L522.3 483.7L522.1 483.5Z" fill="#660000" stroke="#660000"/><path d="M503.3 473.7L506.6 475.4L504.1 475L501.5 473.4Z" fill="#660000" stroke="#660000"/><path d="M451.8 493.3L454.7 490.3L456.5 489.1Z" fill="#660000" stroke="#660000"/><path d="M468.6 479.8L464 483.4L461.7 484.5L466.8 480.7Z" fill="#660000" stroke="#660000"/><path d="M461.7 484.5L457.1 488.6L456.5 489.1L454.7 490.3L460 485.6Z" fill="#660000" stroke="#660000"/><path d="M475.1 476.4L470.8 479L468.6 479.8L473.3 477Z" fill="#660000" stroke="#660000"/><path d="M482.6 473.7L479.3 475.3L477.1 475.8L480.9 474Z" fill="#660000" stroke="#660000"/><path d="M505.1 474L508.9 475.8L506.6 475.4L503.3 473.7Z" fill="#660000" stroke="#660000"/><path d="M519.3 480.8L524.3 484.5L522.1 483.5L517.4 479.9Z" fill="#660000" stroke="#660000"/><path d="M512.7 477L517.4 479.9L515.2 479.1L510.9 476.4Z" fill="#660000" stroke="#660000"/><path d="M493 472.2L493 472.8L490.8 472.9L491.5 472.2Z" fill="#660000" stroke="#660000"/><path d="M494.5 472.2L495.2 472.9L493 472.8L493 472.2Z" fill="#660000" stroke="#660000"/><path d="M491.5 472.2L490.8 472.9L488.6 473L490 472.3Z" fill="#660000" stroke="#660000"/><path d="M496 472.3L497.3 473L495.2 472.9L494.5 472.2Z" fill="#660000" stroke="#660000"/><path d="M480.9 474L477.1 475.8L475.1 476.4L479.4 474.4Z" fill="#660000" stroke="#660000"/><path d="M490 472.3L488.6 473L486.5 473.1L488.6 472.4Z" fill="#660000" stroke="#660000"/><path d="M497.4 472.4L499.5 473.1L497.3 473L496 472.3Z" fill="#660000" stroke="#660000"/><path d="M506.6 474.5L510.9 476.4L508.9 475.8L505.1 474Z" fill="#660000" stroke="#660000"/><path d="M526.1 485.7L528.7 488L525.4 485.4L524.3 484.5Z" fill="#660000" stroke="#660000"/><path d="M488.6 472.4L486.5 473.1L484.5 473.4L487.3 472.6Z" fill="#660000" stroke="#660000"/><path d="M454.7 490.3L451.8 493.3L448.6 496.5L447.8 497.5L453.2 491.8Z" fill="#660000" stroke="#660000"/><path d="M473.3 477L468.6 479.8L466.8 480.7L471.9 477.7Z" fill="#660000" stroke="#660000"/><path d="M498.7 472.6L501.5 473.4L499.5 473.1L497.4 472.4Z" fill="#660000" stroke="#660000"/><path d="M445.1 500.6L447.8 497.5L448.6 496.5Z" fill="#660000" stroke="#660000"/><path d="M466.8 480.7L461.7 484.5L460 485.6L465.3 481.6Z" fill="#660000" stroke="#660000"/><path d="M514.2 477.7L519.3 480.8L517.4 479.9L512.7 477Z" fill="#660000" stroke="#660000"/><path d="M487.3 472.6L484.5 473.4L482.6 473.7L486 472.8Z" fill="#660000" stroke="#660000"/><path d="M479.4 474.4L475.1 476.4L473.3 477L478.1 474.9Z" fill="#660000" stroke="#660000"/><path d="M500 472.8L503.3 473.7L501.5 473.4L498.7 472.6Z" fill="#660000" stroke="#660000"/><path d="M520.8 481.7L526.1 485.7L524.3 484.5L519.3 480.8Z" fill="#660000" stroke="#660000"/><path d="M507.9 474.9L512.7 477L510.9 476.4L506.6 474.5Z" fill="#660000" stroke="#660000"/><path d="M486 472.8L482.6 473.7L480.9 474L484.9 473Z" fill="#660000" stroke="#660000"/><path d="M501.2 473L505.1 474L503.3 473.7L500 472.8Z" fill="#660000" stroke="#660000"/></g>
<g opacity="0.80" stroke-width=".35" stroke-linejoin="round"><path d="M445.1 500.6L445.1 500.6L447.2 498.3L447.2 498.3L449.2 496.6L449.2 496.6L452.2 494.7L452.2 494.7L452.6 494.5L452.6 494.5L455.7 493.4L455.7 493.4L455.7 493.4L458.5 493.2L458.5 493.2L458.5 493.2L461.2 493.5L461.2 493.5L461.2 493.5L463.9 494.4L463.9 494.4L463.9 494.4L466.6 495.8L466.6 495.8L469.5 497.8L469.5 497.8L472.6 500.8L472.6 500.8L476.2 504.9L476.2 504.9L476.7 505.5L476.7 505.5L480.5 510.9L480.5 510.9L483.1 515L483.1 515L486 520.1L486 520.1L486 520.1L486 520.1L489.8 515.4L489.8 515.4L493.3 511.5L493.3 511.5L498.4 506.5L498.4 506.5L499.1 505.9L499.1 505.9L504 502.1L504 502.1L508.3 499.5L508.3 499.5L512.3 497.7L512.3 497.7L516.1 496.5L516.1 496.5L519.8 495.9L519.8 495.9L519.8 495.9L523.6 495.8L523.6 495.8L523.6 495.8L527.5 496.4L527.5 496.4L527.6 496.4L531.9 497.8L531.9 497.8L532.5 498L532.5 498L536.8 500.3L536.8 500.3L539.6 502.3L539.6 502.3L542.7 504.9L542.7 504.9L542.7 504.9L539.7 500.4L539.7 500.4L537 496.8L537 496.8L537 496.8L533 492.1L533 492.1L533 492.1L532.5 491.6L532.5 491.6L532.5 491.6L528.7 488L528.7 488L526.1 485.7L526.1 485.7L526.1 485.7L520.8 481.7L520.8 481.7L520.8 481.7L520.8 481.7L519.3 480.8L519.3 480.8L514.2 477.7L514.2 477.7L514.2 477.7L514.2 477.7L512.7 477L512.7 477L507.9 474.9L507.9 474.9L507.9 474.9L506.6 474.5L506.6 474.5L506.6 474.5L505.1 474L501.2 473L501.2 473L501.1 473L501.1 473L500 472.8L500 472.8L500 472.8L498.7 472.6L498.7 472.6L498.7 472.6L497.4 472.4L497.4 472.4L497.4 472.4L496 472.3L496 472.3L494.5 472.2L494.5 472.2L493 472.2L493 472.2L491.5 472.2L491.5 472.2L490 472.3L490 472.3L488.6 472.4L488.6 472.4L488.6 472.4L487.3 472.6L487.3 472.6L487.3 472.6L486 472.8L486 472.8L486 472.8L484.9 473L484.9 473L480.9 474L480.9 474L479.4 474.4L479.4 474.4L479.4 474.4L478.1 474.9L478.1 474.9L478.1 474.9L478.1 474.9L473.3 477L473.3 477L471.9 477.7L471.9 477.7L471.9 477.7L471.9 477.7L466.8 480.7L466.8 480.7L465.3 481.6L465.3 481.6L460 485.6L460 485.6L454.7 490.3L454.7 490.3L453.2 491.8L453.2 491.8L447.8 497.5L447.8 497.5L447.8 497.5L445.1 500.6Z" fill="#ea0000" fill-rule="evenodd"/><path d="M447.8 497.5L445.1 500.6L445.1 500.6L447.2 498.3Z" fill="#ab0000" stroke="#ab0000"/><path d="M460 485.6L454.7 490.3L453.2 491.8L458.8 486.8Z" fill="#af0000" stroke="#af0000"/><path d="M471.9 477.7L466.8 480.7L465.3 481.6L470.8 478.4Z" fill="#bb0000" stroke="#bb0000"/><path d="M478.1 474.9L473.3 477L471.9 477.7L477 475.4Z" fill="#c10000" stroke="#c10000"/><path d="M484.9 473L480.9 474L479.4 474.4L483.9 473.3Z" fill="#c70000" stroke="#c70000"/><path d="M502.2 473.3L506.6 474.5L505.1 474L501.2 473Z" fill="#cf0000" stroke="#cf0000"/><path d="M527.4 486.9L532.5 491.6L528.7 488L526.1 485.7Z" fill="#c30000" stroke="#c30000"/><path d="M509 475.4L514.2 477.7L512.7 477L507.9 474.9Z" fill="#cd0000" stroke="#cd0000"/><path d="M515.3 478.4L520.8 481.7L519.3 480.8L514.2 477.7Z" fill="#ca0000" stroke="#ca0000"/><path d="M465.3 481.6L460 485.6L458.8 486.8L464.4 482.6Z" fill="#b80000" stroke="#b80000"/><path d="M493 472.4L493 472.2L491.5 472.2L492.3 472.4Z" fill="#d10000" stroke="#d10000"/><path d="M493.8 472.4L494.5 472.2L493 472.2L493 472.4Z" fill="#d20000" stroke="#d20000"/><path d="M483.9 473.3L479.4 474.4L478.1 474.9L483 473.6Z" fill="#cb0000" stroke="#cb0000"/><path d="M492.3 472.4L491.5 472.2L490 472.3L491.5 472.4Z" fill="#d10000" stroke="#d10000"/><path d="M494.5 472.4L496 472.3L494.5 472.2L493.8 472.4Z" fill="#d20000" stroke="#d20000"/><path d="M491.5 472.4L490 472.3L488.6 472.4L490.8 472.5Z" fill="#d10000" stroke="#d10000"/><path d="M495.2 472.5L497.4 472.4L496 472.3L494.5 472.4Z" fill="#d30000" stroke="#d30000"/><path d="M503 473.6L507.9 474.9L506.6 474.5L502.2 473.3Z" fill="#d30000" stroke="#d30000"/><path d="M490.8 472.5L488.6 472.4L487.3 472.6L490.1 472.6Z" fill="#d20000" stroke="#d20000"/><path d="M453.2 491.8L447.8 497.5L447.2 498.3L449.2 496.6L452.4 493.3Z" fill="#b00000" stroke="#b00000"/><path d="M521.8 482.7L527.4 486.9L526.1 485.7L520.8 481.7Z" fill="#ca0000" stroke="#ca0000"/><path d="M495.9 472.6L498.7 472.6L497.4 472.4L495.2 472.5Z" fill="#d50000" stroke="#d50000"/><path d="M477 475.4L471.9 477.7L470.8 478.4L476.2 475.9Z" fill="#c70000" stroke="#c70000"/><path d="M490.1 472.6L487.3 472.6L486 472.8L489.5 472.7Z" fill="#d30000" stroke="#d30000"/><path d="M496.6 472.7L500 472.8L498.7 472.6L495.9 472.6Z" fill="#d70000" stroke="#d70000"/><path d="M483 473.6L478.1 474.9L477 475.4L482.3 473.9Z" fill="#ce0000" stroke="#ce0000"/><path d="M509.8 476L515.3 478.4L514.2 477.7L509 475.4Z" fill="#d30000" stroke="#d30000"/><path d="M470.8 478.4L465.3 481.6L464.4 482.6L470 479.1Z" fill="#c20000" stroke="#c20000"/><path d="M489.5 472.7L486 472.8L484.9 473L488.9 472.8Z" fill="#d50000" stroke="#d50000"/><path d="M503.8 473.9L509 475.4L507.9 474.9L503 473.6Z" fill="#d70000" stroke="#d70000"/><path d="M497.1 472.8L501.2 473L500 472.8L496.6 472.7Z" fill="#d90000" stroke="#d90000"/><path d="M458.8 486.8L453.2 491.8L452.4 493.3L458.1 488.1Z" fill="#b80000" stroke="#b80000"/><path d="M516.1 479.2L521.8 482.7L520.8 481.7L515.3 478.4Z" fill="#d20000" stroke="#d20000"/><path d="M488.9 472.8L484.9 473L483.9 473.3L488.4 472.9Z" fill="#d70000" stroke="#d70000"/><path d="M497.7 472.9L502.2 473.3L501.2 473L497.1 472.8Z" fill="#db0000" stroke="#db0000"/><path d="M528.1 488.2L533.8 493.5L533 492.1L532.5 491.6L527.4 486.9Z" fill="#cc0000" stroke="#cc0000"/><path d="M482.3 473.9L477 475.4L476.2 475.9L481.8 474.3Z" fill="#d30000" stroke="#d30000"/><path d="M476.2 475.9L470.8 478.4L470 479.1L475.7 476.5Z" fill="#cd0000" stroke="#cd0000"/><path d="M488.4 472.9L483.9 473.3L483 473.6L488 473.1Z" fill="#d90000" stroke="#d90000"/><path d="M464.4 482.6L458.8 486.8L458.1 488.1L463.9 483.6Z" fill="#c10000" stroke="#c10000"/><path d="M504.3 474.3L509.8 476L509 475.4L503.8 473.9Z" fill="#dc0000" stroke="#dc0000"/><path d="M498.1 473.1L503 473.6L502.2 473.3L497.7 472.9Z" fill="#de0000" stroke="#de0000"/><path d="M533.8 493.5L537 496.8L533 492.1Z" fill="#c60000" stroke="#c60000"/><path d="M510.4 476.5L516.1 479.2L515.3 478.4L509.8 476Z" fill="#da0000" stroke="#da0000"/><path d="M488 473.1L483 473.6L482.3 473.9L487.6 473.2Z" fill="#db0000" stroke="#db0000"/><path d="M493.1 473.4L493 472.4L492.3 472.4Z" fill="#e30000" stroke="#e30000"/><path d="M493.1 473.4L493.8 472.4L493 472.4Z" fill="#e30000" stroke="#e30000"/><path d="M498.4 473.2L503.8 473.9L503 473.6L498.1 473.1Z" fill="#e10000" stroke="#e10000"/><path d="M522.3 483.7L528.1 488.2L527.4 486.9L521.8 482.7Z" fill="#d30000" stroke="#d30000"/><path d="M493.1 473.4L492.3 472.4L491.5 472.4Z" fill="#e30000" stroke="#e30000"/><path d="M493.1 473.4L494.5 472.4L493.8 472.4Z" fill="#e30000" stroke="#e30000"/><path d="M470 479.1L464.4 482.6L463.9 483.6L469.7 479.9Z" fill="#ca0000" stroke="#ca0000"/><path d="M493.1 473.4L491.5 472.4L490.8 472.5Z" fill="#e30000" stroke="#e30000"/><path d="M493.1 473.4L495.2 472.5L494.5 472.4Z" fill="#e40000" stroke="#e40000"/><path d="M481.8 474.3L476.2 475.9L475.7 476.5L481.5 474.6Z" fill="#d70000" stroke="#d70000"/><path d="M493.1 473.4L490.8 472.5L490.1 472.6Z" fill="#e30000" stroke="#e30000"/><path d="M493.1 473.4L495.9 472.6L495.2 472.5Z" fill="#e40000" stroke="#e40000"/><path d="M493.1 473.4L490.1 472.6L489.5 472.7Z" fill="#e40000" stroke="#e40000"/><path d="M493.1 473.4L496.6 472.7L495.9 472.6Z" fill="#e50000" stroke="#e50000"/><path d="M452.4 493.3L449.2 496.6L452.2 494.7Z" fill="#ba0000" stroke="#ba0000"/><path d="M487.6 473.2L482.3 473.9L481.8 474.3L487.4 473.4Z" fill="#de0000" stroke="#de0000"/><path d="M504.6 474.7L510.4 476.5L509.8 476L504.3 474.3Z" fill="#e10000" stroke="#e10000"/><path d="M493.1 473.4L489.5 472.7L488.9 472.8Z" fill="#e40000" stroke="#e40000"/><path d="M493.1 473.4L497.1 472.8L496.6 472.7Z" fill="#e50000" stroke="#e50000"/><path d="M498.7 473.4L504.3 474.3L503.8 473.9L498.4 473.2Z" fill="#e40000" stroke="#e40000"/><path d="M516.5 480L522.3 483.7L521.8 482.7L516.1 479.2Z" fill="#da0000" stroke="#da0000"/><path d="M475.7 476.5L470 479.1L469.7 479.9L475.5 477.1Z" fill="#d30000" stroke="#d30000"/><path d="M493.1 473.4L488.9 472.8L488.4 472.9Z" fill="#e50000" stroke="#e50000"/><path d="M493.1 473.4L497.7 472.9L497.1 472.8Z" fill="#e60000" stroke="#e60000"/><path d="M493.1 473.4L488.4 472.9L488 473.1Z" fill="#e50000" stroke="#e50000"/><path d="M493.1 473.4L498.1 473.1L497.7 472.9Z" fill="#e70000" stroke="#e70000"/><path d="M487.4 473.4L481.8 474.3L481.5 474.6L487.2 473.6Z" fill="#e00000" stroke="#e00000"/><path d="M510.7 477.1L516.5 480L516.1 479.2L510.4 476.5Z" fill="#e00000" stroke="#e00000"/><path d="M493.1 473.4L488 473.1L487.6 473.2Z" fill="#e60000" stroke="#e60000"/><path d="M498.9 473.6L504.6 474.7L504.3 474.3L498.7 473.4Z" fill="#e70000" stroke="#e70000"/><path d="M481.5 474.6L475.7 476.5L475.5 477.1L481.3 475Z" fill="#dc0000" stroke="#dc0000"/><path d="M493.1 473.4L498.4 473.2L498.1 473.1Z" fill="#e80000" stroke="#e80000"/><path d="M493.1 473.4L487.6 473.2L487.4 473.4Z" fill="#e70000" stroke="#e70000"/><path d="M493.1 473.4L498.7 473.4L498.4 473.2Z" fill="#e90000" stroke="#e90000"/><path d="M504.8 475L510.7 477.1L510.4 476.5L504.6 474.7Z" fill="#e60000" stroke="#e60000"/><path d="M458.1 488.1L452.4 493.3L452.2 494.7L452.6 494.5L458 489.4Z" fill="#c20000" stroke="#c20000"/><path d="M487.2 473.6L481.5 474.6L481.3 475L487.2 473.8Z" fill="#e30000" stroke="#e30000"/><path d="M493.1 473.4L487.4 473.4L487.2 473.6Z" fill="#e80000" stroke="#e80000"/><path d="M463.9 483.6L458.1 488.1L458 489.4L463.9 484.6Z" fill="#c90000" stroke="#c90000"/><path d="M493.1 473.4L498.9 473.6L498.7 473.4Z" fill="#ea0000" stroke="#ea0000"/><path d="M534 495.1L539.9 501.5L539.7 500.4L537 496.8L533.8 493.5Z" fill="#d00000" stroke="#d00000"/><path d="M498.9 473.8L504.8 475L504.6 474.7L498.9 473.6Z" fill="#ea0000" stroke="#ea0000"/><path d="M493.1 473.4L487.2 473.6L487.2 473.8Z" fill="#e90000" stroke="#e90000"/><path d="M469.7 479.9L463.9 483.6L463.9 484.6L469.7 480.7Z" fill="#d10000" stroke="#d10000"/><path d="M493.1 473.4L498.9 473.8L498.9 473.6Z" fill="#eb0000" stroke="#eb0000"/><path d="M528.2 489.5L534 495.1L533.8 493.5L528.1 488.2Z" fill="#d60000" stroke="#d60000"/><path d="M475.5 477.1L469.7 479.9L469.7 480.7L475.5 477.6Z" fill="#d90000" stroke="#d90000"/><path d="M493.1 473.4L487.2 473.8L487.2 474Z" fill="#ea0000" stroke="#ea0000"/><path d="M481.3 475L475.5 477.1L475.5 477.6L481.4 475.4Z" fill="#e00000" stroke="#e00000"/><path d="M487.2 473.8L481.3 475L481.4 475.4L487.2 474Z" fill="#e60000" stroke="#e60000"/><path d="M493.1 473.4L498.9 474L498.9 473.8Z" fill="#ec0000" stroke="#ec0000"/><path d="M522.3 484.7L528.2 489.5L528.1 488.2L522.3 483.7Z" fill="#dc0000" stroke="#dc0000"/><path d="M498.9 474L504.7 475.4L504.8 475L498.9 473.8Z" fill="#ed0000" stroke="#ed0000"/><path d="M516.5 480.8L522.3 484.7L522.3 483.7L516.5 480Z" fill="#e10000" stroke="#e10000"/><path d="M493.1 473.4L487.2 474L487.4 474.2Z" fill="#eb0000" stroke="#eb0000"/><path d="M504.7 475.4L510.6 477.7L510.7 477.1L504.8 475Z" fill="#ea0000" stroke="#ea0000"/><path d="M510.6 477.7L516.5 480.8L516.5 480L510.7 477.1Z" fill="#e60000" stroke="#e60000"/><path d="M493.1 473.4L498.8 474.2L498.9 474Z" fill="#ed0000" stroke="#ed0000"/><path d="M539.9 501.5L542.7 504.9L542.7 504.9L539.7 500.4Z" fill="#cc0000" stroke="#cc0000"/><path d="M493.1 473.4L487.4 474.2L487.6 474.3Z" fill="#ec0000" stroke="#ec0000"/><path d="M493.1 473.4L498.5 474.3L498.8 474.2Z" fill="#ee0000" stroke="#ee0000"/><path d="M487.2 474L481.4 475.4L481.6 475.8L487.4 474.2Z" fill="#e90000" stroke="#e90000"/><path d="M493.1 473.4L487.6 474.3L487.9 474.5Z" fill="#ed0000" stroke="#ed0000"/><path d="M498.8 474.2L504.5 475.8L504.7 475.4L498.9 474Z" fill="#ef0000" stroke="#ef0000"/><path d="M493.1 473.4L498.2 474.5L498.5 474.3Z" fill="#ef0000" stroke="#ef0000"/><path d="M493.1 473.4L487.9 474.5L488.4 474.7Z" fill="#ee0000" stroke="#ee0000"/><path d="M481.4 475.4L475.5 477.6L475.9 478.2L481.6 475.8Z" fill="#e50000" stroke="#e50000"/><path d="M493.1 473.4L497.8 474.7L498.2 474.5Z" fill="#f00000" stroke="#f00000"/><path d="M493.1 473.4L488.4 474.7L488.9 474.8Z" fill="#ef0000" stroke="#ef0000"/><path d="M487.4 474.2L481.6 475.8L482.1 476.1L487.6 474.3Z" fill="#ec0000" stroke="#ec0000"/><path d="M493.1 473.4L497.3 474.8L497.8 474.7Z" fill="#f00000" stroke="#f00000"/><path d="M504.5 475.8L510.3 478.3L510.6 477.7L504.7 475.4Z" fill="#ef0000" stroke="#ef0000"/><path d="M475.5 477.6L469.7 480.7L470.1 481.5L475.9 478.2Z" fill="#e00000" stroke="#e00000"/><path d="M498.5 474.3L504 476.2L504.5 475.8L498.8 474.2Z" fill="#f20000" stroke="#f20000"/><path d="M493.1 473.4L488.9 474.8L489.5 474.9Z" fill="#f00000" stroke="#f00000"/><path d="M542.7 504.9L539.9 501.5L539.6 502.3Z" fill="#d70000" stroke="#d70000"/><path d="M493.1 473.4L496.7 474.9L497.3 474.8Z" fill="#f10000" stroke="#f10000"/><path d="M469.7 480.7L463.9 484.6L464.4 485.7L470.1 481.5Z" fill="#d90000" stroke="#d90000"/><path d="M493.1 473.4L489.5 474.9L490.1 475Z" fill="#f00000" stroke="#f00000"/><path d="M493.1 473.4L496 475L496.7 474.9Z" fill="#f20000" stroke="#f20000"/><path d="M463.9 484.6L458 489.4L458.6 490.7L464.4 485.7Z" fill="#d20000" stroke="#d20000"/><path d="M510.3 478.3L516.1 481.6L516.5 480.8L510.6 477.7Z" fill="#ed0000" stroke="#ed0000"/><path d="M458 489.4L452.6 494.5L455.7 493.4L458.6 490.7Z" fill="#cb0000" stroke="#cb0000"/><path d="M493.1 473.4L490.1 475L490.8 475.1Z" fill="#f10000" stroke="#f10000"/><path d="M493.1 473.4L495.4 475.1L496 475Z" fill="#f20000" stroke="#f20000"/><path d="M487.6 474.3L482.1 476.1L482.8 476.5L487.9 474.5Z" fill="#ef0000" stroke="#ef0000"/><path d="M493.1 473.4L490.8 475.1L491.5 475.2Z" fill="#f20000" stroke="#f20000"/><path d="M493.1 473.4L494.6 475.2L495.4 475.1Z" fill="#f20000" stroke="#f20000"/><path d="M493.1 473.4L491.5 475.2L492.3 475.2Z" fill="#f20000" stroke="#f20000"/><path d="M493.1 473.4L493.9 475.2L494.6 475.2Z" fill="#f20000" stroke="#f20000"/><path d="M498.2 474.5L503.4 476.5L504 476.2L498.5 474.3Z" fill="#f50000" stroke="#f50000"/><path d="M493.1 473.4L492.3 475.2L493.1 475.2Z" fill="#f20000" stroke="#f20000"/><path d="M493.1 473.4L493.1 475.2L493.9 475.2Z" fill="#f20000" stroke="#f20000"/><path d="M481.6 475.8L475.9 478.2L476.6 478.8L482.1 476.1Z" fill="#ea0000" stroke="#ea0000"/><path d="M516.1 481.6L521.9 485.8L522.3 484.7L516.5 480.8Z" fill="#e90000" stroke="#e90000"/><path d="M504 476.2L509.6 478.8L510.3 478.3L504.5 475.8Z" fill="#f30000" stroke="#f30000"/><path d="M521.9 485.8L527.7 490.8L528.2 489.5L522.3 484.7Z" fill="#e40000" stroke="#e40000"/><path d="M487.9 474.5L482.8 476.5L483.6 476.8L488.4 474.7Z" fill="#f20000" stroke="#f20000"/><path d="M527.7 490.8L533.5 496.7L534 495.1L528.2 489.5Z" fill="#df0000" stroke="#df0000"/><path d="M497.8 474.7L502.6 476.8L503.4 476.5L498.2 474.5Z" fill="#f70000" stroke="#f70000"/><path d="M533.5 496.7L536.8 500.3L539.6 502.3L539.9 501.5L534 495.1Z" fill="#da0000" stroke="#da0000"/><path d="M475.9 478.2L470.1 481.5L471 482.3L476.6 478.8Z" fill="#e60000" stroke="#e60000"/><path d="M488.4 474.7L483.6 476.8L484.6 477.1L488.9 474.8Z" fill="#f40000" stroke="#f40000"/><path d="M497.3 474.8L501.6 477.1L502.6 476.8L497.8 474.7Z" fill="#f90000" stroke="#f90000"/><path d="M482.1 476.1L476.6 478.8L477.5 479.3L482.8 476.5Z" fill="#ef0000" stroke="#ef0000"/><path d="M509.6 478.8L515.2 482.4L516.1 481.6L510.3 478.3Z" fill="#f20000" stroke="#f20000"/><path d="M503.4 476.5L508.7 479.4L509.6 478.8L504 476.2Z" fill="#f80000" stroke="#f80000"/><path d="M488.9 474.8L484.6 477.1L485.8 477.4L489.5 474.9Z" fill="#f70000" stroke="#f70000"/><path d="M470.1 481.5L464.4 485.7L465.4 486.7L471 482.3Z" fill="#e10000" stroke="#e10000"/><path d="M496.7 474.9L500.4 477.4L501.6 477.1L497.3 474.8Z" fill="#fb0000" stroke="#fb0000"/><path d="M489.5 474.9L485.8 477.4L487.1 477.6L490.1 475Z" fill="#f90000" stroke="#f90000"/><path d="M496 475L499.1 477.6L500.4 477.4L496.7 474.9Z" fill="#fc0000" stroke="#fc0000"/><path d="M515.2 482.4L520.9 486.8L521.9 485.8L516.1 481.6Z" fill="#f00000" stroke="#f00000"/><path d="M482.8 476.5L477.5 479.3L478.8 479.8L483.6 476.8Z" fill="#f30000" stroke="#f30000"/><path d="M464.4 485.7L458.6 490.7L459.7 491.9L465.4 486.7Z" fill="#db0000" stroke="#db0000"/><path d="M490.1 475L487.1 477.6L488.5 477.8L490.8 475.1Z" fill="#fb0000" stroke="#fb0000"/><path d="M495.4 475.1L497.7 477.8L499.1 477.6L496 475Z" fill="#fe0000" stroke="#fe0000"/><path d="M476.6 478.8L471 482.3L472.2 483.1L477.5 479.3Z" fill="#ec0000" stroke="#ec0000"/><path d="M502.6 476.8L507.4 479.9L508.7 479.4L503.4 476.5Z" fill="#fb0000" stroke="#fb0000"/><path d="M458.6 490.7L455.7 493.4L458.5 493.2L459.7 491.9Z" fill="#d50000" stroke="#d50000"/><path d="M490.8 475.1L488.5 477.8L490 477.9L491.5 475.2Z" fill="#fc0000" stroke="#fc0000"/><path d="M494.6 475.2L496.2 477.9L497.7 477.8L495.4 475.1Z" fill="#fe0000" stroke="#fe0000"/><path d="M491.5 475.2L490 477.9L491.5 478L492.3 475.2Z" fill="#fe0000" stroke="#fe0000"/><path d="M508.7 479.4L514 483.1L515.2 482.4L509.6 478.8Z" fill="#f80000" stroke="#f80000"/><path d="M493.9 475.2L494.7 478L496.2 477.9L494.6 475.2Z" fill="#ff0000" stroke="#ff0000"/><path d="M520.9 486.8L526.6 492.1L527.7 490.8L521.9 485.8Z" fill="#ec0000" stroke="#ec0000"/><path d="M492.3 475.2L491.5 478L493.1 478L493.1 475.2Z" fill="#fe0000" stroke="#fe0000"/><path d="M493.1 475.2L493.1 478L494.7 478L493.9 475.2Z" fill="#ff0000" stroke="#ff0000"/><path d="M483.6 476.8L478.8 479.8L480.3 480.3L484.6 477.1Z" fill="#f70000" stroke="#f70000"/><path d="M536.8 500.3L533.5 496.7L532.5 498Z" fill="#e40000" stroke="#e40000"/><path d="M501.6 477.1L505.9 480.3L507.4 479.9L502.6 476.8Z" fill="#ff0000" stroke="#ff0000"/><path d="M471 482.3L465.4 486.7L466.9 487.7L472.2 483.1Z" fill="#e80000" stroke="#e80000"/><path d="M526.6 492.1L531.9 497.8L532.5 498L533.5 496.7L527.7 490.8Z" fill="#e80000" stroke="#e80000"/><path d="M477.5 479.3L472.2 483.1L473.9 483.8L478.8 479.8Z" fill="#f20000" stroke="#f20000"/><path d="M484.6 477.1L480.3 480.3L482 480.7L485.8 477.4Z" fill="#fb0000" stroke="#fb0000"/><path d="M514 483.1L519.4 487.8L520.9 486.8L515.2 482.4Z" fill="#f60000" stroke="#f60000"/><path d="M500.4 477.4L504.2 480.7L505.9 480.3L501.6 477.1Z" fill="#ff0000" stroke="#ff0000"/><path d="M507.4 479.9L512.4 483.8L514 483.1L508.7 479.4Z" fill="#fd0000" stroke="#fd0000"/><path d="M465.4 486.7L459.7 491.9L461.5 493.2L466.9 487.7Z" fill="#e30000" stroke="#e30000"/><path d="M485.8 477.4L482 480.7L484 481.1L487.1 477.6Z" fill="#fe0000" stroke="#fe0000"/><path d="M499.1 477.6L502.3 481.1L504.2 480.7L500.4 477.4Z" fill="#ff0000" stroke="#ff0000"/><path d="M459.7 491.9L458.5 493.2L461.2 493.5L461.5 493.2Z" fill="#de0000" stroke="#de0000"/><path d="M478.8 479.8L473.9 483.8L475.9 484.4L480.3 480.3Z" fill="#f70000" stroke="#f70000"/><path d="M519.4 487.8L524.8 493.3L526.6 492.1L520.9 486.8Z" fill="#f40000" stroke="#f40000"/><path d="M487.1 477.6L484 481.1L486.1 481.3L488.5 477.8Z" fill="#ff0000" stroke="#ff0000"/><path d="M472.2 483.1L466.9 487.7L468.9 488.6L473.9 483.8Z" fill="#ef0000" stroke="#ef0000"/><path d="M497.7 477.8L500.1 481.4L502.3 481.1L499.1 477.6Z" fill="#ff0000" stroke="#ff0000"/><path d="M505.9 480.3L510.4 484.5L512.4 483.8L507.4 479.9Z" fill="#ff0000" stroke="#ff0000"/><path d="M488.5 477.8L486.1 481.3L488.4 481.5L490 477.9Z" fill="#ff0000" stroke="#ff0000"/><path d="M512.4 483.8L517.4 488.7L519.4 487.8L514 483.1Z" fill="#fc0000" stroke="#fc0000"/><path d="M496.2 477.9L497.9 481.6L500.1 481.4L497.7 477.8Z" fill="#ff0000" stroke="#ff0000"/><path d="M490 477.9L488.4 481.5L490.7 481.7L491.5 478Z" fill="#ff0000" stroke="#ff0000"/><path d="M524.8 493.3L527.5 496.4L531.9 497.8L526.6 492.1Z" fill="#f00000" stroke="#f00000"/><path d="M494.7 478L495.5 481.7L497.9 481.6L496.2 477.9Z" fill="#ff0000" stroke="#ff0000"/><path d="M491.5 478L490.7 481.7L493.1 481.7L493.1 478Z" fill="#ff0000" stroke="#ff0000"/><path d="M493.1 478L493.1 481.7L495.5 481.7L494.7 478Z" fill="#ff0000" stroke="#ff0000"/><path d="M480.3 480.3L475.9 484.4L478.2 485L482 480.7Z" fill="#fc0000" stroke="#fc0000"/><path d="M504.2 480.7L508.1 485L510.4 484.5L505.9 480.3Z" fill="#ff0000" stroke="#ff0000"/><path d="M466.9 487.7L461.5 493.2L463.9 494.4L468.9 488.6Z" fill="#eb0000" stroke="#eb0000"/><path d="M473.9 483.8L468.9 488.6L471.4 489.4L475.9 484.4Z" fill="#f60000" stroke="#f60000"/><path d="M482 480.7L478.2 485L480.8 485.5L484 481.1Z" fill="#ff0000" stroke="#ff0000"/><path d="M517.4 488.7L522.5 494.5L524.8 493.3L519.4 487.8Z" fill="#fb0000" stroke="#fb0000"/><path d="M510.4 484.5L514.9 489.5L517.4 488.7L512.4 483.8Z" fill="#ff0000" stroke="#ff0000"/><path d="M461.5 493.2L461.2 493.5L463.9 494.4L463.9 494.4Z" fill="#e70000" stroke="#e70000"/><path d="M502.3 481.1L505.5 485.5L508.1 485L504.2 480.7Z" fill="#ff0000" stroke="#ff0000"/><path d="M484 481.1L480.8 485.5L483.7 485.9L486.1 481.3Z" fill="#ff0000" stroke="#ff0000"/><path d="M500.1 481.4L502.6 485.9L505.5 485.5L502.3 481.1Z" fill="#ff0000" stroke="#ff0000"/><path d="M522.5 494.5L523.6 495.8L527.5 496.4L524.8 493.3Z" fill="#f80000" stroke="#f80000"/><path d="M475.9 484.4L471.4 489.4L474.3 490.2L478.2 485Z" fill="#fc0000" stroke="#fc0000"/><path d="M486.1 481.3L483.7 485.9L486.7 486.2L488.4 481.5Z" fill="#ff0000" stroke="#ff0000"/><path d="M468.9 488.6L463.9 494.4L466.8 495.4L471.4 489.4Z" fill="#f30000" stroke="#f30000"/><path d="M508.1 485L512 490.3L514.9 489.5L510.4 484.5Z" fill="#ff0000" stroke="#ff0000"/><path d="M497.9 481.6L499.6 486.2L502.6 485.9L500.1 481.4Z" fill="#ff0000" stroke="#ff0000"/><path d="M488.4 481.5L486.7 486.2L489.9 486.3L490.7 481.7Z" fill="#ff0000" stroke="#ff0000"/><path d="M495.5 481.7L496.4 486.3L499.6 486.2L497.9 481.6Z" fill="#ff0000" stroke="#ff0000"/><path d="M514.9 489.5L519.5 495.5L522.5 494.5L517.4 488.7Z" fill="#ff0000" stroke="#ff0000"/><path d="M490.7 481.7L489.9 486.3L493.2 486.4L493.1 481.7Z" fill="#ff0000" stroke="#ff0000"/><path d="M493.1 481.7L493.2 486.4L496.4 486.3L495.5 481.7Z" fill="#ff0000" stroke="#ff0000"/><path d="M463.9 494.4L463.9 494.4L466.6 495.8L466.8 495.4Z" fill="#f00000" stroke="#f00000"/><path d="M478.2 485L474.3 490.2L477.6 490.9L480.8 485.5Z" fill="#ff0000" stroke="#ff0000"/><path d="M505.5 485.5L508.8 490.9L512 490.3L508.1 485Z" fill="#ff0000" stroke="#ff0000"/><path d="M519.5 495.5L519.8 495.9L523.6 495.8L522.5 494.5Z" fill="#ff0000" stroke="#ff0000"/><path d="M471.4 489.4L466.8 495.4L470.3 496.4L474.3 490.2Z" fill="#fa0000" stroke="#fa0000"/><path d="M480.8 485.5L477.6 490.9L481.2 491.4L483.7 485.9Z" fill="#ff0000" stroke="#ff0000"/><path d="M512 490.3L516.1 496.5L519.5 495.5L514.9 489.5Z" fill="#ff0000" stroke="#ff0000"/><path d="M502.6 485.9L505.2 491.4L508.8 490.9L505.5 485.5Z" fill="#ff0000" stroke="#ff0000"/><path d="M483.7 485.9L481.2 491.4L485.1 491.8L486.7 486.2Z" fill="#ff0000" stroke="#ff0000"/><path d="M466.8 495.4L466.6 495.8L469.5 497.8L470.3 496.4Z" fill="#f70000" stroke="#f70000"/><path d="M499.6 486.2L501.3 491.8L505.2 491.4L502.6 485.9Z" fill="#ff0000" stroke="#ff0000"/><path d="M516.1 496.5L516.1 496.5L519.8 495.9L519.5 495.5Z" fill="#ff0000" stroke="#ff0000"/><path d="M474.3 490.2L470.3 496.4L474.3 497.2L477.6 490.9Z" fill="#ff0000" stroke="#ff0000"/><path d="M486.7 486.2L485.1 491.8L489.1 492L489.9 486.3Z" fill="#ff0000" stroke="#ff0000"/><path d="M496.4 486.3L497.3 492L501.3 491.8L499.6 486.2Z" fill="#ff0000" stroke="#ff0000"/><path d="M489.9 486.3L489.1 492L493.2 492.1L493.2 486.4Z" fill="#ff0000" stroke="#ff0000"/><path d="M508.8 490.9L512.1 497.3L516.1 496.5L512 490.3Z" fill="#ff0000" stroke="#ff0000"/><path d="M493.2 486.4L493.2 492.1L497.3 492L496.4 486.3Z" fill="#ff0000" stroke="#ff0000"/><path d="M477.6 490.9L474.3 497.2L478.7 497.9L481.2 491.4Z" fill="#ff0000" stroke="#ff0000"/><path d="M470.3 496.4L469.5 497.8L472.6 500.8L474.3 497.2Z" fill="#fe0000" stroke="#fe0000"/><path d="M505.2 491.4L507.8 498L512.1 497.3L508.8 490.9Z" fill="#ff0000" stroke="#ff0000"/><path d="M512.1 497.3L512.3 497.7L516.1 496.5L516.1 496.5Z" fill="#ff0000" stroke="#ff0000"/><path d="M481.2 491.4L478.7 497.9L483.3 498.4L485.1 491.8Z" fill="#ff0000" stroke="#ff0000"/><path d="M501.3 491.8L503.1 498.5L507.8 498L505.2 491.4Z" fill="#ff0000" stroke="#ff0000"/><path d="M485.1 491.8L483.3 498.4L488.2 498.7L489.1 492Z" fill="#ff0000" stroke="#ff0000"/><path d="M507.8 498L508.3 499.5L512.3 497.7L512.1 497.3Z" fill="#ff0000" stroke="#ff0000"/><path d="M497.3 492L498.2 498.7L503.1 498.5L501.3 491.8Z" fill="#ff0000" stroke="#ff0000"/><path d="M489.1 492L488.2 498.7L493.2 498.8L493.2 492.1Z" fill="#ff0000" stroke="#ff0000"/><path d="M493.2 492.1L493.2 498.8L498.2 498.7L497.3 492Z" fill="#ff0000" stroke="#ff0000"/><path d="M474.3 497.2L472.6 500.8L476.2 504.9L478.7 497.9Z" fill="#ff0000" stroke="#ff0000"/><path d="M503.1 498.5L504 502.1L508.3 499.5L507.8 498Z" fill="#ff0000" stroke="#ff0000"/><path d="M478.7 497.9L476.2 504.9L476.7 505.5L481.6 506.1L483.3 498.4Z" fill="#ff0000" stroke="#ff0000"/><path d="M498.2 498.7L499.1 505.9L504 502.1L503.1 498.5Z" fill="#ff0000" stroke="#ff0000"/><path d="M483.3 498.4L481.6 506.1L487.3 506.5L488.2 498.7Z" fill="#ff0000" stroke="#ff0000"/><path d="M488.2 498.7L487.3 506.5L493.2 506.6L493.2 498.8Z" fill="#ff0000" stroke="#ff0000"/><path d="M493.2 498.8L493.2 506.6L498.4 506.5L499.1 505.9L498.2 498.7Z" fill="#ff0000" stroke="#ff0000"/><path d="M480.5 510.9L481.6 506.1L476.7 505.5Z" fill="#ff0000" stroke="#ff0000"/><path d="M493.2 506.6L493.3 511.5L498.4 506.5Z" fill="#ff0000" stroke="#ff0000"/><path d="M481.6 506.1L480.5 510.9L483.1 515L486.4 515.4L487.3 506.5Z" fill="#ff0000" stroke="#ff0000"/><path d="M487.3 506.5L486.4 515.4L489.8 515.4L493.3 511.5L493.2 506.6Z" fill="#ff0000" stroke="#ff0000"/><path d="M486 520.1L486.4 515.4L483.1 515Z" fill="#ff0000" stroke="#ff0000"/><path d="M486.4 515.4L486 520.1L486 520.1L489.8 515.4Z" fill="#ff0000" stroke="#ff0000"/></g>
<path d="M520.1 481.2L519.3 480.8L518.4 480.3L517.4 479.9L516.4 479.5L515.2 479.1L514 478.7L512.6 478.4L511.2 478.1L509.8 477.8L508.3 477.5L506.7 477.3L505.1 477L503.4 476.9L501.7 476.7L500 476.6L498.2 476.5L496.5 476.4L494.7 476.3L492.9 476.3L491.1 476.3L489.4 476.4L487.6 476.4L485.9 476.5L484.1 476.7L482.5 476.8L480.8 477L479.2 477.2L477.6 477.5L476.1 477.7L474.7 478L473.3 478.3L472 478.7L470.8 479L469.6 479.4L468.6 479.8L467.6 480.2L466.8 480.7L466 481.1L465.3 481.6" class="c" stroke-opacity=".45"/>
<path d="M512 490.3L513.5 489.9L514.9 489.5L516.2 489.1L517.4 488.7L518.5 488.2L519.4 487.8L520.2 487.3L520.9 486.8L521.5 486.3L521.9 485.8L522.2 485.2L522.3 484.7L522.4 484.2L522.3 483.7L522.1 483.2L521.8 482.7L521.3 482.2L520.8 481.7L520.1 481.2M465.3 481.6L464.8 482.1L464.4 482.6L464 483.1L463.9 483.6L463.8 484.1L463.9 484.6L464 485.1L464.4 485.7L464.8 486.2L465.4 486.7L466.1 487.2L466.9 487.7L467.8 488.1L468.9 488.6L470.1 489L471.4 489.4L472.8 489.8L474.3 490.2L475.9 490.5L477.6 490.9L479.4 491.1L481.2 491.4L483.1 491.6L485.1 491.8L487 491.9L489.1 492L491.1 492.1L493.2 492.1L495.2 492.1L497.3 492L499.3 491.9L501.3 491.8L503.3 491.6L505.2 491.4L507 491.2L508.8 490.9L510.4 490.6L512 490.3" class="c"/>
<g opacity="0.80" stroke-width=".35" stroke-linejoin="round"><path d="M443.9 442.2L443.9 442.2L443.9 442.2L446.2 446.2L446.2 446.2L448.3 449.5L448.3 449.5L448.3 449.5L448.3 449.5L451.5 453.9L451.5 453.9L451.5 453.9L451.5 453.9L451.9 454.4L451.9 454.4L451.9 454.4L455.1 457.8L455.1 457.8L458.1 460.3L458.1 460.3L459.3 461.3L459.3 461.3L465.1 465.5L465.1 465.5L470.9 468.8L470.9 468.8L472.1 469.5L472.1 469.5L477.5 471.7L477.5 471.7L478.7 472.2L478.7 472.2L478.7 472.2L480.2 472.6L480.2 472.6L484.6 473.7L484.6 473.7L485.8 474L485.8 474L485.8 474L487.1 474.2L487.1 474.2L487.1 474.2L488.5 474.4L488.5 474.4L488.5 474.4L490 474.5L490 474.5L491.5 474.6L491.5 474.6L493.1 474.6L493.1 474.6L494.7 474.6L494.7 474.6L496.2 474.5L496.2 474.5L497.7 474.4L497.7 474.4L497.7 474.4L499.1 474.2L499.1 474.2L499.1 474.2L500.4 474L500.4 474L500.4 474L500.4 474L501.6 473.8L506 472.7L506 472.7L507.5 472.2L507.5 472.2L507.5 472.2L508.7 471.8L508.7 471.8L514.2 469.5L514.2 469.5L515.4 468.9L515.4 468.9L515.4 468.9L521.2 465.5L521.2 465.5L521.2 465.5L527.1 461.3L527.1 461.3L528.2 460.4L528.2 460.4L534.4 455.1L534.4 455.1L534.4 455.1L534.4 455.1L537.9 451.7L537.9 451.7L540.9 448.4L540.9 448.4L540.9 448.4L540.9 448.4L544.2 444.4L544.2 444.4L544.2 444.4L540.9 447.3L540.9 447.3L538.1 449.5L538.1 449.5L533.8 452.1L533.8 452.1L533.3 452.4L533.3 452.4L529.3 453.9L529.3 453.9L529.3 453.9L525.9 454.6L525.9 454.6L525.9 454.6L522.7 454.6L522.7 454.6L522.7 454.6L519.7 454.2L519.7 454.2L519.7 454.2L516.8 453.3L516.8 453.3L516.8 453.3L513.8 451.8L513.8 451.8L510.7 449.7L510.7 449.7L507.3 446.7L507.3 446.7L506.8 446.2L506.8 446.2L503.4 442.3L503.4 442.3L501.2 439.3L501.2 439.3L498.7 435.7L498.7 435.7L498.7 435.7L498.7 435.7L498.7 435.7L498.7 435.7L495.7 439.2L495.7 439.2L492.9 442.1L492.9 442.1L488.6 445.8L488.6 445.8L488 446.2L488 446.2L483.8 449L483.8 449L480 451L480 451L476.3 452.2L476.3 452.2L472.8 453L472.8 453L469.2 453.3L469.2 453.3L465.4 453L465.4 453L461.2 452.2L461.2 452.2L456.5 450.4L456.5 450.4L455.9 450.2L455.9 450.2L450.9 447.4L450.9 447.4L447.6 445.2L447.6 445.2L443.9 442.2L443.9 442.2ZM501.6 473.8L501.6 473.8L501.6 473.8Z" fill="#00c084" fill-rule="evenodd"/><path d="M498.4 439.1L498.7 435.7L498.7 435.7L495.7 439.2Z" fill="#00fdca" stroke="#00fdca"/><path d="M498.7 435.7L498.4 439.1L501.2 439.3Z" fill="#00f7c4" stroke="#00f7c4"/><path d="M497.8 445.8L498.4 439.1L495.7 439.2L492.9 442.1L492.9 445.7Z" fill="#00fdc7" stroke="#00fdc7"/><path d="M502.7 445.9L503.4 442.3L501.2 439.3L498.4 439.1L497.8 445.8Z" fill="#00f7c2" stroke="#00f7c2"/><path d="M492.9 445.7L492.9 442.1L488.6 445.8Z" fill="#00ffcb" stroke="#00ffcb"/><path d="M503.4 442.3L502.7 445.9L506.8 446.2Z" fill="#00eebb" stroke="#00eebb"/><path d="M492.9 451.7L492.9 445.7L488.6 445.8L488 446.2L488.7 451.7Z" fill="#00ffc5" stroke="#00ffc5"/><path d="M497.2 451.7L497.8 445.8L492.9 445.7L492.9 451.7Z" fill="#00fcc2" stroke="#00fcc2"/><path d="M501.4 451.9L502.7 445.9L497.8 445.8L497.2 451.7Z" fill="#00f6bd" stroke="#00f6bd"/><path d="M488.7 451.7L488 446.2L483.8 449L484.5 451.9Z" fill="#00ffc7" stroke="#00ffc7"/><path d="M505.5 452.2L507.3 446.7L506.8 446.2L502.7 445.9L501.4 451.9Z" fill="#00eeb6" stroke="#00eeb6"/><path d="M484.5 451.9L483.8 449L480 451L480.4 452.2Z" fill="#00ffc6" stroke="#00ffc6"/><path d="M509.4 452.5L510.7 449.7L507.3 446.7L505.5 452.2Z" fill="#00e4ae" stroke="#00e4ae"/><path d="M492.9 457L492.9 451.7L488.7 451.7L489.3 457.1Z" fill="#00fdbe" stroke="#00fdbe"/><path d="M496.5 457.1L497.2 451.7L492.9 451.7L492.9 457Z" fill="#00f9bb" stroke="#00f9bb"/><path d="M489.3 457.1L488.7 451.7L484.5 451.9L485.8 457.2Z" fill="#00ffc0" stroke="#00ffc0"/><path d="M480.4 452.2L480 451L476.3 452.2L476.5 452.5Z" fill="#00ffc9" stroke="#00ffc9"/><path d="M500.1 457.2L501.4 451.9L497.2 451.7L496.5 457.1Z" fill="#00f3b7" stroke="#00f3b7"/><path d="M485.8 457.2L484.5 451.9L480.4 452.2L482.4 457.4Z" fill="#00ffbf" stroke="#00ffbf"/><path d="M503.5 457.5L505.5 452.2L501.4 451.9L500.1 457.2Z" fill="#00ecb1" stroke="#00ecb1"/><path d="M476.5 452.5L476.3 452.2L472.8 453L472.8 453Z" fill="#00ffd0" stroke="#00ffd0"/><path d="M482.4 457.4L480.4 452.2L476.5 452.5L479.1 457.8Z" fill="#00ffc0" stroke="#00ffc0"/><path d="M513.2 453L513.8 451.8L510.7 449.7L509.4 452.5Z" fill="#00daa4" stroke="#00daa4"/><path d="M506.8 457.8L509.4 452.5L505.5 452.2L503.5 457.5Z" fill="#00e4a9" stroke="#00e4a9"/><path d="M493 461.7L492.9 457L489.3 457.1L490.1 461.7Z" fill="#00f7b5" stroke="#00f7b5"/><path d="M479.1 457.8L476.5 452.5L472.8 453L476 458.2Z" fill="#00ffc6" stroke="#00ffc6"/><path d="M495.9 461.7L496.5 457.1L492.9 457L493 461.7Z" fill="#00f4b3" stroke="#00f4b3"/><path d="M490.1 461.7L489.3 457.1L485.8 457.2L487.2 461.9Z" fill="#00f9b6" stroke="#00f9b6"/><path d="M498.7 461.9L500.1 457.2L496.5 457.1L495.9 461.7Z" fill="#00efaf" stroke="#00efaf"/><path d="M510 458.2L513.2 453L509.4 452.5L506.8 457.8Z" fill="#00daa0" stroke="#00daa0"/><path d="M472.8 453L472.8 453L469.2 453.3L469.4 453.5Z" fill="#00ffd4" stroke="#00ffd4"/><path d="M487.2 461.9L485.8 457.2L482.4 457.4L484.4 462.1Z" fill="#00f9b6" stroke="#00f9b6"/><path d="M516.6 453.5L516.8 453.3L513.8 451.8L513.2 453Z" fill="#00cd99" stroke="#00cd99"/><path d="M501.5 462.1L503.5 457.5L500.1 457.2L498.7 461.9Z" fill="#00e9a9" stroke="#00e9a9"/><path d="M484.4 462.1L482.4 457.4L479.1 457.8L481.8 462.3Z" fill="#00f8b4" stroke="#00f8b4"/><path d="M476 458.2L472.8 453L469.4 453.5L473.1 458.7Z" fill="#00feca" stroke="#00feca"/><path d="M504.2 462.4L506.8 457.8L503.5 457.5L501.5 462.1Z" fill="#00e1a3" stroke="#00e1a3"/><path d="M512.8 458.7L516.6 453.5L513.2 453L510 458.2Z" fill="#00cf96" stroke="#00cf96"/><path d="M469.4 453.5L469.2 453.3L465.4 453L466.3 454.2Z" fill="#00fed6" stroke="#00fed6"/><path d="M481.8 462.3L479.1 457.8L476 458.2L479.3 462.7Z" fill="#00f8b9" stroke="#00f8b9"/><path d="M506.7 462.7L510 458.2L506.8 457.8L504.2 462.4Z" fill="#00d99b" stroke="#00d99b"/><path d="M519.7 454.2L519.7 454.2L516.8 453.3L516.6 453.5Z" fill="#00c08d" stroke="#00c08d"/><path d="M493 465.7L493 461.7L490.1 461.7L490.8 465.7Z" fill="#00efa9" stroke="#00efa9"/><path d="M495.2 465.7L495.9 461.7L493 461.7L493 465.7Z" fill="#00eca7" stroke="#00eca7"/><path d="M473.1 458.7L469.4 453.5L466.3 454.2L470.6 459.3Z" fill="#00facc" stroke="#00facc"/><path d="M490.8 465.7L490.1 461.7L487.2 461.9L488.6 465.8Z" fill="#00f0aa" stroke="#00f0aa"/><path d="M497.4 465.8L498.7 461.9L495.9 461.7L495.2 465.7Z" fill="#00e8a4" stroke="#00e8a4"/><path d="M488.6 465.8L487.2 461.9L484.4 462.1L486.5 466Z" fill="#00f1aa" stroke="#00f1aa"/><path d="M479.3 462.7L476 458.2L473.1 458.7L477 463.1Z" fill="#00f7bd" stroke="#00f7bd"/><path d="M515.4 459.3L519.7 454.2L516.6 453.5L512.8 458.7Z" fill="#00c38b" stroke="#00c38b"/><path d="M499.5 466L501.5 462.1L498.7 461.9L497.4 465.8Z" fill="#00e39f" stroke="#00e39f"/><path d="M509 463.1L512.8 458.7L510 458.2L506.7 462.7Z" fill="#00cf92" stroke="#00cf92"/><path d="M466.3 454.2L465.4 453L461.2 452.2L463.6 454.9Z" fill="#00f8d6" stroke="#00f8d6"/><path d="M486.5 466L484.4 462.1L481.8 462.3L484.5 466.2Z" fill="#00f0a8" stroke="#00f0a8"/><path d="M501.5 466.2L504.2 462.4L501.5 462.1L499.5 466Z" fill="#00dd9a" stroke="#00dd9a"/><path d="M484.5 466.2L481.8 462.3L479.3 462.7L482.6 466.5Z" fill="#00efaa" stroke="#00efaa"/><path d="M522.5 454.9L522.7 454.6L519.7 454.2L519.7 454.2Z" fill="#00b280" stroke="#00b280"/><path d="M477 463.1L473.1 458.7L470.6 459.3L475 463.6Z" fill="#00f4bf" stroke="#00f4bf"/><path d="M470.6 459.3L466.3 454.2L463.6 454.9L468.4 459.9Z" fill="#00f5cc" stroke="#00f5cc"/><path d="M503.4 466.5L506.7 462.7L504.2 462.4L501.5 466.2Z" fill="#00d693" stroke="#00d693"/><path d="M511.1 463.6L515.4 459.3L512.8 458.7L509 463.1Z" fill="#00c588" stroke="#00c588"/><path d="M517.7 459.9L522.5 454.9L519.7 454.2L515.4 459.3Z" fill="#00b680" stroke="#00b680"/><path d="M482.6 466.5L479.3 462.7L477 463.1L480.9 466.8Z" fill="#00eead" stroke="#00eead"/><path d="M505.1 466.8L509 463.1L506.7 462.7L503.4 466.5Z" fill="#00ce8c" stroke="#00ce8c"/><path d="M493 469L493 465.7L490.8 465.7L491.5 469Z" fill="#00e39a" stroke="#00e39a"/><path d="M494.5 469L495.2 465.7L493 465.7L493 469Z" fill="#00e199" stroke="#00e199"/><path d="M491.5 469L490.8 465.7L488.6 465.8L490 469.1Z" fill="#00e49b" stroke="#00e49b"/><path d="M463.6 454.9L461.2 452.2L456.5 450.4L461.3 455.7Z" fill="#00f1d4" stroke="#00f1d4"/><path d="M496 469.1L497.4 465.8L495.2 465.7L494.5 469Z" fill="#00de96" stroke="#00de96"/><path d="M490 469.1L488.6 465.8L486.5 466L488.6 469.2Z" fill="#00e49b" stroke="#00e49b"/><path d="M475 463.6L470.6 459.3L468.4 459.9L473.2 464.1Z" fill="#00f0bf" stroke="#00f0bf"/><path d="M497.4 469.2L499.5 466L497.4 465.8L496 469.1Z" fill="#00da93" stroke="#00da93"/><path d="M480.9 466.8L477 463.1L475 463.6L479.4 467.2Z" fill="#00ebae" stroke="#00ebae"/><path d="M488.6 469.2L486.5 466L484.5 466.2L487.3 469.3Z" fill="#00e399" stroke="#00e399"/><path d="M512.9 464.2L517.7 459.9L515.4 459.3L511.1 463.6Z" fill="#00b97e" stroke="#00b97e"/><path d="M498.7 469.4L501.5 466.2L499.5 466L497.4 469.2Z" fill="#00d58f" stroke="#00d58f"/><path d="M468.4 459.9L463.6 454.9L461.3 455.7L466.5 460.6Z" fill="#00eeca" stroke="#00eeca"/><path d="M506.7 467.2L511.1 463.6L509 463.1L505.1 466.8Z" fill="#00c584" stroke="#00c584"/><path d="M524.8 455.7L525.9 454.6L522.7 454.6L522.5 454.9Z" fill="#00a473" stroke="#00a473"/><path d="M487.3 469.3L484.5 466.2L482.6 466.5L486 469.5Z" fill="#00e297" stroke="#00e297"/><path d="M500 469.5L503.4 466.5L501.5 466.2L498.7 469.4Z" fill="#00d08a" stroke="#00d08a"/><path d="M519.6 460.6L524.8 455.7L522.5 454.9L517.7 459.9Z" fill="#00a973" stroke="#00a973"/><path d="M479.4 467.2L475 463.6L473.2 464.1L478.1 467.6Z" fill="#00e8ae" stroke="#00e8ae"/><path d="M486 469.5L482.6 466.5L480.9 466.8L484.9 469.8Z" fill="#00e099" stroke="#00e099"/><path d="M473.2 464.1L468.4 459.9L466.5 460.6L471.7 464.7Z" fill="#00eabd" stroke="#00eabd"/><path d="M501.2 469.8L505.1 466.8L503.4 466.5L500 469.5Z" fill="#00ca84" stroke="#00ca84"/><path d="M508 467.6L512.9 464.2L511.1 463.6L506.7 467.2Z" fill="#00bc7c" stroke="#00bc7c"/><path d="M461.3 455.7L456.5 450.4L455.9 450.2L454 450.9L459.6 456.6Z" fill="#00e8cf" stroke="#00e8cf"/><path d="M514.3 464.8L519.6 460.6L517.7 459.9L512.9 464.2Z" fill="#00ae73" stroke="#00ae73"/><path d="M484.9 469.8L480.9 466.8L479.4 467.2L483.9 470Z" fill="#00df9a" stroke="#00df9a"/><path d="M450.9 447.4L454 450.9L455.9 450.2Z" fill="#00e8d7" stroke="#00e8d7"/><path d="M502.2 470L506.7 467.2L505.1 466.8L501.2 469.8Z" fill="#00c37e" stroke="#00c37e"/><path d="M493 471.6L493 469L491.5 469L492.3 471.6Z" fill="#00d388" stroke="#00d388"/><path d="M493.8 471.6L494.5 469L493 469L493 471.6Z" fill="#00d187" stroke="#00d187"/><path d="M466.5 460.6L461.3 455.7L459.6 456.6L465.1 461.4Z" fill="#00e6c6" stroke="#00e6c6"/><path d="M492.3 471.6L491.5 469L490 469.1L491.5 471.6Z" fill="#00d388" stroke="#00d388"/><path d="M478.1 467.6L473.2 464.1L471.7 464.7L477 468.1Z" fill="#00e3ac" stroke="#00e3ac"/><path d="M494.5 471.6L496 469.1L494.5 469L493.8 471.6Z" fill="#00cf85" stroke="#00cf85"/><path d="M491.5 471.6L490 469.1L488.6 469.2L490.8 471.7Z" fill="#00d388" stroke="#00d388"/><path d="M495.2 471.7L497.4 469.2L496 469.1L494.5 471.6Z" fill="#00cd83" stroke="#00cd83"/><path d="M526.6 456.6L529.3 453.9L525.9 454.6L524.8 455.7Z" fill="#009565" stroke="#009565"/><path d="M483.9 470L479.4 467.2L478.1 467.6L483 470.3Z" fill="#00dc9a" stroke="#00dc9a"/><path d="M509.1 468.1L514.3 464.8L512.9 464.2L508 467.6Z" fill="#00b273" stroke="#00b273"/><path d="M490.8 471.7L488.6 469.2L487.3 469.3L490.1 471.7Z" fill="#00d387" stroke="#00d387"/><path d="M495.9 471.7L498.7 469.4L497.4 469.2L495.2 471.7Z" fill="#00ca81" stroke="#00ca81"/><path d="M521 461.4L526.6 456.6L524.8 455.7L519.6 460.6Z" fill="#009b66" stroke="#009b66"/><path d="M503.1 470.3L508 467.6L506.7 467.2L502.2 470Z" fill="#00bc78" stroke="#00bc78"/><path d="M471.7 464.7L466.5 460.6L465.1 461.4L470.6 465.4Z" fill="#00e3b9" stroke="#00e3b9"/><path d="M490.1 471.7L487.3 469.3L486 469.5L489.5 471.8Z" fill="#00d286" stroke="#00d286"/><path d="M496.6 471.8L500 469.5L498.7 469.4L495.9 471.7Z" fill="#00c77e" stroke="#00c77e"/><path d="M489.5 471.8L486 469.5L484.9 469.8L488.9 472Z" fill="#00d084" stroke="#00d084"/><path d="M515.5 465.4L521 461.4L519.6 460.6L514.3 464.8Z" fill="#00a268" stroke="#00a268"/><path d="M497.1 472L501.2 469.8L500 469.5L496.6 471.8Z" fill="#00c37a" stroke="#00c37a"/><path d="M483 470.3L478.1 467.6L477 468.1L482.3 470.6Z" fill="#00d899" stroke="#00d899"/><path d="M477 468.1L471.7 464.7L470.6 465.4L476.2 468.6Z" fill="#00dda9" stroke="#00dda9"/><path d="M503.8 470.7L509.1 468.1L508 467.6L503.1 470.3Z" fill="#00b571" stroke="#00b571"/><path d="M488.9 472L484.9 469.8L483.9 470L488.4 472.1Z" fill="#00ce82" stroke="#00ce82"/><path d="M497.7 472.1L502.2 470L501.2 469.8L497.1 472Z" fill="#00bf77" stroke="#00bf77"/><path d="M509.9 468.6L515.5 465.4L514.3 464.8L509.1 468.1Z" fill="#00a869" stroke="#00a869"/><path d="M454 450.9L450.9 447.4L447.6 445.2L446.7 445.6L452.5 451.9Z" fill="#00ddcf" stroke="#00ddcf"/><path d="M488.4 472.1L483.9 470L483 470.3L488 472.2Z" fill="#00cc82" stroke="#00cc82"/><path d="M459.6 456.6L454 450.9L452.5 451.9L458.3 457.5Z" fill="#00ddc8" stroke="#00ddc8"/><path d="M498.1 472.3L503.1 470.3L502.2 470L497.7 472.1Z" fill="#00bb73" stroke="#00bb73"/><path d="M465.1 461.4L459.6 456.6L458.3 457.5L464.1 462.2Z" fill="#00dcbf" stroke="#00dcbf"/><path d="M482.3 470.6L477 468.1L476.2 468.6L481.8 471Z" fill="#00d496" stroke="#00d496"/><path d="M470.6 465.4L465.1 461.4L464.1 462.2L469.9 466Z" fill="#00dab4" stroke="#00dab4"/><path d="M504.3 471L509.9 468.6L509.1 468.1L503.8 470.7Z" fill="#00ae6a" stroke="#00ae6a"/><path d="M493.1 473.4L493 471.6L492.3 471.6Z" fill="#00be73" stroke="#00be73"/><path d="M493.1 473.4L493.8 471.6L493 471.6Z" fill="#00be73" stroke="#00be73"/><path d="M488 472.2L483 470.3L482.3 470.6L487.6 472.4Z" fill="#00ca81" stroke="#00ca81"/><path d="M493.1 473.4L492.3 471.6L491.5 471.6Z" fill="#00bf73" stroke="#00bf73"/><path d="M493.1 473.4L494.5 471.6L493.8 471.6Z" fill="#00bd72" stroke="#00bd72"/><path d="M493.1 473.4L491.5 471.6L490.8 471.7Z" fill="#00bf73" stroke="#00bf73"/><path d="M493.1 473.4L495.2 471.7L494.5 471.6Z" fill="#00bc71" stroke="#00bc71"/><path d="M498.4 472.4L503.8 470.7L503.1 470.3L498.1 472.3Z" fill="#00b66e" stroke="#00b66e"/><path d="M493.1 473.4L490.8 471.7L490.1 471.7Z" fill="#00be73" stroke="#00be73"/><path d="M493.1 473.4L495.9 471.7L495.2 471.7Z" fill="#00bb71" stroke="#00bb71"/><path d="M527.9 457.5L533.3 452.4L529.3 453.9L526.6 456.6Z" fill="#008656" stroke="#008656"/><path d="M476.2 468.6L470.6 465.4L469.9 466L475.7 469.1Z" fill="#00d6a5" stroke="#00d6a5"/><path d="M522.1 462.2L527.9 457.5L526.6 456.6L521 461.4Z" fill="#008e59" stroke="#008e59"/><path d="M493.1 473.4L490.1 471.7L489.5 471.8Z" fill="#00be72" stroke="#00be72"/><path d="M493.1 473.4L496.6 471.8L495.9 471.7Z" fill="#00ba6f" stroke="#00ba6f"/><path d="M516.3 466.1L522.1 462.2L521 461.4L515.5 465.4Z" fill="#00965d" stroke="#00965d"/><path d="M493.1 473.4L489.5 471.8L488.9 472Z" fill="#00be72" stroke="#00be72"/><path d="M443.9 442.2L446.7 445.6L447.6 445.2Z" fill="#00dcd4" stroke="#00dcd4"/><path d="M493.1 473.4L497.1 472L496.6 471.8Z" fill="#00b96e" stroke="#00b96e"/><path d="M487.6 472.4L482.3 470.6L481.8 471L487.4 472.6Z" fill="#00c77f" stroke="#00c77f"/><path d="M510.5 469.1L516.3 466.1L515.5 465.4L509.9 468.6Z" fill="#009e60" stroke="#009e60"/><path d="M481.8 471L476.2 468.6L475.7 469.1L481.4 471.3Z" fill="#00ce93" stroke="#00ce93"/><path d="M493.1 473.4L488.9 472L488.4 472.1Z" fill="#00bd71" stroke="#00bd71"/><path d="M498.7 472.6L504.3 471L503.8 470.7L498.4 472.4Z" fill="#00b16a" stroke="#00b16a"/><path d="M493.1 473.4L497.7 472.1L497.1 472Z" fill="#00b86d" stroke="#00b86d"/><path d="M493.1 473.4L488.4 472.1L488 472.2Z" fill="#00bc70" stroke="#00bc70"/><path d="M504.7 471.4L510.5 469.1L509.9 468.6L504.3 471Z" fill="#00a663" stroke="#00a663"/><path d="M493.1 473.4L498.1 472.3L497.7 472.1Z" fill="#00b66c" stroke="#00b66c"/><path d="M493.1 473.4L488 472.2L487.6 472.4Z" fill="#00bb6f" stroke="#00bb6f"/><path d="M487.4 472.6L481.8 471L481.4 471.3L487.2 472.8Z" fill="#00c47d" stroke="#00c47d"/><path d="M493.1 473.4L498.4 472.4L498.1 472.3Z" fill="#00b56a" stroke="#00b56a"/><path d="M498.9 472.8L504.7 471.4L504.3 471L498.7 472.6Z" fill="#00ad66" stroke="#00ad66"/><path d="M493.1 473.4L487.6 472.4L487.4 472.6Z" fill="#00ba6e" stroke="#00ba6e"/><path d="M493.1 473.4L498.7 472.6L498.4 472.4Z" fill="#00b369" stroke="#00b369"/><path d="M446.7 445.6L443.9 442.2L443.9 442.2L446.2 446.2Z" fill="#00cfca" stroke="#00cfca"/><path d="M493.1 473.4L487.4 472.6L487.2 472.8Z" fill="#00b86c" stroke="#00b86c"/><path d="M475.7 469.1L469.9 466L469.5 466.7L475.4 469.6Z" fill="#00ce9f" stroke="#00ce9f"/><path d="M481.4 471.3L475.7 469.1L475.4 469.6L481.3 471.7Z" fill="#00c88e" stroke="#00c88e"/><path d="M493.1 473.4L498.9 472.8L498.7 472.6Z" fill="#00b267" stroke="#00b267"/><path d="M469.9 466L464.1 462.2L463.6 463L469.5 466.7Z" fill="#00d0ac" stroke="#00d0ac"/><path d="M487.2 472.8L481.4 471.3L481.3 471.7L487.2 473Z" fill="#00c07b" stroke="#00c07b"/><path d="M464.1 462.2L458.3 457.5L457.6 458.4L463.6 463Z" fill="#00d1b7" stroke="#00d1b7"/><path d="M493.1 473.4L487.2 472.8L487.2 473Z" fill="#00b76b" stroke="#00b76b"/><path d="M498.9 473L504.8 471.7L504.7 471.4L498.9 472.8Z" fill="#00a861" stroke="#00a861"/><path d="M504.8 471.7L510.7 469.7L510.5 469.1L504.7 471.4Z" fill="#009f5c" stroke="#009f5c"/><path d="M493.1 473.4L498.9 473L498.9 472.8Z" fill="#00b066" stroke="#00b066"/><path d="M510.7 469.7L516.6 466.8L516.3 466.1L510.5 469.1Z" fill="#009557" stroke="#009557"/><path d="M458.3 457.5L452.5 451.9L451.6 453L457.6 458.4Z" fill="#00d1bf" stroke="#00d1bf"/><path d="M493.1 473.4L487.2 473L487.2 473.1Z" fill="#00b569" stroke="#00b569"/><path d="M516.6 466.8L522.6 463L522.1 462.2L516.3 466.1Z" fill="#008a51" stroke="#008a51"/><path d="M493.1 473.4L498.9 473.2L498.9 473Z" fill="#00ae64" stroke="#00ae64"/><path d="M487.2 473L481.3 471.7L481.4 472.1L487.2 473.1Z" fill="#00bc77" stroke="#00bc77"/><path d="M452.5 451.9L446.7 445.6L446.2 446.2L448.3 449.5L451.6 453Z" fill="#00d0c6" stroke="#00d0c6"/><path d="M493.1 473.4L487.2 473.1L487.4 473.3Z" fill="#00b468" stroke="#00b468"/><path d="M522.6 463L528.6 458.4L527.9 457.5L522.1 462.2Z" fill="#00804c" stroke="#00804c"/><path d="M493.1 473.4L498.8 473.3L498.9 473.2Z" fill="#00ad63" stroke="#00ad63"/><path d="M498.9 473.2L504.8 472.1L504.8 471.7L498.9 473Z" fill="#00a45d" stroke="#00a45d"/><path d="M528.6 458.4L534.7 453L533.8 452.1L533.3 452.4L527.9 457.5Z" fill="#007748" stroke="#007748"/><path d="M481.3 471.7L475.4 469.6L475.5 470.2L481.4 472.1Z" fill="#00c289" stroke="#00c289"/><path d="M493.1 473.4L487.4 473.3L487.6 473.5Z" fill="#00b266" stroke="#00b266"/><path d="M493.1 473.4L498.5 473.5L498.8 473.3Z" fill="#00ac62" stroke="#00ac62"/><path d="M493.1 473.4L487.6 473.5L487.9 473.7Z" fill="#00b165" stroke="#00b165"/><path d="M504.8 472.1L510.7 470.2L510.7 469.7L504.8 471.7Z" fill="#009855" stroke="#009855"/><path d="M487.2 473.1L481.4 472.1L481.6 472.4L487.4 473.3Z" fill="#00b773" stroke="#00b773"/><path d="M493.1 473.4L498.2 473.7L498.5 473.5Z" fill="#00aa60" stroke="#00aa60"/><path d="M475.4 469.6L469.5 466.7L469.6 467.4L475.5 470.2Z" fill="#00c598" stroke="#00c598"/><path d="M498.8 473.3L504.5 472.5L504.8 472.1L498.9 473.2Z" fill="#00a059" stroke="#00a059"/><path d="M493.1 473.4L487.9 473.7L488.4 473.8Z" fill="#00af64" stroke="#00af64"/><path d="M493.1 473.4L497.8 473.8L498.2 473.7Z" fill="#00a95f" stroke="#00a95f"/><path d="M493.1 473.4L488.4 473.8L488.9 474Z" fill="#00ae62" stroke="#00ae62"/><path d="M493.1 473.4L497.3 474L497.8 473.8Z" fill="#00a85e" stroke="#00a85e"/><path d="M510.7 470.2L516.6 467.5L516.6 466.8L510.7 469.7Z" fill="#008b4d" stroke="#008b4d"/><path d="M469.5 466.7L463.6 463L463.6 463.8L469.6 467.4Z" fill="#00c6a4" stroke="#00c6a4"/><path d="M487.4 473.3L481.6 472.4L482.1 472.8L487.6 473.5Z" fill="#00b36f" stroke="#00b36f"/><path d="M493.1 473.4L488.9 474L489.5 474.1Z" fill="#00ac61" stroke="#00ac61"/><path d="M493.1 473.4L496.7 474.1L497.3 474Z" fill="#00a85d" stroke="#00a85d"/><path d="M481.4 472.1L475.5 470.2L475.8 470.7L481.6 472.4Z" fill="#00bb83" stroke="#00bb83"/><path d="M498.5 473.5L504.1 472.8L504.5 472.5L498.8 473.3Z" fill="#009c55" stroke="#009c55"/><path d="M534.7 453L538.1 449.5L533.8 452.1Z" fill="#006f44" stroke="#006f44"/><path d="M493.1 473.4L489.5 474.1L490.1 474.2Z" fill="#00ab60" stroke="#00ab60"/><path d="M493.1 473.4L496.1 474.2L496.7 474.1Z" fill="#00a75d" stroke="#00a75d"/><path d="M493.1 473.4L490.1 474.2L490.8 474.3Z" fill="#00aa5f" stroke="#00aa5f"/><path d="M493.1 473.4L495.4 474.3L496.1 474.2Z" fill="#00a75c" stroke="#00a75c"/><path d="M504.5 472.5L510.3 470.7L510.7 470.2L504.8 472.1Z" fill="#00914e" stroke="#00914e"/><path d="M493.1 473.4L490.8 474.3L491.5 474.4Z" fill="#00a95e" stroke="#00a95e"/><path d="M493.1 473.4L494.6 474.4L495.4 474.3Z" fill="#00a75c" stroke="#00a75c"/><path d="M516.6 467.5L522.7 463.9L522.6 463L516.6 466.8Z" fill="#007f46" stroke="#007f46"/><path d="M493.1 473.4L491.5 474.4L492.3 474.4Z" fill="#00a85d" stroke="#00a85d"/><path d="M493.1 473.4L493.9 474.4L494.6 474.4Z" fill="#00a75c" stroke="#00a75c"/><path d="M463.6 463L457.6 458.4L457.6 459.4L463.6 463.8Z" fill="#00c5ad" stroke="#00c5ad"/><path d="M487.6 473.5L482.1 472.8L482.8 473.1L487.9 473.7Z" fill="#00ae6a" stroke="#00ae6a"/><path d="M493.1 473.4L492.3 474.4L493.1 474.4Z" fill="#00a75d" stroke="#00a75d"/><path d="M493.1 473.4L493.1 474.4L493.9 474.4Z" fill="#00a75c" stroke="#00a75c"/><path d="M498.2 473.7L503.4 473.2L504.1 472.8L498.5 473.5Z" fill="#009851" stroke="#009851"/><path d="M475.5 470.2L469.6 467.4L470 468.1L475.8 470.7Z" fill="#00bb8f" stroke="#00bb8f"/><path d="M451.6 453L448.3 449.5L451.5 453.9Z" fill="#00c2ba" stroke="#00c2ba"/><path d="M487.9 473.7L482.8 473.1L483.6 473.5L488.4 473.8Z" fill="#00a965" stroke="#00a965"/><path d="M481.6 472.4L475.8 470.7L476.5 471.2L482.1 472.8Z" fill="#00b37c" stroke="#00b37c"/><path d="M522.7 463.9L528.7 459.4L528.6 458.4L522.6 463Z" fill="#007340" stroke="#007340"/><path d="M497.8 473.8L502.6 473.5L503.4 473.2L498.2 473.7Z" fill="#00954e" stroke="#00954e"/><path d="M510.3 470.7L516.2 468.2L516.6 467.5L510.7 470.2Z" fill="#008245" stroke="#008245"/><path d="M504.1 472.8L509.7 471.3L510.3 470.7L504.5 472.5Z" fill="#008b48" stroke="#008b48"/><path d="M457.6 458.4L451.6 453L451.5 453.9L451.9 454.4L457.6 459.4Z" fill="#00c4b5" stroke="#00c4b5"/><path d="M488.4 473.8L483.6 473.5L484.6 473.7L488.9 474Z" fill="#00a460" stroke="#00a460"/><path d="M497.3 474L501.6 473.8L502.6 473.5L497.8 473.8Z" fill="#00924b" stroke="#00924b"/><path d="M469.6 467.4L463.6 463.8L464.1 464.7L470 468.1Z" fill="#00bb9a" stroke="#00bb9a"/><path d="M528.7 459.4L534.9 454L534.7 453L528.6 458.4Z" fill="#006a3e" stroke="#006a3e"/><path d="M488.9 474L484.6 473.7L485.8 474L489.5 474.1Z" fill="#00a05a" stroke="#00a05a"/><path d="M482.1 472.8L476.5 471.2L477.5 471.7L482.8 473.1Z" fill="#00ac74" stroke="#00ac74"/><path d="M496.7 474.1L500.4 474L501.6 473.8L497.3 474Z" fill="#009049" stroke="#009049"/><path d="M516.2 468.2L522.2 464.7L522.7 463.9L516.6 467.5Z" fill="#007641" stroke="#007641"/><path d="M475.8 470.7L470 468.1L470.9 468.8L476.5 471.2Z" fill="#00b286" stroke="#00b286"/><path d="M503.4 473.2L508.7 471.8L509.7 471.3L504.1 472.8Z" fill="#008646" stroke="#008646"/><path d="M489.5 474.1L485.8 474L487.1 474.2L490.1 474.2Z" fill="#009b55" stroke="#009b55"/><path d="M496.1 474.2L499.1 474.2L500.4 474L496.7 474.1Z" fill="#008f49" stroke="#008f49"/><path d="M509.7 471.3L515.4 468.9L516.2 468.2L510.3 470.7Z" fill="#007c43" stroke="#007c43"/><path d="M490.1 474.2L487.1 474.2L488.5 474.4L490.8 474.3Z" fill="#00974f" stroke="#00974f"/><path d="M463.6 463.8L457.6 459.4L458.1 460.3L464.1 464.7Z" fill="#00b8a2" stroke="#00b8a2"/><path d="M534.9 454L541.1 447.7L540.9 447.3L538.1 449.5L534.7 453Z" fill="#00623b" stroke="#00623b"/><path d="M495.4 474.3L497.7 474.4L499.1 474.2L496.1 474.2Z" fill="#008e49" stroke="#008e49"/><path d="M482.8 473.1L477.5 471.7L478.7 472.2L483.6 473.5Z" fill="#00a46c" stroke="#00a46c"/><path d="M490.8 474.3L488.5 474.4L490 474.5L491.5 474.4Z" fill="#00934b" stroke="#00934b"/><path d="M494.6 474.4L496.2 474.5L497.7 474.4L495.4 474.3Z" fill="#008e49" stroke="#008e49"/><path d="M491.5 474.4L490 474.5L491.5 474.6L492.3 474.4Z" fill="#00914a" stroke="#00914a"/><path d="M493.9 474.4L494.7 474.6L496.2 474.5L494.6 474.4Z" fill="#008e49" stroke="#008e49"/><path d="M502.6 473.5L507.5 472.2L508.7 471.8L503.4 473.2Z" fill="#008245" stroke="#008245"/><path d="M492.3 474.4L491.5 474.6L493.1 474.6L493.1 474.4Z" fill="#009049" stroke="#009049"/><path d="M493.1 474.4L493.1 474.6L494.7 474.6L493.9 474.4Z" fill="#008f49" stroke="#008f49"/><path d="M522.2 464.7L528.2 460.4L528.7 459.4L522.7 463.9Z" fill="#006b3e" stroke="#006b3e"/><path d="M470 468.1L464.1 464.7L465.1 465.5L470.9 468.8Z" fill="#00af8e" stroke="#00af8e"/><path d="M476.5 471.2L470.9 468.8L472.1 469.5L477.5 471.7Z" fill="#00a87c" stroke="#00a87c"/><path d="M457.6 459.4L451.9 454.4L455.1 457.8L458.1 460.3Z" fill="#00b6a8" stroke="#00b6a8"/><path d="M483.6 473.5L478.7 472.2L480.2 472.6L484.6 473.7Z" fill="#009c64" stroke="#009c64"/><path d="M501.6 473.8L506 472.7L507.5 472.2L502.6 473.5Z" fill="#007f44" stroke="#007f44"/><path d="M508.7 471.8L514.2 469.5L515.4 468.9L509.7 471.3Z" fill="#007741" stroke="#007741"/><path d="M515.4 468.9L521.2 465.5L522.2 464.7L516.2 468.2Z" fill="#006f3f" stroke="#006f3f"/><path d="M528.2 460.4L534.4 455.1L534.9 454L528.7 459.4Z" fill="#00603b" stroke="#00603b"/><path d="M541.1 447.7L544.2 444.4L544.2 444.4L540.9 447.3Z" fill="#005c3a" stroke="#005c3a"/><path d="M464.1 464.7L458.1 460.3L459.3 461.3L465.1 465.5Z" fill="#00ab95" stroke="#00ab95"/><path d="M521.2 465.5L527.1 461.3L528.2 460.4L522.2 464.7Z" fill="#00623c" stroke="#00623c"/><path d="M544.2 444.4L541.1 447.7L540.9 448.4Z" fill="#005137" stroke="#005137"/><path d="M534.4 455.1L537.9 451.7L540.9 448.4L541.1 447.7L534.9 454Z" fill="#005738" stroke="#005738"/></g>
<g opacity="0.80" stroke-width=".35" stroke-linejoin="round"><path d="M455.1 457.8L455.1 457.8L458 460.3L458 460.3L459.3 461.3L459.3 461.3L459.3 461.3L459.3 461.3L465.1 465.5L465.1 465.5L470.9 468.8L470.9 468.8L472.1 469.5L472.1 469.5L472.1 469.5L477.5 471.7L477.5 471.7L478.7 472.2L478.7 472.2L478.7 472.2L480.2 472.6L480.2 472.6L484.6 473.7L484.6 473.7L485.8 474L485.8 474L485.8 474L487.1 474.2L487.1 474.2L487.1 474.2L488.5 474.4L488.5 474.4L490 474.5L490 474.5L491.5 474.6L491.5 474.6L493.1 474.6L493.1 474.6L494.7 474.6L494.7 474.6L496.2 474.5L496.2 474.5L497.7 474.4L497.7 474.4L499.1 474.2L499.1 474.2L499.1 474.2L500.4 474L500.4 474L500.4 474L501.6 473.8L501.6 473.8L506 472.7L506 472.7L507.5 472.2L507.5 472.2L507.5 472.2L508.7 471.8L508.7 471.8L514.2 469.5L514.2 469.5L514.2 469.5L515.4 468.9L515.4 468.9L521.2 465.5L521.2 465.5L527.1 461.3L527.1 461.3L527.1 461.3L532.7 456.6L532.7 456.6L533.3 456.1L533.3 456.1L534.4 455.1L534.4 455.1L537.9 451.7L537.9 451.7L537.9 451.7L533.6 455.8L533.6 455.8L532.6 456.6L532.6 456.6L528.2 459.9L528.2 459.9L524.1 462.2L524.1 462.2L520.2 463.7L520.2 463.7L516.4 464.7L516.4 464.7L512.6 465.1L512.6 465.1L512.6 465.1L508.6 464.9L508.6 464.9L508.6 464.9L504.2 464L504.2 464L504.2 464L499.2 462.1L499.2 462.1L498.6 461.8L498.6 461.8L493.3 458.8L493.3 458.8L489.8 456.3L489.8 456.3L485.8 452.9L485.8 452.9L485.8 452.9L485.8 452.9L485.8 452.9L482.9 456.1L482.9 456.1L480.3 458.4L480.3 458.4L476.4 461.2L476.4 461.2L475.9 461.5L475.9 461.5L472.3 463.1L472.3 463.1L472.3 463.1L469.1 463.7L469.1 463.7L469.1 463.7L466.2 463.7L466.2 463.7L466.2 463.7L463.5 463.1L463.5 463.1L463.5 463.1L460.8 462L460.8 462L460.8 462L458.1 460.3L458.1 460.3L455.1 457.8Z" fill="#004768" fill-rule="evenodd"/><path d="M484.6 473.7L480.2 472.6L482 473L485.8 474Z" fill="#003538" stroke="#003538"/><path d="M500.4 474L504.3 473.1L506 472.7L501.6 473.8Z" fill="#004463" stroke="#004463"/><path d="M477.5 471.7L472.1 469.5L473.8 470.1L478.7 472.2Z" fill="#003435" stroke="#003435"/><path d="M485.8 474L482 473L484 473.4L487.1 474.2Z" fill="#00363c" stroke="#00363c"/><path d="M507.5 472.2L512.5 470.1L514.2 469.5L508.7 471.8Z" fill="#004c78" stroke="#004c78"/><path d="M499.1 474.2L502.3 473.4L504.3 473.1L500.4 474Z" fill="#004360" stroke="#004360"/><path d="M470.9 468.8L465.1 465.5L466.6 466.3L472.1 469.5Z" fill="#003333" stroke="#003333"/><path d="M487.1 474.2L484 473.4L486.1 473.6L488.5 474.4Z" fill="#003840" stroke="#003840"/><path d="M514.2 469.5L519.7 466.4L521.2 465.5L515.4 468.9Z" fill="#005288" stroke="#005288"/><path d="M497.7 474.4L500.2 473.6L502.3 473.4L499.1 474.2Z" fill="#00425d" stroke="#00425d"/><path d="M458.1 460.3L455.1 457.8L458 460.3L459.3 461.3Z" fill="#003333" stroke="#003333"/><path d="M478.7 472.2L473.8 470.1L475.8 470.7L480.2 472.6Z" fill="#00363c" stroke="#00363c"/><path d="M488.5 474.4L486.1 473.6L488.4 473.8L490 474.5Z" fill="#003943" stroke="#003943"/><path d="M496.2 474.5L497.9 473.8L500.2 473.6L497.7 474.4Z" fill="#004058" stroke="#004058"/><path d="M506 472.7L510.5 470.7L512.5 470.1L507.5 472.2Z" fill="#004c78" stroke="#004c78"/><path d="M490 474.5L488.4 473.8L490.7 473.9L491.5 474.6Z" fill="#003945" stroke="#003945"/><path d="M494.7 474.6L495.5 473.9L497.9 473.8L496.2 474.5Z" fill="#003f53" stroke="#003f53"/><path d="M491.5 474.6L490.7 473.9L493.1 474L493.1 474.6Z" fill="#003a47" stroke="#003a47"/><path d="M493.1 474.6L493.1 474L495.5 473.9L494.7 474.6Z" fill="#003c4d" stroke="#003c4d"/><path d="M472.1 469.5L466.6 466.3L468.7 467.1L473.8 470.1Z" fill="#00363b" stroke="#00363b"/><path d="M465.1 465.5L459.3 461.3L461.1 462.2L466.6 466.3Z" fill="#003437" stroke="#003437"/><path d="M480.2 472.6L475.8 470.7L478.1 471.2L482 473Z" fill="#003842" stroke="#003842"/><path d="M504.3 473.1L508.2 471.2L510.5 470.7L506 472.7Z" fill="#004b75" stroke="#004b75"/><path d="M512.5 470.1L517.7 467.1L519.7 466.4L514.2 469.5Z" fill="#005289" stroke="#005289"/><path d="M527.1 461.3L532.7 456.6L533.3 456.1L534.4 455.1L528.2 460.4Z" fill="#005a9e" stroke="#005a9e"/><path d="M519.7 466.4L525.3 462.3L527.1 461.3L521.2 465.5Z" fill="#005796" stroke="#005796"/><path d="M537.9 451.7L534.4 455.1L533.3 456.1Z" fill="#005da7" stroke="#005da7"/><path d="M482 473L478.1 471.2L480.8 471.6L484 473.4Z" fill="#003a47" stroke="#003a47"/><path d="M459.3 461.3L458 460.3L460.8 462L461.1 462.2Z" fill="#00363a" stroke="#00363a"/><path d="M502.3 473.4L505.6 471.6L508.2 471.2L504.3 473.1Z" fill="#004a72" stroke="#004a72"/><path d="M473.8 470.1L468.7 467.1L471.2 467.8L475.8 470.7Z" fill="#003943" stroke="#003943"/><path d="M484 473.4L480.8 471.6L483.6 472L486.1 473.6Z" fill="#003c4c" stroke="#003c4c"/><path d="M510.5 470.7L515.2 467.8L517.7 467.1L512.5 470.1Z" fill="#005188" stroke="#005188"/><path d="M500.2 473.6L502.7 472L505.6 471.6L502.3 473.4Z" fill="#00486d" stroke="#00486d"/><path d="M466.6 466.3L461.1 462.2L463.5 463.1L468.7 467.1Z" fill="#003840" stroke="#003840"/><path d="M525.3 462.3L528.2 459.9L532.7 456.6L527.1 461.3Z" fill="#005aa1" stroke="#005aa1"/><path d="M486.1 473.6L483.6 472L486.7 472.2L488.4 473.8Z" fill="#003d50" stroke="#003d50"/><path d="M497.9 473.8L499.6 472.2L502.7 472L500.2 473.6Z" fill="#004667" stroke="#004667"/><path d="M517.7 467.1L522.9 463.1L525.3 462.3L519.7 466.4Z" fill="#005796" stroke="#005796"/><path d="M488.4 473.8L486.7 472.2L489.9 472.4L490.7 473.9Z" fill="#003f53" stroke="#003f53"/><path d="M475.8 470.7L471.2 467.8L474.1 468.4L478.1 471.2Z" fill="#003b4b" stroke="#003b4b"/><path d="M495.5 473.9L496.4 472.4L499.6 472.2L497.9 473.8Z" fill="#004360" stroke="#004360"/><path d="M490.7 473.9L489.9 472.4L493.2 472.4L493.1 474Z" fill="#003f55" stroke="#003f55"/><path d="M493.1 474L493.2 472.4L496.4 472.4L495.5 473.9Z" fill="#004159" stroke="#004159"/><path d="M508.2 471.2L512.3 468.4L515.2 467.8L510.5 470.7Z" fill="#005085" stroke="#005085"/><path d="M461.1 462.2L460.8 462L463.5 463.1L463.5 463.1Z" fill="#003945" stroke="#003945"/><path d="M468.7 467.1L463.5 463.1L466.5 463.9L471.2 467.8Z" fill="#003b4a" stroke="#003b4a"/><path d="M478.1 471.2L474.1 468.4L477.5 468.9L480.8 471.6Z" fill="#003e51" stroke="#003e51"/><path d="M522.9 463.1L524.1 462.2L528.2 459.9L525.3 462.3Z" fill="#005ba1" stroke="#005ba1"/><path d="M505.6 471.6L508.9 468.9L512.3 468.4L508.2 471.2Z" fill="#004f81" stroke="#004f81"/><path d="M515.2 467.8L520 463.9L522.9 463.1L517.7 467.1Z" fill="#005695" stroke="#005695"/><path d="M480.8 471.6L477.5 468.9L481.1 469.4L483.6 472Z" fill="#004057" stroke="#004057"/><path d="M502.7 472L505.3 469.4L508.9 468.9L505.6 471.6Z" fill="#004d7b" stroke="#004d7b"/><path d="M463.5 463.1L463.5 463.1L466.2 463.7L466.5 463.9Z" fill="#003d4f" stroke="#003d4f"/><path d="M471.2 467.8L466.5 463.9L470 464.6L474.1 468.4Z" fill="#003e52" stroke="#003e52"/><path d="M483.6 472L481.1 469.4L485 469.7L486.7 472.2Z" fill="#00425c" stroke="#00425c"/><path d="M499.6 472.2L501.4 469.7L505.3 469.4L502.7 472Z" fill="#004a74" stroke="#004a74"/><path d="M520 463.9L520.2 463.7L524.1 462.2L522.9 463.1Z" fill="#005aa0" stroke="#005aa0"/><path d="M512.3 468.4L516.4 464.7L520 463.9L515.2 467.8Z" fill="#005592" stroke="#005592"/><path d="M486.7 472.2L485 469.7L489.1 469.9L489.9 472.4Z" fill="#00435f" stroke="#00435f"/><path d="M496.4 472.4L497.4 469.9L501.4 469.7L499.6 472.2Z" fill="#00476c" stroke="#00476c"/><path d="M489.9 472.4L489.1 469.9L493.2 469.9L493.2 472.4Z" fill="#004462" stroke="#004462"/><path d="M493.2 472.4L493.2 469.9L497.4 469.9L496.4 472.4Z" fill="#004564" stroke="#004564"/><path d="M474.1 468.4L470 464.6L474 465.3L477.5 468.9Z" fill="#004159" stroke="#004159"/><path d="M466.5 463.9L466.2 463.7L469.1 463.7L470 464.6Z" fill="#004058" stroke="#004058"/><path d="M508.9 468.9L512.4 465.3L516.4 464.7L512.3 468.4Z" fill="#00538d" stroke="#00538d"/><path d="M516.4 464.7L516.4 464.7L520.2 463.7L520 463.9Z" fill="#005c9e" stroke="#005c9e"/><path d="M477.5 468.9L474 465.3L478.5 465.8L481.1 469.4Z" fill="#004360" stroke="#004360"/><path d="M505.3 469.4L508 465.8L512.4 465.3L508.9 468.9Z" fill="#005187" stroke="#005187"/><path d="M512.4 465.3L512.6 465.1L516.4 464.7L516.4 464.7Z" fill="#005d99" stroke="#005d99"/><path d="M481.1 469.4L478.5 465.8L483.2 466.1L485 469.7Z" fill="#004565" stroke="#004565"/><path d="M470 464.6L469.1 463.7L472.3 463.1L474 465.3Z" fill="#004360" stroke="#004360"/><path d="M501.4 469.7L503.3 466.1L508 465.8L505.3 469.4Z" fill="#004e7e" stroke="#004e7e"/><path d="M485 469.7L483.2 466.1L488.2 466.3L489.1 469.9Z" fill="#00476a" stroke="#00476a"/><path d="M497.4 469.9L498.3 466.4L503.3 466.1L501.4 469.7Z" fill="#004b75" stroke="#004b75"/><path d="M489.1 469.9L488.2 466.3L493.2 466.4L493.2 469.9Z" fill="#00486d" stroke="#00486d"/><path d="M493.2 469.9L493.2 466.4L498.3 466.4L497.4 469.9Z" fill="#00486f" stroke="#00486f"/><path d="M508 465.8L508.6 464.9L512.6 465.1L512.4 465.3Z" fill="#005b92" stroke="#005b92"/><path d="M474 465.3L472.3 463.1L475.9 461.5L478.5 465.8Z" fill="#004667" stroke="#004667"/><path d="M503.3 466.1L504.2 464L508.6 464.9L508 465.8Z" fill="#005889" stroke="#005889"/><path d="M478.5 465.8L475.9 461.5L476.4 461.2L481.4 461.5L483.2 466.1Z" fill="#00486e" stroke="#00486e"/><path d="M498.3 466.4L499.2 462.1L504.2 464L503.3 466.1Z" fill="#00527f" stroke="#00527f"/><path d="M483.2 466.1L481.4 461.5L487.3 461.8L488.2 466.3Z" fill="#004a72" stroke="#004a72"/><path d="M488.2 466.3L487.3 461.8L493.3 461.9L493.2 466.4Z" fill="#004b76" stroke="#004b76"/><path d="M493.2 466.4L493.3 461.9L498.6 461.8L499.2 462.1L498.3 466.4Z" fill="#004e78" stroke="#004e78"/><path d="M480.3 458.4L481.4 461.5L476.4 461.2Z" fill="#004a74" stroke="#004a74"/><path d="M493.3 461.9L493.3 458.8L498.6 461.8Z" fill="#005a83" stroke="#005a83"/><path d="M481.4 461.5L480.3 458.4L482.9 456.1L486.3 456.1L487.3 461.8Z" fill="#004f7a" stroke="#004f7a"/><path d="M487.3 461.8L486.3 456.1L489.8 456.3L493.3 458.8L493.3 461.9Z" fill="#005580" stroke="#005580"/><path d="M485.8 452.9L486.3 456.1L482.9 456.1Z" fill="#005681" stroke="#005681"/><path d="M486.3 456.1L485.8 452.9L485.8 452.9L489.8 456.3Z" fill="#005c86" stroke="#005c86"/></g>
<path d="M512.3 468.4L513.8 468.1L515.2 467.8L516.5 467.5L517.7 467.1L518.7 466.7L519.7 466.4L520.5 466L521.2 465.5M465.1 465.5L465.8 465.9L466.6 466.3L467.6 466.7L468.7 467.1L469.9 467.4L471.2 467.8L472.6 468.1L474.1 468.4L475.7 468.7L477.5 468.9L479.2 469.1L481.1 469.4L483 469.5L485 469.7L487 469.8L489.1 469.9L491.1 469.9L493.2 469.9L495.3 469.9L497.4 469.9L499.4 469.8L501.4 469.7L503.4 469.5L505.3 469.4L507.2 469.2L508.9 468.9L510.6 468.7L512.3 468.4" class="c" stroke-opacity=".45"/>
<path d="M521.2 465.5L521.8 465.1L522.2 464.7L522.5 464.3L522.7 463.9L522.7 463.4L522.6 463L522.4 462.6L522.1 462.2L521.6 461.8L521 461.4L520.4 461L519.6 460.6L518.7 460.3L517.7 459.9L516.6 459.6L515.4 459.3L514.2 459L512.8 458.7L511.4 458.4L510 458.2L508.4 458L506.8 457.8L505.2 457.6L503.5 457.5L501.8 457.3L500.1 457.2L498.3 457.1L496.5 457.1L494.7 457L492.9 457L491.1 457L489.3 457.1L487.6 457.1L485.8 457.2L484.1 457.3L482.4 457.4L480.7 457.6L479.1 457.8L477.5 458L476 458.2L474.5 458.4L473.1 458.7L471.8 459L470.6 459.3L469.4 459.6L468.4 459.9L467.4 460.2L466.5 460.6L465.8 461L465.1 461.4L464.5 461.8L464.1 462.2L463.8 462.6L463.6 463L463.5 463.4L463.6 463.8L463.8 464.3L464.1 464.7L464.5 465.1L465.1 465.5" class="c"/>
<g opacity="0.80"><path d="M443.8 440.9L485.8 451.4L544.2 443.1L498.8 434.6Z" fill="#eb0068"/><path d="M512.5 446.1L514.5 445.8L516.3 445.5L517.9 445.1L519.4 444.7L520.5 444.3L521.5 443.9L522.2 443.5L522.7 443L523 442.6L523 442.2L522.8 441.7L522.4 441.3L521.7 440.9L520.9 440.5L519.8 440.1L518.6 439.8L517.2 439.4L515.7 439.1L513.9 438.8L512.1 438.5L510.1 438.3L508.1 438L505.9 437.9L503.6 437.7L501.3 437.6L499 437.5L496.6 437.4L494.2 437.4L491.7 437.4L489.3 437.4L486.9 437.5L484.6 437.6L482.3 437.7L480.1 437.9L477.9 438.1L475.9 438.3L473.9 438.5L472.1 438.8L470.4 439.1L468.9 439.4L467.5 439.8L466.3 440.1L465.3 440.5L464.5 440.9L463.8 441.3L463.4 441.8L463.3 442.2L463.3 442.6L463.6 443.1L464.1 443.5L464.8 443.9L465.8 444.3L467 444.7L468.4 445.1L470.1 445.5L471.9 445.8L474 446.1L476.1 446.4L478.5 446.6L481 446.9L483.6 447L486.3 447.2L489 447.2L491.8 447.3L494.6 447.3L497.4 447.2L500.2 447.2L502.9 447L505.5 446.9L507.9 446.6L510.3 446.4L512.5 446.1" class="c"/></g>
<g opacity="0.80"><path d="M443.4 419.8L485.8 427L544.7 421.2L498.8 415.4Z" fill="#000068"/><path d="M512.7 423.3L514.7 423.1L516.6 422.9L518.2 422.6L519.6 422.4L520.8 422.1L521.8 421.8L522.5 421.5L523 421.2L523.3 420.9L523.3 420.6L523.1 420.3L522.7 420L522 419.7L521.2 419.5L520.1 419.2L518.9 419L517.5 418.7L515.9 418.5L514.2 418.3L512.3 418.1L510.3 417.9L508.2 417.8L506 417.7L503.8 417.6L501.4 417.5L499 417.4L496.6 417.4L494.2 417.4L491.8 417.4L489.3 417.4L486.9 417.4L484.5 417.5L482.2 417.6L480 417.7L477.8 417.8L475.7 418L473.7 418.2L471.9 418.4L470.2 418.6L468.7 418.8L467.3 419L466.1 419.3L465 419.6L464.2 419.8L463.6 420.1L463.2 420.4L463 420.7L463 421L463.3 421.3L463.8 421.6L464.6 421.9L465.6 422.2L466.8 422.4L468.2 422.7L469.9 422.9L471.7 423.2L473.8 423.4L476 423.6L478.4 423.7L480.9 423.9L483.5 424L486.2 424.1L489 424.1L491.8 424.2L494.7 424.2L497.5 424.1L500.3 424.1L503 424L505.6 423.9L508.1 423.7L510.5 423.5L512.7 423.3" class="c"/></g>
<path d="M440.4 396.5L485.3 400.2M485.3 400.2L547.9 397.1M440.4 396.5L442.9 503.5M547.9 397.1L545.1 508.1M442.9 503.5L485.6 524.6M485.6 524.6L545.1 508.1M442.4 481.8L443.3 482.2M441.9 461.5L442.9 461.8M441.5 440.9L442.4 441.1M441 419.8L441.9 420M446.7 505.4L448.3 505.1M492.4 522.8L491.1 522.2M462.6 513.3L464.2 512.9M517.1 515.9L515.8 515.4M480.6 522.2L482.2 521.7M539.6 509.7L538.3 509.2" class="bx"/>
<path d="M499.1 394.2L498.8 491.2" class="vl"/>
<text x="439.5" y="425.8" class="t" text-anchor="end">4</text>
<text x="439.5" y="446.9" class="t" text-anchor="end">3</text>
<text x="439.5" y="467.8" class="t" text-anchor="end">2</text>
<text x="439.5" y="488.4" class="t" text-anchor="end">1</text>
<text x="424.7" y="458.9" class="t">E</text>
<text x="446.8" y="520.2" class="t" text-anchor="middle">−1</text>
<text x="463" y="527.7" class="t" text-anchor="middle">0</text>
<text x="481.2" y="536.4" class="t" text-anchor="middle">1</text>
<text x="491.7" y="536.8" class="t" text-anchor="middle">−1</text>
<text x="516.5" y="530.2" class="t" text-anchor="middle">0</text>
<text x="539.5" y="523.2" class="t" text-anchor="middle">1</text>
<text x="457.7" y="541.8" class="t"><tspan class="i">k</tspan><tspan class="sb" dy="2">1</tspan></text>
<text x="511.1" y="545.3" class="t"><tspan class="i">k</tspan><tspan class="sb" dy="2">2</tspan></text>
</g>
<g>
<path d="M635.9 393.4L635.6 490.4M681.9 507.3L635.6 490.4M577.2 395.7L635.9 393.4M635.9 393.4L684.7 396.3" class="bk"/>
<g opacity="0.80"><path d="M581.5 481.1L622.7 497.8L680 484.7L635.4 471.1Z" fill="#eb0000"/><path d="M648.8 489.5L650.8 489L652.6 488.4L654.2 487.9L655.6 487.3L656.8 486.6L657.7 486L658.4 485.3L658.9 484.6L659.1 483.9L659.2 483.2L659 482.5L658.6 481.9L657.9 481.2L657.1 480.6L656.1 480L654.9 479.4L653.5 478.8L652 478.3L650.3 477.8L648.5 477.4L646.6 477L644.5 476.6L642.4 476.3L640.2 476.1L638 475.8L635.6 475.7L633.3 475.6L630.9 475.5L628.5 475.5L626.2 475.6L623.8 475.7L621.5 475.8L619.3 476L617.1 476.3L614.9 476.6L612.9 476.9L611 477.3L609.2 477.8L607.6 478.2L606.1 478.8L604.7 479.3L603.6 479.9L602.6 480.5L601.8 481.1L601.2 481.8L600.8 482.5L600.6 483.1L600.7 483.8L600.9 484.5L601.4 485.2L602.2 485.9L603.1 486.5L604.3 487.2L605.7 487.8L607.3 488.4L609.1 488.9L611.1 489.4L613.3 489.9L615.6 490.2L618 490.6L620.5 490.9L623.2 491.1L625.9 491.2L628.6 491.3L631.4 491.3L634.1 491.2L636.8 491.1L639.4 490.9L642 490.6L644.4 490.3L646.7 489.9L648.8 489.5" class="c"/></g>
<g opacity="0.80"><path d="M581.1 460.8L622.7 474.5L680.5 463.7L635.5 452.6Z" fill="#00b368"/><path d="M649.1 467.6L651.1 467.2L652.9 466.8L654.5 466.3L655.9 465.8L657 465.3L658 464.7L658.7 464.2L659.2 463.6L659.5 463.1L659.5 462.5L659.3 461.9L658.9 461.4L658.2 460.9L657.4 460.3L656.4 459.8L655.2 459.3L653.8 458.9L652.2 458.5L650.5 458.1L648.7 457.7L646.8 457.4L644.7 457.1L642.6 456.9L640.3 456.7L638 456.5L635.7 456.4L633.3 456.3L630.9 456.2L628.5 456.2L626.1 456.3L623.8 456.4L621.4 456.5L619.2 456.6L617 456.9L614.8 457.1L612.8 457.4L610.9 457.7L609.1 458.1L607.4 458.5L605.9 458.9L604.5 459.3L603.3 459.8L602.3 460.3L601.5 460.8L600.9 461.4L600.5 461.9L600.3 462.5L600.4 463L600.7 463.6L601.2 464.2L601.9 464.7L602.9 465.3L604.1 465.8L605.5 466.3L607.1 466.7L608.9 467.2L610.9 467.6L613.1 468L615.4 468.3L617.9 468.6L620.5 468.8L623.1 468.9L625.9 469.1L628.6 469.1L631.4 469.1L634.2 469.1L636.9 469L639.5 468.8L642.1 468.6L644.6 468.3L646.9 468L649.1 467.6" class="c"/></g>
<g opacity="0.80"><path d="M580.6 440.1L622.6 450.6L681 442.3L635.6 433.8Z" fill="#eb0068"/><path d="M649.3 445.3L651.3 445L653.1 444.7L654.7 444.3L656.2 443.9L657.3 443.5L658.3 443.1L659 442.7L659.5 442.2L659.8 441.8L659.8 441.4L659.6 440.9L659.2 440.5L658.5 440.1L657.7 439.7L656.6 439.3L655.4 439L654 438.6L652.5 438.3L650.7 438L648.9 437.7L646.9 437.5L644.9 437.2L642.7 437.1L640.4 436.9L638.1 436.8L635.8 436.7L633.4 436.6L631 436.6L628.5 436.6L626.1 436.6L623.7 436.7L621.4 436.8L619.1 436.9L616.9 437.1L614.7 437.3L612.7 437.5L610.7 437.7L608.9 438L607.2 438.3L605.7 438.6L604.3 439L603.1 439.3L602.1 439.7L601.3 440.1L600.6 440.5L600.2 441L600.1 441.4L600.1 441.8L600.4 442.3L600.9 442.7L601.6 443.1L602.6 443.5L603.8 443.9L605.2 444.3L606.9 444.7L608.7 445L610.8 445.3L612.9 445.6L615.3 445.8L617.8 446.1L620.4 446.2L623.1 446.4L625.8 446.4L628.6 446.5L631.4 446.5L634.2 446.4L637 446.4L639.7 446.2L642.3 446.1L644.7 445.8L647.1 445.6L649.3 445.3" class="c"/></g>
<g opacity="0.80"><path d="M580.2 419L622.6 426.2L681.5 420.4L635.6 414.6Z" fill="#000068"/><path d="M649.5 422.5L651.5 422.3L653.4 422.1L655 421.8L656.4 421.6L657.6 421.3L658.6 421L659.3 420.7L659.8 420.4L660.1 420.1L660.1 419.8L659.9 419.5L659.5 419.2L658.8 418.9L658 418.7L656.9 418.4L655.7 418.2L654.3 417.9L652.7 417.7L651 417.5L649.1 417.3L647.1 417.1L645 417L642.8 416.9L640.6 416.8L638.2 416.7L635.8 416.6L633.4 416.6L631 416.6L628.6 416.6L626.1 416.6L623.7 416.6L621.3 416.7L619 416.8L616.8 416.9L614.6 417L612.5 417.2L610.5 417.4L608.7 417.6L607 417.8L605.5 418L604.1 418.2L602.9 418.5L601.8 418.8L601 419L600.4 419.3L600 419.6L599.8 419.9L599.8 420.2L600.1 420.5L600.6 420.8L601.4 421.1L602.4 421.4L603.6 421.6L605 421.9L606.7 422.1L608.5 422.4L610.6 422.6L612.8 422.8L615.2 422.9L617.7 423.1L620.3 423.2L623 423.3L625.8 423.3L628.6 423.4L631.5 423.4L634.3 423.3L637.1 423.3L639.8 423.2L642.4 423.1L644.9 422.9L647.3 422.7L649.5 422.5" class="c"/></g>
<path d="M577.2 395.7L622.1 399.4M622.1 399.4L684.7 396.3M577.2 395.7L579.7 502.7M684.7 396.3L681.9 507.3M579.7 502.7L622.4 523.8M622.4 523.8L681.9 507.3M579.2 481L580.1 481.4M578.7 460.7L579.7 461M578.3 440.1L579.2 440.3M577.8 419L578.7 419.2M583.5 504.6L585.1 504.3M629.2 522L627.9 521.4M599.4 512.5L601 512.1M653.9 515.1L652.6 514.6M617.4 521.4L619 520.9M676.4 508.9L675.1 508.4" class="bx"/>
<path d="M635.9 393.4L635.6 490.4" class="vl"/>
<text x="576.3" y="425" class="t" text-anchor="end">4</text>
<text x="576.3" y="446.1" class="t" text-anchor="end">3</text>
<text x="576.3" y="467" class="t" text-anchor="end">2</text>
<text x="576.3" y="487.6" class="t" text-anchor="end">1</text>
<text x="561.5" y="458.1" class="t">E</text>
<text x="583.6" y="519.4" class="t" text-anchor="middle">−1</text>
<text x="599.8" y="526.9" class="t" text-anchor="middle">0</text>
<text x="618" y="535.6" class="t" text-anchor="middle">1</text>
<text x="628.5" y="536" class="t" text-anchor="middle">−1</text>
<text x="653.3" y="529.4" class="t" text-anchor="middle">0</text>
<text x="676.3" y="522.4" class="t" text-anchor="middle">1</text>
<text x="594.5" y="541" class="t"><tspan class="i">k</tspan><tspan class="sb" dy="2">1</tspan></text>
<text x="647.9" y="544.5" class="t"><tspan class="i">k</tspan><tspan class="sb" dy="2">2</tspan></text>
</g>
<text class="tt"><tspan x="343" y="15.5">±</tspan><tspan x="353.3" y="15.5" class="i">q</tspan><tspan x="360.6" y="18.5" class="ts">12</tspan></text>
<text class="tt"><tspan x="479.3" y="15.5">±</tspan><tspan x="489.6" y="15.5" class="i">q</tspan><tspan x="496.9" y="18.5" class="ts">13</tspan></text>
<text class="tt"><tspan x="616.1" y="15.5">±</tspan><tspan x="626.4" y="15.5" class="i">q</tspan><tspan x="633.7" y="18.5" class="ts">14</tspan></text>
<text class="tt"><tspan x="343" y="190.5">±</tspan><tspan x="353.3" y="190.5" class="i">q</tspan><tspan x="360.6" y="193.5" class="ts">23</tspan></text>
<text class="tt"><tspan x="479.3" y="190.5">±</tspan><tspan x="489.6" y="190.5" class="i">q</tspan><tspan x="496.9" y="193.5" class="ts">24</tspan></text>
<text class="tt"><tspan x="616.1" y="190.5">±</tspan><tspan x="626.4" y="190.5" class="i">q</tspan><tspan x="633.7" y="193.5" class="ts">34</tspan></text>
<text class="tt"><tspan x="37.6" y="388.9" class="i">q</tspan><tspan x="46.2" y="391.9" class="ts">1234</tspan><tspan x="74.3" y="388.9">=</tspan><tspan x="88.9" y="388.9" class="i">q</tspan><tspan x="96.5" y="391.9" class="ts">12</tspan><tspan x="113" y="388.9" class="i">q</tspan><tspan x="120.6" y="391.9" class="ts">34</tspan></text>
<text class="tt"><tspan x="169.5" y="388.9" class="i">q</tspan><tspan x="178.6" y="391.9" class="ts">1234</tspan><tspan x="206.1" y="388.9">=</tspan><tspan x="219.8" y="388.9">−</tspan><tspan x="229.8" y="388.9" class="i">q</tspan><tspan x="237.4" y="391.9" class="ts">13</tspan><tspan x="253.2" y="388.9" class="i">q</tspan><tspan x="260.6" y="391.9" class="ts">24</tspan></text>
<text class="tt"><tspan x="311.5" y="388.9" class="i">q</tspan><tspan x="320.1" y="391.9" class="ts">1234</tspan><tspan x="346.3" y="388.9">=</tspan><tspan x="361.6" y="388.9" class="i">q</tspan><tspan x="369.8" y="391.9" class="ts">14</tspan><tspan x="385.2" y="388.9" class="i">q</tspan><tspan x="393" y="391.9" class="ts">23</tspan></text>
<text class="tt"><tspan x="470.2" y="389.6">−1</tspan><tspan x="486.4" y="389.6">=</tspan><tspan x="497.8" y="389.6" class="i">q</tspan><tspan x="506.4" y="392.6" class="ts">12</tspan><tspan x="506.4" y="382.6" class="ts">2</tspan></text>
<text class="tt"><tspan x="622.2" y="389.3">+1</tspan></text>
<text x="14.5" y="7.9" class="pl">a</text>
<text x="286.6" y="7.9" class="pl">b</text>
<text x="14.6" y="381.6" class="pl">c</text>
<text x="423.4" y="381.8" class="pl">d</text>
<text x="559.2" y="382.1" class="pl">e</text>
</svg></body></html>
